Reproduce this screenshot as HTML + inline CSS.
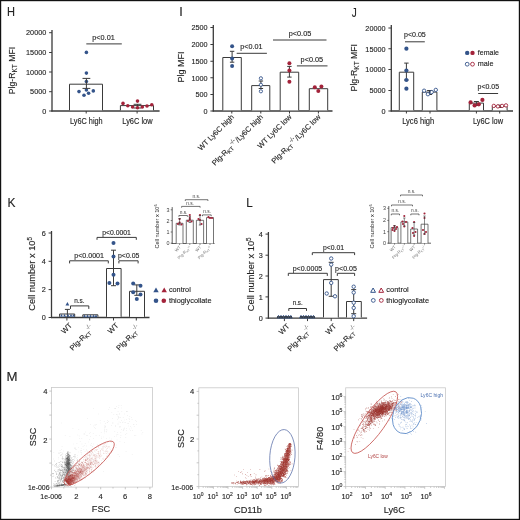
<!DOCTYPE html><html><head><meta charset="utf-8"><style>html,body{margin:0;padding:0;background:#fff;width:520px;height:520px;overflow:hidden}svg{display:block;will-change:transform}text[fill="#222"]{stroke:#222;stroke-width:0.22px;stroke-opacity:0.55}</style></head><body><svg width="520" height="520" viewBox="0 0 520 520" font-family='"Liberation Sans", sans-serif'>
<rect x="0" y="0" width="520" height="520" fill="#fff"/>
<text x="7" y="16.4" font-size="12.6" text-anchor="start" fill="#222" textLength="8" lengthAdjust="spacingAndGlyphs">H</text>
<line x1="52" y1="30" x2="52" y2="111.6" stroke="#3a3a3a" stroke-width="1.3"/>
<line x1="49.1" y1="32.7" x2="52" y2="32.7" stroke="#3a3a3a" stroke-width="1"/>
<text x="46.3" y="35.47" font-size="7.7" text-anchor="end" fill="#222" textLength="20.25" lengthAdjust="spacingAndGlyphs">20000</text>
<line x1="49.1" y1="52.5" x2="52" y2="52.5" stroke="#3a3a3a" stroke-width="1"/>
<text x="46.3" y="55.27" font-size="7.7" text-anchor="end" fill="#222" textLength="20.25" lengthAdjust="spacingAndGlyphs">15000</text>
<line x1="49.1" y1="72" x2="52" y2="72" stroke="#3a3a3a" stroke-width="1"/>
<text x="46.3" y="74.77" font-size="7.7" text-anchor="end" fill="#222" textLength="20.25" lengthAdjust="spacingAndGlyphs">10000</text>
<line x1="49.1" y1="91.7" x2="52" y2="91.7" stroke="#3a3a3a" stroke-width="1"/>
<text x="46.3" y="94.47" font-size="7.7" text-anchor="end" fill="#222" textLength="16.2" lengthAdjust="spacingAndGlyphs">5000</text>
<line x1="49.1" y1="111" x2="52" y2="111" stroke="#3a3a3a" stroke-width="1"/>
<text x="46.3" y="113.77" font-size="7.7" text-anchor="end" fill="#222" textLength="4.05" lengthAdjust="spacingAndGlyphs">0</text>
<line x1="51.4" y1="111" x2="159.6" y2="111" stroke="#3a3a3a" stroke-width="1.3"/>
<line x1="86.2" y1="111" x2="86.2" y2="113.5" stroke="#3a3a3a" stroke-width="1"/>
<line x1="137.1" y1="111" x2="137.1" y2="113.5" stroke="#3a3a3a" stroke-width="1"/>
<path d="M69.5 110.35V84.2H102.5V110.35" fill="#fff" stroke="#3a3a3a" stroke-width="1"/>
<path d="M120.4 110.35V105.6H153.5V110.35" fill="#fff" stroke="#3a3a3a" stroke-width="1"/>
<circle cx="86.4" cy="52.4" r="1.8" fill="#34548a"/>
<circle cx="86.4" cy="73.1" r="1.8" fill="#34548a"/>
<circle cx="86.4" cy="81.5" r="1.8" fill="#34548a"/>
<circle cx="79" cy="91.6" r="1.8" fill="#34548a"/>
<circle cx="84" cy="95.3" r="1.8" fill="#34548a"/>
<circle cx="88.6" cy="93.2" r="1.8" fill="#34548a"/>
<circle cx="93.3" cy="90.9" r="1.8" fill="#34548a"/>
<circle cx="86.4" cy="90" r="1.8" fill="#34548a"/>
<line x1="86.4" y1="78.4" x2="86.4" y2="88.4" stroke="#3a3a3a" stroke-width="1"/>
<line x1="82.5" y1="78.4" x2="90.3" y2="78.4" stroke="#3a3a3a" stroke-width="1"/>
<line x1="82.5" y1="88.4" x2="90.3" y2="88.4" stroke="#3a3a3a" stroke-width="1"/>
<line x1="137.5" y1="104.3" x2="137.5" y2="108" stroke="#3a3a3a" stroke-width="1"/>
<line x1="133.6" y1="104.3" x2="141.4" y2="104.3" stroke="#3a3a3a" stroke-width="1"/>
<line x1="133.6" y1="108" x2="141.4" y2="108" stroke="#3a3a3a" stroke-width="1"/>
<circle cx="123" cy="103.4" r="1.8" fill="#a3233a"/>
<circle cx="127.8" cy="105.8" r="1.8" fill="#a3233a"/>
<circle cx="132.6" cy="107" r="1.8" fill="#a3233a"/>
<circle cx="137.5" cy="101.1" r="1.8" fill="#a3233a"/>
<circle cx="137.5" cy="107.7" r="1.8" fill="#a3233a"/>
<circle cx="142.3" cy="107" r="1.8" fill="#a3233a"/>
<circle cx="147" cy="106" r="1.8" fill="#a3233a"/>
<circle cx="151.8" cy="104.7" r="1.8" fill="#a3233a"/>
<line x1="86.3" y1="43.9" x2="121.8" y2="43.9" stroke="#3a3a3a" stroke-width="1"/>
<text x="103.5" y="39.8" font-size="7.2" text-anchor="middle" fill="#222" textLength="22.5" lengthAdjust="spacingAndGlyphs">p&lt;0.01</text>
<text x="70" y="124.4" font-size="8.6" text-anchor="start" fill="#222" textLength="32.7" lengthAdjust="spacingAndGlyphs">Ly6C high</text>
<text x="122.3" y="124.4" font-size="8.6" text-anchor="start" fill="#222" textLength="30.2" lengthAdjust="spacingAndGlyphs">Ly6C low</text>
<text transform="translate(14.8 94.2) rotate(-90)" font-size="8.7" fill="#222">Plg-R<tspan font-size="6.5" dy="2.4">KT</tspan><tspan dy="-2.4"> MFI</tspan></text>
<text x="179.3" y="16.3" font-size="12.6" text-anchor="start" fill="#222">I</text>
<line x1="213.3" y1="25" x2="213.3" y2="111.6" stroke="#3a3a3a" stroke-width="1.3"/>
<line x1="210.4" y1="27.5" x2="213.3" y2="27.5" stroke="#3a3a3a" stroke-width="1"/>
<text x="207.6" y="30.27" font-size="7.7" text-anchor="end" fill="#222" textLength="16.2" lengthAdjust="spacingAndGlyphs">2500</text>
<line x1="210.4" y1="44.5" x2="213.3" y2="44.5" stroke="#3a3a3a" stroke-width="1"/>
<text x="207.6" y="47.27" font-size="7.7" text-anchor="end" fill="#222" textLength="16.2" lengthAdjust="spacingAndGlyphs">2000</text>
<line x1="210.4" y1="61.25" x2="213.3" y2="61.25" stroke="#3a3a3a" stroke-width="1"/>
<text x="207.6" y="64.02" font-size="7.7" text-anchor="end" fill="#222" textLength="16.2" lengthAdjust="spacingAndGlyphs">1500</text>
<line x1="210.4" y1="77.75" x2="213.3" y2="77.75" stroke="#3a3a3a" stroke-width="1"/>
<text x="207.6" y="80.52" font-size="7.7" text-anchor="end" fill="#222" textLength="16.2" lengthAdjust="spacingAndGlyphs">1000</text>
<line x1="210.4" y1="94.5" x2="213.3" y2="94.5" stroke="#3a3a3a" stroke-width="1"/>
<text x="207.6" y="97.27" font-size="7.7" text-anchor="end" fill="#222" textLength="12.15" lengthAdjust="spacingAndGlyphs">500</text>
<line x1="210.4" y1="111" x2="213.3" y2="111" stroke="#3a3a3a" stroke-width="1"/>
<text x="207.6" y="113.77" font-size="7.7" text-anchor="end" fill="#222" textLength="4.05" lengthAdjust="spacingAndGlyphs">0</text>
<line x1="212.7" y1="111" x2="332.5" y2="111" stroke="#3a3a3a" stroke-width="1.3"/>
<line x1="231.8" y1="111" x2="231.8" y2="113.5" stroke="#3a3a3a" stroke-width="1"/>
<line x1="260.8" y1="111" x2="260.8" y2="113.5" stroke="#3a3a3a" stroke-width="1"/>
<line x1="289.5" y1="111" x2="289.5" y2="113.5" stroke="#3a3a3a" stroke-width="1"/>
<line x1="318.4" y1="111" x2="318.4" y2="113.5" stroke="#3a3a3a" stroke-width="1"/>
<path d="M222.8 110.35V57.5H241.3V110.35" fill="#fff" stroke="#3a3a3a" stroke-width="1"/>
<path d="M251.7 110.35V85.6H269.8V110.35" fill="#fff" stroke="#3a3a3a" stroke-width="1"/>
<path d="M280.2 110.35V72.2H298.7V110.35" fill="#fff" stroke="#3a3a3a" stroke-width="1"/>
<path d="M309.3 110.35V88.7H327.7V110.35" fill="#fff" stroke="#3a3a3a" stroke-width="1"/>
<line x1="232.1" y1="51.3" x2="232.1" y2="62.2" stroke="#3a3a3a" stroke-width="1"/>
<line x1="229.9" y1="51.3" x2="234.3" y2="51.3" stroke="#3a3a3a" stroke-width="1"/>
<line x1="229.9" y1="62.2" x2="234.3" y2="62.2" stroke="#3a3a3a" stroke-width="1"/>
<line x1="260.9" y1="81" x2="260.9" y2="88.5" stroke="#3a3a3a" stroke-width="1"/>
<line x1="258.7" y1="81" x2="263.1" y2="81" stroke="#3a3a3a" stroke-width="1"/>
<line x1="258.7" y1="88.5" x2="263.1" y2="88.5" stroke="#3a3a3a" stroke-width="1"/>
<line x1="289.4" y1="66.4" x2="289.4" y2="77.1" stroke="#3a3a3a" stroke-width="1"/>
<line x1="287.2" y1="66.4" x2="291.6" y2="66.4" stroke="#3a3a3a" stroke-width="1"/>
<line x1="287.2" y1="77.1" x2="291.6" y2="77.1" stroke="#3a3a3a" stroke-width="1"/>
<circle cx="232.1" cy="46.3" r="2" fill="#34548a"/>
<circle cx="232.1" cy="58.5" r="2" fill="#34548a"/>
<circle cx="232.1" cy="66" r="2" fill="#34548a"/>
<circle cx="260.9" cy="78.3" r="1.6" fill="#fff" stroke="#34548a" stroke-width="0.9"/>
<circle cx="260.9" cy="84.8" r="1.6" fill="#fff" stroke="#34548a" stroke-width="0.9"/>
<circle cx="260.9" cy="91.3" r="1.6" fill="#fff" stroke="#34548a" stroke-width="0.9"/>
<circle cx="289.4" cy="63.3" r="2" fill="#a3233a"/>
<circle cx="289.4" cy="70.5" r="2" fill="#a3233a"/>
<circle cx="289.4" cy="81.7" r="2" fill="#a3233a"/>
<circle cx="314.8" cy="87.2" r="2" fill="#a3233a"/>
<circle cx="321.4" cy="86.5" r="2" fill="#a3233a"/>
<circle cx="318.3" cy="91" r="2" fill="#a3233a"/>
<line x1="236.7" y1="53.3" x2="266.9" y2="53.3" stroke="#3a3a3a" stroke-width="1"/>
<text x="251.4" y="49" font-size="7.2" text-anchor="middle" fill="#222" textLength="22.3" lengthAdjust="spacingAndGlyphs">p&lt;0.01</text>
<line x1="273" y1="40" x2="326.5" y2="40" stroke="#3a3a3a" stroke-width="1"/>
<text x="300" y="35.8" font-size="7.2" text-anchor="middle" fill="#222" textLength="22.6" lengthAdjust="spacingAndGlyphs">p&lt;0.05</text>
<line x1="296.9" y1="65.9" x2="327.5" y2="65.9" stroke="#3a3a3a" stroke-width="1"/>
<text x="311.9" y="61.8" font-size="7.2" text-anchor="middle" fill="#222" textLength="22.6" lengthAdjust="spacingAndGlyphs">p&lt;0.05</text>
<text transform="translate(183.5 82.5) rotate(-90)" font-size="9" fill="#222">Plg MFI</text>
<text transform="translate(234.5 117.5) rotate(-45)" font-size="7.55" fill="#222" text-anchor="end">WT Ly6C high</text>
<text transform="translate(263.5 117.5) rotate(-45)" font-size="7.55" fill="#222" text-anchor="end">Plg-R<tspan font-size="5.6" dy="1.6">KT</tspan><tspan font-size="5.8" dy="-4.8" dx="0.8" fill="#777">-/-</tspan><tspan dy="3.2" dx="0.6">/Ly6C high</tspan></text>
<text transform="translate(292 117.5) rotate(-45)" font-size="7.55" fill="#222" text-anchor="end">WT Ly6C low</text>
<text transform="translate(321 117.5) rotate(-45)" font-size="7.55" fill="#222" text-anchor="end">Plg-R<tspan font-size="5.6" dy="1.6">KT</tspan><tspan font-size="5.8" dy="-4.8" dx="0.8" fill="#777">-/-</tspan><tspan dy="3.2" dx="0.6">/Ly6C low</tspan></text>
<text x="351.7" y="16.8" font-size="12.6" text-anchor="start" fill="#222" textLength="5" lengthAdjust="spacingAndGlyphs">J</text>
<line x1="391.3" y1="25" x2="391.3" y2="111.6" stroke="#3a3a3a" stroke-width="1.3"/>
<line x1="388.4" y1="28" x2="391.3" y2="28" stroke="#3a3a3a" stroke-width="1"/>
<text x="385.6" y="30.77" font-size="7.7" text-anchor="end" fill="#222" textLength="20.25" lengthAdjust="spacingAndGlyphs">20000</text>
<line x1="388.4" y1="48.75" x2="391.3" y2="48.75" stroke="#3a3a3a" stroke-width="1"/>
<text x="385.6" y="51.52" font-size="7.7" text-anchor="end" fill="#222" textLength="20.25" lengthAdjust="spacingAndGlyphs">15000</text>
<line x1="388.4" y1="69.5" x2="391.3" y2="69.5" stroke="#3a3a3a" stroke-width="1"/>
<text x="385.6" y="72.27" font-size="7.7" text-anchor="end" fill="#222" textLength="20.25" lengthAdjust="spacingAndGlyphs">10000</text>
<line x1="388.4" y1="90.5" x2="391.3" y2="90.5" stroke="#3a3a3a" stroke-width="1"/>
<text x="385.6" y="93.27" font-size="7.7" text-anchor="end" fill="#222" textLength="16.2" lengthAdjust="spacingAndGlyphs">5000</text>
<line x1="388.4" y1="111" x2="391.3" y2="111" stroke="#3a3a3a" stroke-width="1"/>
<text x="385.6" y="113.77" font-size="7.7" text-anchor="end" fill="#222" textLength="4.05" lengthAdjust="spacingAndGlyphs">0</text>
<line x1="390.7" y1="111" x2="513" y2="111" stroke="#3a3a3a" stroke-width="1.3"/>
<line x1="406.4" y1="111" x2="406.4" y2="113.5" stroke="#3a3a3a" stroke-width="1"/>
<line x1="430" y1="111" x2="430" y2="113.5" stroke="#3a3a3a" stroke-width="1"/>
<line x1="476.4" y1="111" x2="476.4" y2="113.5" stroke="#3a3a3a" stroke-width="1"/>
<line x1="499.7" y1="111" x2="499.7" y2="113.5" stroke="#3a3a3a" stroke-width="1"/>
<path d="M399.3 110.35V72.2H413.7V110.35" fill="#fff" stroke="#3a3a3a" stroke-width="1"/>
<path d="M422.3 110.35V92.1H436.9V110.35" fill="#fff" stroke="#3a3a3a" stroke-width="1"/>
<path d="M469.3 110.35V103.1H483.5V110.35" fill="#fff" stroke="#3a3a3a" stroke-width="1"/>
<path d="M492.3 110.35V106.4H507.1V110.35" fill="#fff" stroke="#3a3a3a" stroke-width="1"/>
<line x1="406.4" y1="63.1" x2="406.4" y2="80" stroke="#3a3a3a" stroke-width="1"/>
<line x1="404.2" y1="63.1" x2="408.6" y2="63.1" stroke="#3a3a3a" stroke-width="1"/>
<line x1="404.2" y1="80" x2="408.6" y2="80" stroke="#3a3a3a" stroke-width="1"/>
<line x1="429.6" y1="90.5" x2="429.6" y2="94.5" stroke="#3a3a3a" stroke-width="1"/>
<line x1="427.1" y1="90.5" x2="432.1" y2="90.5" stroke="#3a3a3a" stroke-width="1"/>
<line x1="427.1" y1="94.5" x2="432.1" y2="94.5" stroke="#3a3a3a" stroke-width="1"/>
<line x1="476.4" y1="101.5" x2="476.4" y2="105.5" stroke="#3a3a3a" stroke-width="1"/>
<line x1="473.9" y1="101.5" x2="478.9" y2="101.5" stroke="#3a3a3a" stroke-width="1"/>
<line x1="473.9" y1="105.5" x2="478.9" y2="105.5" stroke="#3a3a3a" stroke-width="1"/>
<line x1="499.7" y1="105.2" x2="499.7" y2="107.5" stroke="#3a3a3a" stroke-width="1"/>
<line x1="497.2" y1="105.2" x2="502.2" y2="105.2" stroke="#3a3a3a" stroke-width="1"/>
<line x1="497.2" y1="107.5" x2="502.2" y2="107.5" stroke="#3a3a3a" stroke-width="1"/>
<circle cx="406.4" cy="48.7" r="2.1" fill="#34548a"/>
<circle cx="406.4" cy="70.5" r="2.1" fill="#34548a"/>
<circle cx="406.4" cy="80" r="2.1" fill="#34548a"/>
<circle cx="406.4" cy="88.7" r="2.1" fill="#34548a"/>
<circle cx="424.1" cy="90.7" r="1.7" fill="#fff" stroke="#34548a" stroke-width="0.9"/>
<circle cx="427.9" cy="94.2" r="1.7" fill="#fff" stroke="#34548a" stroke-width="0.9"/>
<circle cx="431.7" cy="92.1" r="1.7" fill="#fff" stroke="#34548a" stroke-width="0.9"/>
<circle cx="435.8" cy="89.9" r="1.7" fill="#fff" stroke="#34548a" stroke-width="0.9"/>
<circle cx="470.6" cy="102.4" r="2.1" fill="#a3233a"/>
<circle cx="474.6" cy="105.4" r="2.1" fill="#a3233a"/>
<circle cx="478.8" cy="104.3" r="2.1" fill="#a3233a"/>
<circle cx="482.4" cy="99.9" r="2.1" fill="#a3233a"/>
<circle cx="493.8" cy="105.9" r="1.7" fill="#fff" stroke="#a3233a" stroke-width="0.9"/>
<circle cx="497.9" cy="106.4" r="1.7" fill="#fff" stroke="#a3233a" stroke-width="0.9"/>
<circle cx="502.1" cy="105.9" r="1.7" fill="#fff" stroke="#a3233a" stroke-width="0.9"/>
<circle cx="506" cy="105.4" r="1.7" fill="#fff" stroke="#a3233a" stroke-width="0.9"/>
<line x1="405" y1="41.8" x2="424.8" y2="41.8" stroke="#3a3a3a" stroke-width="1"/>
<text x="414.9" y="37.1" font-size="7.2" text-anchor="middle" fill="#222" textLength="21.8" lengthAdjust="spacingAndGlyphs">p&lt;0.05</text>
<line x1="478.2" y1="93.5" x2="498.1" y2="93.5" stroke="#3a3a3a" stroke-width="1"/>
<text x="488.3" y="89" font-size="7.2" text-anchor="middle" fill="#222" textLength="21.6" lengthAdjust="spacingAndGlyphs">p&lt;0.05</text>
<text x="418.2" y="124.4" font-size="8.6" text-anchor="middle" fill="#222" textLength="32" lengthAdjust="spacingAndGlyphs">Lyc6 high</text>
<text x="488" y="124.4" font-size="8.6" text-anchor="middle" fill="#222" textLength="30.2" lengthAdjust="spacingAndGlyphs">Ly6C low</text>
<text transform="translate(357 91.4) rotate(-90)" font-size="8.7" fill="#222">Plg-R<tspan font-size="6.5" dy="2.4">KT</tspan><tspan dy="-2.4"> MFI</tspan></text>
<circle cx="467.2" cy="52.9" r="2.2" fill="#34548a"/>
<circle cx="472.5" cy="52.9" r="2.2" fill="#a3233a"/>
<text x="477.8" y="54.9" font-size="7.8" text-anchor="start" fill="#222" textLength="21.1" lengthAdjust="spacingAndGlyphs">female</text>
<circle cx="467.2" cy="64.2" r="1.9" fill="#fff" stroke="#34548a" stroke-width="0.9"/>
<circle cx="472.5" cy="64.2" r="1.9" fill="#fff" stroke="#a3233a" stroke-width="0.9"/>
<text x="477.8" y="66.3" font-size="7.8" text-anchor="start" fill="#222" textLength="15.7" lengthAdjust="spacingAndGlyphs">male</text>
<text x="7.6" y="206.8" font-size="12.8" text-anchor="start" fill="#222" textLength="8" lengthAdjust="spacingAndGlyphs">K</text>
<line x1="51.5" y1="231" x2="51.5" y2="318.1" stroke="#3a3a3a" stroke-width="1.3"/>
<line x1="48.6" y1="233" x2="51.5" y2="233" stroke="#3a3a3a" stroke-width="1"/>
<text x="45.8" y="235.77" font-size="7.7" text-anchor="end" fill="#222" textLength="4.05" lengthAdjust="spacingAndGlyphs">6</text>
<line x1="48.6" y1="261.3" x2="51.5" y2="261.3" stroke="#3a3a3a" stroke-width="1"/>
<text x="45.8" y="264.07" font-size="7.7" text-anchor="end" fill="#222" textLength="4.05" lengthAdjust="spacingAndGlyphs">4</text>
<line x1="48.6" y1="289.6" x2="51.5" y2="289.6" stroke="#3a3a3a" stroke-width="1"/>
<text x="45.8" y="292.37" font-size="7.7" text-anchor="end" fill="#222" textLength="4.05" lengthAdjust="spacingAndGlyphs">2</text>
<line x1="48.6" y1="317.5" x2="51.5" y2="317.5" stroke="#3a3a3a" stroke-width="1"/>
<text x="45.8" y="320.27" font-size="7.7" text-anchor="end" fill="#222" textLength="4.05" lengthAdjust="spacingAndGlyphs">0</text>
<line x1="50.9" y1="317.5" x2="149.5" y2="317.5" stroke="#3a3a3a" stroke-width="1.3"/>
<line x1="66.9" y1="317.5" x2="66.9" y2="320.5" stroke="#3a3a3a" stroke-width="1"/>
<line x1="89.7" y1="317.5" x2="89.7" y2="320.5" stroke="#3a3a3a" stroke-width="1"/>
<line x1="113.5" y1="317.5" x2="113.5" y2="320.5" stroke="#3a3a3a" stroke-width="1"/>
<line x1="136.3" y1="317.5" x2="136.3" y2="320.5" stroke="#3a3a3a" stroke-width="1"/>
<path d="M59.6 316.85V314H74.7V316.85" fill="#fff" stroke="#3a3a3a" stroke-width="1"/>
<path d="M82.8 316.85V314.8H97.9V316.85" fill="#fff" stroke="#3a3a3a" stroke-width="1"/>
<path d="M106.5 316.85V268.5H121.1V316.85" fill="#fff" stroke="#3a3a3a" stroke-width="1"/>
<path d="M129.5 316.85V291.3H144.5V316.85" fill="#fff" stroke="#3a3a3a" stroke-width="1"/>
<line x1="67.4" y1="309.4" x2="67.4" y2="317" stroke="#3a3a3a" stroke-width="1"/>
<line x1="64.9" y1="309.4" x2="69.9" y2="309.4" stroke="#3a3a3a" stroke-width="1"/>
<line x1="64.9" y1="317" x2="69.9" y2="317" stroke="#3a3a3a" stroke-width="1"/>
<line x1="113.5" y1="250.2" x2="113.5" y2="285.7" stroke="#3a3a3a" stroke-width="1"/>
<line x1="111" y1="250.2" x2="116" y2="250.2" stroke="#3a3a3a" stroke-width="1"/>
<line x1="111" y1="285.7" x2="116" y2="285.7" stroke="#3a3a3a" stroke-width="1"/>
<line x1="136.8" y1="284.9" x2="136.8" y2="295.3" stroke="#3a3a3a" stroke-width="1"/>
<line x1="134.3" y1="284.9" x2="139.3" y2="284.9" stroke="#3a3a3a" stroke-width="1"/>
<line x1="134.3" y1="295.3" x2="139.3" y2="295.3" stroke="#3a3a3a" stroke-width="1"/>
<circle cx="113.5" cy="242.9" r="2" fill="#34548a"/>
<circle cx="113.5" cy="256.4" r="2" fill="#34548a"/>
<circle cx="113.5" cy="274.7" r="2" fill="#34548a"/>
<circle cx="109.4" cy="283.1" r="2" fill="#34548a"/>
<circle cx="117.5" cy="283.5" r="2" fill="#34548a"/>
<circle cx="133.2" cy="283.5" r="2" fill="#34548a"/>
<circle cx="140.5" cy="285.8" r="2" fill="#34548a"/>
<circle cx="133.2" cy="292.2" r="2" fill="#34548a"/>
<circle cx="140.5" cy="294.4" r="2" fill="#34548a"/>
<circle cx="136.8" cy="299" r="2" fill="#34548a"/>
<polygon points="67.4,302.1 69.3,305.52 65.5,305.52" fill="#34548a"/>
<polygon points="61.5,314 63,316.7 60,316.7" fill="#34548a"/>
<polygon points="64.5,314 66,316.7 63,316.7" fill="#34548a"/>
<polygon points="68,314 69.5,316.7 66.5,316.7" fill="#34548a"/>
<polygon points="71,314 72.5,316.7 69.5,316.7" fill="#34548a"/>
<polygon points="73.5,314 75,316.7 72,316.7" fill="#34548a"/>
<polygon points="84.5,314.5 86,317.2 83,317.2" fill="#34548a"/>
<polygon points="87.5,314.5 89,317.2 86,317.2" fill="#34548a"/>
<polygon points="90.5,314.5 92,317.2 89,317.2" fill="#34548a"/>
<polygon points="93.5,314.5 95,317.2 92,317.2" fill="#34548a"/>
<polygon points="96,314.5 97.5,317.2 94.5,317.2" fill="#34548a"/>
<path d="M97 239.8V237.4H136.3V239.8" fill="none" stroke="#3a3a3a" stroke-width="1"/>
<text x="116.5" y="234.5" font-size="7.4" text-anchor="middle" fill="#222" textLength="28.7" lengthAdjust="spacingAndGlyphs">p&lt;0.0001</text>
<path d="M69.6 263.4V260.8H108.3V263.4" fill="none" stroke="#3a3a3a" stroke-width="1"/>
<text x="89.1" y="257.9" font-size="7.4" text-anchor="middle" fill="#222" textLength="29.8" lengthAdjust="spacingAndGlyphs">p&lt;0.0001</text>
<path d="M118.9 263.4V260.8H138.1V263.4" fill="none" stroke="#3a3a3a" stroke-width="1"/>
<text x="128.7" y="257.9" font-size="7.4" text-anchor="middle" fill="#222" textLength="21.4" lengthAdjust="spacingAndGlyphs">p&lt;0.05</text>
<path d="M70.5 308.9V305.9H88.8V308.9" fill="none" stroke="#3a3a3a" stroke-width="1"/>
<text x="79.4" y="303.2" font-size="7.4" text-anchor="middle" fill="#222" textLength="10.4" lengthAdjust="spacingAndGlyphs">n.s.</text>
<text transform="translate(35.2 310.8) rotate(-90)" font-size="9.3" fill="#222">Cell number x 10<tspan font-size="6.3" dy="-3.5">5</tspan></text>
<text transform="translate(72.5 326) rotate(-45)" font-size="7.6" fill="#222" text-anchor="end">WT</text>
<text transform="translate(119.1 326) rotate(-45)" font-size="7.6" fill="#222" text-anchor="end">WT</text>
<text transform="translate(89.7 328.3) rotate(-45)" font-size="6.2" fill="#666" text-anchor="middle">-/-</text>
<text transform="translate(91 332.8) rotate(-45)" font-size="7.5" fill="#222" text-anchor="end">Plg-R<tspan font-size="5.5" dy="1.5">KT</tspan></text>
<text transform="translate(136.3 328.3) rotate(-45)" font-size="6.2" fill="#666" text-anchor="middle">-/-</text>
<text transform="translate(137.6 332.8) rotate(-45)" font-size="7.5" fill="#222" text-anchor="end">Plg-R<tspan font-size="5.5" dy="1.5">KT</tspan></text>
<polygon points="156,287.5 158.7,292.36 153.3,292.36" fill="#34548a"/>
<polygon points="164.2,287.5 166.9,292.36 161.5,292.36" fill="#a3233a"/>
<text x="168.9" y="292" font-size="8" text-anchor="start" fill="#222" textLength="21.9" lengthAdjust="spacingAndGlyphs">control</text>
<circle cx="156" cy="300.8" r="2.3" fill="#34548a"/>
<circle cx="163.8" cy="300.8" r="2.3" fill="#a3233a"/>
<text x="168.9" y="303" font-size="8" text-anchor="start" fill="#222" textLength="42.6" lengthAdjust="spacingAndGlyphs">thioglycollate</text>
<line x1="170.7" y1="209.8" x2="172.2" y2="209.8" stroke="#3a3a3a" stroke-width="0.7"/>
<text x="167.9" y="211.7" font-size="5.4" text-anchor="middle" fill="#3a3a3a">3</text>
<line x1="170.7" y1="220.6" x2="172.2" y2="220.6" stroke="#3a3a3a" stroke-width="0.7"/>
<text x="167.9" y="222.5" font-size="5.4" text-anchor="middle" fill="#3a3a3a">2</text>
<line x1="170.7" y1="232" x2="172.2" y2="232" stroke="#3a3a3a" stroke-width="0.7"/>
<text x="167.9" y="233.9" font-size="5.4" text-anchor="middle" fill="#3a3a3a">1</text>
<line x1="170.7" y1="243.2" x2="172.2" y2="243.2" stroke="#3a3a3a" stroke-width="0.7"/>
<text x="167.9" y="245.1" font-size="5.4" text-anchor="middle" fill="#3a3a3a">0</text>
<line x1="172.2" y1="207.1" x2="172.2" y2="243.85" stroke="#3a3a3a" stroke-width="0.8"/>
<line x1="171.85" y1="243.5" x2="214.5" y2="243.5" stroke="#3a3a3a" stroke-width="0.8"/>
<path d="M176.2 243.5V223.3H183V243.5" fill="#fff" stroke="#3a3a3a" stroke-width="0.7"/>
<line x1="179.6" y1="243.5" x2="179.6" y2="245" stroke="#3a3a3a" stroke-width="0.6"/>
<path d="M186.3 243.5V220.2H193.3V243.5" fill="#fff" stroke="#3a3a3a" stroke-width="0.7"/>
<line x1="189.8" y1="243.5" x2="189.8" y2="245" stroke="#3a3a3a" stroke-width="0.6"/>
<path d="M196.4 243.5V220.3H203.6V243.5" fill="#fff" stroke="#3a3a3a" stroke-width="0.7"/>
<line x1="200" y1="243.5" x2="200" y2="245" stroke="#3a3a3a" stroke-width="0.6"/>
<path d="M206.5 243.5V217.6H213.5V243.5" fill="#fff" stroke="#3a3a3a" stroke-width="0.7"/>
<line x1="210" y1="243.5" x2="210" y2="245" stroke="#3a3a3a" stroke-width="0.6"/>
<circle cx="179.6" cy="222.5" r="1.1" fill="#a3233a"/>
<circle cx="178" cy="224" r="1.1" fill="#a3233a"/>
<circle cx="181.5" cy="224.5" r="1.1" fill="#a3233a"/>
<circle cx="179.6" cy="219" r="1.1" fill="#a3233a"/>
<line x1="179.6" y1="218.5" x2="179.6" y2="225" stroke="#3a3a3a" stroke-width="0.6"/>
<line x1="178.4" y1="218.5" x2="180.8" y2="218.5" stroke="#3a3a3a" stroke-width="0.6"/>
<line x1="178.4" y1="225" x2="180.8" y2="225" stroke="#3a3a3a" stroke-width="0.6"/>
<circle cx="189.8" cy="219.5" r="1.1" fill="#a3233a"/>
<circle cx="188" cy="221" r="1.1" fill="#a3233a"/>
<circle cx="191.5" cy="221.5" r="1.1" fill="#a3233a"/>
<circle cx="189.8" cy="215" r="1.1" fill="#a3233a"/>
<circle cx="189.8" cy="218" r="1.1" fill="#a3233a"/>
<line x1="189.8" y1="216.5" x2="189.8" y2="222.5" stroke="#3a3a3a" stroke-width="0.6"/>
<line x1="188.6" y1="216.5" x2="191" y2="216.5" stroke="#3a3a3a" stroke-width="0.6"/>
<line x1="188.6" y1="222.5" x2="191" y2="222.5" stroke="#3a3a3a" stroke-width="0.6"/>
<circle cx="200" cy="215" r="1.1" fill="#a3233a"/>
<circle cx="198.5" cy="219" r="1.1" fill="#a3233a"/>
<circle cx="201.5" cy="224" r="1.1" fill="#a3233a"/>
<circle cx="200" cy="220" r="1.1" fill="#a3233a"/>
<line x1="200" y1="215.5" x2="200" y2="225" stroke="#3a3a3a" stroke-width="0.6"/>
<line x1="198.8" y1="215.5" x2="201.2" y2="215.5" stroke="#3a3a3a" stroke-width="0.6"/>
<line x1="198.8" y1="225" x2="201.2" y2="225" stroke="#3a3a3a" stroke-width="0.6"/>
<circle cx="208.5" cy="217.2" r="1.1" fill="#a3233a"/>
<circle cx="210" cy="218" r="1.1" fill="#a3233a"/>
<circle cx="212" cy="218" r="1.1" fill="#a3233a"/>
<path d="M185.3 201V199.7H207.9V201" fill="none" stroke="#3a3a3a" stroke-width="0.7"/>
<text x="196.4" y="197.5" font-size="4.8" text-anchor="middle" fill="#444">n.s.</text>
<path d="M181.6 207.7V206.4H200.1V207.7" fill="none" stroke="#3a3a3a" stroke-width="0.7"/>
<text x="190.1" y="204.9" font-size="4.8" text-anchor="middle" fill="#444">n.s.</text>
<path d="M178.9 216.8V215.5H187.4V216.8" fill="none" stroke="#3a3a3a" stroke-width="0.7"/>
<text x="183.6" y="213.5" font-size="4.8" text-anchor="middle" fill="#444">n.s.</text>
<path d="M202.5 216.2V214.9H211.2V216.2" fill="none" stroke="#3a3a3a" stroke-width="0.7"/>
<text x="207.2" y="213.1" font-size="4.8" text-anchor="middle" fill="#444">n.s.</text>
<text transform="translate(159 248.5) rotate(-90)" font-size="5.6" fill="#2a2a2a" textLength="44" lengthAdjust="spacingAndGlyphs">Cell number x 10<tspan font-size="3.8" dy="-2">6</tspan></text>
<text transform="translate(181.1 247.5) rotate(-45)" font-size="4.2" fill="#777" text-anchor="end">WT</text>
<text transform="translate(191.3 247.5) rotate(-45)" font-size="4.2" fill="#777" text-anchor="end">Plg-R<tspan font-size="3" dy="1">KT</tspan><tspan font-size="3" dy="-2.5">-/-</tspan></text>
<text transform="translate(201.5 247.5) rotate(-45)" font-size="4.2" fill="#777" text-anchor="end">WT</text>
<text transform="translate(211.5 247.5) rotate(-45)" font-size="4.2" fill="#777" text-anchor="end">Plg-R<tspan font-size="3" dy="1">KT</tspan><tspan font-size="3" dy="-2.5">-/-</tspan></text>
<text x="246.2" y="207.2" font-size="12.8" text-anchor="start" fill="#222" textLength="6.5" lengthAdjust="spacingAndGlyphs">L</text>
<line x1="268.4" y1="232" x2="268.4" y2="318.7" stroke="#3a3a3a" stroke-width="1.3"/>
<line x1="265.5" y1="234.1" x2="268.4" y2="234.1" stroke="#3a3a3a" stroke-width="1"/>
<text x="262.7" y="236.87" font-size="7.7" text-anchor="end" fill="#222" textLength="4.05" lengthAdjust="spacingAndGlyphs">4</text>
<line x1="265.5" y1="255.2" x2="268.4" y2="255.2" stroke="#3a3a3a" stroke-width="1"/>
<text x="262.7" y="257.97" font-size="7.7" text-anchor="end" fill="#222" textLength="4.05" lengthAdjust="spacingAndGlyphs">3</text>
<line x1="265.5" y1="276" x2="268.4" y2="276" stroke="#3a3a3a" stroke-width="1"/>
<text x="262.7" y="278.77" font-size="7.7" text-anchor="end" fill="#222" textLength="4.05" lengthAdjust="spacingAndGlyphs">2</text>
<line x1="265.5" y1="296.9" x2="268.4" y2="296.9" stroke="#3a3a3a" stroke-width="1"/>
<text x="262.7" y="299.67" font-size="7.7" text-anchor="end" fill="#222" textLength="4.05" lengthAdjust="spacingAndGlyphs">1</text>
<line x1="265.5" y1="318.1" x2="268.4" y2="318.1" stroke="#3a3a3a" stroke-width="1"/>
<text x="262.7" y="320.87" font-size="7.7" text-anchor="end" fill="#222" textLength="4.05" lengthAdjust="spacingAndGlyphs">0</text>
<line x1="267.8" y1="318.1" x2="367.1" y2="318.1" stroke="#3a3a3a" stroke-width="1.3"/>
<line x1="284.4" y1="318.1" x2="284.4" y2="321.1" stroke="#3a3a3a" stroke-width="1"/>
<line x1="307.5" y1="318.1" x2="307.5" y2="321.1" stroke="#3a3a3a" stroke-width="1"/>
<line x1="331.2" y1="318.1" x2="331.2" y2="321.1" stroke="#3a3a3a" stroke-width="1"/>
<line x1="353.7" y1="318.1" x2="353.7" y2="321.1" stroke="#3a3a3a" stroke-width="1"/>
<path d="M323.5 317.45V279.6H338.3V317.45" fill="#fff" stroke="#3a3a3a" stroke-width="1"/>
<path d="M346.5 317.45V301.5H361.3V317.45" fill="#fff" stroke="#3a3a3a" stroke-width="1"/>
<line x1="331.2" y1="262.3" x2="331.2" y2="296.3" stroke="#3a3a3a" stroke-width="1"/>
<line x1="328.7" y1="262.3" x2="333.7" y2="262.3" stroke="#3a3a3a" stroke-width="1"/>
<line x1="328.7" y1="296.3" x2="333.7" y2="296.3" stroke="#3a3a3a" stroke-width="1"/>
<line x1="353.7" y1="289.6" x2="353.7" y2="313.7" stroke="#3a3a3a" stroke-width="1"/>
<line x1="351.2" y1="289.6" x2="356.2" y2="289.6" stroke="#3a3a3a" stroke-width="1"/>
<line x1="351.2" y1="313.7" x2="356.2" y2="313.7" stroke="#3a3a3a" stroke-width="1"/>
<circle cx="331.2" cy="258.5" r="1.7" fill="#fff" stroke="#34548a" stroke-width="0.9"/>
<circle cx="331.2" cy="264.6" r="1.7" fill="#fff" stroke="#34548a" stroke-width="0.9"/>
<circle cx="331.2" cy="282.9" r="1.7" fill="#fff" stroke="#34548a" stroke-width="0.9"/>
<circle cx="326.7" cy="293.5" r="1.7" fill="#fff" stroke="#34548a" stroke-width="0.9"/>
<circle cx="335" cy="296.3" r="1.7" fill="#fff" stroke="#34548a" stroke-width="0.9"/>
<circle cx="353.7" cy="286.7" r="1.7" fill="#fff" stroke="#34548a" stroke-width="0.9"/>
<circle cx="353.7" cy="292.5" r="1.7" fill="#fff" stroke="#34548a" stroke-width="0.9"/>
<circle cx="353.7" cy="302.7" r="1.7" fill="#fff" stroke="#34548a" stroke-width="0.9"/>
<circle cx="353.7" cy="307.9" r="1.7" fill="#fff" stroke="#34548a" stroke-width="0.9"/>
<circle cx="353.7" cy="316.2" r="1.7" fill="#fff" stroke="#34548a" stroke-width="0.9"/>
<polygon points="278.5,315.4 279.9,317.92 277.1,317.92" fill="#fff" stroke="#34548a" stroke-width="1"/>
<polygon points="281,315.4 282.4,317.92 279.6,317.92" fill="#fff" stroke="#34548a" stroke-width="1"/>
<polygon points="283.5,315.4 284.9,317.92 282.1,317.92" fill="#fff" stroke="#34548a" stroke-width="1"/>
<polygon points="286,315.4 287.4,317.92 284.6,317.92" fill="#fff" stroke="#34548a" stroke-width="1"/>
<polygon points="288.5,315.4 289.9,317.92 287.1,317.92" fill="#fff" stroke="#34548a" stroke-width="1"/>
<polygon points="290.8,315.4 292.2,317.92 289.4,317.92" fill="#fff" stroke="#34548a" stroke-width="1"/>
<polygon points="301,315.4 302.4,317.92 299.6,317.92" fill="#fff" stroke="#34548a" stroke-width="1"/>
<polygon points="303.5,315.4 304.9,317.92 302.1,317.92" fill="#fff" stroke="#34548a" stroke-width="1"/>
<polygon points="306,315.4 307.4,317.92 304.6,317.92" fill="#fff" stroke="#34548a" stroke-width="1"/>
<polygon points="308.5,315.4 309.9,317.92 307.1,317.92" fill="#fff" stroke="#34548a" stroke-width="1"/>
<polygon points="311,315.4 312.4,317.92 309.6,317.92" fill="#fff" stroke="#34548a" stroke-width="1"/>
<polygon points="313.5,315.4 314.9,317.92 312.1,317.92" fill="#fff" stroke="#34548a" stroke-width="1"/>
<line x1="277" y1="317" x2="292" y2="317" stroke="#222" stroke-width="1.2"/>
<line x1="300" y1="317" x2="315" y2="317" stroke="#222" stroke-width="1.2"/>
<path d="M312.3 255.1V252.7H354.6V255.1" fill="none" stroke="#3a3a3a" stroke-width="1"/>
<text x="333.5" y="249.6" font-size="7.4" text-anchor="middle" fill="#222" textLength="21.1" lengthAdjust="spacingAndGlyphs">p&lt;0.01</text>
<path d="M288.3 275.9V273.3H327.3V275.9" fill="none" stroke="#3a3a3a" stroke-width="1"/>
<text x="307.5" y="270.8" font-size="7.4" text-anchor="middle" fill="#222" textLength="29.6" lengthAdjust="spacingAndGlyphs">p&lt;0.0005</text>
<path d="M337.3 275.9V273.3H354.6V275.9" fill="none" stroke="#3a3a3a" stroke-width="1"/>
<text x="346" y="270.8" font-size="7.4" text-anchor="middle" fill="#222" textLength="21.9" lengthAdjust="spacingAndGlyphs">p&lt;0.05</text>
<path d="M288.8 310.9V308.5H306.5V310.9" fill="none" stroke="#3a3a3a" stroke-width="1"/>
<text x="297.7" y="305.4" font-size="7.4" text-anchor="middle" fill="#222" textLength="10" lengthAdjust="spacingAndGlyphs">n.s.</text>
<text transform="translate(254 311.2) rotate(-90)" font-size="9.3" fill="#222">Cell number x 10<tspan font-size="6.3" dy="-3.5">5</tspan></text>
<text transform="translate(290 326.6) rotate(-45)" font-size="7.6" fill="#222" text-anchor="end">WT</text>
<text transform="translate(336.8 326.6) rotate(-45)" font-size="7.6" fill="#222" text-anchor="end">WT</text>
<text transform="translate(307.5 328.9) rotate(-45)" font-size="6.2" fill="#666" text-anchor="middle">-/-</text>
<text transform="translate(308.8 333.4) rotate(-45)" font-size="7.5" fill="#222" text-anchor="end">Plg-R<tspan font-size="5.5" dy="1.5">KT</tspan></text>
<text transform="translate(353.7 328.9) rotate(-45)" font-size="6.2" fill="#666" text-anchor="middle">-/-</text>
<text transform="translate(355 333.4) rotate(-45)" font-size="7.5" fill="#222" text-anchor="end">Plg-R<tspan font-size="5.5" dy="1.5">KT</tspan></text>
<polygon points="373.1,288 375.5,292.32 370.7,292.32" fill="#fff" stroke="#34548a" stroke-width="1"/>
<polygon points="381.2,288 383.6,292.32 378.8,292.32" fill="#fff" stroke="#a3233a" stroke-width="1"/>
<text x="386.3" y="292.1" font-size="8" text-anchor="start" fill="#222" textLength="22.4" lengthAdjust="spacingAndGlyphs">control</text>
<circle cx="373.3" cy="300.4" r="1.9" fill="#fff" stroke="#34548a" stroke-width="0.9"/>
<circle cx="381.3" cy="300.4" r="1.9" fill="#fff" stroke="#a3233a" stroke-width="0.9"/>
<text x="386.3" y="302.7" font-size="8" text-anchor="start" fill="#222" textLength="42.7" lengthAdjust="spacingAndGlyphs">thioglycollate</text>
<line x1="387.3" y1="208.3" x2="388.8" y2="208.3" stroke="#3a3a3a" stroke-width="0.7"/>
<text x="384.5" y="210.2" font-size="5.4" text-anchor="middle" fill="#3a3a3a">3</text>
<line x1="387.3" y1="220.4" x2="388.8" y2="220.4" stroke="#3a3a3a" stroke-width="0.7"/>
<text x="384.5" y="222.3" font-size="5.4" text-anchor="middle" fill="#3a3a3a">2</text>
<line x1="387.3" y1="231.7" x2="388.8" y2="231.7" stroke="#3a3a3a" stroke-width="0.7"/>
<text x="384.5" y="233.6" font-size="5.4" text-anchor="middle" fill="#3a3a3a">1</text>
<line x1="387.3" y1="243.2" x2="388.8" y2="243.2" stroke="#3a3a3a" stroke-width="0.7"/>
<text x="384.5" y="245.1" font-size="5.4" text-anchor="middle" fill="#3a3a3a">0</text>
<line x1="388.8" y1="206" x2="388.8" y2="243.55" stroke="#3a3a3a" stroke-width="0.8"/>
<line x1="388.45" y1="243.2" x2="431" y2="243.2" stroke="#3a3a3a" stroke-width="0.8"/>
<path d="M391.1 243.2V227.6H398V243.2" fill="#fff" stroke="#3a3a3a" stroke-width="0.7"/>
<line x1="394.55" y1="243.2" x2="394.55" y2="244.7" stroke="#3a3a3a" stroke-width="0.6"/>
<path d="M400.9 243.2V221.9H407.8V243.2" fill="#fff" stroke="#3a3a3a" stroke-width="0.7"/>
<line x1="404.35" y1="243.2" x2="404.35" y2="244.7" stroke="#3a3a3a" stroke-width="0.6"/>
<path d="M410.7 243.2V229H417.6V243.2" fill="#fff" stroke="#3a3a3a" stroke-width="0.7"/>
<line x1="414.15" y1="243.2" x2="414.15" y2="244.7" stroke="#3a3a3a" stroke-width="0.6"/>
<path d="M421.1 243.2V224.2H428V243.2" fill="#fff" stroke="#3a3a3a" stroke-width="0.7"/>
<line x1="424.55" y1="243.2" x2="424.55" y2="244.7" stroke="#3a3a3a" stroke-width="0.6"/>
<circle cx="394.5" cy="226" r="1.05" fill="#a3233a"/>
<circle cx="393" cy="228" r="1.05" fill="#a3233a"/>
<circle cx="396" cy="229" r="1.05" fill="#a3233a"/>
<circle cx="394.5" cy="231" r="1.05" fill="#a3233a"/>
<circle cx="392.5" cy="230" r="1.05" fill="#a3233a"/>
<circle cx="397" cy="227" r="1.05" fill="#a3233a"/>
<line x1="394.5" y1="225.5" x2="394.5" y2="230" stroke="#3a3a3a" stroke-width="0.6"/>
<line x1="393.3" y1="225.5" x2="395.7" y2="225.5" stroke="#3a3a3a" stroke-width="0.6"/>
<line x1="393.3" y1="230" x2="395.7" y2="230" stroke="#3a3a3a" stroke-width="0.6"/>
<circle cx="404.3" cy="216" r="1.05" fill="#a3233a"/>
<circle cx="402.5" cy="221.5" r="1.05" fill="#a3233a"/>
<circle cx="406" cy="222" r="1.05" fill="#a3233a"/>
<circle cx="404.3" cy="226.5" r="1.05" fill="#a3233a"/>
<circle cx="403" cy="224" r="1.05" fill="#a3233a"/>
<line x1="404.3" y1="218" x2="404.3" y2="226" stroke="#3a3a3a" stroke-width="0.6"/>
<line x1="403.1" y1="218" x2="405.5" y2="218" stroke="#3a3a3a" stroke-width="0.6"/>
<line x1="403.1" y1="226" x2="405.5" y2="226" stroke="#3a3a3a" stroke-width="0.6"/>
<circle cx="414.1" cy="222" r="1.05" fill="#a3233a"/>
<circle cx="412.5" cy="228" r="1.05" fill="#a3233a"/>
<circle cx="415.5" cy="232" r="1.05" fill="#a3233a"/>
<circle cx="414.1" cy="236" r="1.05" fill="#a3233a"/>
<circle cx="413" cy="233" r="1.05" fill="#a3233a"/>
<line x1="414.1" y1="222.5" x2="414.1" y2="235" stroke="#3a3a3a" stroke-width="0.6"/>
<line x1="412.9" y1="222.5" x2="415.3" y2="222.5" stroke="#3a3a3a" stroke-width="0.6"/>
<line x1="412.9" y1="235" x2="415.3" y2="235" stroke="#3a3a3a" stroke-width="0.6"/>
<circle cx="424.5" cy="213.5" r="1.05" fill="#a3233a"/>
<circle cx="424.5" cy="218" r="1.05" fill="#a3233a"/>
<circle cx="423" cy="230" r="1.05" fill="#a3233a"/>
<circle cx="426" cy="232" r="1.05" fill="#a3233a"/>
<circle cx="424.5" cy="234" r="1.05" fill="#a3233a"/>
<line x1="424.5" y1="216" x2="424.5" y2="234" stroke="#3a3a3a" stroke-width="0.6"/>
<line x1="423.3" y1="216" x2="425.7" y2="216" stroke="#3a3a3a" stroke-width="0.6"/>
<line x1="423.3" y1="234" x2="425.7" y2="234" stroke="#3a3a3a" stroke-width="0.6"/>
<path d="M400.5 196.3V195H422.5V196.3" fill="none" stroke="#3a3a3a" stroke-width="0.7"/>
<text x="411.5" y="192.5" font-size="4.8" text-anchor="middle" fill="#444">n.s.</text>
<path d="M391.5 206.3V205H412.5V206.3" fill="none" stroke="#3a3a3a" stroke-width="0.7"/>
<text x="402" y="202.5" font-size="4.8" text-anchor="middle" fill="#444">n.s.</text>
<path d="M391.3 215.3V214H399.5V215.3" fill="none" stroke="#3a3a3a" stroke-width="0.7"/>
<text x="395.4" y="212" font-size="4.8" text-anchor="middle" fill="#444">n.s.</text>
<path d="M410.8 215.3V214H419V215.3" fill="none" stroke="#3a3a3a" stroke-width="0.7"/>
<text x="414.9" y="212" font-size="4.8" text-anchor="middle" fill="#444">n.s.</text>
<text transform="translate(374 248.5) rotate(-90)" font-size="5.6" fill="#2a2a2a" textLength="44" lengthAdjust="spacingAndGlyphs">Cell number x 10<tspan font-size="3.8" dy="-2">6</tspan></text>
<text transform="translate(396 247.2) rotate(-45)" font-size="4.2" fill="#777" text-anchor="end">WT</text>
<text transform="translate(405.8 247.2) rotate(-45)" font-size="4.2" fill="#777" text-anchor="end">Plg-R<tspan font-size="3" dy="1">KT</tspan><tspan font-size="3" dy="-2.5">-/-</tspan></text>
<text transform="translate(415.6 247.2) rotate(-45)" font-size="4.2" fill="#777" text-anchor="end">WT</text>
<text transform="translate(426 247.2) rotate(-45)" font-size="4.2" fill="#777" text-anchor="end">Plg-R<tspan font-size="3" dy="1">KT</tspan><tspan font-size="3" dy="-2.5">-/-</tspan></text>
<text x="6.6" y="381" font-size="12.4" text-anchor="start" fill="#222" textLength="11" lengthAdjust="spacingAndGlyphs">M</text>
<path d="M67.6 464.0h0.6v0.6h-0.6zM68.7 461.5h0.6v0.6h-0.6zM68.6 461.3h0.6v0.6h-0.6zM67.7 464.6h0.6v0.6h-0.6zM65.8 456.6h0.6v0.6h-0.6zM67.1 453.9h0.6v0.6h-0.6zM68.2 464.9h0.6v0.6h-0.6zM65.6 464.6h0.6v0.6h-0.6zM68.0 459.6h0.6v0.6h-0.6zM68.3 468.9h0.6v0.6h-0.6zM67.2 464.4h0.6v0.6h-0.6zM70.2 455.5h0.6v0.6h-0.6zM67.1 475.0h0.6v0.6h-0.6zM67.5 467.2h0.6v0.6h-0.6zM66.5 467.7h0.6v0.6h-0.6zM67.6 461.5h0.6v0.6h-0.6zM67.6 462.9h0.6v0.6h-0.6zM69.8 459.6h0.6v0.6h-0.6zM69.8 463.5h0.6v0.6h-0.6zM68.7 462.0h0.6v0.6h-0.6zM68.8 462.3h0.6v0.6h-0.6zM66.7 457.9h0.6v0.6h-0.6zM67.1 467.6h0.6v0.6h-0.6zM67.7 469.8h0.6v0.6h-0.6zM66.4 465.9h0.6v0.6h-0.6zM68.8 459.1h0.6v0.6h-0.6zM68.7 460.6h0.6v0.6h-0.6zM68.4 462.9h0.6v0.6h-0.6zM67.6 463.6h0.6v0.6h-0.6zM68.0 459.3h0.6v0.6h-0.6zM67.8 460.7h0.6v0.6h-0.6zM68.6 466.0h0.6v0.6h-0.6zM71.1 468.2h0.6v0.6h-0.6zM68.9 455.5h0.6v0.6h-0.6zM66.7 462.5h0.6v0.6h-0.6zM66.1 461.0h0.6v0.6h-0.6zM65.7 457.0h0.6v0.6h-0.6zM67.8 464.1h0.6v0.6h-0.6zM66.4 464.0h0.6v0.6h-0.6zM69.3 459.6h0.6v0.6h-0.6zM67.7 465.9h0.6v0.6h-0.6zM67.8 460.5h0.6v0.6h-0.6zM65.7 464.4h0.6v0.6h-0.6zM69.5 463.2h0.6v0.6h-0.6zM69.0 461.2h0.6v0.6h-0.6zM68.1 461.2h0.6v0.6h-0.6zM68.5 464.1h0.6v0.6h-0.6zM67.6 460.9h0.6v0.6h-0.6zM67.9 463.2h0.6v0.6h-0.6zM68.7 469.1h0.6v0.6h-0.6zM69.3 468.7h0.6v0.6h-0.6zM68.8 472.2h0.6v0.6h-0.6zM66.3 458.4h0.6v0.6h-0.6zM68.1 452.4h0.6v0.6h-0.6zM67.9 464.2h0.6v0.6h-0.6zM69.0 458.7h0.6v0.6h-0.6zM69.2 466.2h0.6v0.6h-0.6zM69.4 459.1h0.6v0.6h-0.6zM66.5 465.9h0.6v0.6h-0.6zM67.5 463.5h0.6v0.6h-0.6zM68.4 468.1h0.6v0.6h-0.6zM67.9 470.4h0.6v0.6h-0.6zM67.9 453.2h0.6v0.6h-0.6zM68.2 457.6h0.6v0.6h-0.6zM70.7 464.3h0.6v0.6h-0.6zM70.2 467.0h0.6v0.6h-0.6zM68.7 460.2h0.6v0.6h-0.6zM68.5 464.0h0.6v0.6h-0.6zM65.1 461.5h0.6v0.6h-0.6zM67.6 463.7h0.6v0.6h-0.6zM66.8 463.0h0.6v0.6h-0.6zM69.2 472.4h0.6v0.6h-0.6zM67.8 472.6h0.6v0.6h-0.6zM67.6 464.6h0.6v0.6h-0.6zM69.2 464.3h0.6v0.6h-0.6zM68.3 460.8h0.6v0.6h-0.6zM68.4 464.4h0.6v0.6h-0.6zM67.4 468.8h0.6v0.6h-0.6zM67.5 464.6h0.6v0.6h-0.6zM68.4 468.9h0.6v0.6h-0.6zM68.2 462.3h0.6v0.6h-0.6zM65.3 458.5h0.6v0.6h-0.6zM68.7 462.9h0.6v0.6h-0.6zM67.8 457.9h0.6v0.6h-0.6zM68.1 472.4h0.6v0.6h-0.6zM68.9 462.9h0.6v0.6h-0.6zM67.5 472.1h0.6v0.6h-0.6zM67.6 461.2h0.6v0.6h-0.6zM69.3 465.6h0.6v0.6h-0.6zM69.2 463.5h0.6v0.6h-0.6zM69.0 464.3h0.6v0.6h-0.6zM67.0 456.3h0.6v0.6h-0.6zM68.5 454.6h0.6v0.6h-0.6zM69.0 476.4h0.6v0.6h-0.6zM67.8 463.7h0.6v0.6h-0.6zM66.5 457.7h0.6v0.6h-0.6zM68.2 461.4h0.6v0.6h-0.6zM67.9 462.1h0.6v0.6h-0.6zM66.8 462.9h0.6v0.6h-0.6zM67.0 459.7h0.6v0.6h-0.6zM68.3 469.7h0.6v0.6h-0.6zM67.6 468.4h0.6v0.6h-0.6zM68.8 467.3h0.6v0.6h-0.6zM67.8 457.8h0.6v0.6h-0.6zM68.4 464.9h0.6v0.6h-0.6zM67.7 457.1h0.6v0.6h-0.6zM69.6 461.2h0.6v0.6h-0.6zM67.1 459.4h0.6v0.6h-0.6zM66.9 463.7h0.6v0.6h-0.6zM67.9 460.4h0.6v0.6h-0.6zM66.9 472.2h0.6v0.6h-0.6zM69.2 459.9h0.6v0.6h-0.6zM68.3 463.7h0.6v0.6h-0.6zM68.0 469.3h0.6v0.6h-0.6zM70.8 467.6h0.6v0.6h-0.6zM68.4 470.1h0.6v0.6h-0.6zM65.8 457.8h0.6v0.6h-0.6zM66.6 467.2h0.6v0.6h-0.6zM67.2 457.3h0.6v0.6h-0.6zM69.9 465.3h0.6v0.6h-0.6zM67.4 474.5h0.6v0.6h-0.6zM67.8 456.7h0.6v0.6h-0.6zM67.2 456.4h0.6v0.6h-0.6zM67.3 458.1h0.6v0.6h-0.6zM69.6 455.7h0.6v0.6h-0.6zM66.2 461.8h0.6v0.6h-0.6zM65.7 463.8h0.6v0.6h-0.6zM69.1 463.6h0.6v0.6h-0.6zM68.4 463.2h0.6v0.6h-0.6zM67.9 459.9h0.6v0.6h-0.6zM66.4 463.4h0.6v0.6h-0.6zM68.7 458.8h0.6v0.6h-0.6zM67.5 464.0h0.6v0.6h-0.6zM69.4 460.6h0.6v0.6h-0.6zM66.0 464.8h0.6v0.6h-0.6zM69.0 458.6h0.6v0.6h-0.6zM68.7 457.4h0.6v0.6h-0.6zM68.3 461.6h0.6v0.6h-0.6zM66.7 465.3h0.6v0.6h-0.6zM66.5 462.6h0.6v0.6h-0.6zM68.2 455.7h0.6v0.6h-0.6zM67.3 465.3h0.6v0.6h-0.6zM67.1 466.1h0.6v0.6h-0.6zM67.0 471.0h0.6v0.6h-0.6zM68.8 472.8h0.6v0.6h-0.6zM67.1 460.2h0.6v0.6h-0.6zM69.6 469.5h0.6v0.6h-0.6zM68.1 467.2h0.6v0.6h-0.6zM69.9 466.0h0.6v0.6h-0.6zM70.0 463.7h0.6v0.6h-0.6zM68.0 460.7h0.6v0.6h-0.6zM69.9 468.9h0.6v0.6h-0.6zM68.1 468.2h0.6v0.6h-0.6zM65.9 473.4h0.6v0.6h-0.6zM68.1 468.3h0.6v0.6h-0.6zM69.8 474.8h0.6v0.6h-0.6zM69.7 471.4h0.6v0.6h-0.6zM65.9 463.0h0.6v0.6h-0.6zM69.5 455.7h0.6v0.6h-0.6zM66.4 455.6h0.6v0.6h-0.6zM68.4 461.4h0.6v0.6h-0.6zM68.0 459.0h0.6v0.6h-0.6zM67.3 467.7h0.6v0.6h-0.6zM68.1 462.1h0.6v0.6h-0.6zM67.1 470.7h0.6v0.6h-0.6zM70.0 465.2h0.6v0.6h-0.6zM68.3 464.6h0.6v0.6h-0.6zM68.6 456.1h0.6v0.6h-0.6zM68.6 465.2h0.6v0.6h-0.6zM67.2 459.1h0.6v0.6h-0.6zM69.9 463.9h0.6v0.6h-0.6zM69.1 467.9h0.6v0.6h-0.6zM66.4 469.3h0.6v0.6h-0.6zM57.4 485.7h0.6v0.6h-0.6zM61.5 484.8h0.6v0.6h-0.6zM54.4 485.9h0.6v0.6h-0.6zM61.8 484.3h0.6v0.6h-0.6zM58.0 485.5h0.6v0.6h-0.6zM57.2 485.4h0.6v0.6h-0.6zM64.9 484.6h0.6v0.6h-0.6zM56.9 485.5h0.6v0.6h-0.6zM61.5 484.8h0.6v0.6h-0.6zM60.4 484.6h0.6v0.6h-0.6zM62.6 484.9h0.6v0.6h-0.6zM61.0 484.9h0.6v0.6h-0.6zM55.9 485.5h0.6v0.6h-0.6zM61.8 484.8h0.6v0.6h-0.6zM57.5 485.6h0.6v0.6h-0.6zM61.1 484.8h0.6v0.6h-0.6zM61.7 484.9h0.6v0.6h-0.6zM62.3 484.8h0.6v0.6h-0.6zM61.0 484.7h0.6v0.6h-0.6zM60.5 485.5h0.6v0.6h-0.6zM61.0 484.9h0.6v0.6h-0.6zM58.0 485.6h0.6v0.6h-0.6zM59.4 485.4h0.6v0.6h-0.6zM55.6 486.1h0.6v0.6h-0.6zM63.0 484.1h0.6v0.6h-0.6zM56.0 485.5h0.6v0.6h-0.6zM57.4 485.3h0.6v0.6h-0.6zM63.5 484.1h0.6v0.6h-0.6zM62.7 484.5h0.6v0.6h-0.6zM62.2 484.4h0.6v0.6h-0.6zM58.2 485.7h0.6v0.6h-0.6zM61.5 484.6h0.6v0.6h-0.6zM62.8 485.5h0.6v0.6h-0.6zM57.1 485.8h0.6v0.6h-0.6zM63.6 484.5h0.6v0.6h-0.6zM63.2 484.3h0.6v0.6h-0.6zM57.1 485.6h0.6v0.6h-0.6zM57.8 486.0h0.6v0.6h-0.6zM58.9 485.7h0.6v0.6h-0.6zM61.6 484.8h0.6v0.6h-0.6zM60.8 485.3h0.6v0.6h-0.6zM56.6 486.0h0.6v0.6h-0.6zM60.6 484.8h0.6v0.6h-0.6zM61.1 485.1h0.6v0.6h-0.6zM65.8 480.8h0.6v0.6h-0.6zM63.8 477.3h0.6v0.6h-0.6zM54.4 484.4h0.6v0.6h-0.6zM68.2 483.2h0.6v0.6h-0.6zM66.0 479.2h0.6v0.6h-0.6zM66.2 476.8h0.6v0.6h-0.6zM59.1 484.1h0.6v0.6h-0.6zM62.9 474.0h0.6v0.6h-0.6zM59.3 479.2h0.6v0.6h-0.6zM65.9 485.9h0.6v0.6h-0.6zM62.9 474.6h0.6v0.6h-0.6zM53.7 484.6h0.6v0.6h-0.6zM69.9 478.9h0.6v0.6h-0.6zM68.0 485.9h0.6v0.6h-0.6zM66.7 475.4h0.6v0.6h-0.6zM70.9 466.8h0.6v0.6h-0.6zM69.5 469.2h0.6v0.6h-0.6zM70.1 485.1h0.6v0.6h-0.6zM66.0 472.5h0.6v0.6h-0.6zM57.2 480.9h0.6v0.6h-0.6zM70.7 467.7h0.6v0.6h-0.6zM68.3 479.8h0.6v0.6h-0.6zM66.7 476.0h0.6v0.6h-0.6zM66.2 473.8h0.6v0.6h-0.6zM70.3 475.1h0.6v0.6h-0.6zM69.8 472.7h0.6v0.6h-0.6zM69.5 476.3h0.6v0.6h-0.6zM70.1 478.1h0.6v0.6h-0.6zM64.4 484.1h0.6v0.6h-0.6zM68.1 475.3h0.6v0.6h-0.6zM66.4 474.5h0.6v0.6h-0.6zM65.7 479.9h0.6v0.6h-0.6zM70.7 471.5h0.6v0.6h-0.6zM57.6 482.1h0.6v0.6h-0.6zM60.8 478.2h0.6v0.6h-0.6zM69.8 472.2h0.6v0.6h-0.6zM57.0 484.1h0.6v0.6h-0.6zM68.5 478.8h0.6v0.6h-0.6zM61.8 484.5h0.6v0.6h-0.6zM62.7 480.6h0.6v0.6h-0.6zM64.9 476.6h0.6v0.6h-0.6zM62.8 480.3h0.6v0.6h-0.6zM69.5 468.0h0.6v0.6h-0.6zM68.9 474.8h0.6v0.6h-0.6zM58.4 480.2h0.6v0.6h-0.6zM68.7 477.6h0.6v0.6h-0.6zM63.5 479.7h0.6v0.6h-0.6zM59.1 480.4h0.6v0.6h-0.6zM67.5 473.7h0.6v0.6h-0.6zM57.0 484.2h0.6v0.6h-0.6zM69.9 479.7h0.6v0.6h-0.6zM68.1 467.4h0.6v0.6h-0.6zM66.8 468.7h0.6v0.6h-0.6zM72.6 472.4h0.6v0.6h-0.6zM63.4 472.4h0.6v0.6h-0.6zM63.4 472.5h0.6v0.6h-0.6zM67.2 473.3h0.6v0.6h-0.6zM73.5 459.1h0.6v0.6h-0.6zM63.9 476.4h0.6v0.6h-0.6zM56.5 473.8h0.6v0.6h-0.6zM60.6 455.1h0.6v0.6h-0.6zM60.1 479.1h0.6v0.6h-0.6zM61.5 480.5h0.6v0.6h-0.6zM63.1 470.5h0.6v0.6h-0.6zM66.2 470.4h0.6v0.6h-0.6zM57.6 477.1h0.6v0.6h-0.6zM75.3 470.4h0.6v0.6h-0.6zM60.6 465.6h0.6v0.6h-0.6zM59.5 473.6h0.6v0.6h-0.6zM64.3 467.2h0.6v0.6h-0.6zM67.2 462.0h0.6v0.6h-0.6zM70.2 479.3h0.6v0.6h-0.6zM62.5 473.3h0.6v0.6h-0.6zM65.1 461.5h0.6v0.6h-0.6zM61.6 467.9h0.6v0.6h-0.6zM64.1 481.4h0.6v0.6h-0.6zM72.6 463.6h0.6v0.6h-0.6zM63.0 477.7h0.6v0.6h-0.6zM65.5 467.2h0.6v0.6h-0.6zM66.3 480.9h0.6v0.6h-0.6zM64.2 463.7h0.6v0.6h-0.6zM56.4 463.1h0.6v0.6h-0.6zM70.2 469.2h0.6v0.6h-0.6zM63.1 470.7h0.6v0.6h-0.6zM65.7 468.3h0.6v0.6h-0.6zM71.8 478.8h0.6v0.6h-0.6zM62.8 476.7h0.6v0.6h-0.6zM65.9 478.9h0.6v0.6h-0.6zM66.1 481.4h0.6v0.6h-0.6zM61.9 483.7h0.6v0.6h-0.6zM66.5 464.9h0.6v0.6h-0.6zM70.3 475.4h0.6v0.6h-0.6zM59.0 462.3h0.6v0.6h-0.6zM57.2 477.7h0.6v0.6h-0.6zM64.6 475.3h0.6v0.6h-0.6zM52.6 476.3h0.6v0.6h-0.6zM62.6 471.8h0.6v0.6h-0.6zM63.0 481.0h0.6v0.6h-0.6zM63.2 458.4h0.6v0.6h-0.6zM64.8 475.4h0.6v0.6h-0.6zM58.2 469.5h0.6v0.6h-0.6zM68.1 473.4h0.6v0.6h-0.6zM64.6 474.8h0.6v0.6h-0.6zM64.7 475.0h0.6v0.6h-0.6zM70.8 468.7h0.6v0.6h-0.6zM63.7 469.4h0.6v0.6h-0.6zM63.6 473.2h0.6v0.6h-0.6zM79.4 478.3h0.6v0.6h-0.6zM67.4 469.8h0.6v0.6h-0.6zM63.8 485.6h0.6v0.6h-0.6zM62.0 471.1h0.6v0.6h-0.6zM65.0 471.9h0.6v0.6h-0.6zM65.0 454.2h0.6v0.6h-0.6zM64.7 463.9h0.6v0.6h-0.6zM62.0 465.8h0.6v0.6h-0.6zM58.0 471.5h0.6v0.6h-0.6zM64.2 469.0h0.6v0.6h-0.6zM66.1 476.2h0.6v0.6h-0.6zM68.5 476.4h0.6v0.6h-0.6zM65.8 484.2h0.6v0.6h-0.6zM59.6 464.1h0.6v0.6h-0.6zM59.0 475.8h0.6v0.6h-0.6zM67.5 462.8h0.6v0.6h-0.6zM54.8 481.3h0.6v0.6h-0.6zM64.9 464.1h0.6v0.6h-0.6zM74.3 476.7h0.6v0.6h-0.6zM58.8 484.0h0.6v0.6h-0.6zM62.1 485.4h0.6v0.6h-0.6zM60.9 477.1h0.6v0.6h-0.6zM55.3 471.3h0.6v0.6h-0.6zM66.2 465.4h0.6v0.6h-0.6zM61.7 466.8h0.6v0.6h-0.6zM60.9 470.3h0.6v0.6h-0.6zM71.4 468.1h0.6v0.6h-0.6zM71.2 461.2h0.6v0.6h-0.6zM68.2 471.3h0.6v0.6h-0.6zM69.1 461.8h0.6v0.6h-0.6zM58.9 473.4h0.6v0.6h-0.6zM55.6 478.5h0.6v0.6h-0.6zM55.0 477.5h0.6v0.6h-0.6zM64.5 474.1h0.6v0.6h-0.6zM61.8 461.5h0.6v0.6h-0.6zM64.8 471.7h0.6v0.6h-0.6zM71.9 459.6h0.6v0.6h-0.6zM69.9 463.4h0.6v0.6h-0.6zM61.9 475.4h0.6v0.6h-0.6zM58.5 477.4h0.6v0.6h-0.6zM76.8 460.4h0.6v0.6h-0.6zM61.9 474.8h0.6v0.6h-0.6zM67.7 469.2h0.6v0.6h-0.6zM72.0 469.7h0.6v0.6h-0.6zM66.0 466.2h0.6v0.6h-0.6zM63.9 462.2h0.6v0.6h-0.6zM65.2 455.9h0.6v0.6h-0.6zM66.2 478.4h0.6v0.6h-0.6zM74.2 460.0h0.6v0.6h-0.6zM56.9 476.1h0.6v0.6h-0.6zM63.1 472.1h0.6v0.6h-0.6zM68.3 461.2h0.6v0.6h-0.6zM56.8 471.1h0.6v0.6h-0.6z" fill="#3c3c3c" fill-opacity="0.42"/>
<path d="M67.4 465.6h0.6v0.6h-0.6zM67.3 458.5h0.6v0.6h-0.6zM68.8 460.6h0.6v0.6h-0.6zM68.4 458.9h0.6v0.6h-0.6zM68.4 461.5h0.6v0.6h-0.6zM67.5 462.7h0.6v0.6h-0.6zM69.3 463.0h0.6v0.6h-0.6zM66.8 455.6h0.6v0.6h-0.6zM65.4 469.8h0.6v0.6h-0.6zM67.8 460.8h0.6v0.6h-0.6zM67.1 457.3h0.6v0.6h-0.6zM70.4 468.7h0.6v0.6h-0.6zM69.7 468.2h0.6v0.6h-0.6zM68.0 463.0h0.6v0.6h-0.6zM67.4 471.9h0.6v0.6h-0.6zM68.6 464.7h0.6v0.6h-0.6zM69.0 468.9h0.6v0.6h-0.6zM67.1 467.6h0.6v0.6h-0.6zM65.5 470.9h0.6v0.6h-0.6zM68.7 462.6h0.6v0.6h-0.6zM67.5 465.9h0.6v0.6h-0.6zM65.3 463.9h0.6v0.6h-0.6zM68.4 463.9h0.6v0.6h-0.6zM66.0 464.0h0.6v0.6h-0.6zM68.4 454.7h0.6v0.6h-0.6zM67.8 464.9h0.6v0.6h-0.6zM67.9 465.1h0.6v0.6h-0.6zM68.4 467.9h0.6v0.6h-0.6zM68.2 464.2h0.6v0.6h-0.6zM66.4 469.3h0.6v0.6h-0.6zM67.0 463.3h0.6v0.6h-0.6zM67.0 452.3h0.6v0.6h-0.6zM66.6 459.3h0.6v0.6h-0.6zM66.5 470.9h0.6v0.6h-0.6zM66.7 463.1h0.6v0.6h-0.6zM67.4 463.7h0.6v0.6h-0.6zM67.3 470.9h0.6v0.6h-0.6zM66.8 460.2h0.6v0.6h-0.6zM66.9 461.9h0.6v0.6h-0.6zM67.3 473.1h0.6v0.6h-0.6zM71.0 471.7h0.6v0.6h-0.6zM68.3 454.3h0.6v0.6h-0.6zM67.6 459.9h0.6v0.6h-0.6zM68.3 457.9h0.6v0.6h-0.6zM70.5 465.6h0.6v0.6h-0.6zM70.1 467.5h0.6v0.6h-0.6zM68.8 470.5h0.6v0.6h-0.6zM68.1 456.4h0.6v0.6h-0.6zM69.0 467.0h0.6v0.6h-0.6zM66.6 461.5h0.6v0.6h-0.6zM70.8 466.7h0.6v0.6h-0.6zM68.1 457.7h0.6v0.6h-0.6zM69.2 463.9h0.6v0.6h-0.6zM67.1 465.4h0.6v0.6h-0.6zM68.5 459.3h0.6v0.6h-0.6zM68.8 455.0h0.6v0.6h-0.6zM67.3 458.6h0.6v0.6h-0.6zM66.2 465.1h0.6v0.6h-0.6zM69.5 475.1h0.6v0.6h-0.6zM69.1 463.9h0.6v0.6h-0.6zM68.8 463.5h0.6v0.6h-0.6zM67.2 463.9h0.6v0.6h-0.6zM67.2 461.1h0.6v0.6h-0.6zM69.0 458.8h0.6v0.6h-0.6zM66.9 463.7h0.6v0.6h-0.6zM70.0 465.2h0.6v0.6h-0.6zM68.9 470.0h0.6v0.6h-0.6zM68.7 456.7h0.6v0.6h-0.6zM68.7 468.2h0.6v0.6h-0.6zM66.8 464.5h0.6v0.6h-0.6zM65.9 470.5h0.6v0.6h-0.6zM67.7 460.9h0.6v0.6h-0.6zM68.6 469.3h0.6v0.6h-0.6zM67.7 465.2h0.6v0.6h-0.6zM67.4 472.3h0.6v0.6h-0.6zM68.4 460.5h0.6v0.6h-0.6zM70.1 462.1h0.6v0.6h-0.6zM68.4 461.8h0.6v0.6h-0.6zM65.6 455.2h0.6v0.6h-0.6zM67.0 459.8h0.6v0.6h-0.6zM66.1 460.7h0.6v0.6h-0.6zM66.7 466.5h0.6v0.6h-0.6zM66.2 458.3h0.6v0.6h-0.6zM68.6 471.0h0.6v0.6h-0.6zM66.7 465.4h0.6v0.6h-0.6zM67.8 460.7h0.6v0.6h-0.6zM69.0 469.3h0.6v0.6h-0.6zM66.2 465.6h0.6v0.6h-0.6zM66.5 462.4h0.6v0.6h-0.6zM66.9 466.8h0.6v0.6h-0.6zM67.4 454.7h0.6v0.6h-0.6zM65.1 468.7h0.6v0.6h-0.6zM70.2 462.0h0.6v0.6h-0.6zM69.3 465.2h0.6v0.6h-0.6zM65.9 463.0h0.6v0.6h-0.6zM67.6 470.1h0.6v0.6h-0.6zM67.6 466.8h0.6v0.6h-0.6zM67.0 456.9h0.6v0.6h-0.6zM67.1 465.2h0.6v0.6h-0.6zM70.4 465.0h0.6v0.6h-0.6zM71.0 465.2h0.6v0.6h-0.6zM67.2 466.6h0.6v0.6h-0.6zM67.4 471.4h0.6v0.6h-0.6zM66.8 463.0h0.6v0.6h-0.6zM68.5 454.8h0.6v0.6h-0.6zM67.5 469.9h0.6v0.6h-0.6zM67.9 461.5h0.6v0.6h-0.6zM68.1 462.3h0.6v0.6h-0.6zM65.1 468.9h0.6v0.6h-0.6zM69.2 458.6h0.6v0.6h-0.6zM70.1 459.7h0.6v0.6h-0.6zM71.0 467.2h0.6v0.6h-0.6zM68.7 458.0h0.6v0.6h-0.6zM66.7 459.0h0.6v0.6h-0.6zM66.8 458.1h0.6v0.6h-0.6zM69.2 455.6h0.6v0.6h-0.6zM66.7 466.1h0.6v0.6h-0.6zM67.4 459.8h0.6v0.6h-0.6zM67.6 453.9h0.6v0.6h-0.6zM65.2 463.8h0.6v0.6h-0.6zM66.9 458.3h0.6v0.6h-0.6zM65.6 468.1h0.6v0.6h-0.6zM68.2 462.0h0.6v0.6h-0.6zM69.1 469.7h0.6v0.6h-0.6zM67.7 458.6h0.6v0.6h-0.6zM68.2 459.2h0.6v0.6h-0.6zM66.8 463.5h0.6v0.6h-0.6zM67.8 463.8h0.6v0.6h-0.6zM67.6 459.8h0.6v0.6h-0.6zM66.0 463.7h0.6v0.6h-0.6zM69.5 465.4h0.6v0.6h-0.6zM69.5 462.7h0.6v0.6h-0.6zM68.3 456.5h0.6v0.6h-0.6zM69.4 462.4h0.6v0.6h-0.6zM67.7 463.1h0.6v0.6h-0.6zM67.4 462.5h0.6v0.6h-0.6zM68.2 465.3h0.6v0.6h-0.6zM64.8 467.0h0.6v0.6h-0.6zM68.1 465.6h0.6v0.6h-0.6zM70.4 467.5h0.6v0.6h-0.6zM68.4 467.0h0.6v0.6h-0.6zM66.7 455.4h0.6v0.6h-0.6zM68.3 455.8h0.6v0.6h-0.6zM69.6 462.0h0.6v0.6h-0.6zM69.0 463.4h0.6v0.6h-0.6zM67.2 466.3h0.6v0.6h-0.6zM68.4 459.8h0.6v0.6h-0.6zM66.0 469.9h0.6v0.6h-0.6zM66.8 458.5h0.6v0.6h-0.6zM69.2 465.7h0.6v0.6h-0.6zM68.1 459.2h0.6v0.6h-0.6zM65.8 466.1h0.6v0.6h-0.6zM68.9 463.3h0.6v0.6h-0.6zM69.3 470.2h0.6v0.6h-0.6zM64.7 461.0h0.6v0.6h-0.6zM68.3 463.1h0.6v0.6h-0.6zM70.2 463.8h0.6v0.6h-0.6zM69.0 462.9h0.6v0.6h-0.6zM68.6 459.0h0.6v0.6h-0.6zM67.6 469.7h0.6v0.6h-0.6zM68.4 469.7h0.6v0.6h-0.6zM67.0 459.3h0.6v0.6h-0.6zM65.6 465.4h0.6v0.6h-0.6zM68.4 469.0h0.6v0.6h-0.6zM69.0 476.3h0.6v0.6h-0.6zM67.5 472.4h0.6v0.6h-0.6zM68.3 466.5h0.6v0.6h-0.6zM68.6 467.7h0.6v0.6h-0.6zM65.7 467.4h0.6v0.6h-0.6zM65.2 462.0h0.6v0.6h-0.6zM65.2 459.9h0.6v0.6h-0.6zM69.4 455.2h0.6v0.6h-0.6zM68.7 463.4h0.6v0.6h-0.6zM58.5 485.2h0.6v0.6h-0.6zM64.7 484.1h0.6v0.6h-0.6zM57.0 485.8h0.6v0.6h-0.6zM63.1 484.1h0.6v0.6h-0.6zM57.3 486.1h0.6v0.6h-0.6zM65.0 484.6h0.6v0.6h-0.6zM63.0 484.8h0.6v0.6h-0.6zM64.7 484.3h0.6v0.6h-0.6zM59.8 485.1h0.6v0.6h-0.6zM58.5 485.6h0.6v0.6h-0.6zM58.7 485.5h0.6v0.6h-0.6zM65.0 483.4h0.6v0.6h-0.6zM64.5 484.8h0.6v0.6h-0.6zM57.0 485.8h0.6v0.6h-0.6zM61.9 484.7h0.6v0.6h-0.6zM60.1 485.0h0.6v0.6h-0.6zM64.6 484.2h0.6v0.6h-0.6zM63.9 484.5h0.6v0.6h-0.6zM63.2 484.8h0.6v0.6h-0.6zM65.3 483.8h0.6v0.6h-0.6zM57.5 485.3h0.6v0.6h-0.6zM64.7 483.6h0.6v0.6h-0.6zM54.2 486.0h0.6v0.6h-0.6zM57.8 485.5h0.6v0.6h-0.6zM62.4 484.6h0.6v0.6h-0.6zM59.3 485.0h0.6v0.6h-0.6zM63.1 484.3h0.6v0.6h-0.6zM62.9 484.2h0.6v0.6h-0.6zM58.1 485.7h0.6v0.6h-0.6zM62.8 485.2h0.6v0.6h-0.6zM64.6 484.5h0.6v0.6h-0.6zM61.4 484.9h0.6v0.6h-0.6zM56.4 485.9h0.6v0.6h-0.6zM61.2 484.4h0.6v0.6h-0.6zM60.4 484.7h0.6v0.6h-0.6zM61.5 484.3h0.6v0.6h-0.6zM56.6 486.0h0.6v0.6h-0.6zM56.6 485.8h0.6v0.6h-0.6zM63.1 484.8h0.6v0.6h-0.6zM62.4 484.8h0.6v0.6h-0.6zM62.0 485.3h0.6v0.6h-0.6zM56.2 485.7h0.6v0.6h-0.6zM62.2 485.5h0.6v0.6h-0.6zM62.9 484.2h0.6v0.6h-0.6zM67.7 471.1h0.6v0.6h-0.6zM68.7 471.5h0.6v0.6h-0.6zM58.4 484.6h0.6v0.6h-0.6zM66.1 470.2h0.6v0.6h-0.6zM60.9 484.0h0.6v0.6h-0.6zM60.8 485.3h0.6v0.6h-0.6zM63.9 477.6h0.6v0.6h-0.6zM66.3 474.4h0.6v0.6h-0.6zM70.8 483.0h0.6v0.6h-0.6zM70.8 485.9h0.6v0.6h-0.6zM66.5 476.7h0.6v0.6h-0.6zM69.2 469.2h0.6v0.6h-0.6zM69.5 479.5h0.6v0.6h-0.6zM62.2 476.3h0.6v0.6h-0.6zM66.7 480.8h0.6v0.6h-0.6zM68.2 484.5h0.6v0.6h-0.6zM68.7 474.5h0.6v0.6h-0.6zM65.8 478.3h0.6v0.6h-0.6zM70.4 467.6h0.6v0.6h-0.6zM69.9 481.1h0.6v0.6h-0.6zM62.1 481.6h0.6v0.6h-0.6zM64.6 480.0h0.6v0.6h-0.6zM63.6 478.7h0.6v0.6h-0.6zM67.3 485.1h0.6v0.6h-0.6zM58.4 483.4h0.6v0.6h-0.6zM67.6 477.3h0.6v0.6h-0.6zM66.5 484.3h0.6v0.6h-0.6zM69.6 468.1h0.6v0.6h-0.6zM65.6 478.8h0.6v0.6h-0.6zM64.5 483.2h0.6v0.6h-0.6zM57.1 481.0h0.6v0.6h-0.6zM68.3 468.3h0.6v0.6h-0.6zM66.7 476.9h0.6v0.6h-0.6zM64.4 480.9h0.6v0.6h-0.6zM57.3 480.2h0.6v0.6h-0.6zM61.0 478.7h0.6v0.6h-0.6zM68.5 472.7h0.6v0.6h-0.6zM69.5 470.2h0.6v0.6h-0.6zM66.8 473.3h0.6v0.6h-0.6zM69.0 485.2h0.6v0.6h-0.6zM55.0 484.8h0.6v0.6h-0.6zM64.7 474.5h0.6v0.6h-0.6zM68.7 483.2h0.6v0.6h-0.6zM65.2 475.2h0.6v0.6h-0.6zM61.8 478.4h0.6v0.6h-0.6zM69.8 469.4h0.6v0.6h-0.6zM60.0 477.7h0.6v0.6h-0.6zM68.0 481.5h0.6v0.6h-0.6zM69.2 477.0h0.6v0.6h-0.6zM65.5 484.8h0.6v0.6h-0.6zM69.3 470.5h0.6v0.6h-0.6zM67.5 467.8h0.6v0.6h-0.6zM66.9 456.1h0.6v0.6h-0.6zM78.0 464.2h0.6v0.6h-0.6zM69.4 479.0h0.6v0.6h-0.6zM64.5 475.4h0.6v0.6h-0.6zM63.8 478.0h0.6v0.6h-0.6zM60.6 469.6h0.6v0.6h-0.6zM69.4 472.6h0.6v0.6h-0.6zM72.5 466.5h0.6v0.6h-0.6zM75.0 465.3h0.6v0.6h-0.6zM56.7 467.1h0.6v0.6h-0.6zM70.6 468.3h0.6v0.6h-0.6zM65.7 474.9h0.6v0.6h-0.6zM60.8 474.9h0.6v0.6h-0.6zM57.7 480.7h0.6v0.6h-0.6zM54.2 465.6h0.6v0.6h-0.6zM58.5 482.9h0.6v0.6h-0.6zM53.6 483.1h0.6v0.6h-0.6zM55.3 464.3h0.6v0.6h-0.6zM59.8 483.2h0.6v0.6h-0.6zM53.4 473.1h0.6v0.6h-0.6zM60.5 461.3h0.6v0.6h-0.6zM64.5 466.9h0.6v0.6h-0.6zM62.4 475.0h0.6v0.6h-0.6zM66.5 463.3h0.6v0.6h-0.6zM68.4 468.3h0.6v0.6h-0.6zM64.4 465.2h0.6v0.6h-0.6zM58.3 467.4h0.6v0.6h-0.6zM71.9 460.9h0.6v0.6h-0.6zM70.6 457.7h0.6v0.6h-0.6zM58.4 478.1h0.6v0.6h-0.6zM66.7 471.6h0.6v0.6h-0.6zM66.0 479.2h0.6v0.6h-0.6zM64.6 473.5h0.6v0.6h-0.6zM63.7 468.6h0.6v0.6h-0.6zM64.8 463.4h0.6v0.6h-0.6zM63.7 461.8h0.6v0.6h-0.6zM57.7 468.9h0.6v0.6h-0.6zM65.1 479.8h0.6v0.6h-0.6zM65.8 476.0h0.6v0.6h-0.6zM69.6 474.6h0.6v0.6h-0.6zM70.8 469.9h0.6v0.6h-0.6zM65.7 469.9h0.6v0.6h-0.6zM66.0 479.7h0.6v0.6h-0.6zM65.9 462.7h0.6v0.6h-0.6zM60.1 475.9h0.6v0.6h-0.6zM61.3 466.1h0.6v0.6h-0.6zM58.9 469.4h0.6v0.6h-0.6zM72.7 470.5h0.6v0.6h-0.6zM64.0 463.7h0.6v0.6h-0.6zM71.8 459.2h0.6v0.6h-0.6zM67.5 474.7h0.6v0.6h-0.6zM61.3 469.9h0.6v0.6h-0.6zM54.3 470.3h0.6v0.6h-0.6zM58.2 474.4h0.6v0.6h-0.6zM69.1 467.6h0.6v0.6h-0.6zM65.8 469.4h0.6v0.6h-0.6zM68.2 474.1h0.6v0.6h-0.6zM61.6 477.8h0.6v0.6h-0.6zM59.5 477.5h0.6v0.6h-0.6zM63.7 478.2h0.6v0.6h-0.6zM66.9 481.4h0.6v0.6h-0.6zM68.5 474.2h0.6v0.6h-0.6zM72.4 480.9h0.6v0.6h-0.6zM61.1 464.2h0.6v0.6h-0.6zM64.5 479.4h0.6v0.6h-0.6zM60.6 474.4h0.6v0.6h-0.6zM69.7 475.4h0.6v0.6h-0.6zM66.5 460.3h0.6v0.6h-0.6zM61.0 475.7h0.6v0.6h-0.6zM72.8 469.9h0.6v0.6h-0.6zM60.0 472.6h0.6v0.6h-0.6zM70.0 482.4h0.6v0.6h-0.6zM56.2 473.4h0.6v0.6h-0.6zM71.3 480.7h0.6v0.6h-0.6zM63.9 469.3h0.6v0.6h-0.6zM64.2 473.6h0.6v0.6h-0.6zM68.2 469.9h0.6v0.6h-0.6zM68.5 485.7h0.6v0.6h-0.6zM67.2 481.2h0.6v0.6h-0.6zM60.5 475.3h0.6v0.6h-0.6zM62.5 458.6h0.6v0.6h-0.6zM63.9 480.0h0.6v0.6h-0.6zM69.8 468.3h0.6v0.6h-0.6zM70.9 478.6h0.6v0.6h-0.6zM74.7 454.1h0.6v0.6h-0.6zM71.5 465.9h0.6v0.6h-0.6zM72.2 465.5h0.6v0.6h-0.6zM60.0 481.2h0.6v0.6h-0.6zM59.0 484.1h0.6v0.6h-0.6zM65.9 478.7h0.6v0.6h-0.6zM58.6 481.8h0.6v0.6h-0.6zM68.8 476.0h0.6v0.6h-0.6zM63.4 467.6h0.6v0.6h-0.6zM58.8 473.7h0.6v0.6h-0.6zM66.2 472.7h0.6v0.6h-0.6zM74.7 455.8h0.6v0.6h-0.6zM62.4 470.0h0.6v0.6h-0.6zM65.3 474.4h0.6v0.6h-0.6zM63.1 481.7h0.6v0.6h-0.6zM70.7 468.5h0.6v0.6h-0.6zM74.7 447.8h0.6v0.6h-0.6zM66.0 477.9h0.6v0.6h-0.6zM60.7 473.6h0.6v0.6h-0.6zM72.5 463.0h0.6v0.6h-0.6zM75.9 462.9h0.6v0.6h-0.6zM55.8 465.7h0.6v0.6h-0.6zM66.3 467.2h0.6v0.6h-0.6z" fill="#3c3c3c" fill-opacity="0.42"/>
<path d="M69.4 462.5h0.6v0.6h-0.6zM70.3 464.3h0.6v0.6h-0.6zM65.4 466.7h0.6v0.6h-0.6zM68.8 463.8h0.6v0.6h-0.6zM67.0 453.5h0.6v0.6h-0.6zM65.0 457.0h0.6v0.6h-0.6zM70.4 461.0h0.6v0.6h-0.6zM66.4 461.4h0.6v0.6h-0.6zM68.3 459.6h0.6v0.6h-0.6zM67.5 463.4h0.6v0.6h-0.6zM65.8 464.4h0.6v0.6h-0.6zM69.6 464.7h0.6v0.6h-0.6zM67.8 457.4h0.6v0.6h-0.6zM67.4 467.8h0.6v0.6h-0.6zM70.8 460.3h0.6v0.6h-0.6zM68.8 457.5h0.6v0.6h-0.6zM68.2 470.3h0.6v0.6h-0.6zM68.0 453.0h0.6v0.6h-0.6zM67.1 467.8h0.6v0.6h-0.6zM69.6 472.4h0.6v0.6h-0.6zM67.1 463.3h0.6v0.6h-0.6zM67.4 461.6h0.6v0.6h-0.6zM68.3 467.7h0.6v0.6h-0.6zM67.0 467.2h0.6v0.6h-0.6zM67.1 452.8h0.6v0.6h-0.6zM68.3 476.3h0.6v0.6h-0.6zM69.4 466.7h0.6v0.6h-0.6zM66.1 466.9h0.6v0.6h-0.6zM66.2 458.2h0.6v0.6h-0.6zM65.8 465.1h0.6v0.6h-0.6zM68.0 453.0h0.6v0.6h-0.6zM67.9 468.7h0.6v0.6h-0.6zM67.3 468.3h0.6v0.6h-0.6zM67.3 471.9h0.6v0.6h-0.6zM67.3 458.6h0.6v0.6h-0.6zM68.1 459.6h0.6v0.6h-0.6zM68.9 463.2h0.6v0.6h-0.6zM68.7 462.2h0.6v0.6h-0.6zM69.7 462.4h0.6v0.6h-0.6zM69.1 460.3h0.6v0.6h-0.6zM68.9 456.0h0.6v0.6h-0.6zM69.4 468.0h0.6v0.6h-0.6zM67.9 466.5h0.6v0.6h-0.6zM68.9 457.3h0.6v0.6h-0.6zM68.9 463.8h0.6v0.6h-0.6zM66.7 462.3h0.6v0.6h-0.6zM67.4 467.7h0.6v0.6h-0.6zM67.7 469.2h0.6v0.6h-0.6zM66.7 468.3h0.6v0.6h-0.6zM68.1 472.3h0.6v0.6h-0.6zM70.4 468.8h0.6v0.6h-0.6zM68.0 454.7h0.6v0.6h-0.6zM67.8 468.6h0.6v0.6h-0.6zM68.2 464.2h0.6v0.6h-0.6zM67.2 455.7h0.6v0.6h-0.6zM68.1 466.8h0.6v0.6h-0.6zM67.0 460.4h0.6v0.6h-0.6zM69.4 459.7h0.6v0.6h-0.6zM67.8 456.3h0.6v0.6h-0.6zM69.4 456.0h0.6v0.6h-0.6zM67.1 464.4h0.6v0.6h-0.6zM67.3 451.9h0.6v0.6h-0.6zM67.4 471.3h0.6v0.6h-0.6zM69.4 470.2h0.6v0.6h-0.6zM68.9 464.2h0.6v0.6h-0.6zM65.5 458.3h0.6v0.6h-0.6zM68.8 457.0h0.6v0.6h-0.6zM67.8 473.5h0.6v0.6h-0.6zM66.6 466.1h0.6v0.6h-0.6zM68.4 458.1h0.6v0.6h-0.6zM67.9 465.8h0.6v0.6h-0.6zM69.2 461.9h0.6v0.6h-0.6zM69.2 469.0h0.6v0.6h-0.6zM68.0 462.6h0.6v0.6h-0.6zM68.5 467.1h0.6v0.6h-0.6zM67.4 472.8h0.6v0.6h-0.6zM69.1 457.9h0.6v0.6h-0.6zM68.0 462.8h0.6v0.6h-0.6zM67.6 462.7h0.6v0.6h-0.6zM67.0 467.2h0.6v0.6h-0.6zM65.7 465.1h0.6v0.6h-0.6zM69.9 475.1h0.6v0.6h-0.6zM68.3 465.8h0.6v0.6h-0.6zM70.1 459.0h0.6v0.6h-0.6zM68.6 467.0h0.6v0.6h-0.6zM70.1 456.6h0.6v0.6h-0.6zM67.5 458.8h0.6v0.6h-0.6zM68.0 462.9h0.6v0.6h-0.6zM66.8 463.8h0.6v0.6h-0.6zM67.0 474.3h0.6v0.6h-0.6zM66.5 466.1h0.6v0.6h-0.6zM68.8 467.9h0.6v0.6h-0.6zM69.4 460.3h0.6v0.6h-0.6zM67.0 459.7h0.6v0.6h-0.6zM69.7 457.7h0.6v0.6h-0.6zM67.6 469.8h0.6v0.6h-0.6zM69.3 463.3h0.6v0.6h-0.6zM68.1 456.1h0.6v0.6h-0.6zM68.9 469.5h0.6v0.6h-0.6zM70.8 466.2h0.6v0.6h-0.6zM68.9 457.3h0.6v0.6h-0.6zM67.6 453.6h0.6v0.6h-0.6zM67.3 461.9h0.6v0.6h-0.6zM67.7 472.7h0.6v0.6h-0.6zM68.3 461.9h0.6v0.6h-0.6zM68.8 465.9h0.6v0.6h-0.6zM67.0 463.7h0.6v0.6h-0.6zM67.0 458.4h0.6v0.6h-0.6zM67.0 455.6h0.6v0.6h-0.6zM68.7 468.7h0.6v0.6h-0.6zM68.3 466.1h0.6v0.6h-0.6zM69.5 463.1h0.6v0.6h-0.6zM67.1 463.4h0.6v0.6h-0.6zM67.8 463.8h0.6v0.6h-0.6zM67.7 454.1h0.6v0.6h-0.6zM67.3 458.0h0.6v0.6h-0.6zM68.6 459.6h0.6v0.6h-0.6zM67.9 466.4h0.6v0.6h-0.6zM65.6 474.2h0.6v0.6h-0.6zM67.5 464.9h0.6v0.6h-0.6zM67.8 455.4h0.6v0.6h-0.6zM67.7 468.5h0.6v0.6h-0.6zM68.7 471.7h0.6v0.6h-0.6zM69.4 458.1h0.6v0.6h-0.6zM67.7 471.6h0.6v0.6h-0.6zM67.2 453.6h0.6v0.6h-0.6zM67.9 463.5h0.6v0.6h-0.6zM67.7 471.1h0.6v0.6h-0.6zM68.7 463.6h0.6v0.6h-0.6zM66.8 458.3h0.6v0.6h-0.6zM68.2 463.0h0.6v0.6h-0.6zM67.5 461.0h0.6v0.6h-0.6zM68.7 464.4h0.6v0.6h-0.6zM69.6 452.6h0.6v0.6h-0.6zM68.3 461.7h0.6v0.6h-0.6zM66.7 461.0h0.6v0.6h-0.6zM69.1 464.8h0.6v0.6h-0.6zM67.1 454.8h0.6v0.6h-0.6zM69.4 466.1h0.6v0.6h-0.6zM67.3 466.4h0.6v0.6h-0.6zM67.0 470.4h0.6v0.6h-0.6zM68.1 469.2h0.6v0.6h-0.6zM67.8 456.9h0.6v0.6h-0.6zM67.8 465.5h0.6v0.6h-0.6zM69.5 462.7h0.6v0.6h-0.6zM68.5 466.2h0.6v0.6h-0.6zM69.2 463.7h0.6v0.6h-0.6zM66.4 466.2h0.6v0.6h-0.6zM69.4 455.0h0.6v0.6h-0.6zM67.8 454.7h0.6v0.6h-0.6zM67.2 451.6h0.6v0.6h-0.6zM68.2 460.7h0.6v0.6h-0.6zM67.8 467.0h0.6v0.6h-0.6zM67.1 465.7h0.6v0.6h-0.6zM67.0 463.8h0.6v0.6h-0.6zM68.2 463.7h0.6v0.6h-0.6zM67.9 472.1h0.6v0.6h-0.6zM71.3 468.3h0.6v0.6h-0.6zM66.7 465.9h0.6v0.6h-0.6zM68.2 466.7h0.6v0.6h-0.6zM66.9 462.7h0.6v0.6h-0.6zM66.3 465.1h0.6v0.6h-0.6zM66.2 458.9h0.6v0.6h-0.6zM70.4 460.5h0.6v0.6h-0.6zM67.6 475.0h0.6v0.6h-0.6zM66.5 463.3h0.6v0.6h-0.6zM66.2 459.4h0.6v0.6h-0.6zM67.1 459.8h0.6v0.6h-0.6zM67.5 462.2h0.6v0.6h-0.6zM67.5 458.4h0.6v0.6h-0.6zM71.2 462.1h0.6v0.6h-0.6zM69.1 458.3h0.6v0.6h-0.6zM67.0 467.9h0.6v0.6h-0.6zM63.0 484.7h0.6v0.6h-0.6zM55.5 485.9h0.6v0.6h-0.6zM64.1 484.3h0.6v0.6h-0.6zM58.8 485.5h0.6v0.6h-0.6zM59.2 485.7h0.6v0.6h-0.6zM56.8 485.8h0.6v0.6h-0.6zM60.7 485.2h0.6v0.6h-0.6zM59.3 485.6h0.6v0.6h-0.6zM55.0 485.7h0.6v0.6h-0.6zM61.5 485.5h0.6v0.6h-0.6zM59.3 484.9h0.6v0.6h-0.6zM62.2 484.9h0.6v0.6h-0.6zM62.3 484.6h0.6v0.6h-0.6zM57.6 485.6h0.6v0.6h-0.6zM56.2 486.0h0.6v0.6h-0.6zM61.8 484.6h0.6v0.6h-0.6zM61.2 485.7h0.6v0.6h-0.6zM59.9 485.6h0.6v0.6h-0.6zM56.9 485.4h0.6v0.6h-0.6zM57.4 485.2h0.6v0.6h-0.6zM60.6 484.9h0.6v0.6h-0.6zM58.7 485.4h0.6v0.6h-0.6zM55.6 485.9h0.6v0.6h-0.6zM57.1 485.9h0.6v0.6h-0.6zM59.2 485.6h0.6v0.6h-0.6zM63.0 485.0h0.6v0.6h-0.6zM56.9 485.3h0.6v0.6h-0.6zM63.1 484.8h0.6v0.6h-0.6zM58.6 485.3h0.6v0.6h-0.6zM55.5 485.7h0.6v0.6h-0.6zM64.7 485.0h0.6v0.6h-0.6zM56.3 485.4h0.6v0.6h-0.6zM54.0 485.6h0.6v0.6h-0.6zM56.0 485.8h0.6v0.6h-0.6zM59.4 485.5h0.6v0.6h-0.6zM59.5 485.0h0.6v0.6h-0.6zM57.8 485.6h0.6v0.6h-0.6zM57.2 485.0h0.6v0.6h-0.6zM58.9 485.8h0.6v0.6h-0.6zM63.1 484.7h0.6v0.6h-0.6zM54.7 485.7h0.6v0.6h-0.6zM54.5 485.4h0.6v0.6h-0.6zM62.0 484.8h0.6v0.6h-0.6zM69.3 484.4h0.6v0.6h-0.6zM64.4 480.0h0.6v0.6h-0.6zM68.1 470.5h0.6v0.6h-0.6zM70.5 469.0h0.6v0.6h-0.6zM67.9 474.8h0.6v0.6h-0.6zM68.3 478.8h0.6v0.6h-0.6zM68.4 483.0h0.6v0.6h-0.6zM61.2 484.9h0.6v0.6h-0.6zM69.6 467.0h0.6v0.6h-0.6zM69.0 482.0h0.6v0.6h-0.6zM67.2 469.9h0.6v0.6h-0.6zM54.8 485.7h0.6v0.6h-0.6zM58.9 478.7h0.6v0.6h-0.6zM68.4 471.2h0.6v0.6h-0.6zM68.4 470.6h0.6v0.6h-0.6zM63.5 476.9h0.6v0.6h-0.6zM55.2 483.7h0.6v0.6h-0.6zM70.7 475.6h0.6v0.6h-0.6zM67.0 468.6h0.6v0.6h-0.6zM62.9 479.8h0.6v0.6h-0.6zM64.3 479.9h0.6v0.6h-0.6zM59.3 483.5h0.6v0.6h-0.6zM66.2 484.9h0.6v0.6h-0.6zM62.1 481.0h0.6v0.6h-0.6zM61.4 483.5h0.6v0.6h-0.6zM66.0 480.3h0.6v0.6h-0.6zM57.0 483.6h0.6v0.6h-0.6zM55.3 483.7h0.6v0.6h-0.6zM67.7 481.9h0.6v0.6h-0.6zM67.9 479.1h0.6v0.6h-0.6zM55.4 486.1h0.6v0.6h-0.6zM70.6 479.4h0.6v0.6h-0.6zM68.9 477.2h0.6v0.6h-0.6zM69.7 475.3h0.6v0.6h-0.6zM59.4 477.8h0.6v0.6h-0.6zM68.0 484.1h0.6v0.6h-0.6zM70.2 474.4h0.6v0.6h-0.6zM67.0 474.0h0.6v0.6h-0.6zM68.6 479.1h0.6v0.6h-0.6zM60.4 480.6h0.6v0.6h-0.6zM67.8 467.6h0.6v0.6h-0.6zM65.3 477.5h0.6v0.6h-0.6zM68.2 473.7h0.6v0.6h-0.6zM67.3 480.1h0.6v0.6h-0.6zM61.1 476.5h0.6v0.6h-0.6zM63.5 478.6h0.6v0.6h-0.6zM64.2 483.1h0.6v0.6h-0.6zM61.3 483.3h0.6v0.6h-0.6zM68.3 470.2h0.6v0.6h-0.6zM64.7 476.5h0.6v0.6h-0.6zM70.8 468.6h0.6v0.6h-0.6zM53.1 485.2h0.6v0.6h-0.6zM56.1 482.9h0.6v0.6h-0.6zM65.1 472.4h0.6v0.6h-0.6zM64.8 464.4h0.6v0.6h-0.6zM65.0 479.5h0.6v0.6h-0.6zM61.2 465.8h0.6v0.6h-0.6zM71.2 469.1h0.6v0.6h-0.6zM65.5 481.0h0.6v0.6h-0.6zM56.5 463.8h0.6v0.6h-0.6zM53.5 475.7h0.6v0.6h-0.6zM62.2 456.5h0.6v0.6h-0.6zM62.9 472.3h0.6v0.6h-0.6zM60.5 480.8h0.6v0.6h-0.6zM77.1 462.4h0.6v0.6h-0.6zM62.1 467.1h0.6v0.6h-0.6zM62.9 476.8h0.6v0.6h-0.6zM66.1 473.9h0.6v0.6h-0.6zM67.5 470.0h0.6v0.6h-0.6zM69.5 472.9h0.6v0.6h-0.6zM73.4 467.5h0.6v0.6h-0.6zM64.9 462.6h0.6v0.6h-0.6zM59.9 472.0h0.6v0.6h-0.6zM64.9 469.2h0.6v0.6h-0.6zM65.5 460.4h0.6v0.6h-0.6zM65.7 465.5h0.6v0.6h-0.6zM71.3 457.8h0.6v0.6h-0.6zM71.8 480.4h0.6v0.6h-0.6zM66.2 483.7h0.6v0.6h-0.6zM57.9 462.2h0.6v0.6h-0.6zM56.9 476.4h0.6v0.6h-0.6zM61.0 470.4h0.6v0.6h-0.6zM60.6 452.4h0.6v0.6h-0.6zM60.5 475.4h0.6v0.6h-0.6zM66.1 472.9h0.6v0.6h-0.6zM63.4 471.0h0.6v0.6h-0.6zM68.4 451.6h0.6v0.6h-0.6zM58.7 452.8h0.6v0.6h-0.6zM64.2 467.0h0.6v0.6h-0.6zM63.7 469.8h0.6v0.6h-0.6zM64.5 470.1h0.6v0.6h-0.6zM61.6 464.1h0.6v0.6h-0.6zM56.0 474.0h0.6v0.6h-0.6zM70.9 462.6h0.6v0.6h-0.6zM67.2 464.9h0.6v0.6h-0.6zM63.2 482.1h0.6v0.6h-0.6zM65.4 472.5h0.6v0.6h-0.6zM66.2 480.2h0.6v0.6h-0.6zM64.1 462.3h0.6v0.6h-0.6zM62.8 472.8h0.6v0.6h-0.6zM64.4 470.9h0.6v0.6h-0.6zM72.9 469.4h0.6v0.6h-0.6zM68.2 458.9h0.6v0.6h-0.6zM65.4 478.5h0.6v0.6h-0.6zM65.9 462.7h0.6v0.6h-0.6zM63.5 472.4h0.6v0.6h-0.6zM64.5 472.6h0.6v0.6h-0.6zM67.6 463.2h0.6v0.6h-0.6zM63.3 467.1h0.6v0.6h-0.6zM68.1 462.3h0.6v0.6h-0.6zM62.3 475.5h0.6v0.6h-0.6zM65.1 469.7h0.6v0.6h-0.6zM58.9 472.1h0.6v0.6h-0.6zM60.6 480.9h0.6v0.6h-0.6zM64.0 462.6h0.6v0.6h-0.6zM66.6 482.7h0.6v0.6h-0.6zM73.1 461.5h0.6v0.6h-0.6zM62.1 457.6h0.6v0.6h-0.6zM67.5 471.6h0.6v0.6h-0.6zM67.9 477.8h0.6v0.6h-0.6zM67.8 462.3h0.6v0.6h-0.6zM68.8 469.4h0.6v0.6h-0.6zM59.5 474.6h0.6v0.6h-0.6zM68.3 477.7h0.6v0.6h-0.6zM65.4 464.3h0.6v0.6h-0.6zM69.2 464.9h0.6v0.6h-0.6zM68.7 470.8h0.6v0.6h-0.6zM58.1 480.6h0.6v0.6h-0.6zM74.5 485.1h0.6v0.6h-0.6zM59.4 468.4h0.6v0.6h-0.6zM71.7 457.4h0.6v0.6h-0.6zM68.3 468.4h0.6v0.6h-0.6zM63.4 479.0h0.6v0.6h-0.6zM69.9 474.8h0.6v0.6h-0.6zM73.5 456.1h0.6v0.6h-0.6zM60.5 470.0h0.6v0.6h-0.6zM72.7 469.2h0.6v0.6h-0.6zM65.5 469.7h0.6v0.6h-0.6zM59.8 469.6h0.6v0.6h-0.6zM58.5 475.5h0.6v0.6h-0.6zM71.4 469.9h0.6v0.6h-0.6zM52.4 473.3h0.6v0.6h-0.6zM62.3 465.6h0.6v0.6h-0.6zM78.0 466.7h0.6v0.6h-0.6zM56.4 464.9h0.6v0.6h-0.6zM64.7 479.5h0.6v0.6h-0.6zM52.5 464.7h0.6v0.6h-0.6zM64.1 478.9h0.6v0.6h-0.6zM70.9 465.3h0.6v0.6h-0.6zM62.7 471.5h0.6v0.6h-0.6zM66.5 472.6h0.6v0.6h-0.6zM52.6 464.4h0.6v0.6h-0.6zM61.2 479.3h0.6v0.6h-0.6zM64.0 466.0h0.6v0.6h-0.6zM61.0 475.8h0.6v0.6h-0.6zM68.3 465.4h0.6v0.6h-0.6zM65.2 459.1h0.6v0.6h-0.6zM69.5 462.7h0.6v0.6h-0.6zM70.6 479.6h0.6v0.6h-0.6zM68.0 472.1h0.6v0.6h-0.6z" fill="#3c3c3c" fill-opacity="0.42"/>
<path d="M68.5 459.1h0.6v0.6h-0.6zM70.0 471.4h0.6v0.6h-0.6zM68.7 466.0h0.6v0.6h-0.6zM67.5 467.8h0.6v0.6h-0.6zM67.5 456.9h0.6v0.6h-0.6zM69.4 465.5h0.6v0.6h-0.6zM67.9 463.7h0.6v0.6h-0.6zM67.3 458.6h0.6v0.6h-0.6zM66.0 463.8h0.6v0.6h-0.6zM67.8 464.6h0.6v0.6h-0.6zM67.9 471.5h0.6v0.6h-0.6zM68.8 460.5h0.6v0.6h-0.6zM67.8 464.4h0.6v0.6h-0.6zM67.8 463.6h0.6v0.6h-0.6zM67.8 465.1h0.6v0.6h-0.6zM66.5 460.8h0.6v0.6h-0.6zM68.1 456.7h0.6v0.6h-0.6zM67.2 461.5h0.6v0.6h-0.6zM67.2 462.2h0.6v0.6h-0.6zM65.9 461.6h0.6v0.6h-0.6zM68.6 462.9h0.6v0.6h-0.6zM66.0 470.4h0.6v0.6h-0.6zM69.9 462.1h0.6v0.6h-0.6zM66.8 456.9h0.6v0.6h-0.6zM65.4 462.3h0.6v0.6h-0.6zM68.0 459.4h0.6v0.6h-0.6zM68.4 463.0h0.6v0.6h-0.6zM67.7 458.3h0.6v0.6h-0.6zM69.9 465.4h0.6v0.6h-0.6zM67.5 464.5h0.6v0.6h-0.6zM67.1 457.8h0.6v0.6h-0.6zM69.1 454.4h0.6v0.6h-0.6zM66.9 464.7h0.6v0.6h-0.6zM67.9 463.6h0.6v0.6h-0.6zM65.3 470.0h0.6v0.6h-0.6zM67.7 460.6h0.6v0.6h-0.6zM68.6 469.3h0.6v0.6h-0.6zM67.2 460.9h0.6v0.6h-0.6zM68.2 456.4h0.6v0.6h-0.6zM67.1 458.2h0.6v0.6h-0.6zM67.3 462.9h0.6v0.6h-0.6zM67.3 463.9h0.6v0.6h-0.6zM68.0 461.0h0.6v0.6h-0.6zM66.5 471.3h0.6v0.6h-0.6zM68.2 461.6h0.6v0.6h-0.6zM67.8 463.2h0.6v0.6h-0.6zM68.3 466.1h0.6v0.6h-0.6zM66.5 469.3h0.6v0.6h-0.6zM67.6 468.6h0.6v0.6h-0.6zM66.6 457.1h0.6v0.6h-0.6zM67.6 474.3h0.6v0.6h-0.6zM69.8 468.5h0.6v0.6h-0.6zM69.7 455.0h0.6v0.6h-0.6zM68.8 462.6h0.6v0.6h-0.6zM65.2 463.1h0.6v0.6h-0.6zM68.0 463.7h0.6v0.6h-0.6zM67.7 458.5h0.6v0.6h-0.6zM67.1 466.0h0.6v0.6h-0.6zM66.3 468.9h0.6v0.6h-0.6zM67.4 461.5h0.6v0.6h-0.6zM68.3 462.4h0.6v0.6h-0.6zM68.0 460.2h0.6v0.6h-0.6zM69.3 464.3h0.6v0.6h-0.6zM68.6 464.9h0.6v0.6h-0.6zM67.5 468.4h0.6v0.6h-0.6zM66.7 466.8h0.6v0.6h-0.6zM67.8 463.2h0.6v0.6h-0.6zM69.2 472.0h0.6v0.6h-0.6zM69.1 465.4h0.6v0.6h-0.6zM66.8 462.5h0.6v0.6h-0.6zM68.5 464.0h0.6v0.6h-0.6zM67.9 454.0h0.6v0.6h-0.6zM67.5 467.7h0.6v0.6h-0.6zM66.8 462.9h0.6v0.6h-0.6zM66.9 463.7h0.6v0.6h-0.6zM70.4 466.8h0.6v0.6h-0.6zM67.1 463.6h0.6v0.6h-0.6zM68.0 462.8h0.6v0.6h-0.6zM65.1 459.3h0.6v0.6h-0.6zM67.6 472.4h0.6v0.6h-0.6zM66.6 464.0h0.6v0.6h-0.6zM66.6 462.6h0.6v0.6h-0.6zM67.5 457.1h0.6v0.6h-0.6zM68.1 469.9h0.6v0.6h-0.6zM67.6 474.7h0.6v0.6h-0.6zM65.4 464.2h0.6v0.6h-0.6zM66.9 459.3h0.6v0.6h-0.6zM71.0 465.2h0.6v0.6h-0.6zM67.4 465.1h0.6v0.6h-0.6zM69.0 467.3h0.6v0.6h-0.6zM66.0 453.3h0.6v0.6h-0.6zM67.1 463.2h0.6v0.6h-0.6zM66.5 467.5h0.6v0.6h-0.6zM66.7 457.6h0.6v0.6h-0.6zM64.9 464.6h0.6v0.6h-0.6zM68.1 470.0h0.6v0.6h-0.6zM65.2 461.9h0.6v0.6h-0.6zM68.2 468.4h0.6v0.6h-0.6zM68.3 454.5h0.6v0.6h-0.6zM66.1 461.9h0.6v0.6h-0.6zM68.2 458.9h0.6v0.6h-0.6zM67.2 471.4h0.6v0.6h-0.6zM66.4 462.4h0.6v0.6h-0.6zM69.2 460.4h0.6v0.6h-0.6zM68.0 469.4h0.6v0.6h-0.6zM66.5 458.3h0.6v0.6h-0.6zM67.3 461.1h0.6v0.6h-0.6zM69.3 456.9h0.6v0.6h-0.6zM65.4 464.0h0.6v0.6h-0.6zM66.2 461.2h0.6v0.6h-0.6zM67.9 462.7h0.6v0.6h-0.6zM68.1 467.3h0.6v0.6h-0.6zM66.6 464.3h0.6v0.6h-0.6zM68.0 454.5h0.6v0.6h-0.6zM67.7 463.7h0.6v0.6h-0.6zM66.9 459.9h0.6v0.6h-0.6zM68.0 460.0h0.6v0.6h-0.6zM68.5 458.7h0.6v0.6h-0.6zM66.5 462.2h0.6v0.6h-0.6zM68.2 464.3h0.6v0.6h-0.6zM67.9 458.4h0.6v0.6h-0.6zM66.8 458.7h0.6v0.6h-0.6zM69.0 466.9h0.6v0.6h-0.6zM69.3 462.4h0.6v0.6h-0.6zM68.9 468.5h0.6v0.6h-0.6zM67.4 461.8h0.6v0.6h-0.6zM69.0 457.8h0.6v0.6h-0.6zM66.9 474.3h0.6v0.6h-0.6zM70.1 460.7h0.6v0.6h-0.6zM66.1 467.3h0.6v0.6h-0.6zM66.0 460.0h0.6v0.6h-0.6zM67.1 465.3h0.6v0.6h-0.6zM69.4 456.6h0.6v0.6h-0.6zM68.7 464.5h0.6v0.6h-0.6zM67.4 461.9h0.6v0.6h-0.6zM69.7 464.5h0.6v0.6h-0.6zM69.2 463.2h0.6v0.6h-0.6zM67.3 466.5h0.6v0.6h-0.6zM67.3 460.4h0.6v0.6h-0.6zM66.4 465.1h0.6v0.6h-0.6zM68.9 469.6h0.6v0.6h-0.6zM68.9 463.2h0.6v0.6h-0.6zM71.4 460.5h0.6v0.6h-0.6zM67.7 473.6h0.6v0.6h-0.6zM68.3 457.1h0.6v0.6h-0.6zM68.6 464.6h0.6v0.6h-0.6zM69.8 468.0h0.6v0.6h-0.6zM66.1 462.3h0.6v0.6h-0.6zM68.6 467.2h0.6v0.6h-0.6zM67.6 462.0h0.6v0.6h-0.6zM67.9 462.2h0.6v0.6h-0.6zM66.8 463.9h0.6v0.6h-0.6zM68.9 467.8h0.6v0.6h-0.6zM68.7 465.7h0.6v0.6h-0.6zM68.2 469.0h0.6v0.6h-0.6zM66.1 465.1h0.6v0.6h-0.6zM67.6 458.7h0.6v0.6h-0.6zM68.8 469.7h0.6v0.6h-0.6zM69.6 460.4h0.6v0.6h-0.6zM69.0 466.7h0.6v0.6h-0.6zM66.3 470.0h0.6v0.6h-0.6zM66.3 460.1h0.6v0.6h-0.6zM65.9 464.4h0.6v0.6h-0.6zM66.0 461.6h0.6v0.6h-0.6zM67.5 464.3h0.6v0.6h-0.6zM66.3 458.6h0.6v0.6h-0.6zM66.7 454.9h0.6v0.6h-0.6zM68.7 463.2h0.6v0.6h-0.6zM68.4 466.7h0.6v0.6h-0.6zM68.8 470.2h0.6v0.6h-0.6zM66.5 462.8h0.6v0.6h-0.6zM68.1 461.9h0.6v0.6h-0.6zM64.7 475.3h0.6v0.6h-0.6zM61.0 484.2h0.6v0.6h-0.6zM59.2 485.4h0.6v0.6h-0.6zM53.7 486.1h0.6v0.6h-0.6zM62.7 484.3h0.6v0.6h-0.6zM56.7 485.7h0.6v0.6h-0.6zM64.0 484.3h0.6v0.6h-0.6zM58.5 485.7h0.6v0.6h-0.6zM64.7 484.2h0.6v0.6h-0.6zM64.4 484.2h0.6v0.6h-0.6zM55.4 485.7h0.6v0.6h-0.6zM58.4 485.4h0.6v0.6h-0.6zM59.0 485.2h0.6v0.6h-0.6zM62.9 484.8h0.6v0.6h-0.6zM58.5 485.5h0.6v0.6h-0.6zM58.6 485.1h0.6v0.6h-0.6zM55.0 485.9h0.6v0.6h-0.6zM56.7 485.8h0.6v0.6h-0.6zM57.3 485.7h0.6v0.6h-0.6zM63.5 484.9h0.6v0.6h-0.6zM63.0 484.7h0.6v0.6h-0.6zM61.5 484.7h0.6v0.6h-0.6zM60.9 484.7h0.6v0.6h-0.6zM53.8 486.0h0.6v0.6h-0.6zM56.8 485.6h0.6v0.6h-0.6zM58.9 485.9h0.6v0.6h-0.6zM63.2 484.3h0.6v0.6h-0.6zM61.2 485.0h0.6v0.6h-0.6zM58.8 485.1h0.6v0.6h-0.6zM57.7 485.7h0.6v0.6h-0.6zM57.7 485.6h0.6v0.6h-0.6zM64.5 484.8h0.6v0.6h-0.6zM57.1 485.7h0.6v0.6h-0.6zM57.1 485.5h0.6v0.6h-0.6zM63.9 484.6h0.6v0.6h-0.6zM56.0 485.8h0.6v0.6h-0.6zM55.5 485.4h0.6v0.6h-0.6zM58.5 485.1h0.6v0.6h-0.6zM60.6 484.7h0.6v0.6h-0.6zM58.6 485.2h0.6v0.6h-0.6zM63.0 484.1h0.6v0.6h-0.6zM61.3 484.4h0.6v0.6h-0.6zM58.4 485.9h0.6v0.6h-0.6zM54.9 485.9h0.6v0.6h-0.6zM70.8 479.2h0.6v0.6h-0.6zM57.5 480.6h0.6v0.6h-0.6zM66.2 476.9h0.6v0.6h-0.6zM64.1 486.1h0.6v0.6h-0.6zM62.9 484.1h0.6v0.6h-0.6zM65.6 472.0h0.6v0.6h-0.6zM64.0 483.2h0.6v0.6h-0.6zM65.2 471.7h0.6v0.6h-0.6zM66.0 472.8h0.6v0.6h-0.6zM64.5 486.0h0.6v0.6h-0.6zM56.6 484.8h0.6v0.6h-0.6zM66.3 471.2h0.6v0.6h-0.6zM69.8 482.4h0.6v0.6h-0.6zM65.3 472.9h0.6v0.6h-0.6zM69.1 472.8h0.6v0.6h-0.6zM69.2 467.8h0.6v0.6h-0.6zM61.1 478.6h0.6v0.6h-0.6zM56.3 484.6h0.6v0.6h-0.6zM65.4 472.3h0.6v0.6h-0.6zM65.0 480.1h0.6v0.6h-0.6zM69.0 477.6h0.6v0.6h-0.6zM68.2 475.3h0.6v0.6h-0.6zM65.6 480.9h0.6v0.6h-0.6zM53.7 485.7h0.6v0.6h-0.6zM66.8 473.1h0.6v0.6h-0.6zM58.2 479.7h0.6v0.6h-0.6zM60.9 477.8h0.6v0.6h-0.6zM70.7 485.7h0.6v0.6h-0.6zM62.1 480.0h0.6v0.6h-0.6zM63.7 474.6h0.6v0.6h-0.6zM68.6 467.7h0.6v0.6h-0.6zM67.0 486.0h0.6v0.6h-0.6zM66.2 470.7h0.6v0.6h-0.6zM70.9 474.0h0.6v0.6h-0.6zM60.8 479.1h0.6v0.6h-0.6zM63.3 482.4h0.6v0.6h-0.6zM69.1 474.9h0.6v0.6h-0.6zM59.4 477.8h0.6v0.6h-0.6zM62.8 477.7h0.6v0.6h-0.6zM59.8 484.1h0.6v0.6h-0.6zM62.4 475.6h0.6v0.6h-0.6zM67.3 475.0h0.6v0.6h-0.6zM59.7 482.1h0.6v0.6h-0.6zM62.0 480.9h0.6v0.6h-0.6zM66.9 484.9h0.6v0.6h-0.6zM67.3 473.6h0.6v0.6h-0.6zM65.4 485.6h0.6v0.6h-0.6zM61.6 476.9h0.6v0.6h-0.6zM63.5 473.8h0.6v0.6h-0.6zM56.1 483.1h0.6v0.6h-0.6zM65.5 480.0h0.6v0.6h-0.6zM68.9 466.8h0.6v0.6h-0.6zM62.4 477.9h0.6v0.6h-0.6zM59.9 474.1h0.6v0.6h-0.6zM69.5 461.8h0.6v0.6h-0.6zM66.9 465.4h0.6v0.6h-0.6zM68.6 470.7h0.6v0.6h-0.6zM64.8 471.3h0.6v0.6h-0.6zM63.5 480.5h0.6v0.6h-0.6zM66.9 470.2h0.6v0.6h-0.6zM62.2 462.1h0.6v0.6h-0.6zM68.4 460.5h0.6v0.6h-0.6zM65.8 480.8h0.6v0.6h-0.6zM64.2 474.0h0.6v0.6h-0.6zM68.4 465.4h0.6v0.6h-0.6zM72.3 471.9h0.6v0.6h-0.6zM60.3 480.2h0.6v0.6h-0.6zM69.1 469.6h0.6v0.6h-0.6zM74.9 465.6h0.6v0.6h-0.6zM69.8 482.5h0.6v0.6h-0.6zM64.3 469.6h0.6v0.6h-0.6zM72.6 471.1h0.6v0.6h-0.6zM77.0 460.6h0.6v0.6h-0.6zM64.1 472.3h0.6v0.6h-0.6zM64.6 479.0h0.6v0.6h-0.6zM72.3 468.8h0.6v0.6h-0.6zM66.1 474.7h0.6v0.6h-0.6zM73.2 466.4h0.6v0.6h-0.6zM64.8 481.9h0.6v0.6h-0.6zM66.3 473.0h0.6v0.6h-0.6zM72.8 462.1h0.6v0.6h-0.6zM61.6 472.1h0.6v0.6h-0.6zM67.1 471.8h0.6v0.6h-0.6zM68.4 465.2h0.6v0.6h-0.6zM59.5 472.6h0.6v0.6h-0.6zM66.3 483.4h0.6v0.6h-0.6zM52.7 473.6h0.6v0.6h-0.6zM68.8 462.6h0.6v0.6h-0.6zM59.9 471.5h0.6v0.6h-0.6zM75.6 469.3h0.6v0.6h-0.6zM62.2 458.7h0.6v0.6h-0.6zM64.8 478.3h0.6v0.6h-0.6zM59.3 473.6h0.6v0.6h-0.6zM61.7 466.2h0.6v0.6h-0.6zM63.6 459.7h0.6v0.6h-0.6zM59.9 470.1h0.6v0.6h-0.6zM65.1 465.4h0.6v0.6h-0.6zM66.8 463.3h0.6v0.6h-0.6zM66.1 469.9h0.6v0.6h-0.6zM71.2 471.0h0.6v0.6h-0.6zM66.5 459.5h0.6v0.6h-0.6zM66.8 470.7h0.6v0.6h-0.6zM64.6 468.4h0.6v0.6h-0.6zM64.7 481.7h0.6v0.6h-0.6zM62.4 462.5h0.6v0.6h-0.6zM76.5 474.1h0.6v0.6h-0.6zM70.6 475.0h0.6v0.6h-0.6zM62.2 474.3h0.6v0.6h-0.6zM68.4 465.6h0.6v0.6h-0.6zM57.8 470.1h0.6v0.6h-0.6zM56.6 473.7h0.6v0.6h-0.6zM58.9 465.9h0.6v0.6h-0.6zM60.6 475.4h0.6v0.6h-0.6zM57.6 466.4h0.6v0.6h-0.6zM64.2 476.8h0.6v0.6h-0.6zM74.7 456.8h0.6v0.6h-0.6zM65.3 466.0h0.6v0.6h-0.6zM66.6 480.1h0.6v0.6h-0.6zM64.0 461.0h0.6v0.6h-0.6zM66.6 477.4h0.6v0.6h-0.6zM64.4 467.7h0.6v0.6h-0.6zM58.8 481.9h0.6v0.6h-0.6zM73.3 480.0h0.6v0.6h-0.6zM72.7 474.9h0.6v0.6h-0.6zM71.9 473.9h0.6v0.6h-0.6zM67.6 479.3h0.6v0.6h-0.6zM66.9 459.4h0.6v0.6h-0.6zM62.8 474.0h0.6v0.6h-0.6zM71.7 460.5h0.6v0.6h-0.6zM62.1 470.3h0.6v0.6h-0.6zM59.2 469.8h0.6v0.6h-0.6zM65.9 475.0h0.6v0.6h-0.6zM70.3 469.1h0.6v0.6h-0.6zM58.7 476.4h0.6v0.6h-0.6zM77.3 459.0h0.6v0.6h-0.6zM61.8 469.5h0.6v0.6h-0.6zM78.8 464.2h0.6v0.6h-0.6zM61.7 482.2h0.6v0.6h-0.6zM65.7 478.3h0.6v0.6h-0.6zM68.6 474.0h0.6v0.6h-0.6zM64.1 458.8h0.6v0.6h-0.6zM66.0 473.2h0.6v0.6h-0.6zM60.1 470.1h0.6v0.6h-0.6zM58.6 464.9h0.6v0.6h-0.6zM55.8 472.0h0.6v0.6h-0.6zM70.9 471.1h0.6v0.6h-0.6zM69.2 459.2h0.6v0.6h-0.6zM62.5 453.7h0.6v0.6h-0.6zM57.1 477.5h0.6v0.6h-0.6zM58.0 475.4h0.6v0.6h-0.6zM67.1 453.4h0.6v0.6h-0.6zM62.2 469.1h0.6v0.6h-0.6zM64.3 468.6h0.6v0.6h-0.6zM66.2 455.0h0.6v0.6h-0.6zM60.9 454.0h0.6v0.6h-0.6zM65.3 477.2h0.6v0.6h-0.6zM66.5 462.2h0.6v0.6h-0.6zM73.7 465.5h0.6v0.6h-0.6zM66.9 465.6h0.6v0.6h-0.6zM69.5 464.5h0.6v0.6h-0.6z" fill="#3c3c3c" fill-opacity="0.42"/>
<path d="M120.1 425.9h0.5v0.5h-0.5zM54.7 469.0h0.5v0.5h-0.5zM84.9 478.3h0.5v0.5h-0.5zM79.9 441.4h0.5v0.5h-0.5zM74.2 455.7h0.5v0.5h-0.5zM68.8 470.8h0.5v0.5h-0.5zM116.0 406.0h0.5v0.5h-0.5zM129.0 421.2h0.5v0.5h-0.5zM121.1 429.3h0.5v0.5h-0.5zM80.9 452.0h0.5v0.5h-0.5zM135.6 435.1h0.5v0.5h-0.5zM120.2 422.0h0.5v0.5h-0.5zM90.2 452.1h0.5v0.5h-0.5zM66.1 455.5h0.5v0.5h-0.5zM61.5 449.1h0.5v0.5h-0.5zM89.3 439.3h0.5v0.5h-0.5zM117.9 418.0h0.5v0.5h-0.5zM65.2 463.7h0.5v0.5h-0.5zM101.1 449.5h0.5v0.5h-0.5zM72.7 428.4h0.5v0.5h-0.5zM115.4 408.2h0.5v0.5h-0.5zM61.8 446.5h0.5v0.5h-0.5zM119.7 441.1h0.5v0.5h-0.5zM83.9 445.2h0.5v0.5h-0.5zM105.4 426.5h0.5v0.5h-0.5zM111.6 412.2h0.5v0.5h-0.5zM126.5 428.4h0.5v0.5h-0.5zM118.1 416.6h0.5v0.5h-0.5zM87.6 453.6h0.5v0.5h-0.5zM69.7 436.3h0.5v0.5h-0.5zM81.4 473.2h0.5v0.5h-0.5zM86.1 457.4h0.5v0.5h-0.5zM76.5 468.5h0.5v0.5h-0.5zM126.6 433.3h0.5v0.5h-0.5zM64.3 468.5h0.5v0.5h-0.5zM77.2 457.3h0.5v0.5h-0.5zM123.2 428.7h0.5v0.5h-0.5zM119.7 427.5h0.5v0.5h-0.5zM126.6 411.3h0.5v0.5h-0.5zM92.6 446.4h0.5v0.5h-0.5zM61.8 466.2h0.5v0.5h-0.5zM124.2 427.7h0.5v0.5h-0.5zM92.4 459.8h0.5v0.5h-0.5zM116.9 423.8h0.5v0.5h-0.5zM53.1 458.7h0.5v0.5h-0.5zM104.5 431.5h0.5v0.5h-0.5zM124.2 442.6h0.5v0.5h-0.5zM100.9 432.0h0.5v0.5h-0.5zM90.3 424.1h0.5v0.5h-0.5zM116.5 444.8h0.5v0.5h-0.5zM77.5 467.5h0.5v0.5h-0.5zM58.6 458.8h0.5v0.5h-0.5zM95.7 454.5h0.5v0.5h-0.5zM95.5 427.9h0.5v0.5h-0.5zM72.9 443.8h0.5v0.5h-0.5zM76.3 458.3h0.5v0.5h-0.5zM93.0 438.3h0.5v0.5h-0.5zM86.0 435.5h0.5v0.5h-0.5zM81.5 450.4h0.5v0.5h-0.5zM118.4 407.5h0.5v0.5h-0.5zM127.2 415.4h0.5v0.5h-0.5zM65.5 469.9h0.5v0.5h-0.5zM104.2 446.3h0.5v0.5h-0.5zM78.6 451.7h0.5v0.5h-0.5zM79.2 438.1h0.5v0.5h-0.5zM54.0 461.2h0.5v0.5h-0.5zM67.2 465.2h0.5v0.5h-0.5zM75.6 483.9h0.5v0.5h-0.5zM79.3 470.4h0.5v0.5h-0.5zM104.7 425.3h0.5v0.5h-0.5zM75.8 475.0h0.5v0.5h-0.5zM114.9 408.4h0.5v0.5h-0.5zM126.1 430.5h0.5v0.5h-0.5zM81.4 450.2h0.5v0.5h-0.5zM117.7 434.5h0.5v0.5h-0.5zM131.8 419.5h0.5v0.5h-0.5zM70.2 462.0h0.5v0.5h-0.5zM106.3 438.3h0.5v0.5h-0.5zM89.9 432.4h0.5v0.5h-0.5zM86.7 450.1h0.5v0.5h-0.5zM93.6 460.9h0.5v0.5h-0.5zM114.5 436.4h0.5v0.5h-0.5zM79.5 458.9h0.5v0.5h-0.5zM87.5 435.4h0.5v0.5h-0.5zM133.7 424.3h0.5v0.5h-0.5zM77.6 434.7h0.5v0.5h-0.5zM81.7 443.7h0.5v0.5h-0.5zM128.8 418.4h0.5v0.5h-0.5zM96.4 424.4h0.5v0.5h-0.5zM115.9 447.6h0.5v0.5h-0.5zM88.9 465.4h0.5v0.5h-0.5zM104.7 426.4h0.5v0.5h-0.5zM87.9 441.8h0.5v0.5h-0.5zM93.1 425.8h0.5v0.5h-0.5zM82.9 433.8h0.5v0.5h-0.5zM72.4 470.7h0.5v0.5h-0.5zM127.6 423.4h0.5v0.5h-0.5zM114.6 431.1h0.5v0.5h-0.5zM129.6 416.3h0.5v0.5h-0.5zM82.8 446.3h0.5v0.5h-0.5zM87.8 455.5h0.5v0.5h-0.5zM63.0 450.7h0.5v0.5h-0.5zM87.0 451.0h0.5v0.5h-0.5zM99.2 461.8h0.5v0.5h-0.5zM87.6 470.0h0.5v0.5h-0.5zM80.5 449.9h0.5v0.5h-0.5zM83.6 449.0h0.5v0.5h-0.5zM132.0 430.6h0.5v0.5h-0.5zM109.7 456.8h0.5v0.5h-0.5zM108.6 409.1h0.5v0.5h-0.5zM62.9 466.4h0.5v0.5h-0.5zM79.9 460.8h0.5v0.5h-0.5zM136.3 424.3h0.5v0.5h-0.5zM59.9 463.0h0.5v0.5h-0.5zM72.7 473.3h0.5v0.5h-0.5zM99.0 435.6h0.5v0.5h-0.5zM103.3 471.4h0.5v0.5h-0.5zM81.8 462.0h0.5v0.5h-0.5zM105.9 431.7h0.5v0.5h-0.5zM104.5 430.1h0.5v0.5h-0.5zM85.9 467.5h0.5v0.5h-0.5zM107.6 442.4h0.5v0.5h-0.5zM89.1 432.9h0.5v0.5h-0.5zM122.8 421.7h0.5v0.5h-0.5zM58.0 457.2h0.5v0.5h-0.5zM76.0 449.6h0.5v0.5h-0.5zM94.6 424.7h0.5v0.5h-0.5zM54.5 460.6h0.5v0.5h-0.5zM116.1 414.4h0.5v0.5h-0.5zM120.9 405.6h0.5v0.5h-0.5zM92.4 453.8h0.5v0.5h-0.5zM122.9 430.2h0.5v0.5h-0.5zM81.0 452.7h0.5v0.5h-0.5zM118.7 405.5h0.5v0.5h-0.5zM85.9 463.8h0.5v0.5h-0.5zM53.6 452.4h0.5v0.5h-0.5zM102.7 447.5h0.5v0.5h-0.5zM69.7 476.3h0.5v0.5h-0.5zM136.1 421.0h0.5v0.5h-0.5zM106.7 429.8h0.5v0.5h-0.5zM95.1 424.8h0.5v0.5h-0.5zM104.2 427.7h0.5v0.5h-0.5zM98.9 448.6h0.5v0.5h-0.5zM117.8 411.6h0.5v0.5h-0.5zM108.1 421.3h0.5v0.5h-0.5zM85.2 431.8h0.5v0.5h-0.5zM76.7 442.9h0.5v0.5h-0.5zM80.9 469.0h0.5v0.5h-0.5zM90.9 454.1h0.5v0.5h-0.5zM81.6 438.5h0.5v0.5h-0.5zM61.0 458.3h0.5v0.5h-0.5zM121.6 411.2h0.5v0.5h-0.5zM87.5 458.6h0.5v0.5h-0.5zM94.0 427.2h0.5v0.5h-0.5zM66.4 467.0h0.5v0.5h-0.5zM87.5 418.5h0.5v0.5h-0.5zM99.9 420.5h0.5v0.5h-0.5zM72.1 470.7h0.5v0.5h-0.5zM135.2 420.6h0.5v0.5h-0.5zM67.6 451.3h0.5v0.5h-0.5zM78.1 447.5h0.5v0.5h-0.5zM120.6 432.3h0.5v0.5h-0.5zM86.2 445.8h0.5v0.5h-0.5zM118.9 413.9h0.5v0.5h-0.5zM85.8 459.7h0.5v0.5h-0.5zM88.9 452.0h0.5v0.5h-0.5zM120.3 437.3h0.5v0.5h-0.5zM127.9 425.7h0.5v0.5h-0.5zM119.1 413.3h0.5v0.5h-0.5zM84.8 451.1h0.5v0.5h-0.5zM101.6 436.8h0.5v0.5h-0.5zM84.1 433.3h0.5v0.5h-0.5zM103.9 421.2h0.5v0.5h-0.5zM88.4 464.1h0.5v0.5h-0.5zM109.0 407.4h0.5v0.5h-0.5zM120.7 435.2h0.5v0.5h-0.5zM79.2 462.2h0.5v0.5h-0.5zM86.5 449.3h0.5v0.5h-0.5zM93.1 453.4h0.5v0.5h-0.5zM129.5 419.5h0.5v0.5h-0.5zM106.1 451.6h0.5v0.5h-0.5zM104.5 429.2h0.5v0.5h-0.5zM124.4 413.7h0.5v0.5h-0.5zM91.4 443.3h0.5v0.5h-0.5zM140.9 430.1h0.5v0.5h-0.5zM92.9 459.6h0.5v0.5h-0.5zM55.0 466.2h0.5v0.5h-0.5zM68.6 462.6h0.5v0.5h-0.5zM106.9 422.5h0.5v0.5h-0.5zM92.3 446.3h0.5v0.5h-0.5zM122.0 422.4h0.5v0.5h-0.5zM119.1 455.9h0.5v0.5h-0.5zM98.2 413.7h0.5v0.5h-0.5zM97.8 456.4h0.5v0.5h-0.5zM108.9 437.7h0.5v0.5h-0.5zM107.2 422.2h0.5v0.5h-0.5zM90.8 445.3h0.5v0.5h-0.5zM95.8 435.6h0.5v0.5h-0.5zM121.4 420.5h0.5v0.5h-0.5zM133.4 423.9h0.5v0.5h-0.5zM78.9 435.8h0.5v0.5h-0.5zM77.5 479.1h0.5v0.5h-0.5zM118.2 417.2h0.5v0.5h-0.5zM107.8 454.5h0.5v0.5h-0.5zM131.3 417.0h0.5v0.5h-0.5zM125.4 434.5h0.5v0.5h-0.5zM95.5 451.7h0.5v0.5h-0.5zM129.5 428.7h0.5v0.5h-0.5zM103.6 436.8h0.5v0.5h-0.5zM107.2 420.3h0.5v0.5h-0.5zM128.5 423.5h0.5v0.5h-0.5zM110.5 440.3h0.5v0.5h-0.5zM142.6 431.9h0.5v0.5h-0.5zM78.6 428.9h0.5v0.5h-0.5zM90.6 444.8h0.5v0.5h-0.5zM116.8 439.8h0.5v0.5h-0.5zM84.6 434.6h0.5v0.5h-0.5zM111.4 425.6h0.5v0.5h-0.5zM117.8 454.6h0.5v0.5h-0.5zM125.6 437.1h0.5v0.5h-0.5zM113.6 413.9h0.5v0.5h-0.5zM115.0 446.9h0.5v0.5h-0.5zM133.9 426.1h0.5v0.5h-0.5zM123.2 429.8h0.5v0.5h-0.5zM124.7 422.6h0.5v0.5h-0.5zM64.5 475.0h0.5v0.5h-0.5zM55.8 466.4h0.5v0.5h-0.5zM104.8 427.3h0.5v0.5h-0.5zM94.3 455.3h0.5v0.5h-0.5zM123.9 419.8h0.5v0.5h-0.5zM106.6 460.8h0.5v0.5h-0.5zM112.8 422.8h0.5v0.5h-0.5zM64.9 435.4h0.5v0.5h-0.5zM105.9 429.1h0.5v0.5h-0.5zM126.5 419.5h0.5v0.5h-0.5zM125.0 422.4h0.5v0.5h-0.5zM91.8 447.8h0.5v0.5h-0.5zM92.9 433.6h0.5v0.5h-0.5zM113.5 449.3h0.5v0.5h-0.5zM84.9 443.2h0.5v0.5h-0.5zM104.4 446.0h0.5v0.5h-0.5zM126.0 411.6h0.5v0.5h-0.5zM114.4 408.6h0.5v0.5h-0.5zM98.1 462.1h0.5v0.5h-0.5zM93.2 408.4h0.5v0.5h-0.5zM120.9 407.8h0.5v0.5h-0.5zM94.2 451.1h0.5v0.5h-0.5zM118.8 417.1h0.5v0.5h-0.5zM124.0 428.8h0.5v0.5h-0.5zM122.9 417.2h0.5v0.5h-0.5zM66.2 463.3h0.5v0.5h-0.5zM141.7 433.7h0.5v0.5h-0.5zM127.4 411.3h0.5v0.5h-0.5zM81.2 454.1h0.5v0.5h-0.5zM100.6 422.8h0.5v0.5h-0.5zM64.6 460.4h0.5v0.5h-0.5zM111.5 438.7h0.5v0.5h-0.5zM117.4 432.1h0.5v0.5h-0.5zM115.4 425.5h0.5v0.5h-0.5zM116.8 413.9h0.5v0.5h-0.5zM91.3 457.5h0.5v0.5h-0.5zM59.8 450.6h0.5v0.5h-0.5zM117.1 418.9h0.5v0.5h-0.5zM61.7 470.4h0.5v0.5h-0.5zM75.5 449.1h0.5v0.5h-0.5zM83.2 457.0h0.5v0.5h-0.5zM112.3 418.5h0.5v0.5h-0.5zM90.5 436.2h0.5v0.5h-0.5zM134.2 435.3h0.5v0.5h-0.5zM116.2 435.8h0.5v0.5h-0.5zM130.0 430.1h0.5v0.5h-0.5zM118.3 423.8h0.5v0.5h-0.5zM130.5 426.3h0.5v0.5h-0.5zM90.8 459.5h0.5v0.5h-0.5zM99.6 457.9h0.5v0.5h-0.5zM125.8 451.3h0.5v0.5h-0.5zM103.9 432.7h0.5v0.5h-0.5zM119.3 426.0h0.5v0.5h-0.5zM118.8 421.8h0.5v0.5h-0.5zM61.2 422.7h0.5v0.5h-0.5zM62.6 452.8h0.5v0.5h-0.5zM115.4 426.0h0.5v0.5h-0.5zM116.7 433.9h0.5v0.5h-0.5zM80.9 448.5h0.5v0.5h-0.5zM75.4 478.7h0.5v0.5h-0.5zM72.9 483.3h0.5v0.5h-0.5zM80.0 451.7h0.5v0.5h-0.5zM95.4 465.0h0.5v0.5h-0.5zM92.8 472.1h0.5v0.5h-0.5zM69.8 473.9h0.5v0.5h-0.5zM69.8 452.5h0.5v0.5h-0.5zM101.1 460.4h0.5v0.5h-0.5zM69.2 465.2h0.5v0.5h-0.5zM77.1 454.9h0.5v0.5h-0.5zM97.2 444.0h0.5v0.5h-0.5zM117.6 415.8h0.5v0.5h-0.5zM130.9 427.7h0.5v0.5h-0.5zM99.8 451.4h0.5v0.5h-0.5zM82.4 473.8h0.5v0.5h-0.5zM88.9 458.4h0.5v0.5h-0.5zM105.5 423.1h0.5v0.5h-0.5zM93.1 443.7h0.5v0.5h-0.5zM111.3 442.5h0.5v0.5h-0.5zM112.1 422.8h0.5v0.5h-0.5zM131.9 454.2h0.5v0.5h-0.5zM120.5 417.6h0.5v0.5h-0.5zM65.5 462.3h0.5v0.5h-0.5zM95.1 461.3h0.5v0.5h-0.5zM70.2 477.8h0.5v0.5h-0.5zM101.5 438.0h0.5v0.5h-0.5zM105.9 431.0h0.5v0.5h-0.5zM86.6 458.2h0.5v0.5h-0.5zM73.1 476.5h0.5v0.5h-0.5zM103.6 447.8h0.5v0.5h-0.5zM74.6 458.3h0.5v0.5h-0.5zM82.2 462.3h0.5v0.5h-0.5zM98.7 453.4h0.5v0.5h-0.5z" fill="#b8b8b8" fill-opacity="0.6"/>
<path d="M80.9 466.2h0.6v0.6h-0.6zM111.9 450.5h0.6v0.6h-0.6zM66.5 478.8h0.6v0.6h-0.6zM75.7 479.2h0.6v0.6h-0.6zM108.6 455.1h0.6v0.6h-0.6zM71.0 478.9h0.6v0.6h-0.6zM75.6 481.7h0.6v0.6h-0.6zM70.5 474.6h0.6v0.6h-0.6zM70.5 479.0h0.6v0.6h-0.6zM99.1 463.2h0.6v0.6h-0.6zM67.1 479.0h0.6v0.6h-0.6zM69.1 481.2h0.6v0.6h-0.6zM94.7 464.6h0.6v0.6h-0.6zM105.0 442.8h0.6v0.6h-0.6zM74.2 472.1h0.6v0.6h-0.6zM77.6 473.9h0.6v0.6h-0.6zM67.8 483.0h0.6v0.6h-0.6zM106.8 456.3h0.6v0.6h-0.6zM111.3 450.9h0.6v0.6h-0.6zM66.4 482.1h0.6v0.6h-0.6zM90.7 454.9h0.6v0.6h-0.6zM69.5 483.0h0.6v0.6h-0.6zM69.3 484.8h0.6v0.6h-0.6zM68.3 479.1h0.6v0.6h-0.6zM84.0 468.9h0.6v0.6h-0.6zM70.2 476.2h0.6v0.6h-0.6zM68.9 484.9h0.6v0.6h-0.6zM76.0 480.1h0.6v0.6h-0.6zM66.7 481.9h0.6v0.6h-0.6zM76.7 465.3h0.6v0.6h-0.6zM78.0 476.9h0.6v0.6h-0.6zM86.9 455.6h0.6v0.6h-0.6zM100.9 456.0h0.6v0.6h-0.6zM69.7 478.9h0.6v0.6h-0.6zM80.7 469.1h0.6v0.6h-0.6zM86.5 467.7h0.6v0.6h-0.6zM78.1 473.9h0.6v0.6h-0.6zM74.9 465.3h0.6v0.6h-0.6zM84.3 469.4h0.6v0.6h-0.6zM91.0 462.4h0.6v0.6h-0.6zM68.6 479.8h0.6v0.6h-0.6zM67.7 482.5h0.6v0.6h-0.6zM83.3 466.8h0.6v0.6h-0.6zM91.9 451.4h0.6v0.6h-0.6zM74.8 478.8h0.6v0.6h-0.6zM84.2 470.6h0.6v0.6h-0.6zM75.5 481.9h0.6v0.6h-0.6zM89.1 454.8h0.6v0.6h-0.6zM98.4 451.2h0.6v0.6h-0.6zM67.2 482.9h0.6v0.6h-0.6zM67.9 483.3h0.6v0.6h-0.6zM68.0 483.9h0.6v0.6h-0.6zM78.3 478.4h0.6v0.6h-0.6zM72.7 479.6h0.6v0.6h-0.6zM80.5 471.2h0.6v0.6h-0.6zM71.7 480.7h0.6v0.6h-0.6zM86.9 454.2h0.6v0.6h-0.6zM75.5 472.7h0.6v0.6h-0.6zM68.9 482.8h0.6v0.6h-0.6zM88.8 460.1h0.6v0.6h-0.6zM92.0 468.6h0.6v0.6h-0.6zM97.0 449.1h0.6v0.6h-0.6zM81.8 469.9h0.6v0.6h-0.6zM91.5 450.9h0.6v0.6h-0.6zM79.3 473.9h0.6v0.6h-0.6zM69.2 475.0h0.6v0.6h-0.6zM72.5 483.9h0.6v0.6h-0.6zM68.5 481.5h0.6v0.6h-0.6zM105.1 445.7h0.6v0.6h-0.6zM73.2 480.3h0.6v0.6h-0.6zM67.6 474.2h0.6v0.6h-0.6zM80.3 469.6h0.6v0.6h-0.6zM77.5 478.7h0.6v0.6h-0.6zM76.3 475.0h0.6v0.6h-0.6zM76.3 470.3h0.6v0.6h-0.6zM79.8 469.6h0.6v0.6h-0.6zM99.5 455.0h0.6v0.6h-0.6zM74.3 477.2h0.6v0.6h-0.6zM68.1 478.2h0.6v0.6h-0.6zM78.8 468.6h0.6v0.6h-0.6zM81.6 469.5h0.6v0.6h-0.6zM73.4 466.9h0.6v0.6h-0.6zM73.6 470.2h0.6v0.6h-0.6zM82.7 472.9h0.6v0.6h-0.6zM79.9 471.6h0.6v0.6h-0.6zM66.8 481.8h0.6v0.6h-0.6zM74.2 482.6h0.6v0.6h-0.6zM78.5 477.7h0.6v0.6h-0.6zM66.5 478.1h0.6v0.6h-0.6zM73.7 470.7h0.6v0.6h-0.6zM74.4 474.9h0.6v0.6h-0.6zM69.0 484.8h0.6v0.6h-0.6zM70.1 481.7h0.6v0.6h-0.6zM78.3 469.4h0.6v0.6h-0.6zM80.0 467.9h0.6v0.6h-0.6zM67.5 481.5h0.6v0.6h-0.6zM66.8 478.5h0.6v0.6h-0.6zM66.5 477.6h0.6v0.6h-0.6zM85.6 462.6h0.6v0.6h-0.6zM95.2 454.9h0.6v0.6h-0.6zM80.8 478.7h0.6v0.6h-0.6zM72.8 473.9h0.6v0.6h-0.6zM85.1 460.3h0.6v0.6h-0.6zM74.2 473.6h0.6v0.6h-0.6zM71.0 474.0h0.6v0.6h-0.6zM111.4 451.2h0.6v0.6h-0.6zM90.5 461.6h0.6v0.6h-0.6zM70.1 473.9h0.6v0.6h-0.6zM103.7 453.1h0.6v0.6h-0.6zM67.7 478.5h0.6v0.6h-0.6zM101.5 455.3h0.6v0.6h-0.6zM65.2 480.0h0.6v0.6h-0.6zM71.2 476.2h0.6v0.6h-0.6zM95.9 459.6h0.6v0.6h-0.6zM72.1 473.6h0.6v0.6h-0.6zM87.0 458.5h0.6v0.6h-0.6zM74.1 474.8h0.6v0.6h-0.6zM70.2 484.5h0.6v0.6h-0.6zM69.7 484.7h0.6v0.6h-0.6zM91.8 463.2h0.6v0.6h-0.6zM85.8 470.9h0.6v0.6h-0.6zM70.6 477.7h0.6v0.6h-0.6zM79.1 471.4h0.6v0.6h-0.6zM69.3 475.4h0.6v0.6h-0.6zM66.8 481.4h0.6v0.6h-0.6zM85.3 467.4h0.6v0.6h-0.6zM67.3 480.8h0.6v0.6h-0.6zM81.8 468.6h0.6v0.6h-0.6zM75.4 481.3h0.6v0.6h-0.6zM69.1 479.7h0.6v0.6h-0.6zM73.3 473.3h0.6v0.6h-0.6zM69.8 480.0h0.6v0.6h-0.6zM66.2 477.6h0.6v0.6h-0.6zM67.7 480.4h0.6v0.6h-0.6zM109.9 449.0h0.6v0.6h-0.6zM66.8 476.4h0.6v0.6h-0.6zM74.4 480.1h0.6v0.6h-0.6zM107.9 453.5h0.6v0.6h-0.6zM86.8 469.8h0.6v0.6h-0.6zM101.4 463.3h0.6v0.6h-0.6zM71.2 476.6h0.6v0.6h-0.6zM92.5 457.1h0.6v0.6h-0.6zM69.1 484.9h0.6v0.6h-0.6zM73.1 477.1h0.6v0.6h-0.6zM85.9 473.9h0.6v0.6h-0.6zM74.8 473.5h0.6v0.6h-0.6zM66.4 481.6h0.6v0.6h-0.6zM97.7 461.8h0.6v0.6h-0.6zM65.2 480.5h0.6v0.6h-0.6zM67.7 480.1h0.6v0.6h-0.6zM85.5 464.7h0.6v0.6h-0.6zM87.3 465.5h0.6v0.6h-0.6zM89.6 472.7h0.6v0.6h-0.6zM103.8 450.9h0.6v0.6h-0.6zM81.5 469.6h0.6v0.6h-0.6zM80.5 476.1h0.6v0.6h-0.6zM82.4 466.4h0.6v0.6h-0.6zM73.5 476.8h0.6v0.6h-0.6zM81.1 479.5h0.6v0.6h-0.6zM92.5 452.1h0.6v0.6h-0.6zM87.5 462.9h0.6v0.6h-0.6zM71.9 481.3h0.6v0.6h-0.6zM68.2 477.2h0.6v0.6h-0.6zM78.5 475.9h0.6v0.6h-0.6zM76.9 478.6h0.6v0.6h-0.6zM73.9 474.8h0.6v0.6h-0.6zM67.7 476.2h0.6v0.6h-0.6zM71.8 479.2h0.6v0.6h-0.6zM83.0 467.1h0.6v0.6h-0.6zM85.2 473.8h0.6v0.6h-0.6zM67.6 479.6h0.6v0.6h-0.6zM89.5 461.2h0.6v0.6h-0.6zM68.2 476.1h0.6v0.6h-0.6zM74.4 478.9h0.6v0.6h-0.6zM79.1 474.0h0.6v0.6h-0.6zM70.6 478.8h0.6v0.6h-0.6zM88.8 457.4h0.6v0.6h-0.6zM67.5 476.7h0.6v0.6h-0.6zM73.1 467.2h0.6v0.6h-0.6zM68.9 479.6h0.6v0.6h-0.6zM72.3 478.7h0.6v0.6h-0.6zM68.2 483.6h0.6v0.6h-0.6zM77.8 478.0h0.6v0.6h-0.6zM109.0 452.8h0.6v0.6h-0.6zM78.5 471.4h0.6v0.6h-0.6zM106.1 446.4h0.6v0.6h-0.6zM73.2 482.1h0.6v0.6h-0.6zM90.8 453.8h0.6v0.6h-0.6zM92.2 455.7h0.6v0.6h-0.6zM81.0 478.5h0.6v0.6h-0.6zM79.8 463.9h0.6v0.6h-0.6zM91.6 468.6h0.6v0.6h-0.6zM97.5 453.5h0.6v0.6h-0.6zM80.8 473.0h0.6v0.6h-0.6zM108.1 446.6h0.6v0.6h-0.6zM66.0 480.9h0.6v0.6h-0.6zM72.1 475.4h0.6v0.6h-0.6zM82.2 466.6h0.6v0.6h-0.6zM68.8 481.8h0.6v0.6h-0.6zM83.0 468.6h0.6v0.6h-0.6zM69.9 478.5h0.6v0.6h-0.6zM79.3 476.6h0.6v0.6h-0.6zM93.7 454.0h0.6v0.6h-0.6zM72.9 479.9h0.6v0.6h-0.6zM73.6 477.9h0.6v0.6h-0.6zM68.4 480.7h0.6v0.6h-0.6zM72.2 477.6h0.6v0.6h-0.6zM70.8 480.5h0.6v0.6h-0.6zM67.0 477.4h0.6v0.6h-0.6zM105.4 450.7h0.6v0.6h-0.6zM71.1 477.1h0.6v0.6h-0.6zM71.7 475.1h0.6v0.6h-0.6zM88.0 464.0h0.6v0.6h-0.6zM69.9 471.1h0.6v0.6h-0.6zM71.4 475.4h0.6v0.6h-0.6zM76.1 479.3h0.6v0.6h-0.6zM77.6 470.6h0.6v0.6h-0.6zM70.9 476.9h0.6v0.6h-0.6zM100.1 445.2h0.6v0.6h-0.6zM77.4 473.7h0.6v0.6h-0.6zM67.2 481.6h0.6v0.6h-0.6zM89.8 463.3h0.6v0.6h-0.6zM85.0 469.3h0.6v0.6h-0.6zM93.8 462.5h0.6v0.6h-0.6zM69.5 478.9h0.6v0.6h-0.6zM72.8 477.8h0.6v0.6h-0.6zM80.9 461.7h0.6v0.6h-0.6zM107.2 455.5h0.6v0.6h-0.6zM87.7 467.9h0.6v0.6h-0.6zM68.4 481.4h0.6v0.6h-0.6zM69.5 478.4h0.6v0.6h-0.6zM84.1 462.1h0.6v0.6h-0.6zM74.0 472.0h0.6v0.6h-0.6zM95.6 448.9h0.6v0.6h-0.6zM73.6 475.3h0.6v0.6h-0.6zM83.6 468.0h0.6v0.6h-0.6zM89.6 468.7h0.6v0.6h-0.6zM74.5 477.3h0.6v0.6h-0.6zM82.1 461.8h0.6v0.6h-0.6zM85.7 459.1h0.6v0.6h-0.6zM67.7 479.5h0.6v0.6h-0.6zM106.0 449.2h0.6v0.6h-0.6zM94.4 466.5h0.6v0.6h-0.6zM66.6 480.6h0.6v0.6h-0.6zM77.2 475.5h0.6v0.6h-0.6zM76.7 474.7h0.6v0.6h-0.6zM93.5 454.6h0.6v0.6h-0.6zM74.5 475.8h0.6v0.6h-0.6zM72.0 480.1h0.6v0.6h-0.6zM73.0 476.8h0.6v0.6h-0.6zM99.0 458.2h0.6v0.6h-0.6zM68.4 478.2h0.6v0.6h-0.6zM70.2 480.2h0.6v0.6h-0.6zM68.6 481.4h0.6v0.6h-0.6zM78.7 468.0h0.6v0.6h-0.6zM68.9 479.0h0.6v0.6h-0.6zM77.8 477.2h0.6v0.6h-0.6zM75.7 474.2h0.6v0.6h-0.6zM82.2 470.7h0.6v0.6h-0.6zM95.2 461.1h0.6v0.6h-0.6zM72.1 480.2h0.6v0.6h-0.6zM68.5 481.2h0.6v0.6h-0.6zM80.1 475.2h0.6v0.6h-0.6zM110.7 451.6h0.6v0.6h-0.6zM69.8 475.0h0.6v0.6h-0.6zM93.3 463.9h0.6v0.6h-0.6zM74.1 478.4h0.6v0.6h-0.6zM73.8 479.1h0.6v0.6h-0.6zM67.2 479.8h0.6v0.6h-0.6zM80.7 476.5h0.6v0.6h-0.6zM80.3 478.9h0.6v0.6h-0.6zM106.7 448.4h0.6v0.6h-0.6zM72.4 473.8h0.6v0.6h-0.6zM82.2 470.0h0.6v0.6h-0.6zM79.1 476.2h0.6v0.6h-0.6zM91.1 467.5h0.6v0.6h-0.6zM101.9 446.0h0.6v0.6h-0.6zM78.0 472.8h0.6v0.6h-0.6zM89.4 454.7h0.6v0.6h-0.6zM68.5 481.6h0.6v0.6h-0.6zM68.5 478.4h0.6v0.6h-0.6zM81.3 462.7h0.6v0.6h-0.6zM93.6 462.1h0.6v0.6h-0.6zM75.2 475.8h0.6v0.6h-0.6zM69.4 477.6h0.6v0.6h-0.6zM72.3 478.9h0.6v0.6h-0.6zM69.3 482.2h0.6v0.6h-0.6zM68.0 479.3h0.6v0.6h-0.6zM70.6 472.0h0.6v0.6h-0.6zM67.5 482.1h0.6v0.6h-0.6zM76.5 474.1h0.6v0.6h-0.6zM65.6 479.7h0.6v0.6h-0.6zM69.5 482.5h0.6v0.6h-0.6zM69.9 481.6h0.6v0.6h-0.6zM78.4 464.6h0.6v0.6h-0.6zM86.9 464.5h0.6v0.6h-0.6zM89.6 463.9h0.6v0.6h-0.6zM101.2 463.3h0.6v0.6h-0.6zM67.1 482.9h0.6v0.6h-0.6zM88.0 461.1h0.6v0.6h-0.6zM74.7 475.7h0.6v0.6h-0.6zM68.9 476.2h0.6v0.6h-0.6zM84.8 467.1h0.6v0.6h-0.6zM80.9 476.3h0.6v0.6h-0.6zM76.0 480.8h0.6v0.6h-0.6zM73.9 476.9h0.6v0.6h-0.6zM86.5 472.6h0.6v0.6h-0.6zM71.5 481.4h0.6v0.6h-0.6zM74.8 475.7h0.6v0.6h-0.6zM104.4 443.9h0.6v0.6h-0.6zM71.6 475.2h0.6v0.6h-0.6zM78.4 478.1h0.6v0.6h-0.6zM96.3 463.4h0.6v0.6h-0.6zM69.2 479.3h0.6v0.6h-0.6zM78.0 473.5h0.6v0.6h-0.6zM102.4 450.4h0.6v0.6h-0.6zM68.2 484.1h0.6v0.6h-0.6zM72.8 474.9h0.6v0.6h-0.6zM75.2 474.8h0.6v0.6h-0.6zM67.4 479.3h0.6v0.6h-0.6zM77.1 470.3h0.6v0.6h-0.6zM73.0 483.6h0.6v0.6h-0.6zM78.9 464.8h0.6v0.6h-0.6zM98.0 453.6h0.6v0.6h-0.6zM81.7 466.2h0.6v0.6h-0.6zM68.4 484.0h0.6v0.6h-0.6zM70.5 471.7h0.6v0.6h-0.6zM71.9 474.4h0.6v0.6h-0.6zM89.3 459.6h0.6v0.6h-0.6zM112.1 450.1h0.6v0.6h-0.6zM82.1 473.3h0.6v0.6h-0.6zM76.5 471.8h0.6v0.6h-0.6zM98.5 452.0h0.6v0.6h-0.6zM96.6 455.1h0.6v0.6h-0.6zM74.9 473.7h0.6v0.6h-0.6zM86.2 460.1h0.6v0.6h-0.6zM84.2 470.8h0.6v0.6h-0.6zM78.6 475.2h0.6v0.6h-0.6zM73.8 476.2h0.6v0.6h-0.6zM82.3 471.2h0.6v0.6h-0.6zM71.5 473.0h0.6v0.6h-0.6zM94.3 456.6h0.6v0.6h-0.6zM71.9 482.9h0.6v0.6h-0.6zM80.1 471.9h0.6v0.6h-0.6zM95.1 458.7h0.6v0.6h-0.6zM74.8 474.4h0.6v0.6h-0.6zM90.7 462.0h0.6v0.6h-0.6zM78.6 472.0h0.6v0.6h-0.6zM80.8 468.9h0.6v0.6h-0.6zM70.9 477.3h0.6v0.6h-0.6zM81.2 475.8h0.6v0.6h-0.6zM70.8 484.5h0.6v0.6h-0.6z" fill="#bb5550" fill-opacity="0.33"/>
<path d="M66.2 477.9h0.6v0.6h-0.6zM74.9 475.6h0.6v0.6h-0.6zM69.8 475.8h0.6v0.6h-0.6zM65.2 479.3h0.6v0.6h-0.6zM91.5 462.5h0.6v0.6h-0.6zM69.5 478.1h0.6v0.6h-0.6zM76.8 478.6h0.6v0.6h-0.6zM80.4 474.0h0.6v0.6h-0.6zM67.7 478.9h0.6v0.6h-0.6zM87.0 463.1h0.6v0.6h-0.6zM72.4 476.0h0.6v0.6h-0.6zM68.7 478.9h0.6v0.6h-0.6zM72.2 476.3h0.6v0.6h-0.6zM91.0 461.7h0.6v0.6h-0.6zM93.1 461.2h0.6v0.6h-0.6zM68.4 481.7h0.6v0.6h-0.6zM89.6 469.0h0.6v0.6h-0.6zM92.9 464.5h0.6v0.6h-0.6zM83.1 476.9h0.6v0.6h-0.6zM71.3 477.6h0.6v0.6h-0.6zM97.9 453.4h0.6v0.6h-0.6zM98.3 454.6h0.6v0.6h-0.6zM71.4 478.5h0.6v0.6h-0.6zM82.5 465.9h0.6v0.6h-0.6zM87.3 467.3h0.6v0.6h-0.6zM66.2 480.1h0.6v0.6h-0.6zM72.6 474.1h0.6v0.6h-0.6zM76.5 467.9h0.6v0.6h-0.6zM74.9 478.3h0.6v0.6h-0.6zM89.9 463.4h0.6v0.6h-0.6zM84.3 469.1h0.6v0.6h-0.6zM70.8 478.1h0.6v0.6h-0.6zM70.4 477.0h0.6v0.6h-0.6zM98.3 446.2h0.6v0.6h-0.6zM87.1 468.4h0.6v0.6h-0.6zM68.6 481.9h0.6v0.6h-0.6zM71.7 475.7h0.6v0.6h-0.6zM72.5 476.8h0.6v0.6h-0.6zM85.9 463.0h0.6v0.6h-0.6zM90.9 451.1h0.6v0.6h-0.6zM80.8 466.0h0.6v0.6h-0.6zM84.7 470.4h0.6v0.6h-0.6zM94.7 458.1h0.6v0.6h-0.6zM86.0 473.1h0.6v0.6h-0.6zM70.5 477.2h0.6v0.6h-0.6zM80.6 465.6h0.6v0.6h-0.6zM70.6 479.0h0.6v0.6h-0.6zM68.9 480.4h0.6v0.6h-0.6zM67.5 481.5h0.6v0.6h-0.6zM84.3 467.3h0.6v0.6h-0.6zM96.1 457.1h0.6v0.6h-0.6zM70.3 484.6h0.6v0.6h-0.6zM84.1 465.7h0.6v0.6h-0.6zM107.2 450.7h0.6v0.6h-0.6zM67.6 474.3h0.6v0.6h-0.6zM66.7 478.8h0.6v0.6h-0.6zM70.3 471.0h0.6v0.6h-0.6zM75.5 464.6h0.6v0.6h-0.6zM73.6 476.1h0.6v0.6h-0.6zM70.3 482.3h0.6v0.6h-0.6zM70.2 476.9h0.6v0.6h-0.6zM87.5 464.1h0.6v0.6h-0.6zM96.8 463.5h0.6v0.6h-0.6zM69.3 480.6h0.6v0.6h-0.6zM82.5 466.0h0.6v0.6h-0.6zM68.3 476.4h0.6v0.6h-0.6zM73.4 470.1h0.6v0.6h-0.6zM82.4 463.1h0.6v0.6h-0.6zM87.2 467.7h0.6v0.6h-0.6zM79.3 472.0h0.6v0.6h-0.6zM78.5 468.9h0.6v0.6h-0.6zM85.0 477.0h0.6v0.6h-0.6zM91.6 458.2h0.6v0.6h-0.6zM75.2 476.0h0.6v0.6h-0.6zM75.1 476.7h0.6v0.6h-0.6zM87.2 464.1h0.6v0.6h-0.6zM82.9 469.4h0.6v0.6h-0.6zM92.1 450.3h0.6v0.6h-0.6zM67.8 483.7h0.6v0.6h-0.6zM90.1 462.7h0.6v0.6h-0.6zM70.8 477.9h0.6v0.6h-0.6zM84.2 474.1h0.6v0.6h-0.6zM89.9 455.2h0.6v0.6h-0.6zM68.5 478.6h0.6v0.6h-0.6zM79.8 471.9h0.6v0.6h-0.6zM76.1 475.3h0.6v0.6h-0.6zM95.5 454.4h0.6v0.6h-0.6zM77.1 463.0h0.6v0.6h-0.6zM70.3 479.8h0.6v0.6h-0.6zM69.8 477.9h0.6v0.6h-0.6zM89.7 460.7h0.6v0.6h-0.6zM85.2 462.5h0.6v0.6h-0.6zM65.3 478.3h0.6v0.6h-0.6zM70.6 479.8h0.6v0.6h-0.6zM77.6 469.7h0.6v0.6h-0.6zM78.6 464.2h0.6v0.6h-0.6zM112.1 450.0h0.6v0.6h-0.6zM74.6 480.7h0.6v0.6h-0.6zM71.7 478.1h0.6v0.6h-0.6zM71.8 475.1h0.6v0.6h-0.6zM81.2 464.1h0.6v0.6h-0.6zM73.4 478.2h0.6v0.6h-0.6zM105.1 458.2h0.6v0.6h-0.6zM73.4 474.9h0.6v0.6h-0.6zM69.0 480.3h0.6v0.6h-0.6zM70.2 481.9h0.6v0.6h-0.6zM106.2 453.3h0.6v0.6h-0.6zM73.6 480.5h0.6v0.6h-0.6zM77.3 479.7h0.6v0.6h-0.6zM72.5 480.2h0.6v0.6h-0.6zM69.0 479.3h0.6v0.6h-0.6zM79.9 465.9h0.6v0.6h-0.6zM81.1 461.8h0.6v0.6h-0.6zM80.8 464.6h0.6v0.6h-0.6zM86.6 473.6h0.6v0.6h-0.6zM65.8 480.0h0.6v0.6h-0.6zM68.3 480.0h0.6v0.6h-0.6zM67.2 481.3h0.6v0.6h-0.6zM71.2 476.2h0.6v0.6h-0.6zM88.5 465.0h0.6v0.6h-0.6zM72.1 481.8h0.6v0.6h-0.6zM105.9 445.6h0.6v0.6h-0.6zM89.9 451.9h0.6v0.6h-0.6zM80.8 473.1h0.6v0.6h-0.6zM67.9 478.6h0.6v0.6h-0.6zM72.2 471.9h0.6v0.6h-0.6zM102.7 446.7h0.6v0.6h-0.6zM72.2 477.0h0.6v0.6h-0.6zM71.9 480.0h0.6v0.6h-0.6zM72.1 478.6h0.6v0.6h-0.6zM76.5 476.1h0.6v0.6h-0.6zM77.9 478.2h0.6v0.6h-0.6zM68.4 483.7h0.6v0.6h-0.6zM75.2 482.7h0.6v0.6h-0.6zM68.3 481.8h0.6v0.6h-0.6zM103.0 448.7h0.6v0.6h-0.6zM77.7 465.2h0.6v0.6h-0.6zM70.9 480.5h0.6v0.6h-0.6zM85.7 471.0h0.6v0.6h-0.6zM76.0 468.6h0.6v0.6h-0.6zM72.7 473.5h0.6v0.6h-0.6zM94.0 463.1h0.6v0.6h-0.6zM81.0 471.6h0.6v0.6h-0.6zM92.5 463.7h0.6v0.6h-0.6zM72.7 481.6h0.6v0.6h-0.6zM97.5 456.9h0.6v0.6h-0.6zM97.6 465.6h0.6v0.6h-0.6zM67.8 476.4h0.6v0.6h-0.6zM66.7 475.6h0.6v0.6h-0.6zM71.3 479.5h0.6v0.6h-0.6zM75.8 467.0h0.6v0.6h-0.6zM96.4 450.0h0.6v0.6h-0.6zM75.4 470.7h0.6v0.6h-0.6zM91.4 469.6h0.6v0.6h-0.6zM96.5 447.3h0.6v0.6h-0.6zM86.9 471.4h0.6v0.6h-0.6zM94.3 458.4h0.6v0.6h-0.6zM82.2 473.4h0.6v0.6h-0.6zM76.4 468.5h0.6v0.6h-0.6zM89.0 466.4h0.6v0.6h-0.6zM96.6 461.9h0.6v0.6h-0.6zM105.4 452.7h0.6v0.6h-0.6zM99.2 455.9h0.6v0.6h-0.6zM73.5 471.9h0.6v0.6h-0.6zM87.5 465.7h0.6v0.6h-0.6zM79.9 470.9h0.6v0.6h-0.6zM66.7 482.4h0.6v0.6h-0.6zM70.8 473.6h0.6v0.6h-0.6zM78.5 476.3h0.6v0.6h-0.6zM103.2 458.9h0.6v0.6h-0.6zM77.9 475.7h0.6v0.6h-0.6zM69.2 473.9h0.6v0.6h-0.6zM77.7 473.4h0.6v0.6h-0.6zM67.9 483.8h0.6v0.6h-0.6zM72.7 480.7h0.6v0.6h-0.6zM69.3 482.6h0.6v0.6h-0.6zM67.0 480.8h0.6v0.6h-0.6zM79.5 476.8h0.6v0.6h-0.6zM71.8 475.2h0.6v0.6h-0.6zM72.1 477.3h0.6v0.6h-0.6zM69.7 478.1h0.6v0.6h-0.6zM68.7 480.0h0.6v0.6h-0.6zM71.0 478.0h0.6v0.6h-0.6zM71.4 483.7h0.6v0.6h-0.6zM81.4 470.7h0.6v0.6h-0.6zM67.4 478.9h0.6v0.6h-0.6zM70.7 480.6h0.6v0.6h-0.6zM70.3 480.3h0.6v0.6h-0.6zM98.3 452.7h0.6v0.6h-0.6zM84.5 470.4h0.6v0.6h-0.6zM98.9 455.3h0.6v0.6h-0.6zM67.4 479.8h0.6v0.6h-0.6zM75.6 480.6h0.6v0.6h-0.6zM72.2 470.5h0.6v0.6h-0.6zM79.8 468.6h0.6v0.6h-0.6zM67.7 481.9h0.6v0.6h-0.6zM69.7 476.8h0.6v0.6h-0.6zM80.3 468.9h0.6v0.6h-0.6zM65.5 477.8h0.6v0.6h-0.6zM80.1 463.3h0.6v0.6h-0.6zM69.4 478.6h0.6v0.6h-0.6zM79.2 472.4h0.6v0.6h-0.6zM87.8 467.6h0.6v0.6h-0.6zM79.1 463.5h0.6v0.6h-0.6zM71.2 483.3h0.6v0.6h-0.6zM71.9 476.2h0.6v0.6h-0.6zM87.0 467.6h0.6v0.6h-0.6zM74.6 475.8h0.6v0.6h-0.6zM67.8 483.5h0.6v0.6h-0.6zM84.0 468.9h0.6v0.6h-0.6zM67.3 476.4h0.6v0.6h-0.6zM75.4 470.2h0.6v0.6h-0.6zM67.0 481.6h0.6v0.6h-0.6zM73.9 478.4h0.6v0.6h-0.6zM75.7 475.6h0.6v0.6h-0.6zM74.2 475.4h0.6v0.6h-0.6zM72.9 481.4h0.6v0.6h-0.6zM78.3 476.7h0.6v0.6h-0.6zM81.3 464.0h0.6v0.6h-0.6zM66.9 475.9h0.6v0.6h-0.6zM68.9 481.7h0.6v0.6h-0.6zM73.3 469.7h0.6v0.6h-0.6zM75.2 472.9h0.6v0.6h-0.6zM91.1 451.0h0.6v0.6h-0.6zM81.9 470.7h0.6v0.6h-0.6zM87.6 460.5h0.6v0.6h-0.6zM70.2 470.6h0.6v0.6h-0.6zM107.4 447.8h0.6v0.6h-0.6zM85.5 458.5h0.6v0.6h-0.6zM96.9 467.5h0.6v0.6h-0.6zM107.1 451.9h0.6v0.6h-0.6zM73.4 472.3h0.6v0.6h-0.6zM85.4 469.3h0.6v0.6h-0.6zM68.9 480.8h0.6v0.6h-0.6zM72.8 483.7h0.6v0.6h-0.6zM69.4 479.8h0.6v0.6h-0.6zM96.8 455.7h0.6v0.6h-0.6zM103.2 449.9h0.6v0.6h-0.6zM89.9 462.8h0.6v0.6h-0.6zM71.4 477.5h0.6v0.6h-0.6zM69.5 476.5h0.6v0.6h-0.6zM100.4 450.8h0.6v0.6h-0.6zM90.9 462.9h0.6v0.6h-0.6zM99.6 445.5h0.6v0.6h-0.6zM77.6 474.5h0.6v0.6h-0.6zM68.4 480.7h0.6v0.6h-0.6zM76.3 476.2h0.6v0.6h-0.6zM76.8 463.2h0.6v0.6h-0.6zM71.8 475.0h0.6v0.6h-0.6zM69.5 476.7h0.6v0.6h-0.6zM82.5 462.7h0.6v0.6h-0.6zM87.3 466.7h0.6v0.6h-0.6zM75.7 478.9h0.6v0.6h-0.6zM68.6 483.4h0.6v0.6h-0.6zM96.5 456.3h0.6v0.6h-0.6zM80.6 476.7h0.6v0.6h-0.6zM71.4 476.5h0.6v0.6h-0.6zM76.8 476.3h0.6v0.6h-0.6zM75.9 473.6h0.6v0.6h-0.6zM84.7 459.6h0.6v0.6h-0.6zM71.3 476.1h0.6v0.6h-0.6zM81.9 465.1h0.6v0.6h-0.6zM77.6 468.3h0.6v0.6h-0.6zM67.0 481.0h0.6v0.6h-0.6zM76.6 469.2h0.6v0.6h-0.6zM82.4 466.7h0.6v0.6h-0.6zM75.2 472.4h0.6v0.6h-0.6zM77.3 472.9h0.6v0.6h-0.6zM73.1 479.4h0.6v0.6h-0.6zM67.6 480.5h0.6v0.6h-0.6zM102.8 443.8h0.6v0.6h-0.6zM73.2 483.6h0.6v0.6h-0.6zM78.6 474.3h0.6v0.6h-0.6zM77.3 471.0h0.6v0.6h-0.6zM68.8 481.3h0.6v0.6h-0.6zM67.5 481.0h0.6v0.6h-0.6zM91.5 465.7h0.6v0.6h-0.6zM81.3 462.1h0.6v0.6h-0.6zM70.7 482.2h0.6v0.6h-0.6zM79.2 469.5h0.6v0.6h-0.6zM78.5 468.7h0.6v0.6h-0.6zM74.4 478.9h0.6v0.6h-0.6zM85.7 470.2h0.6v0.6h-0.6zM86.0 460.2h0.6v0.6h-0.6zM70.3 476.2h0.6v0.6h-0.6zM77.3 469.4h0.6v0.6h-0.6zM72.8 481.5h0.6v0.6h-0.6zM76.6 470.0h0.6v0.6h-0.6zM78.2 474.4h0.6v0.6h-0.6zM81.4 469.0h0.6v0.6h-0.6zM86.3 464.5h0.6v0.6h-0.6zM73.4 476.7h0.6v0.6h-0.6zM70.0 474.7h0.6v0.6h-0.6zM72.6 475.5h0.6v0.6h-0.6zM78.4 474.4h0.6v0.6h-0.6zM79.0 475.5h0.6v0.6h-0.6zM69.2 478.7h0.6v0.6h-0.6zM67.6 482.8h0.6v0.6h-0.6zM100.6 453.7h0.6v0.6h-0.6zM91.9 466.9h0.6v0.6h-0.6zM78.2 463.4h0.6v0.6h-0.6zM85.3 470.5h0.6v0.6h-0.6zM84.9 460.3h0.6v0.6h-0.6zM69.6 480.2h0.6v0.6h-0.6zM89.5 470.7h0.6v0.6h-0.6zM106.8 446.4h0.6v0.6h-0.6zM70.9 479.4h0.6v0.6h-0.6zM70.4 475.1h0.6v0.6h-0.6zM76.9 475.4h0.6v0.6h-0.6zM90.8 466.6h0.6v0.6h-0.6zM69.3 482.9h0.6v0.6h-0.6zM71.0 479.2h0.6v0.6h-0.6zM69.3 475.7h0.6v0.6h-0.6zM72.5 482.3h0.6v0.6h-0.6zM91.4 471.3h0.6v0.6h-0.6zM71.1 477.9h0.6v0.6h-0.6zM71.9 478.3h0.6v0.6h-0.6zM99.7 453.8h0.6v0.6h-0.6zM74.1 479.1h0.6v0.6h-0.6zM68.7 481.5h0.6v0.6h-0.6zM98.5 463.8h0.6v0.6h-0.6zM78.2 478.6h0.6v0.6h-0.6zM66.9 482.2h0.6v0.6h-0.6zM77.3 465.3h0.6v0.6h-0.6zM88.9 466.6h0.6v0.6h-0.6zM71.5 477.1h0.6v0.6h-0.6zM85.5 473.2h0.6v0.6h-0.6zM75.1 477.6h0.6v0.6h-0.6zM68.0 474.8h0.6v0.6h-0.6zM89.8 461.9h0.6v0.6h-0.6zM71.5 471.6h0.6v0.6h-0.6zM69.5 476.7h0.6v0.6h-0.6zM73.0 479.1h0.6v0.6h-0.6zM79.5 465.4h0.6v0.6h-0.6zM66.0 480.7h0.6v0.6h-0.6zM80.0 474.0h0.6v0.6h-0.6zM71.3 480.6h0.6v0.6h-0.6zM90.6 464.1h0.6v0.6h-0.6zM76.0 479.0h0.6v0.6h-0.6zM68.8 476.9h0.6v0.6h-0.6zM98.1 466.5h0.6v0.6h-0.6zM82.6 472.6h0.6v0.6h-0.6zM79.6 473.3h0.6v0.6h-0.6zM76.5 463.6h0.6v0.6h-0.6zM69.3 480.5h0.6v0.6h-0.6zM71.8 477.3h0.6v0.6h-0.6zM80.6 470.5h0.6v0.6h-0.6zM70.3 483.0h0.6v0.6h-0.6zM78.2 468.6h0.6v0.6h-0.6zM79.1 461.0h0.6v0.6h-0.6zM74.5 476.6h0.6v0.6h-0.6zM93.2 467.0h0.6v0.6h-0.6z" fill="#bb5550" fill-opacity="0.33"/>
<path d="M80.8 472.7h0.6v0.6h-0.6zM81.2 466.3h0.6v0.6h-0.6zM69.7 477.5h0.6v0.6h-0.6zM80.5 470.1h0.6v0.6h-0.6zM84.9 464.4h0.6v0.6h-0.6zM71.0 484.1h0.6v0.6h-0.6zM88.3 468.1h0.6v0.6h-0.6zM108.6 446.7h0.6v0.6h-0.6zM89.7 455.8h0.6v0.6h-0.6zM91.9 463.5h0.6v0.6h-0.6zM66.3 478.6h0.6v0.6h-0.6zM69.8 472.7h0.6v0.6h-0.6zM100.3 450.1h0.6v0.6h-0.6zM76.5 476.6h0.6v0.6h-0.6zM79.9 470.4h0.6v0.6h-0.6zM81.7 464.3h0.6v0.6h-0.6zM111.7 450.9h0.6v0.6h-0.6zM68.4 480.8h0.6v0.6h-0.6zM87.3 458.0h0.6v0.6h-0.6zM70.8 483.0h0.6v0.6h-0.6zM72.7 478.1h0.6v0.6h-0.6zM77.1 474.2h0.6v0.6h-0.6zM82.9 466.5h0.6v0.6h-0.6zM69.5 474.3h0.6v0.6h-0.6zM74.4 476.4h0.6v0.6h-0.6zM83.9 469.9h0.6v0.6h-0.6zM67.0 480.4h0.6v0.6h-0.6zM74.4 478.9h0.6v0.6h-0.6zM76.1 463.9h0.6v0.6h-0.6zM76.9 473.7h0.6v0.6h-0.6zM82.7 465.8h0.6v0.6h-0.6zM79.7 480.3h0.6v0.6h-0.6zM95.3 463.0h0.6v0.6h-0.6zM102.1 447.9h0.6v0.6h-0.6zM67.8 479.7h0.6v0.6h-0.6zM79.3 468.6h0.6v0.6h-0.6zM68.1 482.4h0.6v0.6h-0.6zM86.9 461.4h0.6v0.6h-0.6zM72.5 479.5h0.6v0.6h-0.6zM88.7 458.8h0.6v0.6h-0.6zM73.0 476.6h0.6v0.6h-0.6zM77.8 468.8h0.6v0.6h-0.6zM84.9 455.9h0.6v0.6h-0.6zM89.4 471.5h0.6v0.6h-0.6zM78.3 476.8h0.6v0.6h-0.6zM76.1 471.6h0.6v0.6h-0.6zM79.7 480.4h0.6v0.6h-0.6zM80.8 465.1h0.6v0.6h-0.6zM106.3 455.8h0.6v0.6h-0.6zM67.9 481.8h0.6v0.6h-0.6zM78.6 474.5h0.6v0.6h-0.6zM69.3 480.9h0.6v0.6h-0.6zM85.1 455.7h0.6v0.6h-0.6zM105.3 458.5h0.6v0.6h-0.6zM67.0 478.1h0.6v0.6h-0.6zM69.4 477.8h0.6v0.6h-0.6zM75.9 473.5h0.6v0.6h-0.6zM86.7 465.3h0.6v0.6h-0.6zM105.6 451.1h0.6v0.6h-0.6zM69.7 484.1h0.6v0.6h-0.6zM84.9 471.6h0.6v0.6h-0.6zM94.3 455.1h0.6v0.6h-0.6zM70.9 477.6h0.6v0.6h-0.6zM73.5 481.1h0.6v0.6h-0.6zM71.6 474.1h0.6v0.6h-0.6zM84.1 472.4h0.6v0.6h-0.6zM74.4 477.6h0.6v0.6h-0.6zM68.5 481.0h0.6v0.6h-0.6zM85.2 474.3h0.6v0.6h-0.6zM74.4 475.7h0.6v0.6h-0.6zM76.1 465.3h0.6v0.6h-0.6zM99.2 457.0h0.6v0.6h-0.6zM107.6 451.1h0.6v0.6h-0.6zM86.3 468.4h0.6v0.6h-0.6zM88.2 467.1h0.6v0.6h-0.6zM88.1 463.2h0.6v0.6h-0.6zM66.3 477.7h0.6v0.6h-0.6zM73.1 478.1h0.6v0.6h-0.6zM69.2 477.7h0.6v0.6h-0.6zM80.4 479.9h0.6v0.6h-0.6zM103.5 457.8h0.6v0.6h-0.6zM76.8 468.3h0.6v0.6h-0.6zM77.9 470.4h0.6v0.6h-0.6zM89.3 465.9h0.6v0.6h-0.6zM70.1 481.7h0.6v0.6h-0.6zM75.5 475.2h0.6v0.6h-0.6zM88.2 468.2h0.6v0.6h-0.6zM74.5 483.1h0.6v0.6h-0.6zM96.3 468.1h0.6v0.6h-0.6zM81.6 476.0h0.6v0.6h-0.6zM72.9 483.7h0.6v0.6h-0.6zM71.7 474.7h0.6v0.6h-0.6zM97.0 460.6h0.6v0.6h-0.6zM77.8 474.1h0.6v0.6h-0.6zM73.6 475.3h0.6v0.6h-0.6zM73.9 476.5h0.6v0.6h-0.6zM78.2 480.7h0.6v0.6h-0.6zM70.3 480.1h0.6v0.6h-0.6zM81.1 476.5h0.6v0.6h-0.6zM76.7 471.8h0.6v0.6h-0.6zM74.6 475.5h0.6v0.6h-0.6zM82.6 471.5h0.6v0.6h-0.6zM74.9 476.6h0.6v0.6h-0.6zM83.5 470.3h0.6v0.6h-0.6zM89.7 467.8h0.6v0.6h-0.6zM81.6 464.8h0.6v0.6h-0.6zM72.7 479.8h0.6v0.6h-0.6zM99.0 455.3h0.6v0.6h-0.6zM89.5 454.7h0.6v0.6h-0.6zM72.4 482.5h0.6v0.6h-0.6zM66.9 481.1h0.6v0.6h-0.6zM70.7 481.3h0.6v0.6h-0.6zM83.8 477.7h0.6v0.6h-0.6zM70.9 476.4h0.6v0.6h-0.6zM74.3 476.4h0.6v0.6h-0.6zM66.9 479.4h0.6v0.6h-0.6zM67.3 482.9h0.6v0.6h-0.6zM73.5 472.0h0.6v0.6h-0.6zM67.7 481.7h0.6v0.6h-0.6zM69.3 477.0h0.6v0.6h-0.6zM69.5 483.2h0.6v0.6h-0.6zM109.0 453.3h0.6v0.6h-0.6zM86.3 463.2h0.6v0.6h-0.6zM71.1 475.6h0.6v0.6h-0.6zM70.2 484.3h0.6v0.6h-0.6zM79.5 469.0h0.6v0.6h-0.6zM78.8 472.6h0.6v0.6h-0.6zM72.2 476.0h0.6v0.6h-0.6zM73.2 479.5h0.6v0.6h-0.6zM94.2 459.4h0.6v0.6h-0.6zM79.2 473.1h0.6v0.6h-0.6zM83.2 464.6h0.6v0.6h-0.6zM80.3 464.7h0.6v0.6h-0.6zM78.7 469.0h0.6v0.6h-0.6zM73.7 482.6h0.6v0.6h-0.6zM80.4 472.4h0.6v0.6h-0.6zM84.8 462.0h0.6v0.6h-0.6zM71.3 476.7h0.6v0.6h-0.6zM81.3 479.4h0.6v0.6h-0.6zM72.8 474.8h0.6v0.6h-0.6zM68.6 478.8h0.6v0.6h-0.6zM70.0 479.2h0.6v0.6h-0.6zM67.5 482.2h0.6v0.6h-0.6zM74.5 472.1h0.6v0.6h-0.6zM69.5 478.1h0.6v0.6h-0.6zM74.4 479.1h0.6v0.6h-0.6zM66.9 479.8h0.6v0.6h-0.6zM94.0 460.7h0.6v0.6h-0.6zM83.4 458.7h0.6v0.6h-0.6zM71.3 474.0h0.6v0.6h-0.6zM76.8 465.3h0.6v0.6h-0.6zM76.6 473.4h0.6v0.6h-0.6zM67.8 483.5h0.6v0.6h-0.6zM93.2 449.5h0.6v0.6h-0.6zM73.4 479.7h0.6v0.6h-0.6zM87.1 464.6h0.6v0.6h-0.6zM76.6 475.6h0.6v0.6h-0.6zM72.8 478.4h0.6v0.6h-0.6zM74.7 472.9h0.6v0.6h-0.6zM86.8 459.1h0.6v0.6h-0.6zM75.5 473.2h0.6v0.6h-0.6zM72.9 478.9h0.6v0.6h-0.6zM90.4 457.8h0.6v0.6h-0.6zM83.2 474.8h0.6v0.6h-0.6zM83.6 462.9h0.6v0.6h-0.6zM103.6 444.9h0.6v0.6h-0.6zM68.2 481.1h0.6v0.6h-0.6zM72.9 467.4h0.6v0.6h-0.6zM90.4 458.8h0.6v0.6h-0.6zM72.1 482.6h0.6v0.6h-0.6zM79.9 475.5h0.6v0.6h-0.6zM75.9 477.4h0.6v0.6h-0.6zM80.3 474.1h0.6v0.6h-0.6zM66.3 477.3h0.6v0.6h-0.6zM79.2 477.9h0.6v0.6h-0.6zM85.4 472.7h0.6v0.6h-0.6zM85.3 460.1h0.6v0.6h-0.6zM71.5 481.7h0.6v0.6h-0.6zM94.6 463.1h0.6v0.6h-0.6zM89.2 468.1h0.6v0.6h-0.6zM68.3 481.0h0.6v0.6h-0.6zM74.4 479.9h0.6v0.6h-0.6zM75.8 479.2h0.6v0.6h-0.6zM73.8 473.9h0.6v0.6h-0.6zM87.6 453.8h0.6v0.6h-0.6zM95.0 456.6h0.6v0.6h-0.6zM84.4 476.4h0.6v0.6h-0.6zM75.1 467.0h0.6v0.6h-0.6zM81.6 470.8h0.6v0.6h-0.6zM78.0 466.0h0.6v0.6h-0.6zM64.8 479.8h0.6v0.6h-0.6zM67.4 479.5h0.6v0.6h-0.6zM68.7 476.1h0.6v0.6h-0.6zM101.8 449.3h0.6v0.6h-0.6zM69.6 477.0h0.6v0.6h-0.6zM73.1 481.6h0.6v0.6h-0.6zM92.6 464.3h0.6v0.6h-0.6zM76.8 468.2h0.6v0.6h-0.6zM74.2 471.7h0.6v0.6h-0.6zM78.4 477.0h0.6v0.6h-0.6zM68.0 478.7h0.6v0.6h-0.6zM72.8 476.5h0.6v0.6h-0.6zM80.3 470.6h0.6v0.6h-0.6zM72.8 479.5h0.6v0.6h-0.6zM81.3 472.4h0.6v0.6h-0.6zM85.0 459.3h0.6v0.6h-0.6zM64.9 479.2h0.6v0.6h-0.6zM89.7 455.7h0.6v0.6h-0.6zM95.0 467.6h0.6v0.6h-0.6zM69.1 481.0h0.6v0.6h-0.6zM92.2 460.9h0.6v0.6h-0.6zM73.3 474.4h0.6v0.6h-0.6zM79.9 471.0h0.6v0.6h-0.6zM75.3 480.5h0.6v0.6h-0.6zM75.0 478.9h0.6v0.6h-0.6zM80.8 472.0h0.6v0.6h-0.6zM68.2 483.0h0.6v0.6h-0.6zM68.7 476.3h0.6v0.6h-0.6zM81.8 472.7h0.6v0.6h-0.6zM89.0 471.3h0.6v0.6h-0.6zM67.9 482.2h0.6v0.6h-0.6zM96.0 454.9h0.6v0.6h-0.6zM82.0 471.9h0.6v0.6h-0.6zM95.7 450.4h0.6v0.6h-0.6zM89.7 472.9h0.6v0.6h-0.6zM70.5 476.4h0.6v0.6h-0.6zM75.5 480.1h0.6v0.6h-0.6zM71.2 478.8h0.6v0.6h-0.6zM83.0 474.0h0.6v0.6h-0.6zM88.4 463.8h0.6v0.6h-0.6zM79.7 471.1h0.6v0.6h-0.6zM103.3 452.8h0.6v0.6h-0.6zM71.0 475.9h0.6v0.6h-0.6zM82.3 466.6h0.6v0.6h-0.6zM81.6 466.9h0.6v0.6h-0.6zM75.0 475.5h0.6v0.6h-0.6zM75.0 474.7h0.6v0.6h-0.6zM71.4 483.0h0.6v0.6h-0.6zM85.3 460.6h0.6v0.6h-0.6zM104.9 447.1h0.6v0.6h-0.6zM74.6 475.0h0.6v0.6h-0.6zM88.2 453.2h0.6v0.6h-0.6zM88.5 466.6h0.6v0.6h-0.6zM90.4 466.3h0.6v0.6h-0.6zM95.0 460.1h0.6v0.6h-0.6zM70.4 480.2h0.6v0.6h-0.6zM68.2 479.7h0.6v0.6h-0.6zM69.8 484.7h0.6v0.6h-0.6zM68.3 476.6h0.6v0.6h-0.6zM109.2 446.5h0.6v0.6h-0.6zM70.3 470.5h0.6v0.6h-0.6zM83.9 475.2h0.6v0.6h-0.6zM98.4 465.1h0.6v0.6h-0.6zM84.1 466.9h0.6v0.6h-0.6zM94.2 454.1h0.6v0.6h-0.6zM111.0 451.9h0.6v0.6h-0.6zM73.0 481.9h0.6v0.6h-0.6zM66.8 480.2h0.6v0.6h-0.6zM105.9 451.2h0.6v0.6h-0.6zM78.1 475.1h0.6v0.6h-0.6zM94.3 469.8h0.6v0.6h-0.6zM81.7 475.9h0.6v0.6h-0.6zM68.9 481.4h0.6v0.6h-0.6zM71.3 474.8h0.6v0.6h-0.6zM71.2 481.1h0.6v0.6h-0.6zM87.0 459.4h0.6v0.6h-0.6zM84.5 465.9h0.6v0.6h-0.6zM67.9 478.6h0.6v0.6h-0.6zM70.0 481.5h0.6v0.6h-0.6zM82.4 466.9h0.6v0.6h-0.6zM90.3 463.7h0.6v0.6h-0.6zM98.7 462.4h0.6v0.6h-0.6zM68.2 479.8h0.6v0.6h-0.6zM69.8 481.9h0.6v0.6h-0.6zM71.4 470.2h0.6v0.6h-0.6zM75.1 473.1h0.6v0.6h-0.6zM73.4 472.1h0.6v0.6h-0.6zM67.2 482.0h0.6v0.6h-0.6zM71.0 476.6h0.6v0.6h-0.6zM79.6 468.8h0.6v0.6h-0.6zM96.7 466.6h0.6v0.6h-0.6zM77.1 474.5h0.6v0.6h-0.6zM79.2 469.0h0.6v0.6h-0.6zM91.4 462.3h0.6v0.6h-0.6zM92.4 462.2h0.6v0.6h-0.6zM95.2 462.6h0.6v0.6h-0.6zM73.7 472.7h0.6v0.6h-0.6zM71.9 484.1h0.6v0.6h-0.6zM70.6 477.0h0.6v0.6h-0.6zM98.9 455.8h0.6v0.6h-0.6zM70.3 478.9h0.6v0.6h-0.6zM75.6 474.3h0.6v0.6h-0.6zM90.7 459.7h0.6v0.6h-0.6zM93.1 460.1h0.6v0.6h-0.6zM78.1 469.2h0.6v0.6h-0.6zM77.5 476.3h0.6v0.6h-0.6zM72.3 475.7h0.6v0.6h-0.6zM75.5 472.5h0.6v0.6h-0.6zM68.2 478.6h0.6v0.6h-0.6zM79.9 472.1h0.6v0.6h-0.6zM107.4 456.6h0.6v0.6h-0.6zM76.1 471.0h0.6v0.6h-0.6zM74.9 478.0h0.6v0.6h-0.6zM79.9 466.1h0.6v0.6h-0.6zM70.9 474.0h0.6v0.6h-0.6zM89.4 462.5h0.6v0.6h-0.6zM71.4 470.8h0.6v0.6h-0.6zM90.9 459.6h0.6v0.6h-0.6zM91.8 462.3h0.6v0.6h-0.6zM78.1 472.3h0.6v0.6h-0.6zM89.8 462.9h0.6v0.6h-0.6zM81.6 465.1h0.6v0.6h-0.6zM83.3 474.7h0.6v0.6h-0.6zM72.6 483.5h0.6v0.6h-0.6zM75.3 480.8h0.6v0.6h-0.6zM80.0 469.1h0.6v0.6h-0.6zM70.9 479.2h0.6v0.6h-0.6zM76.4 475.3h0.6v0.6h-0.6zM73.5 476.6h0.6v0.6h-0.6zM90.7 452.7h0.6v0.6h-0.6zM82.8 472.3h0.6v0.6h-0.6zM93.2 464.0h0.6v0.6h-0.6zM84.0 465.8h0.6v0.6h-0.6zM73.8 481.9h0.6v0.6h-0.6zM67.2 476.2h0.6v0.6h-0.6zM75.2 470.4h0.6v0.6h-0.6zM81.9 469.7h0.6v0.6h-0.6zM71.3 483.7h0.6v0.6h-0.6zM77.7 475.9h0.6v0.6h-0.6zM68.7 479.2h0.6v0.6h-0.6zM79.4 475.0h0.6v0.6h-0.6zM84.6 472.4h0.6v0.6h-0.6zM82.6 476.8h0.6v0.6h-0.6zM86.2 464.9h0.6v0.6h-0.6zM86.4 456.0h0.6v0.6h-0.6zM86.3 462.8h0.6v0.6h-0.6zM68.7 478.0h0.6v0.6h-0.6zM72.6 474.0h0.6v0.6h-0.6zM75.3 471.2h0.6v0.6h-0.6zM78.5 476.9h0.6v0.6h-0.6zM65.6 479.6h0.6v0.6h-0.6zM94.1 462.6h0.6v0.6h-0.6zM85.2 473.5h0.6v0.6h-0.6zM83.4 465.7h0.6v0.6h-0.6zM66.7 478.2h0.6v0.6h-0.6zM67.5 474.4h0.6v0.6h-0.6zM94.4 460.6h0.6v0.6h-0.6zM78.0 477.4h0.6v0.6h-0.6zM98.6 463.8h0.6v0.6h-0.6zM83.1 463.6h0.6v0.6h-0.6zM73.6 473.4h0.6v0.6h-0.6z" fill="#bb5550" fill-opacity="0.33"/>
<path d="M95.5 459.8h0.6v0.6h-0.6zM84.3 464.6h0.6v0.6h-0.6zM106.6 443.7h0.6v0.6h-0.6zM97.8 451.0h0.6v0.6h-0.6zM82.9 472.5h0.6v0.6h-0.6zM91.3 465.4h0.6v0.6h-0.6zM68.1 481.6h0.6v0.6h-0.6zM68.1 483.4h0.6v0.6h-0.6zM88.8 467.3h0.6v0.6h-0.6zM101.0 462.4h0.6v0.6h-0.6zM85.6 472.3h0.6v0.6h-0.6zM88.5 462.4h0.6v0.6h-0.6zM92.1 464.4h0.6v0.6h-0.6zM104.6 443.1h0.6v0.6h-0.6zM95.4 456.0h0.6v0.6h-0.6zM77.1 470.2h0.6v0.6h-0.6zM69.1 477.0h0.6v0.6h-0.6zM87.4 467.3h0.6v0.6h-0.6zM70.8 481.0h0.6v0.6h-0.6zM77.7 476.6h0.6v0.6h-0.6zM75.4 468.1h0.6v0.6h-0.6zM99.9 456.2h0.6v0.6h-0.6zM99.8 464.8h0.6v0.6h-0.6zM69.3 483.9h0.6v0.6h-0.6zM74.0 475.5h0.6v0.6h-0.6zM74.3 476.4h0.6v0.6h-0.6zM77.2 468.3h0.6v0.6h-0.6zM74.8 481.2h0.6v0.6h-0.6zM66.5 481.2h0.6v0.6h-0.6zM73.7 472.9h0.6v0.6h-0.6zM81.1 467.3h0.6v0.6h-0.6zM76.2 470.8h0.6v0.6h-0.6zM68.1 482.7h0.6v0.6h-0.6zM70.3 483.6h0.6v0.6h-0.6zM66.4 476.1h0.6v0.6h-0.6zM66.3 481.5h0.6v0.6h-0.6zM76.6 472.9h0.6v0.6h-0.6zM86.4 460.4h0.6v0.6h-0.6zM68.6 484.4h0.6v0.6h-0.6zM87.1 469.9h0.6v0.6h-0.6zM68.3 482.8h0.6v0.6h-0.6zM72.5 476.2h0.6v0.6h-0.6zM70.6 478.2h0.6v0.6h-0.6zM70.8 484.5h0.6v0.6h-0.6zM90.4 460.8h0.6v0.6h-0.6zM85.4 468.9h0.6v0.6h-0.6zM93.9 470.2h0.6v0.6h-0.6zM67.8 480.9h0.6v0.6h-0.6zM69.3 483.4h0.6v0.6h-0.6zM88.5 464.4h0.6v0.6h-0.6zM79.3 464.7h0.6v0.6h-0.6zM70.2 473.6h0.6v0.6h-0.6zM76.5 473.0h0.6v0.6h-0.6zM78.0 475.6h0.6v0.6h-0.6zM105.8 450.2h0.6v0.6h-0.6zM70.6 480.9h0.6v0.6h-0.6zM72.4 478.5h0.6v0.6h-0.6zM66.2 478.1h0.6v0.6h-0.6zM76.8 476.6h0.6v0.6h-0.6zM73.1 478.5h0.6v0.6h-0.6zM69.3 481.2h0.6v0.6h-0.6zM68.4 479.0h0.6v0.6h-0.6zM73.3 477.2h0.6v0.6h-0.6zM89.9 467.3h0.6v0.6h-0.6zM77.8 472.5h0.6v0.6h-0.6zM70.6 475.3h0.6v0.6h-0.6zM68.6 476.3h0.6v0.6h-0.6zM81.5 468.9h0.6v0.6h-0.6zM71.0 476.4h0.6v0.6h-0.6zM105.1 459.4h0.6v0.6h-0.6zM86.0 464.0h0.6v0.6h-0.6zM86.7 474.6h0.6v0.6h-0.6zM76.4 481.0h0.6v0.6h-0.6zM85.5 457.0h0.6v0.6h-0.6zM77.1 469.0h0.6v0.6h-0.6zM81.5 473.2h0.6v0.6h-0.6zM85.1 460.3h0.6v0.6h-0.6zM74.6 472.7h0.6v0.6h-0.6zM84.9 461.7h0.6v0.6h-0.6zM70.7 470.1h0.6v0.6h-0.6zM66.2 481.6h0.6v0.6h-0.6zM73.0 476.8h0.6v0.6h-0.6zM97.7 461.6h0.6v0.6h-0.6zM72.7 475.7h0.6v0.6h-0.6zM97.8 451.1h0.6v0.6h-0.6zM65.6 480.6h0.6v0.6h-0.6zM67.2 482.7h0.6v0.6h-0.6zM72.2 476.8h0.6v0.6h-0.6zM78.4 474.6h0.6v0.6h-0.6zM66.7 477.2h0.6v0.6h-0.6zM77.8 471.4h0.6v0.6h-0.6zM88.7 469.1h0.6v0.6h-0.6zM74.4 478.4h0.6v0.6h-0.6zM88.7 460.4h0.6v0.6h-0.6zM67.5 476.6h0.6v0.6h-0.6zM93.2 458.9h0.6v0.6h-0.6zM97.2 464.7h0.6v0.6h-0.6zM78.7 471.7h0.6v0.6h-0.6zM70.6 481.0h0.6v0.6h-0.6zM71.9 480.2h0.6v0.6h-0.6zM91.5 458.5h0.6v0.6h-0.6zM101.5 444.4h0.6v0.6h-0.6zM81.5 472.2h0.6v0.6h-0.6zM78.3 469.9h0.6v0.6h-0.6zM65.2 480.1h0.6v0.6h-0.6zM67.2 481.9h0.6v0.6h-0.6zM88.7 454.9h0.6v0.6h-0.6zM69.6 481.4h0.6v0.6h-0.6zM81.8 474.7h0.6v0.6h-0.6zM79.9 463.5h0.6v0.6h-0.6zM71.9 478.0h0.6v0.6h-0.6zM93.2 464.8h0.6v0.6h-0.6zM96.6 463.8h0.6v0.6h-0.6zM96.5 458.4h0.6v0.6h-0.6zM78.5 474.0h0.6v0.6h-0.6zM109.6 447.7h0.6v0.6h-0.6zM70.3 480.1h0.6v0.6h-0.6zM75.6 474.7h0.6v0.6h-0.6zM72.5 475.9h0.6v0.6h-0.6zM80.6 469.2h0.6v0.6h-0.6zM86.8 469.8h0.6v0.6h-0.6zM68.2 476.6h0.6v0.6h-0.6zM83.0 464.4h0.6v0.6h-0.6zM70.1 478.0h0.6v0.6h-0.6zM67.8 479.6h0.6v0.6h-0.6zM68.4 479.7h0.6v0.6h-0.6zM75.6 481.0h0.6v0.6h-0.6zM82.8 478.4h0.6v0.6h-0.6zM72.9 474.0h0.6v0.6h-0.6zM70.6 475.5h0.6v0.6h-0.6zM73.0 467.3h0.6v0.6h-0.6zM98.3 456.9h0.6v0.6h-0.6zM71.0 473.5h0.6v0.6h-0.6zM93.9 449.9h0.6v0.6h-0.6zM69.5 474.9h0.6v0.6h-0.6zM70.8 480.2h0.6v0.6h-0.6zM66.5 482.1h0.6v0.6h-0.6zM67.6 477.8h0.6v0.6h-0.6zM72.5 476.6h0.6v0.6h-0.6zM74.2 472.9h0.6v0.6h-0.6zM77.3 473.0h0.6v0.6h-0.6zM91.1 461.4h0.6v0.6h-0.6zM68.0 481.2h0.6v0.6h-0.6zM73.2 481.2h0.6v0.6h-0.6zM67.9 475.2h0.6v0.6h-0.6zM73.4 475.9h0.6v0.6h-0.6zM80.7 475.4h0.6v0.6h-0.6zM77.5 470.4h0.6v0.6h-0.6zM69.0 481.8h0.6v0.6h-0.6zM72.7 475.9h0.6v0.6h-0.6zM70.8 480.5h0.6v0.6h-0.6zM81.2 473.1h0.6v0.6h-0.6zM72.6 483.9h0.6v0.6h-0.6zM103.0 461.4h0.6v0.6h-0.6zM80.5 475.4h0.6v0.6h-0.6zM67.0 479.4h0.6v0.6h-0.6zM96.6 453.2h0.6v0.6h-0.6zM112.2 449.8h0.6v0.6h-0.6zM76.0 468.0h0.6v0.6h-0.6zM98.2 447.3h0.6v0.6h-0.6zM69.3 478.8h0.6v0.6h-0.6zM82.6 473.4h0.6v0.6h-0.6zM69.8 483.3h0.6v0.6h-0.6zM68.6 476.3h0.6v0.6h-0.6zM95.8 449.1h0.6v0.6h-0.6zM67.8 483.3h0.6v0.6h-0.6zM65.5 477.9h0.6v0.6h-0.6zM76.8 470.8h0.6v0.6h-0.6zM69.2 484.8h0.6v0.6h-0.6zM73.3 478.1h0.6v0.6h-0.6zM70.6 479.9h0.6v0.6h-0.6zM68.5 482.1h0.6v0.6h-0.6zM87.1 464.2h0.6v0.6h-0.6zM68.7 479.6h0.6v0.6h-0.6zM64.8 479.4h0.6v0.6h-0.6zM86.1 474.4h0.6v0.6h-0.6zM91.7 465.8h0.6v0.6h-0.6zM87.0 467.6h0.6v0.6h-0.6zM66.3 477.6h0.6v0.6h-0.6zM71.7 479.1h0.6v0.6h-0.6zM81.4 469.0h0.6v0.6h-0.6zM78.5 463.1h0.6v0.6h-0.6zM85.8 466.4h0.6v0.6h-0.6zM74.7 475.8h0.6v0.6h-0.6zM83.5 467.0h0.6v0.6h-0.6zM101.4 444.5h0.6v0.6h-0.6zM65.8 480.1h0.6v0.6h-0.6zM72.1 478.6h0.6v0.6h-0.6zM71.7 478.2h0.6v0.6h-0.6zM96.9 462.8h0.6v0.6h-0.6zM72.8 473.5h0.6v0.6h-0.6zM103.0 446.5h0.6v0.6h-0.6zM85.0 459.2h0.6v0.6h-0.6zM79.6 476.4h0.6v0.6h-0.6zM84.8 461.4h0.6v0.6h-0.6zM102.4 458.6h0.6v0.6h-0.6zM73.4 468.1h0.6v0.6h-0.6zM73.6 471.9h0.6v0.6h-0.6zM73.7 473.4h0.6v0.6h-0.6zM80.5 468.8h0.6v0.6h-0.6zM70.7 474.8h0.6v0.6h-0.6zM95.7 463.7h0.6v0.6h-0.6zM81.3 464.8h0.6v0.6h-0.6zM67.3 478.5h0.6v0.6h-0.6zM68.3 478.6h0.6v0.6h-0.6zM85.5 459.3h0.6v0.6h-0.6zM100.2 452.6h0.6v0.6h-0.6zM81.3 474.5h0.6v0.6h-0.6zM64.8 479.5h0.6v0.6h-0.6zM81.4 465.3h0.6v0.6h-0.6zM69.1 482.0h0.6v0.6h-0.6zM69.1 480.0h0.6v0.6h-0.6zM89.3 453.9h0.6v0.6h-0.6zM83.1 459.6h0.6v0.6h-0.6zM67.7 483.4h0.6v0.6h-0.6zM79.8 472.7h0.6v0.6h-0.6zM79.6 475.5h0.6v0.6h-0.6zM78.9 473.4h0.6v0.6h-0.6zM79.5 468.8h0.6v0.6h-0.6zM83.7 470.5h0.6v0.6h-0.6zM68.9 484.9h0.6v0.6h-0.6zM80.9 475.8h0.6v0.6h-0.6zM88.3 464.0h0.6v0.6h-0.6zM82.4 471.8h0.6v0.6h-0.6zM89.8 460.1h0.6v0.6h-0.6zM77.8 472.1h0.6v0.6h-0.6zM79.2 470.8h0.6v0.6h-0.6zM74.2 478.4h0.6v0.6h-0.6zM73.5 471.9h0.6v0.6h-0.6zM84.7 474.9h0.6v0.6h-0.6zM68.9 481.7h0.6v0.6h-0.6zM85.5 456.2h0.6v0.6h-0.6zM84.1 461.9h0.6v0.6h-0.6zM95.3 458.3h0.6v0.6h-0.6zM66.7 475.6h0.6v0.6h-0.6zM76.9 465.2h0.6v0.6h-0.6zM76.8 465.4h0.6v0.6h-0.6zM76.7 471.5h0.6v0.6h-0.6zM72.4 478.8h0.6v0.6h-0.6zM72.1 477.3h0.6v0.6h-0.6zM83.2 464.6h0.6v0.6h-0.6zM86.3 464.7h0.6v0.6h-0.6zM71.2 479.9h0.6v0.6h-0.6zM89.3 468.5h0.6v0.6h-0.6zM78.0 472.1h0.6v0.6h-0.6zM71.6 474.0h0.6v0.6h-0.6zM65.5 477.8h0.6v0.6h-0.6zM71.7 480.5h0.6v0.6h-0.6zM92.4 458.4h0.6v0.6h-0.6zM74.7 478.0h0.6v0.6h-0.6zM71.4 478.1h0.6v0.6h-0.6zM72.6 483.0h0.6v0.6h-0.6zM77.3 473.2h0.6v0.6h-0.6zM76.2 471.6h0.6v0.6h-0.6zM72.1 480.5h0.6v0.6h-0.6zM64.7 479.8h0.6v0.6h-0.6zM77.2 475.3h0.6v0.6h-0.6zM67.3 482.8h0.6v0.6h-0.6zM72.6 472.9h0.6v0.6h-0.6zM99.9 456.7h0.6v0.6h-0.6zM82.3 467.6h0.6v0.6h-0.6zM70.6 477.1h0.6v0.6h-0.6zM81.8 467.3h0.6v0.6h-0.6zM77.3 475.0h0.6v0.6h-0.6zM91.0 451.1h0.6v0.6h-0.6zM90.1 463.5h0.6v0.6h-0.6zM85.7 470.0h0.6v0.6h-0.6zM67.9 477.9h0.6v0.6h-0.6zM89.9 464.1h0.6v0.6h-0.6zM86.7 462.9h0.6v0.6h-0.6zM81.9 471.4h0.6v0.6h-0.6zM93.7 463.8h0.6v0.6h-0.6zM80.0 471.1h0.6v0.6h-0.6zM73.0 482.8h0.6v0.6h-0.6zM94.9 464.7h0.6v0.6h-0.6zM73.6 479.0h0.6v0.6h-0.6zM89.2 457.5h0.6v0.6h-0.6zM73.3 478.8h0.6v0.6h-0.6zM81.1 472.6h0.6v0.6h-0.6zM102.4 444.0h0.6v0.6h-0.6zM75.0 479.3h0.6v0.6h-0.6zM67.3 480.6h0.6v0.6h-0.6zM68.9 479.6h0.6v0.6h-0.6zM67.5 481.5h0.6v0.6h-0.6zM73.1 480.2h0.6v0.6h-0.6zM100.4 454.7h0.6v0.6h-0.6zM71.6 477.8h0.6v0.6h-0.6zM89.2 468.3h0.6v0.6h-0.6zM95.1 465.0h0.6v0.6h-0.6zM71.1 480.1h0.6v0.6h-0.6zM72.4 479.5h0.6v0.6h-0.6zM67.4 480.2h0.6v0.6h-0.6zM68.5 477.9h0.6v0.6h-0.6zM89.5 465.1h0.6v0.6h-0.6zM71.1 477.8h0.6v0.6h-0.6zM111.2 451.6h0.6v0.6h-0.6zM96.2 461.3h0.6v0.6h-0.6zM68.8 481.6h0.6v0.6h-0.6zM64.9 479.1h0.6v0.6h-0.6zM79.3 460.8h0.6v0.6h-0.6zM67.7 482.2h0.6v0.6h-0.6zM88.0 467.2h0.6v0.6h-0.6zM88.7 455.4h0.6v0.6h-0.6zM98.1 446.3h0.6v0.6h-0.6zM91.2 470.4h0.6v0.6h-0.6zM73.5 475.6h0.6v0.6h-0.6zM88.0 474.7h0.6v0.6h-0.6zM75.5 470.9h0.6v0.6h-0.6zM67.9 479.4h0.6v0.6h-0.6zM92.4 471.4h0.6v0.6h-0.6zM74.8 472.3h0.6v0.6h-0.6zM92.0 458.8h0.6v0.6h-0.6zM77.4 476.2h0.6v0.6h-0.6zM83.1 471.3h0.6v0.6h-0.6zM65.7 480.3h0.6v0.6h-0.6zM69.8 474.1h0.6v0.6h-0.6zM73.2 482.0h0.6v0.6h-0.6zM66.4 481.4h0.6v0.6h-0.6zM84.9 473.3h0.6v0.6h-0.6zM94.9 457.6h0.6v0.6h-0.6zM68.0 483.0h0.6v0.6h-0.6zM69.5 477.6h0.6v0.6h-0.6zM72.1 475.3h0.6v0.6h-0.6zM66.6 478.7h0.6v0.6h-0.6zM83.2 472.8h0.6v0.6h-0.6zM80.0 468.7h0.6v0.6h-0.6zM72.2 474.8h0.6v0.6h-0.6zM92.2 452.2h0.6v0.6h-0.6zM83.4 469.0h0.6v0.6h-0.6zM75.1 472.2h0.6v0.6h-0.6zM67.2 482.9h0.6v0.6h-0.6zM93.7 469.9h0.6v0.6h-0.6zM100.9 448.5h0.6v0.6h-0.6zM80.5 470.2h0.6v0.6h-0.6zM90.9 453.0h0.6v0.6h-0.6zM69.2 477.2h0.6v0.6h-0.6zM89.3 459.3h0.6v0.6h-0.6zM70.2 480.4h0.6v0.6h-0.6zM81.6 473.8h0.6v0.6h-0.6zM78.6 476.2h0.6v0.6h-0.6zM74.4 471.8h0.6v0.6h-0.6zM72.6 477.1h0.6v0.6h-0.6zM82.5 478.6h0.6v0.6h-0.6zM71.3 474.2h0.6v0.6h-0.6zM77.0 468.1h0.6v0.6h-0.6zM68.7 484.0h0.6v0.6h-0.6zM75.3 470.4h0.6v0.6h-0.6zM86.2 468.3h0.6v0.6h-0.6zM80.7 472.9h0.6v0.6h-0.6zM78.0 462.8h0.6v0.6h-0.6zM68.5 480.0h0.6v0.6h-0.6z" fill="#bb5550" fill-opacity="0.33"/>
<path d="M79.3 464.0h0.6v0.6h-0.6zM69.9 480.3h0.6v0.6h-0.6zM74.1 473.5h0.6v0.6h-0.6zM79.9 472.3h0.6v0.6h-0.6zM76.1 466.4h0.6v0.6h-0.6zM67.1 480.5h0.6v0.6h-0.6zM68.1 480.9h0.6v0.6h-0.6zM64.7 479.8h0.6v0.6h-0.6zM71.6 478.6h0.6v0.6h-0.6zM79.8 478.0h0.6v0.6h-0.6zM66.6 482.1h0.6v0.6h-0.6zM91.4 464.0h0.6v0.6h-0.6zM72.3 478.2h0.6v0.6h-0.6zM81.1 475.5h0.6v0.6h-0.6zM72.0 476.9h0.6v0.6h-0.6zM69.1 483.0h0.6v0.6h-0.6zM74.1 481.4h0.6v0.6h-0.6zM72.5 478.3h0.6v0.6h-0.6zM65.8 481.2h0.6v0.6h-0.6zM66.9 482.5h0.6v0.6h-0.6zM73.8 482.0h0.6v0.6h-0.6zM70.0 481.6h0.6v0.6h-0.6zM67.9 481.8h0.6v0.6h-0.6zM68.4 477.5h0.6v0.6h-0.6zM68.5 484.5h0.6v0.6h-0.6zM67.0 481.8h0.6v0.6h-0.6zM69.7 482.6h0.6v0.6h-0.6zM90.0 463.8h0.6v0.6h-0.6zM66.4 478.3h0.6v0.6h-0.6zM74.0 475.5h0.6v0.6h-0.6zM72.0 471.7h0.6v0.6h-0.6zM76.1 467.6h0.6v0.6h-0.6zM67.9 483.5h0.6v0.6h-0.6zM88.7 465.4h0.6v0.6h-0.6zM69.5 480.6h0.6v0.6h-0.6zM66.5 479.8h0.6v0.6h-0.6zM76.0 475.2h0.6v0.6h-0.6zM70.5 484.5h0.6v0.6h-0.6zM81.9 474.0h0.6v0.6h-0.6zM70.3 475.1h0.6v0.6h-0.6zM66.6 481.5h0.6v0.6h-0.6zM68.7 479.2h0.6v0.6h-0.6zM69.5 483.9h0.6v0.6h-0.6zM69.9 480.2h0.6v0.6h-0.6zM68.5 478.7h0.6v0.6h-0.6zM86.1 467.6h0.6v0.6h-0.6zM67.5 481.2h0.6v0.6h-0.6zM80.4 471.7h0.6v0.6h-0.6zM80.0 477.0h0.6v0.6h-0.6zM85.1 462.5h0.6v0.6h-0.6zM76.6 476.9h0.6v0.6h-0.6zM73.5 474.0h0.6v0.6h-0.6zM75.9 479.0h0.6v0.6h-0.6zM76.1 474.2h0.6v0.6h-0.6zM76.7 473.3h0.6v0.6h-0.6zM77.0 477.2h0.6v0.6h-0.6zM75.7 476.0h0.6v0.6h-0.6zM72.4 478.9h0.6v0.6h-0.6zM75.1 473.1h0.6v0.6h-0.6zM72.6 481.6h0.6v0.6h-0.6zM69.8 478.9h0.6v0.6h-0.6zM79.2 467.5h0.6v0.6h-0.6zM66.9 482.0h0.6v0.6h-0.6zM68.7 481.4h0.6v0.6h-0.6zM66.1 479.5h0.6v0.6h-0.6zM68.2 481.0h0.6v0.6h-0.6zM72.3 475.7h0.6v0.6h-0.6zM82.2 467.9h0.6v0.6h-0.6zM72.2 481.2h0.6v0.6h-0.6zM81.5 462.2h0.6v0.6h-0.6zM70.2 484.6h0.6v0.6h-0.6zM77.5 477.6h0.6v0.6h-0.6zM70.7 480.4h0.6v0.6h-0.6zM73.8 480.0h0.6v0.6h-0.6zM73.2 477.4h0.6v0.6h-0.6zM71.3 479.6h0.6v0.6h-0.6zM73.4 472.6h0.6v0.6h-0.6zM88.5 467.5h0.6v0.6h-0.6zM75.3 471.2h0.6v0.6h-0.6zM72.3 478.1h0.6v0.6h-0.6zM95.4 465.6h0.6v0.6h-0.6zM69.5 481.6h0.6v0.6h-0.6zM74.2 469.9h0.6v0.6h-0.6zM87.0 471.9h0.6v0.6h-0.6zM72.0 480.7h0.6v0.6h-0.6zM67.5 480.7h0.6v0.6h-0.6zM69.1 478.8h0.6v0.6h-0.6zM67.6 483.4h0.6v0.6h-0.6zM66.8 481.5h0.6v0.6h-0.6zM74.4 480.0h0.6v0.6h-0.6zM78.6 474.7h0.6v0.6h-0.6zM70.9 480.7h0.6v0.6h-0.6zM74.4 478.8h0.6v0.6h-0.6zM67.6 479.7h0.6v0.6h-0.6zM70.5 480.1h0.6v0.6h-0.6zM68.2 483.7h0.6v0.6h-0.6zM68.4 481.9h0.6v0.6h-0.6zM79.2 468.3h0.6v0.6h-0.6zM64.9 479.2h0.6v0.6h-0.6zM66.6 481.9h0.6v0.6h-0.6zM72.0 475.5h0.6v0.6h-0.6zM84.3 467.9h0.6v0.6h-0.6zM67.4 482.9h0.6v0.6h-0.6zM69.8 479.7h0.6v0.6h-0.6zM67.1 478.1h0.6v0.6h-0.6zM88.8 470.0h0.6v0.6h-0.6zM74.6 474.4h0.6v0.6h-0.6zM69.1 480.8h0.6v0.6h-0.6zM76.0 475.5h0.6v0.6h-0.6zM67.5 479.8h0.6v0.6h-0.6zM74.5 465.6h0.6v0.6h-0.6zM73.6 482.2h0.6v0.6h-0.6zM68.1 481.9h0.6v0.6h-0.6zM64.6 479.9h0.6v0.6h-0.6zM69.4 478.0h0.6v0.6h-0.6zM70.1 475.8h0.6v0.6h-0.6zM73.1 474.0h0.6v0.6h-0.6zM64.9 479.1h0.6v0.6h-0.6zM71.6 478.6h0.6v0.6h-0.6zM68.9 476.9h0.6v0.6h-0.6zM68.8 484.7h0.6v0.6h-0.6zM75.3 471.9h0.6v0.6h-0.6zM70.3 484.2h0.6v0.6h-0.6zM67.0 477.8h0.6v0.6h-0.6zM73.7 478.2h0.6v0.6h-0.6zM72.2 478.3h0.6v0.6h-0.6zM70.2 480.5h0.6v0.6h-0.6zM79.1 478.2h0.6v0.6h-0.6zM67.8 480.7h0.6v0.6h-0.6zM74.4 471.6h0.6v0.6h-0.6zM73.2 481.1h0.6v0.6h-0.6zM71.5 471.8h0.6v0.6h-0.6zM71.3 476.5h0.6v0.6h-0.6zM73.4 478.6h0.6v0.6h-0.6zM69.7 483.0h0.6v0.6h-0.6zM78.2 475.7h0.6v0.6h-0.6zM76.0 476.4h0.6v0.6h-0.6zM74.3 465.9h0.6v0.6h-0.6zM69.7 482.0h0.6v0.6h-0.6zM67.9 480.7h0.6v0.6h-0.6zM77.7 479.6h0.6v0.6h-0.6zM81.2 471.4h0.6v0.6h-0.6zM66.2 481.0h0.6v0.6h-0.6zM75.1 480.2h0.6v0.6h-0.6zM67.9 476.5h0.6v0.6h-0.6zM68.8 483.1h0.6v0.6h-0.6zM75.3 477.3h0.6v0.6h-0.6zM68.7 478.4h0.6v0.6h-0.6zM83.7 465.3h0.6v0.6h-0.6zM70.8 479.2h0.6v0.6h-0.6zM91.6 463.3h0.6v0.6h-0.6zM68.7 483.1h0.6v0.6h-0.6zM67.8 482.3h0.6v0.6h-0.6zM75.6 467.4h0.6v0.6h-0.6zM70.9 482.9h0.6v0.6h-0.6zM67.3 481.3h0.6v0.6h-0.6zM73.9 478.1h0.6v0.6h-0.6zM70.4 479.4h0.6v0.6h-0.6zM74.7 470.0h0.6v0.6h-0.6zM76.9 473.1h0.6v0.6h-0.6zM73.3 482.6h0.6v0.6h-0.6zM66.5 481.8h0.6v0.6h-0.6zM70.2 476.7h0.6v0.6h-0.6zM67.8 480.9h0.6v0.6h-0.6zM65.6 480.9h0.6v0.6h-0.6zM85.4 474.7h0.6v0.6h-0.6zM67.5 481.2h0.6v0.6h-0.6zM77.6 472.6h0.6v0.6h-0.6zM73.0 478.5h0.6v0.6h-0.6zM80.7 470.0h0.6v0.6h-0.6zM74.0 477.0h0.6v0.6h-0.6zM68.1 478.1h0.6v0.6h-0.6zM66.4 481.0h0.6v0.6h-0.6zM65.8 479.0h0.6v0.6h-0.6zM72.6 472.0h0.6v0.6h-0.6zM69.8 483.1h0.6v0.6h-0.6zM73.1 475.4h0.6v0.6h-0.6zM81.4 468.2h0.6v0.6h-0.6zM70.3 475.4h0.6v0.6h-0.6zM65.2 480.7h0.6v0.6h-0.6zM74.2 471.5h0.6v0.6h-0.6zM71.4 474.5h0.6v0.6h-0.6zM68.0 479.6h0.6v0.6h-0.6zM86.0 471.3h0.6v0.6h-0.6zM72.2 481.3h0.6v0.6h-0.6zM76.6 471.3h0.6v0.6h-0.6zM67.9 483.1h0.6v0.6h-0.6zM77.6 476.4h0.6v0.6h-0.6zM71.1 481.3h0.6v0.6h-0.6zM68.0 480.9h0.6v0.6h-0.6zM71.5 475.0h0.6v0.6h-0.6zM68.5 481.1h0.6v0.6h-0.6zM71.9 471.3h0.6v0.6h-0.6zM83.6 474.5h0.6v0.6h-0.6zM76.5 478.9h0.6v0.6h-0.6zM68.2 483.1h0.6v0.6h-0.6zM68.9 479.4h0.6v0.6h-0.6zM70.5 477.8h0.6v0.6h-0.6zM74.0 472.4h0.6v0.6h-0.6zM70.7 480.2h0.6v0.6h-0.6zM75.4 476.7h0.6v0.6h-0.6zM89.6 471.8h0.6v0.6h-0.6zM69.8 482.1h0.6v0.6h-0.6zM73.4 476.4h0.6v0.6h-0.6zM79.9 477.3h0.6v0.6h-0.6zM65.8 479.9h0.6v0.6h-0.6zM80.5 468.3h0.6v0.6h-0.6zM70.8 478.0h0.6v0.6h-0.6zM75.2 479.3h0.6v0.6h-0.6zM75.8 478.1h0.6v0.6h-0.6zM73.9 476.8h0.6v0.6h-0.6zM68.6 482.6h0.6v0.6h-0.6zM71.0 479.4h0.6v0.6h-0.6zM67.1 479.7h0.6v0.6h-0.6zM68.5 478.8h0.6v0.6h-0.6zM68.7 483.7h0.6v0.6h-0.6zM75.2 478.6h0.6v0.6h-0.6zM73.2 477.1h0.6v0.6h-0.6zM68.1 477.1h0.6v0.6h-0.6zM73.8 481.2h0.6v0.6h-0.6zM66.5 480.7h0.6v0.6h-0.6zM70.0 480.2h0.6v0.6h-0.6zM72.4 480.4h0.6v0.6h-0.6zM70.6 471.3h0.6v0.6h-0.6zM80.5 476.4h0.6v0.6h-0.6zM79.3 467.5h0.6v0.6h-0.6zM69.0 476.8h0.6v0.6h-0.6zM68.2 482.8h0.6v0.6h-0.6zM73.8 481.3h0.6v0.6h-0.6zM65.6 477.6h0.6v0.6h-0.6zM68.5 479.6h0.6v0.6h-0.6zM65.9 479.8h0.6v0.6h-0.6zM73.5 482.8h0.6v0.6h-0.6zM76.1 478.5h0.6v0.6h-0.6zM68.0 483.0h0.6v0.6h-0.6zM73.0 481.6h0.6v0.6h-0.6zM83.4 469.4h0.6v0.6h-0.6zM73.4 479.1h0.6v0.6h-0.6zM74.7 472.4h0.6v0.6h-0.6zM67.6 480.9h0.6v0.6h-0.6zM65.7 477.5h0.6v0.6h-0.6zM76.2 476.2h0.6v0.6h-0.6zM74.6 473.0h0.6v0.6h-0.6zM68.6 481.3h0.6v0.6h-0.6zM77.1 469.8h0.6v0.6h-0.6zM70.2 477.8h0.6v0.6h-0.6zM73.4 468.3h0.6v0.6h-0.6zM70.9 480.1h0.6v0.6h-0.6zM74.5 474.1h0.6v0.6h-0.6zM66.8 478.5h0.6v0.6h-0.6zM91.0 469.5h0.6v0.6h-0.6zM70.6 482.8h0.6v0.6h-0.6zM71.5 478.5h0.6v0.6h-0.6zM66.2 481.3h0.6v0.6h-0.6zM66.3 476.4h0.6v0.6h-0.6zM78.5 471.6h0.6v0.6h-0.6zM71.1 480.4h0.6v0.6h-0.6zM67.1 480.3h0.6v0.6h-0.6zM70.5 480.6h0.6v0.6h-0.6zM69.7 478.2h0.6v0.6h-0.6zM72.3 468.1h0.6v0.6h-0.6zM90.8 460.2h0.6v0.6h-0.6zM73.4 477.7h0.6v0.6h-0.6zM73.8 467.7h0.6v0.6h-0.6zM68.9 478.6h0.6v0.6h-0.6zM69.5 481.9h0.6v0.6h-0.6zM74.3 466.2h0.6v0.6h-0.6zM68.0 481.1h0.6v0.6h-0.6zM65.5 479.0h0.6v0.6h-0.6zM67.9 477.1h0.6v0.6h-0.6zM91.4 458.0h0.6v0.6h-0.6zM67.2 479.8h0.6v0.6h-0.6z" fill="#a02a25" fill-opacity="0.4"/>
<path d="M74.9 477.8h0.6v0.6h-0.6zM74.8 474.7h0.6v0.6h-0.6zM65.7 480.6h0.6v0.6h-0.6zM83.0 467.5h0.6v0.6h-0.6zM76.4 478.4h0.6v0.6h-0.6zM67.5 481.1h0.6v0.6h-0.6zM77.8 465.6h0.6v0.6h-0.6zM68.0 476.2h0.6v0.6h-0.6zM72.6 478.7h0.6v0.6h-0.6zM70.3 479.4h0.6v0.6h-0.6zM81.9 463.6h0.6v0.6h-0.6zM69.4 475.8h0.6v0.6h-0.6zM78.8 476.2h0.6v0.6h-0.6zM70.8 477.2h0.6v0.6h-0.6zM83.2 461.5h0.6v0.6h-0.6zM77.6 478.6h0.6v0.6h-0.6zM86.4 463.2h0.6v0.6h-0.6zM69.9 478.9h0.6v0.6h-0.6zM69.7 479.4h0.6v0.6h-0.6zM70.1 478.6h0.6v0.6h-0.6zM71.5 478.2h0.6v0.6h-0.6zM74.4 475.0h0.6v0.6h-0.6zM69.1 481.5h0.6v0.6h-0.6zM74.1 466.1h0.6v0.6h-0.6zM91.4 461.9h0.6v0.6h-0.6zM72.1 472.0h0.6v0.6h-0.6zM74.2 481.5h0.6v0.6h-0.6zM72.4 474.7h0.6v0.6h-0.6zM66.8 481.4h0.6v0.6h-0.6zM73.4 478.3h0.6v0.6h-0.6zM67.6 481.8h0.6v0.6h-0.6zM76.9 476.0h0.6v0.6h-0.6zM67.1 482.0h0.6v0.6h-0.6zM66.2 480.1h0.6v0.6h-0.6zM70.2 479.9h0.6v0.6h-0.6zM66.1 478.6h0.6v0.6h-0.6zM86.9 457.0h0.6v0.6h-0.6zM65.8 480.2h0.6v0.6h-0.6zM65.6 477.6h0.6v0.6h-0.6zM78.1 475.2h0.6v0.6h-0.6zM70.5 477.6h0.6v0.6h-0.6zM65.9 480.9h0.6v0.6h-0.6zM67.0 481.4h0.6v0.6h-0.6zM67.9 480.7h0.6v0.6h-0.6zM68.6 479.1h0.6v0.6h-0.6zM71.9 480.9h0.6v0.6h-0.6zM70.0 478.6h0.6v0.6h-0.6zM84.4 467.8h0.6v0.6h-0.6zM71.8 476.7h0.6v0.6h-0.6zM65.7 480.7h0.6v0.6h-0.6zM66.3 480.7h0.6v0.6h-0.6zM80.4 472.4h0.6v0.6h-0.6zM66.9 476.5h0.6v0.6h-0.6zM71.7 477.4h0.6v0.6h-0.6zM70.2 479.3h0.6v0.6h-0.6zM68.9 478.2h0.6v0.6h-0.6zM82.7 471.4h0.6v0.6h-0.6zM70.2 483.5h0.6v0.6h-0.6zM68.6 478.9h0.6v0.6h-0.6zM68.2 476.5h0.6v0.6h-0.6zM70.7 472.1h0.6v0.6h-0.6zM65.7 479.4h0.6v0.6h-0.6zM78.2 471.2h0.6v0.6h-0.6zM68.9 482.7h0.6v0.6h-0.6zM80.7 470.7h0.6v0.6h-0.6zM68.3 479.1h0.6v0.6h-0.6zM89.6 456.0h0.6v0.6h-0.6zM69.0 480.8h0.6v0.6h-0.6zM68.0 483.6h0.6v0.6h-0.6zM68.6 481.8h0.6v0.6h-0.6zM76.5 475.4h0.6v0.6h-0.6zM90.2 466.6h0.6v0.6h-0.6zM69.6 484.2h0.6v0.6h-0.6zM79.5 468.1h0.6v0.6h-0.6zM96.2 460.6h0.6v0.6h-0.6zM76.4 478.2h0.6v0.6h-0.6zM78.8 475.2h0.6v0.6h-0.6zM68.7 483.3h0.6v0.6h-0.6zM71.1 476.1h0.6v0.6h-0.6zM96.5 461.8h0.6v0.6h-0.6zM81.0 475.0h0.6v0.6h-0.6zM67.9 481.9h0.6v0.6h-0.6zM74.0 478.7h0.6v0.6h-0.6zM71.5 480.0h0.6v0.6h-0.6zM73.6 482.3h0.6v0.6h-0.6zM79.1 464.3h0.6v0.6h-0.6zM71.2 483.5h0.6v0.6h-0.6zM68.7 481.9h0.6v0.6h-0.6zM69.4 482.7h0.6v0.6h-0.6zM70.4 483.9h0.6v0.6h-0.6zM69.0 481.4h0.6v0.6h-0.6zM72.6 477.8h0.6v0.6h-0.6zM68.2 484.1h0.6v0.6h-0.6zM85.3 468.2h0.6v0.6h-0.6zM73.3 477.8h0.6v0.6h-0.6zM65.3 479.2h0.6v0.6h-0.6zM70.5 470.9h0.6v0.6h-0.6zM71.8 480.3h0.6v0.6h-0.6zM69.5 478.8h0.6v0.6h-0.6zM67.7 482.3h0.6v0.6h-0.6zM70.8 484.5h0.6v0.6h-0.6zM72.6 482.2h0.6v0.6h-0.6zM68.7 480.2h0.6v0.6h-0.6zM70.2 478.4h0.6v0.6h-0.6zM69.3 479.2h0.6v0.6h-0.6zM73.6 478.1h0.6v0.6h-0.6zM68.7 483.7h0.6v0.6h-0.6zM75.7 473.0h0.6v0.6h-0.6zM67.5 478.2h0.6v0.6h-0.6zM75.2 466.7h0.6v0.6h-0.6zM70.7 479.0h0.6v0.6h-0.6zM79.7 471.0h0.6v0.6h-0.6zM74.4 481.1h0.6v0.6h-0.6zM67.8 480.5h0.6v0.6h-0.6zM67.5 482.9h0.6v0.6h-0.6zM73.6 477.2h0.6v0.6h-0.6zM68.7 482.7h0.6v0.6h-0.6zM79.8 472.3h0.6v0.6h-0.6zM69.7 478.6h0.6v0.6h-0.6zM72.7 482.6h0.6v0.6h-0.6zM72.9 482.2h0.6v0.6h-0.6zM71.8 481.2h0.6v0.6h-0.6zM70.5 476.8h0.6v0.6h-0.6zM78.9 465.0h0.6v0.6h-0.6zM67.6 481.2h0.6v0.6h-0.6zM77.1 475.9h0.6v0.6h-0.6zM72.4 476.2h0.6v0.6h-0.6zM67.2 482.1h0.6v0.6h-0.6zM71.4 479.2h0.6v0.6h-0.6zM80.6 471.0h0.6v0.6h-0.6zM69.9 478.9h0.6v0.6h-0.6zM82.1 463.5h0.6v0.6h-0.6zM68.2 479.4h0.6v0.6h-0.6zM68.1 480.4h0.6v0.6h-0.6zM71.7 476.0h0.6v0.6h-0.6zM84.0 465.9h0.6v0.6h-0.6zM82.3 471.1h0.6v0.6h-0.6zM68.1 480.2h0.6v0.6h-0.6zM67.4 478.0h0.6v0.6h-0.6zM73.4 482.0h0.6v0.6h-0.6zM74.8 473.9h0.6v0.6h-0.6zM70.3 482.7h0.6v0.6h-0.6zM65.8 481.2h0.6v0.6h-0.6zM69.8 471.6h0.6v0.6h-0.6zM69.9 481.0h0.6v0.6h-0.6zM70.7 479.8h0.6v0.6h-0.6zM81.3 477.4h0.6v0.6h-0.6zM71.4 477.9h0.6v0.6h-0.6zM76.0 477.1h0.6v0.6h-0.6zM68.0 483.3h0.6v0.6h-0.6zM86.8 467.7h0.6v0.6h-0.6zM68.3 482.0h0.6v0.6h-0.6zM67.3 481.2h0.6v0.6h-0.6zM72.7 477.7h0.6v0.6h-0.6zM69.8 475.8h0.6v0.6h-0.6zM74.0 482.1h0.6v0.6h-0.6zM72.2 477.1h0.6v0.6h-0.6zM66.6 481.4h0.6v0.6h-0.6zM83.7 470.4h0.6v0.6h-0.6zM83.0 463.9h0.6v0.6h-0.6zM74.0 473.5h0.6v0.6h-0.6zM72.0 481.2h0.6v0.6h-0.6zM93.3 470.5h0.6v0.6h-0.6zM71.5 479.6h0.6v0.6h-0.6zM77.8 473.4h0.6v0.6h-0.6zM66.8 482.4h0.6v0.6h-0.6zM66.7 480.0h0.6v0.6h-0.6zM76.7 479.5h0.6v0.6h-0.6zM69.5 480.2h0.6v0.6h-0.6zM72.2 479.5h0.6v0.6h-0.6zM72.3 476.8h0.6v0.6h-0.6zM66.8 479.7h0.6v0.6h-0.6zM69.4 480.6h0.6v0.6h-0.6zM64.6 479.9h0.6v0.6h-0.6zM68.8 475.6h0.6v0.6h-0.6zM68.8 481.5h0.6v0.6h-0.6zM72.1 484.0h0.6v0.6h-0.6zM72.6 472.0h0.6v0.6h-0.6zM82.3 474.2h0.6v0.6h-0.6zM71.9 475.3h0.6v0.6h-0.6zM74.1 475.6h0.6v0.6h-0.6zM75.5 481.7h0.6v0.6h-0.6zM84.7 474.9h0.6v0.6h-0.6zM68.6 478.3h0.6v0.6h-0.6zM71.9 477.8h0.6v0.6h-0.6zM67.4 481.6h0.6v0.6h-0.6zM68.0 478.6h0.6v0.6h-0.6zM69.7 482.8h0.6v0.6h-0.6zM70.6 478.8h0.6v0.6h-0.6zM76.7 477.0h0.6v0.6h-0.6zM69.1 484.6h0.6v0.6h-0.6zM89.4 468.0h0.6v0.6h-0.6zM71.3 477.8h0.6v0.6h-0.6zM89.2 452.4h0.6v0.6h-0.6zM78.1 474.3h0.6v0.6h-0.6zM73.5 482.3h0.6v0.6h-0.6zM79.1 473.1h0.6v0.6h-0.6zM93.7 455.7h0.6v0.6h-0.6zM75.7 472.4h0.6v0.6h-0.6zM95.5 466.3h0.6v0.6h-0.6zM68.6 478.4h0.6v0.6h-0.6zM65.0 479.6h0.6v0.6h-0.6zM67.2 476.9h0.6v0.6h-0.6zM76.4 477.3h0.6v0.6h-0.6zM70.8 472.7h0.6v0.6h-0.6zM72.7 475.4h0.6v0.6h-0.6zM69.2 483.0h0.6v0.6h-0.6zM75.2 476.4h0.6v0.6h-0.6zM81.0 471.6h0.6v0.6h-0.6zM91.2 472.2h0.6v0.6h-0.6zM69.9 479.8h0.6v0.6h-0.6zM71.3 477.3h0.6v0.6h-0.6zM69.5 483.3h0.6v0.6h-0.6zM74.6 474.7h0.6v0.6h-0.6zM84.7 472.9h0.6v0.6h-0.6zM67.9 483.7h0.6v0.6h-0.6zM69.6 476.0h0.6v0.6h-0.6zM88.8 474.2h0.6v0.6h-0.6zM71.7 479.6h0.6v0.6h-0.6zM79.3 464.2h0.6v0.6h-0.6zM74.1 482.2h0.6v0.6h-0.6zM66.2 476.5h0.6v0.6h-0.6zM74.3 479.5h0.6v0.6h-0.6zM67.5 482.6h0.6v0.6h-0.6zM74.8 482.9h0.6v0.6h-0.6zM79.0 472.6h0.6v0.6h-0.6zM72.1 477.4h0.6v0.6h-0.6zM66.6 481.2h0.6v0.6h-0.6zM75.3 472.9h0.6v0.6h-0.6zM70.5 476.0h0.6v0.6h-0.6zM72.0 479.4h0.6v0.6h-0.6zM74.2 479.2h0.6v0.6h-0.6zM86.1 467.1h0.6v0.6h-0.6zM70.9 482.6h0.6v0.6h-0.6zM67.2 477.0h0.6v0.6h-0.6zM70.2 483.6h0.6v0.6h-0.6zM79.3 474.6h0.6v0.6h-0.6zM67.8 483.0h0.6v0.6h-0.6zM74.2 469.2h0.6v0.6h-0.6zM66.7 481.8h0.6v0.6h-0.6zM79.2 470.3h0.6v0.6h-0.6zM71.2 478.1h0.6v0.6h-0.6zM66.5 482.1h0.6v0.6h-0.6zM84.0 457.5h0.6v0.6h-0.6zM82.2 478.8h0.6v0.6h-0.6zM66.7 481.9h0.6v0.6h-0.6zM71.4 482.3h0.6v0.6h-0.6zM78.1 470.2h0.6v0.6h-0.6zM73.3 477.2h0.6v0.6h-0.6zM72.2 474.9h0.6v0.6h-0.6zM67.4 483.0h0.6v0.6h-0.6zM69.6 480.6h0.6v0.6h-0.6zM76.4 481.2h0.6v0.6h-0.6zM78.0 476.8h0.6v0.6h-0.6zM86.0 469.1h0.6v0.6h-0.6zM70.8 478.9h0.6v0.6h-0.6zM79.4 472.8h0.6v0.6h-0.6zM73.3 478.7h0.6v0.6h-0.6zM68.7 473.2h0.6v0.6h-0.6zM68.4 481.5h0.6v0.6h-0.6zM67.1 479.1h0.6v0.6h-0.6zM70.9 475.5h0.6v0.6h-0.6zM86.5 468.8h0.6v0.6h-0.6zM71.8 483.0h0.6v0.6h-0.6zM78.8 475.2h0.6v0.6h-0.6zM69.8 481.5h0.6v0.6h-0.6zM79.1 461.0h0.6v0.6h-0.6zM81.7 470.8h0.6v0.6h-0.6zM67.4 475.6h0.6v0.6h-0.6zM87.9 463.0h0.6v0.6h-0.6zM71.6 479.0h0.6v0.6h-0.6zM79.2 471.7h0.6v0.6h-0.6z" fill="#a02a25" fill-opacity="0.4"/>
<path d="M70.8 480.2h0.6v0.6h-0.6zM67.4 480.2h0.6v0.6h-0.6zM74.0 477.7h0.6v0.6h-0.6zM67.6 480.4h0.6v0.6h-0.6zM79.8 472.6h0.6v0.6h-0.6zM68.8 476.7h0.6v0.6h-0.6zM69.2 482.7h0.6v0.6h-0.6zM69.4 480.9h0.6v0.6h-0.6zM70.3 481.6h0.6v0.6h-0.6zM69.9 482.2h0.6v0.6h-0.6zM71.2 482.8h0.6v0.6h-0.6zM72.4 477.1h0.6v0.6h-0.6zM69.5 482.8h0.6v0.6h-0.6zM70.9 476.9h0.6v0.6h-0.6zM68.0 477.0h0.6v0.6h-0.6zM81.1 469.3h0.6v0.6h-0.6zM70.0 483.9h0.6v0.6h-0.6zM94.7 460.0h0.6v0.6h-0.6zM77.1 470.8h0.6v0.6h-0.6zM68.6 480.2h0.6v0.6h-0.6zM65.9 481.4h0.6v0.6h-0.6zM72.2 477.1h0.6v0.6h-0.6zM77.2 475.1h0.6v0.6h-0.6zM72.3 480.2h0.6v0.6h-0.6zM68.7 484.0h0.6v0.6h-0.6zM87.0 460.9h0.6v0.6h-0.6zM66.7 481.1h0.6v0.6h-0.6zM64.8 479.6h0.6v0.6h-0.6zM70.9 478.3h0.6v0.6h-0.6zM67.4 478.9h0.6v0.6h-0.6zM74.2 477.3h0.6v0.6h-0.6zM80.4 467.6h0.6v0.6h-0.6zM69.0 480.4h0.6v0.6h-0.6zM77.7 473.6h0.6v0.6h-0.6zM69.9 479.2h0.6v0.6h-0.6zM82.4 473.6h0.6v0.6h-0.6zM67.7 482.0h0.6v0.6h-0.6zM65.9 480.3h0.6v0.6h-0.6zM67.1 482.8h0.6v0.6h-0.6zM68.7 479.0h0.6v0.6h-0.6zM82.4 462.2h0.6v0.6h-0.6zM75.5 477.8h0.6v0.6h-0.6zM79.0 473.2h0.6v0.6h-0.6zM70.5 478.7h0.6v0.6h-0.6zM66.5 481.5h0.6v0.6h-0.6zM68.9 476.1h0.6v0.6h-0.6zM77.7 473.6h0.6v0.6h-0.6zM82.3 462.1h0.6v0.6h-0.6zM77.2 475.6h0.6v0.6h-0.6zM73.7 474.9h0.6v0.6h-0.6zM71.2 481.7h0.6v0.6h-0.6zM66.9 479.5h0.6v0.6h-0.6zM89.6 465.4h0.6v0.6h-0.6zM66.2 481.5h0.6v0.6h-0.6zM66.3 480.1h0.6v0.6h-0.6zM69.3 480.9h0.6v0.6h-0.6zM80.9 479.6h0.6v0.6h-0.6zM71.8 474.5h0.6v0.6h-0.6zM73.6 480.1h0.6v0.6h-0.6zM73.4 477.6h0.6v0.6h-0.6zM70.7 481.8h0.6v0.6h-0.6zM85.0 462.4h0.6v0.6h-0.6zM68.2 482.5h0.6v0.6h-0.6zM90.1 464.0h0.6v0.6h-0.6zM66.2 481.9h0.6v0.6h-0.6zM76.0 473.2h0.6v0.6h-0.6zM67.7 483.2h0.6v0.6h-0.6zM65.8 480.9h0.6v0.6h-0.6zM67.6 482.1h0.6v0.6h-0.6zM71.7 479.7h0.6v0.6h-0.6zM69.5 482.9h0.6v0.6h-0.6zM68.8 484.5h0.6v0.6h-0.6zM68.5 478.9h0.6v0.6h-0.6zM70.5 475.3h0.6v0.6h-0.6zM85.1 469.6h0.6v0.6h-0.6zM67.1 481.1h0.6v0.6h-0.6zM69.0 484.9h0.6v0.6h-0.6zM69.0 478.8h0.6v0.6h-0.6zM67.1 482.7h0.6v0.6h-0.6zM84.6 468.1h0.6v0.6h-0.6zM76.0 471.8h0.6v0.6h-0.6zM76.2 480.9h0.6v0.6h-0.6zM70.1 478.9h0.6v0.6h-0.6zM66.8 478.7h0.6v0.6h-0.6zM72.2 470.5h0.6v0.6h-0.6zM70.5 478.8h0.6v0.6h-0.6zM84.4 469.7h0.6v0.6h-0.6zM72.8 480.4h0.6v0.6h-0.6zM67.9 479.4h0.6v0.6h-0.6zM67.7 480.0h0.6v0.6h-0.6zM78.9 469.4h0.6v0.6h-0.6zM76.5 482.1h0.6v0.6h-0.6zM71.9 484.1h0.6v0.6h-0.6zM73.1 477.4h0.6v0.6h-0.6zM74.8 475.4h0.6v0.6h-0.6zM79.9 474.6h0.6v0.6h-0.6zM79.8 477.8h0.6v0.6h-0.6zM76.0 472.3h0.6v0.6h-0.6zM73.9 477.2h0.6v0.6h-0.6zM70.2 480.9h0.6v0.6h-0.6zM82.9 464.9h0.6v0.6h-0.6zM68.4 479.2h0.6v0.6h-0.6zM73.0 478.3h0.6v0.6h-0.6zM71.4 481.0h0.6v0.6h-0.6zM67.8 481.4h0.6v0.6h-0.6zM68.3 483.6h0.6v0.6h-0.6zM68.1 477.0h0.6v0.6h-0.6zM73.5 477.1h0.6v0.6h-0.6zM81.3 464.3h0.6v0.6h-0.6zM83.6 472.3h0.6v0.6h-0.6zM71.3 481.6h0.6v0.6h-0.6zM87.1 468.0h0.6v0.6h-0.6zM76.5 476.1h0.6v0.6h-0.6zM69.9 475.6h0.6v0.6h-0.6zM70.6 476.0h0.6v0.6h-0.6zM84.7 477.2h0.6v0.6h-0.6zM90.7 467.1h0.6v0.6h-0.6zM69.1 473.3h0.6v0.6h-0.6zM68.1 483.3h0.6v0.6h-0.6zM81.7 468.7h0.6v0.6h-0.6zM69.5 483.8h0.6v0.6h-0.6zM75.1 481.7h0.6v0.6h-0.6zM72.2 481.2h0.6v0.6h-0.6zM66.2 481.0h0.6v0.6h-0.6zM85.0 466.7h0.6v0.6h-0.6zM84.2 470.0h0.6v0.6h-0.6zM71.9 480.7h0.6v0.6h-0.6zM72.3 478.7h0.6v0.6h-0.6zM75.1 475.5h0.6v0.6h-0.6zM71.3 479.2h0.6v0.6h-0.6zM65.0 478.9h0.6v0.6h-0.6zM86.0 470.8h0.6v0.6h-0.6zM75.7 474.6h0.6v0.6h-0.6zM70.1 484.6h0.6v0.6h-0.6zM71.0 482.1h0.6v0.6h-0.6zM69.1 478.0h0.6v0.6h-0.6zM70.5 484.1h0.6v0.6h-0.6zM67.1 476.0h0.6v0.6h-0.6zM78.7 467.3h0.6v0.6h-0.6zM93.5 461.5h0.6v0.6h-0.6zM68.6 481.0h0.6v0.6h-0.6zM69.0 484.6h0.6v0.6h-0.6zM67.8 477.3h0.6v0.6h-0.6zM64.9 479.1h0.6v0.6h-0.6zM68.4 477.1h0.6v0.6h-0.6zM72.4 480.5h0.6v0.6h-0.6zM73.4 480.6h0.6v0.6h-0.6zM69.2 479.8h0.6v0.6h-0.6zM70.0 480.0h0.6v0.6h-0.6zM66.8 479.0h0.6v0.6h-0.6zM68.9 482.6h0.6v0.6h-0.6zM75.0 475.0h0.6v0.6h-0.6zM67.4 481.2h0.6v0.6h-0.6zM71.8 482.1h0.6v0.6h-0.6zM75.8 471.2h0.6v0.6h-0.6zM67.3 482.8h0.6v0.6h-0.6zM86.5 466.4h0.6v0.6h-0.6zM87.1 466.6h0.6v0.6h-0.6zM77.4 474.5h0.6v0.6h-0.6zM75.3 482.2h0.6v0.6h-0.6zM70.5 480.8h0.6v0.6h-0.6zM69.6 482.7h0.6v0.6h-0.6zM70.7 483.6h0.6v0.6h-0.6zM67.7 482.1h0.6v0.6h-0.6zM68.9 478.4h0.6v0.6h-0.6zM70.6 481.1h0.6v0.6h-0.6zM76.3 478.3h0.6v0.6h-0.6zM74.4 477.0h0.6v0.6h-0.6zM78.9 479.4h0.6v0.6h-0.6zM67.2 483.0h0.6v0.6h-0.6zM73.7 481.4h0.6v0.6h-0.6zM66.4 480.5h0.6v0.6h-0.6zM75.4 479.2h0.6v0.6h-0.6zM74.4 480.0h0.6v0.6h-0.6zM75.6 475.7h0.6v0.6h-0.6zM83.4 471.5h0.6v0.6h-0.6zM80.3 471.2h0.6v0.6h-0.6zM68.1 481.6h0.6v0.6h-0.6zM71.7 484.2h0.6v0.6h-0.6zM70.4 478.5h0.6v0.6h-0.6zM74.3 475.6h0.6v0.6h-0.6zM70.2 483.0h0.6v0.6h-0.6zM79.8 470.2h0.6v0.6h-0.6zM67.8 480.4h0.6v0.6h-0.6zM72.3 478.7h0.6v0.6h-0.6zM68.9 478.8h0.6v0.6h-0.6zM74.0 479.1h0.6v0.6h-0.6zM82.3 474.7h0.6v0.6h-0.6zM81.1 472.9h0.6v0.6h-0.6zM76.2 474.5h0.6v0.6h-0.6zM67.2 480.6h0.6v0.6h-0.6zM68.8 479.8h0.6v0.6h-0.6zM65.9 479.9h0.6v0.6h-0.6zM87.0 458.7h0.6v0.6h-0.6zM67.4 483.1h0.6v0.6h-0.6zM74.1 478.6h0.6v0.6h-0.6zM67.9 479.2h0.6v0.6h-0.6zM77.9 475.9h0.6v0.6h-0.6zM70.5 479.6h0.6v0.6h-0.6zM69.2 482.1h0.6v0.6h-0.6zM76.4 469.0h0.6v0.6h-0.6zM67.6 480.1h0.6v0.6h-0.6zM81.0 470.1h0.6v0.6h-0.6zM80.6 468.4h0.6v0.6h-0.6zM71.0 477.9h0.6v0.6h-0.6zM66.8 478.6h0.6v0.6h-0.6zM72.6 481.1h0.6v0.6h-0.6zM69.8 480.3h0.6v0.6h-0.6zM74.1 479.2h0.6v0.6h-0.6zM84.7 470.2h0.6v0.6h-0.6zM80.8 471.7h0.6v0.6h-0.6zM70.0 480.6h0.6v0.6h-0.6zM73.0 475.7h0.6v0.6h-0.6zM71.3 478.1h0.6v0.6h-0.6zM68.9 476.0h0.6v0.6h-0.6zM66.8 479.6h0.6v0.6h-0.6zM67.8 483.4h0.6v0.6h-0.6zM83.2 475.3h0.6v0.6h-0.6zM67.9 481.9h0.6v0.6h-0.6zM74.6 477.1h0.6v0.6h-0.6zM71.4 474.2h0.6v0.6h-0.6zM72.4 472.6h0.6v0.6h-0.6zM71.7 480.4h0.6v0.6h-0.6zM72.2 476.2h0.6v0.6h-0.6zM68.8 483.0h0.6v0.6h-0.6zM80.7 465.1h0.6v0.6h-0.6zM93.4 455.2h0.6v0.6h-0.6zM68.4 481.9h0.6v0.6h-0.6zM72.4 481.1h0.6v0.6h-0.6zM81.4 469.2h0.6v0.6h-0.6zM67.1 480.1h0.6v0.6h-0.6zM65.4 478.1h0.6v0.6h-0.6zM65.8 480.8h0.6v0.6h-0.6zM78.3 471.1h0.6v0.6h-0.6zM76.7 476.5h0.6v0.6h-0.6zM83.2 465.6h0.6v0.6h-0.6zM67.9 480.4h0.6v0.6h-0.6zM74.1 480.4h0.6v0.6h-0.6zM70.0 482.4h0.6v0.6h-0.6zM67.9 476.6h0.6v0.6h-0.6zM68.5 478.2h0.6v0.6h-0.6zM71.4 479.2h0.6v0.6h-0.6zM66.4 481.9h0.6v0.6h-0.6zM72.3 480.5h0.6v0.6h-0.6zM70.6 479.2h0.6v0.6h-0.6zM68.4 477.2h0.6v0.6h-0.6zM65.8 480.0h0.6v0.6h-0.6zM67.5 482.1h0.6v0.6h-0.6zM81.4 470.4h0.6v0.6h-0.6zM70.8 479.6h0.6v0.6h-0.6zM69.5 483.1h0.6v0.6h-0.6zM83.0 470.6h0.6v0.6h-0.6zM67.4 478.2h0.6v0.6h-0.6zM71.7 484.1h0.6v0.6h-0.6zM81.2 473.0h0.6v0.6h-0.6zM64.6 479.9h0.6v0.6h-0.6zM67.4 478.6h0.6v0.6h-0.6zM72.4 474.1h0.6v0.6h-0.6zM77.0 480.0h0.6v0.6h-0.6zM65.8 477.7h0.6v0.6h-0.6zM75.9 479.7h0.6v0.6h-0.6zM69.9 482.8h0.6v0.6h-0.6zM74.2 471.9h0.6v0.6h-0.6zM67.1 477.2h0.6v0.6h-0.6zM68.9 483.0h0.6v0.6h-0.6zM71.9 477.9h0.6v0.6h-0.6zM76.3 474.2h0.6v0.6h-0.6zM68.0 480.7h0.6v0.6h-0.6zM68.6 484.5h0.6v0.6h-0.6zM82.3 471.2h0.6v0.6h-0.6zM72.3 481.7h0.6v0.6h-0.6z" fill="#a02a25" fill-opacity="0.4"/>
<path d="M87.9 458.3h0.6v0.6h-0.6zM65.5 480.6h0.6v0.6h-0.6zM77.3 474.6h0.6v0.6h-0.6zM91.0 471.4h0.6v0.6h-0.6zM70.6 479.3h0.6v0.6h-0.6zM68.5 476.3h0.6v0.6h-0.6zM73.3 480.4h0.6v0.6h-0.6zM80.7 471.2h0.6v0.6h-0.6zM69.2 482.8h0.6v0.6h-0.6zM76.1 467.5h0.6v0.6h-0.6zM77.4 481.5h0.6v0.6h-0.6zM73.9 476.3h0.6v0.6h-0.6zM66.4 476.1h0.6v0.6h-0.6zM70.4 483.5h0.6v0.6h-0.6zM74.6 475.8h0.6v0.6h-0.6zM87.8 461.9h0.6v0.6h-0.6zM82.5 469.8h0.6v0.6h-0.6zM66.6 481.1h0.6v0.6h-0.6zM95.0 459.8h0.6v0.6h-0.6zM70.3 478.6h0.6v0.6h-0.6zM69.3 479.2h0.6v0.6h-0.6zM68.8 479.8h0.6v0.6h-0.6zM73.3 470.4h0.6v0.6h-0.6zM72.6 480.9h0.6v0.6h-0.6zM76.7 473.6h0.6v0.6h-0.6zM82.8 465.8h0.6v0.6h-0.6zM69.6 481.1h0.6v0.6h-0.6zM69.7 477.3h0.6v0.6h-0.6zM86.1 464.9h0.6v0.6h-0.6zM73.0 479.9h0.6v0.6h-0.6zM68.5 478.4h0.6v0.6h-0.6zM71.3 480.9h0.6v0.6h-0.6zM70.2 482.4h0.6v0.6h-0.6zM83.0 470.8h0.6v0.6h-0.6zM68.9 480.1h0.6v0.6h-0.6zM69.7 477.7h0.6v0.6h-0.6zM66.8 479.8h0.6v0.6h-0.6zM68.8 483.3h0.6v0.6h-0.6zM75.0 478.4h0.6v0.6h-0.6zM71.3 475.0h0.6v0.6h-0.6zM70.9 484.4h0.6v0.6h-0.6zM67.5 481.5h0.6v0.6h-0.6zM74.6 475.9h0.6v0.6h-0.6zM71.2 483.6h0.6v0.6h-0.6zM71.9 479.8h0.6v0.6h-0.6zM67.2 482.7h0.6v0.6h-0.6zM72.8 469.6h0.6v0.6h-0.6zM69.2 480.0h0.6v0.6h-0.6zM70.2 478.7h0.6v0.6h-0.6zM78.4 477.2h0.6v0.6h-0.6zM76.7 473.3h0.6v0.6h-0.6zM77.9 466.0h0.6v0.6h-0.6zM68.6 475.8h0.6v0.6h-0.6zM70.6 471.2h0.6v0.6h-0.6zM84.8 466.5h0.6v0.6h-0.6zM68.3 477.4h0.6v0.6h-0.6zM70.9 481.6h0.6v0.6h-0.6zM69.8 482.9h0.6v0.6h-0.6zM73.8 477.1h0.6v0.6h-0.6zM78.8 469.9h0.6v0.6h-0.6zM89.6 463.8h0.6v0.6h-0.6zM71.8 482.4h0.6v0.6h-0.6zM80.4 470.7h0.6v0.6h-0.6zM70.2 482.1h0.6v0.6h-0.6zM76.0 474.8h0.6v0.6h-0.6zM84.5 471.3h0.6v0.6h-0.6zM71.6 481.2h0.6v0.6h-0.6zM68.0 480.7h0.6v0.6h-0.6zM83.0 467.2h0.6v0.6h-0.6zM83.0 472.9h0.6v0.6h-0.6zM68.3 477.6h0.6v0.6h-0.6zM72.4 479.8h0.6v0.6h-0.6zM72.6 479.5h0.6v0.6h-0.6zM74.3 477.5h0.6v0.6h-0.6zM78.1 469.6h0.6v0.6h-0.6zM71.3 477.6h0.6v0.6h-0.6zM66.2 479.0h0.6v0.6h-0.6zM75.6 473.5h0.6v0.6h-0.6zM72.2 479.9h0.6v0.6h-0.6zM70.1 475.7h0.6v0.6h-0.6zM71.3 483.8h0.6v0.6h-0.6zM66.7 475.7h0.6v0.6h-0.6zM65.5 481.0h0.6v0.6h-0.6zM66.8 480.5h0.6v0.6h-0.6zM73.9 477.2h0.6v0.6h-0.6zM65.7 478.8h0.6v0.6h-0.6zM82.1 472.6h0.6v0.6h-0.6zM68.1 477.8h0.6v0.6h-0.6zM67.0 481.1h0.6v0.6h-0.6zM67.5 479.5h0.6v0.6h-0.6zM80.1 473.5h0.6v0.6h-0.6zM70.7 483.2h0.6v0.6h-0.6zM77.1 477.6h0.6v0.6h-0.6zM66.3 481.3h0.6v0.6h-0.6zM68.9 479.2h0.6v0.6h-0.6zM68.3 481.2h0.6v0.6h-0.6zM67.1 477.0h0.6v0.6h-0.6zM67.8 480.4h0.6v0.6h-0.6zM74.7 478.1h0.6v0.6h-0.6zM72.9 474.9h0.6v0.6h-0.6zM85.2 472.2h0.6v0.6h-0.6zM75.2 477.2h0.6v0.6h-0.6zM69.2 478.1h0.6v0.6h-0.6zM82.5 468.7h0.6v0.6h-0.6zM67.7 479.1h0.6v0.6h-0.6zM70.6 476.7h0.6v0.6h-0.6zM73.3 478.2h0.6v0.6h-0.6zM72.2 474.2h0.6v0.6h-0.6zM79.4 477.1h0.6v0.6h-0.6zM68.9 478.4h0.6v0.6h-0.6zM73.1 478.3h0.6v0.6h-0.6zM70.1 476.4h0.6v0.6h-0.6zM80.1 471.8h0.6v0.6h-0.6zM68.6 483.2h0.6v0.6h-0.6zM70.0 484.7h0.6v0.6h-0.6zM72.8 478.1h0.6v0.6h-0.6zM73.0 480.0h0.6v0.6h-0.6zM77.2 480.3h0.6v0.6h-0.6zM68.0 482.9h0.6v0.6h-0.6zM79.1 464.2h0.6v0.6h-0.6zM85.8 468.8h0.6v0.6h-0.6zM68.4 483.5h0.6v0.6h-0.6zM80.5 474.6h0.6v0.6h-0.6zM67.8 481.9h0.6v0.6h-0.6zM68.8 480.5h0.6v0.6h-0.6zM81.7 469.6h0.6v0.6h-0.6zM82.2 467.2h0.6v0.6h-0.6zM70.7 476.7h0.6v0.6h-0.6zM77.5 470.9h0.6v0.6h-0.6zM68.8 482.4h0.6v0.6h-0.6zM69.1 480.2h0.6v0.6h-0.6zM70.3 481.3h0.6v0.6h-0.6zM65.6 478.4h0.6v0.6h-0.6zM73.0 473.4h0.6v0.6h-0.6zM65.4 481.0h0.6v0.6h-0.6zM72.4 477.3h0.6v0.6h-0.6zM81.0 473.8h0.6v0.6h-0.6zM66.3 481.9h0.6v0.6h-0.6zM78.2 473.4h0.6v0.6h-0.6zM72.0 479.8h0.6v0.6h-0.6zM65.7 480.7h0.6v0.6h-0.6zM83.1 468.5h0.6v0.6h-0.6zM79.6 472.2h0.6v0.6h-0.6zM75.2 480.2h0.6v0.6h-0.6zM70.7 481.7h0.6v0.6h-0.6zM73.4 477.2h0.6v0.6h-0.6zM72.0 475.8h0.6v0.6h-0.6zM72.3 478.1h0.6v0.6h-0.6zM76.7 475.5h0.6v0.6h-0.6zM85.7 473.5h0.6v0.6h-0.6zM97.9 462.3h0.6v0.6h-0.6zM65.6 478.7h0.6v0.6h-0.6zM75.5 482.6h0.6v0.6h-0.6zM70.7 482.2h0.6v0.6h-0.6zM71.1 480.9h0.6v0.6h-0.6zM84.8 468.3h0.6v0.6h-0.6zM66.6 480.9h0.6v0.6h-0.6zM65.6 479.5h0.6v0.6h-0.6zM67.1 479.5h0.6v0.6h-0.6zM66.4 478.3h0.6v0.6h-0.6zM69.5 479.5h0.6v0.6h-0.6zM67.4 481.2h0.6v0.6h-0.6zM78.6 473.2h0.6v0.6h-0.6zM74.1 480.5h0.6v0.6h-0.6zM70.5 483.4h0.6v0.6h-0.6zM70.4 483.8h0.6v0.6h-0.6zM74.4 478.0h0.6v0.6h-0.6zM64.6 479.9h0.6v0.6h-0.6zM72.3 477.9h0.6v0.6h-0.6zM74.9 470.2h0.6v0.6h-0.6zM80.8 479.7h0.6v0.6h-0.6zM75.2 473.0h0.6v0.6h-0.6zM77.9 467.7h0.6v0.6h-0.6zM76.8 479.0h0.6v0.6h-0.6zM73.6 480.5h0.6v0.6h-0.6zM69.7 481.2h0.6v0.6h-0.6zM69.4 476.8h0.6v0.6h-0.6zM68.9 484.0h0.6v0.6h-0.6zM69.7 481.4h0.6v0.6h-0.6zM74.0 471.7h0.6v0.6h-0.6zM77.4 476.0h0.6v0.6h-0.6zM70.0 482.6h0.6v0.6h-0.6zM73.9 482.5h0.6v0.6h-0.6zM72.0 484.0h0.6v0.6h-0.6zM67.6 482.5h0.6v0.6h-0.6zM77.6 471.8h0.6v0.6h-0.6zM70.0 480.3h0.6v0.6h-0.6zM82.6 472.0h0.6v0.6h-0.6zM66.0 480.7h0.6v0.6h-0.6zM67.5 483.3h0.6v0.6h-0.6zM69.8 481.3h0.6v0.6h-0.6zM71.8 474.9h0.6v0.6h-0.6zM80.0 473.6h0.6v0.6h-0.6zM68.0 482.6h0.6v0.6h-0.6zM81.1 472.6h0.6v0.6h-0.6zM71.0 474.8h0.6v0.6h-0.6zM68.6 480.3h0.6v0.6h-0.6zM81.6 468.4h0.6v0.6h-0.6zM79.8 479.6h0.6v0.6h-0.6zM67.4 475.2h0.6v0.6h-0.6zM77.1 469.4h0.6v0.6h-0.6zM68.7 484.4h0.6v0.6h-0.6zM67.4 480.6h0.6v0.6h-0.6zM78.7 471.3h0.6v0.6h-0.6zM85.7 468.8h0.6v0.6h-0.6zM68.3 481.8h0.6v0.6h-0.6zM68.5 481.3h0.6v0.6h-0.6zM86.9 459.2h0.6v0.6h-0.6zM65.2 480.1h0.6v0.6h-0.6zM66.4 478.6h0.6v0.6h-0.6zM71.9 477.5h0.6v0.6h-0.6zM77.5 470.8h0.6v0.6h-0.6zM67.9 483.6h0.6v0.6h-0.6zM69.3 484.2h0.6v0.6h-0.6zM71.3 478.3h0.6v0.6h-0.6zM71.1 474.7h0.6v0.6h-0.6zM69.8 478.4h0.6v0.6h-0.6zM69.7 482.7h0.6v0.6h-0.6zM79.7 471.3h0.6v0.6h-0.6zM72.2 478.5h0.6v0.6h-0.6zM69.7 480.2h0.6v0.6h-0.6zM68.9 477.7h0.6v0.6h-0.6zM70.3 480.4h0.6v0.6h-0.6zM71.2 482.5h0.6v0.6h-0.6zM69.4 482.9h0.6v0.6h-0.6zM71.3 481.6h0.6v0.6h-0.6zM75.6 473.3h0.6v0.6h-0.6zM74.9 471.8h0.6v0.6h-0.6zM80.9 478.9h0.6v0.6h-0.6zM72.1 481.9h0.6v0.6h-0.6zM69.8 481.8h0.6v0.6h-0.6zM71.1 472.0h0.6v0.6h-0.6zM71.5 484.2h0.6v0.6h-0.6zM69.0 482.6h0.6v0.6h-0.6zM70.0 479.3h0.6v0.6h-0.6zM75.6 472.7h0.6v0.6h-0.6zM88.2 463.8h0.6v0.6h-0.6zM67.8 482.5h0.6v0.6h-0.6zM66.4 481.9h0.6v0.6h-0.6zM78.0 471.4h0.6v0.6h-0.6zM79.1 479.2h0.6v0.6h-0.6zM72.2 480.4h0.6v0.6h-0.6zM93.3 470.7h0.6v0.6h-0.6zM70.4 484.6h0.6v0.6h-0.6zM71.2 482.0h0.6v0.6h-0.6zM77.5 468.9h0.6v0.6h-0.6zM71.1 480.1h0.6v0.6h-0.6zM72.4 477.4h0.6v0.6h-0.6zM68.9 477.4h0.6v0.6h-0.6zM77.5 478.7h0.6v0.6h-0.6zM79.5 472.2h0.6v0.6h-0.6zM67.8 480.8h0.6v0.6h-0.6zM68.0 481.5h0.6v0.6h-0.6zM72.1 477.0h0.6v0.6h-0.6zM79.6 463.7h0.6v0.6h-0.6zM71.5 480.8h0.6v0.6h-0.6zM70.4 477.1h0.6v0.6h-0.6zM70.1 484.2h0.6v0.6h-0.6zM72.3 478.4h0.6v0.6h-0.6zM67.7 482.4h0.6v0.6h-0.6zM74.1 480.7h0.6v0.6h-0.6zM90.2 462.3h0.6v0.6h-0.6zM95.5 462.7h0.6v0.6h-0.6zM69.0 478.6h0.6v0.6h-0.6zM67.9 482.7h0.6v0.6h-0.6zM89.1 452.5h0.6v0.6h-0.6zM71.8 477.4h0.6v0.6h-0.6zM67.0 479.2h0.6v0.6h-0.6zM70.6 482.1h0.6v0.6h-0.6zM73.4 482.2h0.6v0.6h-0.6zM70.6 472.8h0.6v0.6h-0.6z" fill="#a02a25" fill-opacity="0.4"/>
<rect x="51.5" y="387.4" width="100.9" height="99.70000000000005" fill="none" stroke="#c9c9c9" stroke-width="0.8"/>
<ellipse cx="89.2" cy="463.1" rx="32.2" ry="8.8" transform="rotate(-40.6 89.2 463.1)" fill="none" stroke="#c4504c" stroke-width="0.75"/>
<line x1="49.3" y1="487.1" x2="51.5" y2="487.1" stroke="#b0b0b0" stroke-width="0.7"/>
<line x1="50.1" y1="475.1" x2="51.5" y2="475.1" stroke="#b0b0b0" stroke-width="0.7"/>
<line x1="49.3" y1="463.1" x2="51.5" y2="463.1" stroke="#b0b0b0" stroke-width="0.7"/>
<line x1="50.1" y1="451.1" x2="51.5" y2="451.1" stroke="#b0b0b0" stroke-width="0.7"/>
<line x1="49.3" y1="439.1" x2="51.5" y2="439.1" stroke="#b0b0b0" stroke-width="0.7"/>
<line x1="50.1" y1="427.1" x2="51.5" y2="427.1" stroke="#b0b0b0" stroke-width="0.7"/>
<line x1="49.3" y1="415.1" x2="51.5" y2="415.1" stroke="#b0b0b0" stroke-width="0.7"/>
<line x1="50.1" y1="403.1" x2="51.5" y2="403.1" stroke="#b0b0b0" stroke-width="0.7"/>
<line x1="49.3" y1="391.1" x2="51.5" y2="391.1" stroke="#b0b0b0" stroke-width="0.7"/>
<text x="47.5" y="393.7" font-size="7.6" text-anchor="end" fill="#222">4</text>
<text x="47.5" y="442.6" font-size="7.6" text-anchor="end" fill="#222">2</text>
<text x="49.5" y="489.7" font-size="7.6" text-anchor="end" fill="#222" textLength="21.5" lengthAdjust="spacingAndGlyphs">1e-006</text>
<line x1="51.5" y1="487.1" x2="51.5" y2="489.3" stroke="#b0b0b0" stroke-width="0.7"/>
<line x1="63.8" y1="487.1" x2="63.8" y2="488.5" stroke="#b0b0b0" stroke-width="0.7"/>
<line x1="76.1" y1="487.1" x2="76.1" y2="489.3" stroke="#b0b0b0" stroke-width="0.7"/>
<line x1="88.4" y1="487.1" x2="88.4" y2="488.5" stroke="#b0b0b0" stroke-width="0.7"/>
<line x1="100.7" y1="487.1" x2="100.7" y2="489.3" stroke="#b0b0b0" stroke-width="0.7"/>
<line x1="113" y1="487.1" x2="113" y2="488.5" stroke="#b0b0b0" stroke-width="0.7"/>
<line x1="125.3" y1="487.1" x2="125.3" y2="489.3" stroke="#b0b0b0" stroke-width="0.7"/>
<line x1="137.6" y1="487.1" x2="137.6" y2="488.5" stroke="#b0b0b0" stroke-width="0.7"/>
<line x1="149.9" y1="487.1" x2="149.9" y2="489.3" stroke="#b0b0b0" stroke-width="0.7"/>
<text x="76.3" y="499" font-size="7.6" text-anchor="middle" fill="#222">2</text>
<text x="100.5" y="499" font-size="7.6" text-anchor="middle" fill="#222">4</text>
<text x="125.1" y="499" font-size="7.6" text-anchor="middle" fill="#222">6</text>
<text x="149.8" y="499" font-size="7.6" text-anchor="middle" fill="#222">8</text>
<text x="51.1" y="499" font-size="7.6" text-anchor="middle" fill="#222" textLength="21.6" lengthAdjust="spacingAndGlyphs">1e-006</text>
<text x="101" y="512" font-size="9.2" text-anchor="middle" fill="#222">FSC</text>
<text transform="translate(35.5 437) rotate(-90)" font-size="9" fill="#222" text-anchor="middle">SSC</text>
<path d="M263.1 481.1h0.6v0.6h-0.6zM233.5 482.0h0.6v0.6h-0.6zM256.9 480.2h0.6v0.6h-0.6zM286.2 468.8h0.6v0.6h-0.6zM248.9 482.2h0.6v0.6h-0.6zM274.5 477.6h0.6v0.6h-0.6zM271.5 479.9h0.6v0.6h-0.6zM272.2 476.0h0.6v0.6h-0.6zM261.9 481.1h0.6v0.6h-0.6zM289.1 449.7h0.6v0.6h-0.6zM286.1 456.6h0.6v0.6h-0.6zM275.0 474.4h0.6v0.6h-0.6zM279.4 472.5h0.6v0.6h-0.6zM287.5 457.0h0.6v0.6h-0.6zM286.3 464.4h0.6v0.6h-0.6zM270.7 482.6h0.6v0.6h-0.6zM290.1 451.1h0.6v0.6h-0.6zM275.0 478.1h0.6v0.6h-0.6zM281.8 471.5h0.6v0.6h-0.6zM260.6 483.3h0.6v0.6h-0.6zM281.3 475.4h0.6v0.6h-0.6zM264.5 479.9h0.6v0.6h-0.6zM250.3 483.4h0.6v0.6h-0.6zM280.8 457.9h0.6v0.6h-0.6zM273.2 480.2h0.6v0.6h-0.6zM264.0 485.4h0.6v0.6h-0.6zM285.4 464.3h0.6v0.6h-0.6zM279.9 471.9h0.6v0.6h-0.6zM265.4 481.8h0.6v0.6h-0.6zM287.6 455.6h0.6v0.6h-0.6zM280.8 473.7h0.6v0.6h-0.6zM269.5 483.5h0.6v0.6h-0.6zM285.5 459.6h0.6v0.6h-0.6zM272.3 476.5h0.6v0.6h-0.6zM272.3 481.4h0.6v0.6h-0.6zM279.6 475.0h0.6v0.6h-0.6zM283.6 459.7h0.6v0.6h-0.6zM267.9 480.7h0.6v0.6h-0.6zM275.3 479.1h0.6v0.6h-0.6zM280.1 482.5h0.6v0.6h-0.6zM280.9 467.4h0.6v0.6h-0.6zM287.3 455.3h0.6v0.6h-0.6zM288.9 454.1h0.6v0.6h-0.6zM260.6 484.1h0.6v0.6h-0.6zM286.0 456.2h0.6v0.6h-0.6zM286.9 459.4h0.6v0.6h-0.6zM283.9 461.7h0.6v0.6h-0.6zM250.8 484.1h0.6v0.6h-0.6zM266.5 477.5h0.6v0.6h-0.6zM284.9 474.0h0.6v0.6h-0.6zM280.8 466.1h0.6v0.6h-0.6zM275.8 480.8h0.6v0.6h-0.6zM276.5 475.7h0.6v0.6h-0.6zM284.3 462.7h0.6v0.6h-0.6zM264.5 480.8h0.6v0.6h-0.6zM282.5 472.5h0.6v0.6h-0.6zM284.2 458.6h0.6v0.6h-0.6zM243.2 481.6h0.6v0.6h-0.6zM277.2 479.3h0.6v0.6h-0.6zM286.2 465.7h0.6v0.6h-0.6zM240.4 481.8h0.6v0.6h-0.6zM285.8 455.1h0.6v0.6h-0.6zM282.8 473.3h0.6v0.6h-0.6zM281.5 462.4h0.6v0.6h-0.6zM275.5 479.1h0.6v0.6h-0.6zM272.7 484.1h0.6v0.6h-0.6zM275.4 478.1h0.6v0.6h-0.6zM253.3 481.2h0.6v0.6h-0.6zM277.5 479.1h0.6v0.6h-0.6zM255.4 480.9h0.6v0.6h-0.6zM290.1 448.9h0.6v0.6h-0.6zM278.7 477.8h0.6v0.6h-0.6zM290.6 445.7h0.6v0.6h-0.6zM285.5 454.5h0.6v0.6h-0.6zM280.7 474.7h0.6v0.6h-0.6zM285.3 462.9h0.6v0.6h-0.6zM281.6 471.5h0.6v0.6h-0.6zM284.1 464.4h0.6v0.6h-0.6zM251.5 482.1h0.6v0.6h-0.6zM288.0 443.9h0.6v0.6h-0.6zM287.2 456.3h0.6v0.6h-0.6zM277.9 473.9h0.6v0.6h-0.6zM277.2 477.1h0.6v0.6h-0.6zM254.9 481.9h0.6v0.6h-0.6zM281.3 475.9h0.6v0.6h-0.6zM286.0 460.6h0.6v0.6h-0.6zM278.0 473.1h0.6v0.6h-0.6zM252.5 481.0h0.6v0.6h-0.6zM263.1 479.9h0.6v0.6h-0.6zM290.8 445.9h0.6v0.6h-0.6zM283.8 472.8h0.6v0.6h-0.6zM272.1 480.6h0.6v0.6h-0.6zM281.5 469.3h0.6v0.6h-0.6zM287.3 447.7h0.6v0.6h-0.6zM287.1 454.0h0.6v0.6h-0.6zM286.1 463.7h0.6v0.6h-0.6zM286.0 451.4h0.6v0.6h-0.6zM263.3 480.8h0.6v0.6h-0.6zM277.5 469.3h0.6v0.6h-0.6zM287.9 460.0h0.6v0.6h-0.6zM267.9 479.4h0.6v0.6h-0.6zM278.8 470.5h0.6v0.6h-0.6zM289.1 454.7h0.6v0.6h-0.6zM287.5 459.4h0.6v0.6h-0.6zM290.0 452.7h0.6v0.6h-0.6zM269.0 477.6h0.6v0.6h-0.6zM289.7 446.7h0.6v0.6h-0.6zM253.7 480.7h0.6v0.6h-0.6zM283.9 466.0h0.6v0.6h-0.6zM284.8 465.5h0.6v0.6h-0.6zM281.4 471.8h0.6v0.6h-0.6zM284.4 460.0h0.6v0.6h-0.6zM284.0 460.1h0.6v0.6h-0.6zM287.7 455.1h0.6v0.6h-0.6zM271.8 476.3h0.6v0.6h-0.6zM263.9 480.3h0.6v0.6h-0.6zM288.7 445.7h0.6v0.6h-0.6zM283.3 469.3h0.6v0.6h-0.6zM256.0 480.1h0.6v0.6h-0.6zM276.7 470.6h0.6v0.6h-0.6zM269.6 481.1h0.6v0.6h-0.6zM254.3 482.3h0.6v0.6h-0.6zM286.7 460.5h0.6v0.6h-0.6zM260.7 480.7h0.6v0.6h-0.6zM287.5 450.4h0.6v0.6h-0.6zM288.7 447.1h0.6v0.6h-0.6zM282.0 472.1h0.6v0.6h-0.6zM287.9 451.1h0.6v0.6h-0.6zM288.8 453.1h0.6v0.6h-0.6zM281.4 468.6h0.6v0.6h-0.6zM285.6 465.2h0.6v0.6h-0.6zM273.7 477.7h0.6v0.6h-0.6zM277.1 480.7h0.6v0.6h-0.6zM275.2 477.6h0.6v0.6h-0.6zM283.6 475.5h0.6v0.6h-0.6zM286.6 469.7h0.6v0.6h-0.6zM270.3 479.1h0.6v0.6h-0.6zM282.7 465.5h0.6v0.6h-0.6zM272.5 479.3h0.6v0.6h-0.6zM240.9 482.6h0.6v0.6h-0.6zM280.5 470.6h0.6v0.6h-0.6zM258.9 481.3h0.6v0.6h-0.6zM283.8 466.7h0.6v0.6h-0.6zM256.8 480.6h0.6v0.6h-0.6zM284.8 458.8h0.6v0.6h-0.6zM286.2 460.0h0.6v0.6h-0.6zM284.6 458.8h0.6v0.6h-0.6zM276.4 479.8h0.6v0.6h-0.6zM255.2 483.9h0.6v0.6h-0.6zM288.1 450.8h0.6v0.6h-0.6zM276.5 478.1h0.6v0.6h-0.6zM267.8 480.1h0.6v0.6h-0.6zM262.7 480.9h0.6v0.6h-0.6zM288.1 466.4h0.6v0.6h-0.6zM284.8 465.3h0.6v0.6h-0.6zM264.5 478.5h0.6v0.6h-0.6zM269.6 482.3h0.6v0.6h-0.6zM280.4 476.3h0.6v0.6h-0.6zM287.7 453.5h0.6v0.6h-0.6zM268.5 481.0h0.6v0.6h-0.6zM240.1 482.4h0.6v0.6h-0.6zM286.4 466.2h0.6v0.6h-0.6zM270.8 478.4h0.6v0.6h-0.6zM239.9 480.9h0.6v0.6h-0.6zM273.6 470.4h0.6v0.6h-0.6zM269.6 482.5h0.6v0.6h-0.6zM289.7 449.7h0.6v0.6h-0.6zM289.0 445.9h0.6v0.6h-0.6zM282.5 466.7h0.6v0.6h-0.6zM283.6 460.0h0.6v0.6h-0.6zM288.0 453.3h0.6v0.6h-0.6zM275.8 479.3h0.6v0.6h-0.6zM260.5 480.5h0.6v0.6h-0.6zM281.1 466.0h0.6v0.6h-0.6zM256.5 480.9h0.6v0.6h-0.6zM254.6 481.0h0.6v0.6h-0.6zM289.1 447.2h0.6v0.6h-0.6zM255.1 481.3h0.6v0.6h-0.6zM280.9 471.5h0.6v0.6h-0.6zM272.2 480.1h0.6v0.6h-0.6zM277.2 472.3h0.6v0.6h-0.6zM264.8 483.2h0.6v0.6h-0.6zM277.1 475.3h0.6v0.6h-0.6zM288.4 459.8h0.6v0.6h-0.6zM278.1 466.1h0.6v0.6h-0.6zM272.0 481.3h0.6v0.6h-0.6zM261.0 480.3h0.6v0.6h-0.6zM269.0 482.7h0.6v0.6h-0.6zM267.3 482.5h0.6v0.6h-0.6zM265.4 478.4h0.6v0.6h-0.6zM289.2 447.2h0.6v0.6h-0.6zM258.1 483.5h0.6v0.6h-0.6zM254.5 479.9h0.6v0.6h-0.6zM280.2 474.2h0.6v0.6h-0.6zM270.5 482.2h0.6v0.6h-0.6zM274.8 480.0h0.6v0.6h-0.6zM289.0 446.2h0.6v0.6h-0.6zM282.5 470.3h0.6v0.6h-0.6zM271.5 479.2h0.6v0.6h-0.6zM261.4 480.3h0.6v0.6h-0.6zM288.3 451.9h0.6v0.6h-0.6zM286.2 462.2h0.6v0.6h-0.6zM286.9 462.9h0.6v0.6h-0.6zM263.4 481.4h0.6v0.6h-0.6zM281.6 467.2h0.6v0.6h-0.6zM280.0 478.2h0.6v0.6h-0.6zM265.8 483.6h0.6v0.6h-0.6zM289.0 450.4h0.6v0.6h-0.6zM250.3 482.5h0.6v0.6h-0.6zM278.5 478.4h0.6v0.6h-0.6zM287.7 470.8h0.6v0.6h-0.6zM253.2 482.3h0.6v0.6h-0.6zM281.0 478.4h0.6v0.6h-0.6zM279.7 472.3h0.6v0.6h-0.6zM285.3 455.2h0.6v0.6h-0.6zM270.2 480.1h0.6v0.6h-0.6zM268.5 481.8h0.6v0.6h-0.6zM286.3 465.8h0.6v0.6h-0.6zM268.4 483.4h0.6v0.6h-0.6zM284.6 453.0h0.6v0.6h-0.6zM281.4 470.8h0.6v0.6h-0.6zM286.9 464.7h0.6v0.6h-0.6zM264.1 483.6h0.6v0.6h-0.6zM265.2 481.1h0.6v0.6h-0.6zM279.0 470.3h0.6v0.6h-0.6zM240.8 482.9h0.6v0.6h-0.6zM256.6 480.7h0.6v0.6h-0.6zM265.8 479.0h0.6v0.6h-0.6zM263.5 482.2h0.6v0.6h-0.6zM282.2 468.7h0.6v0.6h-0.6zM273.0 482.3h0.6v0.6h-0.6zM281.1 480.1h0.6v0.6h-0.6zM280.0 473.0h0.6v0.6h-0.6zM280.1 469.0h0.6v0.6h-0.6zM274.6 478.7h0.6v0.6h-0.6zM287.4 472.0h0.6v0.6h-0.6zM278.8 473.5h0.6v0.6h-0.6zM281.5 463.6h0.6v0.6h-0.6zM285.0 471.2h0.6v0.6h-0.6zM290.2 446.3h0.6v0.6h-0.6zM282.0 479.0h0.6v0.6h-0.6zM282.2 459.2h0.6v0.6h-0.6zM278.3 477.9h0.6v0.6h-0.6zM286.1 459.2h0.6v0.6h-0.6zM277.7 473.8h0.6v0.6h-0.6zM277.3 473.4h0.6v0.6h-0.6zM286.0 469.0h0.6v0.6h-0.6zM273.5 476.5h0.6v0.6h-0.6zM286.1 464.7h0.6v0.6h-0.6zM288.1 460.0h0.6v0.6h-0.6zM249.5 480.0h0.6v0.6h-0.6zM286.2 450.0h0.6v0.6h-0.6zM281.0 467.7h0.6v0.6h-0.6zM287.5 455.6h0.6v0.6h-0.6zM276.9 481.6h0.6v0.6h-0.6zM279.3 466.1h0.6v0.6h-0.6zM287.7 459.3h0.6v0.6h-0.6zM289.1 452.7h0.6v0.6h-0.6zM271.2 480.2h0.6v0.6h-0.6zM278.2 473.7h0.6v0.6h-0.6zM285.7 449.3h0.6v0.6h-0.6zM282.8 465.4h0.6v0.6h-0.6zM282.1 466.4h0.6v0.6h-0.6zM279.2 479.1h0.6v0.6h-0.6zM236.6 482.4h0.6v0.6h-0.6zM284.9 468.0h0.6v0.6h-0.6zM267.2 479.9h0.6v0.6h-0.6zM281.7 468.0h0.6v0.6h-0.6zM276.0 478.8h0.6v0.6h-0.6zM256.1 481.6h0.6v0.6h-0.6zM282.1 467.0h0.6v0.6h-0.6zM263.6 480.4h0.6v0.6h-0.6zM241.4 482.3h0.6v0.6h-0.6zM280.8 467.9h0.6v0.6h-0.6zM251.6 480.8h0.6v0.6h-0.6zM257.8 482.2h0.6v0.6h-0.6zM245.1 481.7h0.6v0.6h-0.6zM278.5 478.1h0.6v0.6h-0.6zM280.0 463.2h0.6v0.6h-0.6zM279.6 473.9h0.6v0.6h-0.6zM280.3 476.8h0.6v0.6h-0.6zM283.0 462.1h0.6v0.6h-0.6zM278.0 475.1h0.6v0.6h-0.6zM259.1 480.3h0.6v0.6h-0.6zM285.7 464.3h0.6v0.6h-0.6zM277.5 474.0h0.6v0.6h-0.6zM266.2 483.8h0.6v0.6h-0.6zM277.2 481.1h0.6v0.6h-0.6zM238.7 483.4h0.6v0.6h-0.6zM280.0 471.4h0.6v0.6h-0.6zM253.5 481.2h0.6v0.6h-0.6zM275.4 479.4h0.6v0.6h-0.6zM273.1 476.1h0.6v0.6h-0.6zM285.7 470.7h0.6v0.6h-0.6zM273.9 479.2h0.6v0.6h-0.6zM284.5 467.6h0.6v0.6h-0.6zM283.6 462.4h0.6v0.6h-0.6zM283.8 473.2h0.6v0.6h-0.6zM237.0 481.7h0.6v0.6h-0.6zM278.9 474.9h0.6v0.6h-0.6zM267.5 479.4h0.6v0.6h-0.6zM286.3 453.4h0.6v0.6h-0.6zM288.6 454.3h0.6v0.6h-0.6zM277.5 478.1h0.6v0.6h-0.6zM268.1 478.5h0.6v0.6h-0.6zM264.5 480.6h0.6v0.6h-0.6zM269.4 480.1h0.6v0.6h-0.6zM272.6 482.2h0.6v0.6h-0.6zM277.2 476.3h0.6v0.6h-0.6zM288.6 453.1h0.6v0.6h-0.6zM252.7 480.5h0.6v0.6h-0.6zM280.9 467.5h0.6v0.6h-0.6zM285.7 461.9h0.6v0.6h-0.6zM269.9 479.9h0.6v0.6h-0.6zM277.1 474.2h0.6v0.6h-0.6zM266.9 479.2h0.6v0.6h-0.6zM274.9 479.5h0.6v0.6h-0.6zM255.5 480.3h0.6v0.6h-0.6zM271.8 479.5h0.6v0.6h-0.6zM281.4 470.5h0.6v0.6h-0.6zM275.8 477.3h0.6v0.6h-0.6zM258.2 478.0h0.6v0.6h-0.6zM232.6 482.3h0.6v0.6h-0.6zM247.6 481.2h0.6v0.6h-0.6zM285.5 463.3h0.6v0.6h-0.6zM287.7 450.2h0.6v0.6h-0.6zM284.1 471.1h0.6v0.6h-0.6zM274.7 476.0h0.6v0.6h-0.6zM280.6 472.8h0.6v0.6h-0.6zM267.7 483.0h0.6v0.6h-0.6zM283.4 467.1h0.6v0.6h-0.6zM285.3 466.8h0.6v0.6h-0.6zM271.7 482.4h0.6v0.6h-0.6zM276.7 481.3h0.6v0.6h-0.6zM267.6 483.3h0.6v0.6h-0.6zM282.3 464.8h0.6v0.6h-0.6zM272.7 475.4h0.6v0.6h-0.6zM286.3 459.7h0.6v0.6h-0.6zM269.3 481.0h0.6v0.6h-0.6zM287.0 459.1h0.6v0.6h-0.6zM280.8 468.1h0.6v0.6h-0.6zM272.7 478.2h0.6v0.6h-0.6zM281.6 461.5h0.6v0.6h-0.6zM277.9 469.6h0.6v0.6h-0.6zM282.6 467.6h0.6v0.6h-0.6zM244.3 483.0h0.6v0.6h-0.6zM287.3 449.3h0.6v0.6h-0.6zM286.9 458.3h0.6v0.6h-0.6zM274.2 476.5h0.6v0.6h-0.6zM274.4 476.7h0.6v0.6h-0.6zM282.2 472.4h0.6v0.6h-0.6zM265.5 480.6h0.6v0.6h-0.6zM286.3 459.1h0.6v0.6h-0.6zM285.1 460.9h0.6v0.6h-0.6zM290.0 461.8h0.6v0.6h-0.6zM267.3 479.8h0.6v0.6h-0.6zM275.2 477.3h0.6v0.6h-0.6zM282.7 469.3h0.6v0.6h-0.6zM287.0 457.0h0.6v0.6h-0.6zM281.9 467.9h0.6v0.6h-0.6zM279.1 474.8h0.6v0.6h-0.6zM286.9 471.1h0.6v0.6h-0.6zM270.1 481.6h0.6v0.6h-0.6zM282.7 472.1h0.6v0.6h-0.6zM277.8 479.4h0.6v0.6h-0.6zM287.1 457.0h0.6v0.6h-0.6zM270.7 477.9h0.6v0.6h-0.6zM283.2 469.2h0.6v0.6h-0.6zM276.6 472.6h0.6v0.6h-0.6zM286.5 455.6h0.6v0.6h-0.6zM247.6 481.6h0.6v0.6h-0.6zM276.9 475.2h0.6v0.6h-0.6zM260.2 482.9h0.6v0.6h-0.6zM284.8 468.5h0.6v0.6h-0.6zM284.0 468.5h0.6v0.6h-0.6zM249.0 481.8h0.6v0.6h-0.6zM283.1 476.2h0.6v0.6h-0.6zM260.7 481.7h0.6v0.6h-0.6zM288.3 460.5h0.6v0.6h-0.6zM268.9 478.2h0.6v0.6h-0.6zM255.2 481.4h0.6v0.6h-0.6zM286.4 470.3h0.6v0.6h-0.6zM269.4 480.8h0.6v0.6h-0.6zM278.9 472.6h0.6v0.6h-0.6zM283.1 467.8h0.6v0.6h-0.6zM282.3 475.2h0.6v0.6h-0.6zM288.2 447.9h0.6v0.6h-0.6zM249.3 481.0h0.6v0.6h-0.6zM256.3 482.7h0.6v0.6h-0.6zM288.8 446.4h0.6v0.6h-0.6zM282.8 466.9h0.6v0.6h-0.6zM280.4 471.1h0.6v0.6h-0.6zM284.7 463.0h0.6v0.6h-0.6zM276.0 475.3h0.6v0.6h-0.6zM281.2 474.5h0.6v0.6h-0.6zM283.9 469.9h0.6v0.6h-0.6zM286.5 458.4h0.6v0.6h-0.6zM252.4 481.5h0.6v0.6h-0.6zM281.6 469.0h0.6v0.6h-0.6zM278.8 466.8h0.6v0.6h-0.6zM259.5 478.7h0.6v0.6h-0.6zM282.9 474.9h0.6v0.6h-0.6zM274.6 476.0h0.6v0.6h-0.6zM264.0 479.0h0.6v0.6h-0.6zM250.8 481.2h0.6v0.6h-0.6zM265.1 478.4h0.6v0.6h-0.6zM274.7 475.0h0.6v0.6h-0.6zM259.9 483.0h0.6v0.6h-0.6zM286.0 458.2h0.6v0.6h-0.6zM278.9 474.0h0.6v0.6h-0.6zM286.1 454.7h0.6v0.6h-0.6zM283.6 459.4h0.6v0.6h-0.6zM249.2 482.8h0.6v0.6h-0.6zM288.6 455.7h0.6v0.6h-0.6zM274.0 479.1h0.6v0.6h-0.6zM288.3 477.8h0.6v0.6h-0.6zM235.9 480.7h0.6v0.6h-0.6zM242.2 480.9h0.6v0.6h-0.6zM273.4 481.9h0.6v0.6h-0.6zM258.0 482.0h0.6v0.6h-0.6zM283.6 462.1h0.6v0.6h-0.6zM283.5 464.0h0.6v0.6h-0.6zM288.2 459.8h0.6v0.6h-0.6zM286.8 450.5h0.6v0.6h-0.6zM254.8 481.3h0.6v0.6h-0.6zM281.2 478.2h0.6v0.6h-0.6zM265.6 474.9h0.6v0.6h-0.6zM287.5 453.1h0.6v0.6h-0.6zM283.1 462.5h0.6v0.6h-0.6zM279.5 476.3h0.6v0.6h-0.6zM289.9 450.7h0.6v0.6h-0.6zM284.6 453.6h0.6v0.6h-0.6zM287.8 454.8h0.6v0.6h-0.6zM286.0 458.6h0.6v0.6h-0.6zM274.6 470.8h0.6v0.6h-0.6zM256.6 481.4h0.6v0.6h-0.6zM285.2 471.7h0.6v0.6h-0.6zM280.1 472.9h0.6v0.6h-0.6zM285.7 468.6h0.6v0.6h-0.6zM287.6 449.1h0.6v0.6h-0.6zM283.0 466.6h0.6v0.6h-0.6zM282.9 462.8h0.6v0.6h-0.6zM281.1 472.3h0.6v0.6h-0.6zM277.9 475.6h0.6v0.6h-0.6zM279.3 467.2h0.6v0.6h-0.6zM273.9 480.3h0.6v0.6h-0.6zM263.2 483.4h0.6v0.6h-0.6zM285.8 459.4h0.6v0.6h-0.6zM284.6 453.4h0.6v0.6h-0.6zM276.1 478.9h0.6v0.6h-0.6zM284.7 466.6h0.6v0.6h-0.6zM279.9 474.1h0.6v0.6h-0.6zM284.9 457.5h0.6v0.6h-0.6zM279.3 467.8h0.6v0.6h-0.6zM274.9 480.2h0.6v0.6h-0.6zM279.3 469.3h0.6v0.6h-0.6zM276.1 473.0h0.6v0.6h-0.6zM242.0 483.8h0.6v0.6h-0.6zM276.3 477.1h0.6v0.6h-0.6zM273.6 480.1h0.6v0.6h-0.6zM277.7 473.8h0.6v0.6h-0.6zM249.8 481.6h0.6v0.6h-0.6zM278.9 481.3h0.6v0.6h-0.6zM281.1 478.1h0.6v0.6h-0.6zM257.7 478.2h0.6v0.6h-0.6zM271.4 479.9h0.6v0.6h-0.6zM283.4 465.8h0.6v0.6h-0.6zM263.4 479.4h0.6v0.6h-0.6zM279.1 474.2h0.6v0.6h-0.6zM278.1 473.5h0.6v0.6h-0.6zM247.6 482.2h0.6v0.6h-0.6zM266.0 481.9h0.6v0.6h-0.6zM274.8 470.2h0.6v0.6h-0.6zM284.0 469.2h0.6v0.6h-0.6zM282.8 464.6h0.6v0.6h-0.6zM254.6 483.1h0.6v0.6h-0.6zM278.3 477.2h0.6v0.6h-0.6zM282.8 463.5h0.6v0.6h-0.6zM274.4 478.7h0.6v0.6h-0.6zM278.9 480.1h0.6v0.6h-0.6zM264.2 482.1h0.6v0.6h-0.6zM268.7 479.4h0.6v0.6h-0.6zM273.4 482.5h0.6v0.6h-0.6zM281.4 464.6h0.6v0.6h-0.6zM269.5 477.5h0.6v0.6h-0.6zM289.0 459.4h0.6v0.6h-0.6zM270.1 480.4h0.6v0.6h-0.6zM283.1 462.4h0.6v0.6h-0.6zM261.1 482.5h0.6v0.6h-0.6zM283.9 466.7h0.6v0.6h-0.6zM287.3 456.8h0.6v0.6h-0.6zM287.1 465.4h0.6v0.6h-0.6zM286.5 462.6h0.6v0.6h-0.6zM289.5 451.8h0.6v0.6h-0.6zM278.0 472.6h0.6v0.6h-0.6zM287.2 450.0h0.6v0.6h-0.6zM279.6 465.2h0.6v0.6h-0.6zM279.9 478.2h0.6v0.6h-0.6zM286.0 459.2h0.6v0.6h-0.6zM275.4 470.1h0.6v0.6h-0.6zM260.4 480.6h0.6v0.6h-0.6zM285.7 461.0h0.6v0.6h-0.6zM249.6 482.6h0.6v0.6h-0.6zM287.2 448.4h0.6v0.6h-0.6zM286.8 470.3h0.6v0.6h-0.6zM255.8 481.6h0.6v0.6h-0.6zM277.9 475.4h0.6v0.6h-0.6zM285.2 477.0h0.6v0.6h-0.6zM261.2 482.2h0.6v0.6h-0.6zM259.7 480.7h0.6v0.6h-0.6zM282.5 472.5h0.6v0.6h-0.6zM254.5 481.6h0.6v0.6h-0.6zM271.4 478.4h0.6v0.6h-0.6zM289.7 460.9h0.6v0.6h-0.6zM287.8 452.9h0.6v0.6h-0.6zM259.1 480.4h0.6v0.6h-0.6zM283.5 460.5h0.6v0.6h-0.6zM258.2 481.8h0.6v0.6h-0.6zM270.5 476.3h0.6v0.6h-0.6zM282.6 458.1h0.6v0.6h-0.6zM281.6 468.0h0.6v0.6h-0.6zM282.7 473.0h0.6v0.6h-0.6zM285.1 460.9h0.6v0.6h-0.6zM273.7 478.9h0.6v0.6h-0.6zM283.8 474.2h0.6v0.6h-0.6zM259.1 479.7h0.6v0.6h-0.6zM287.0 463.7h0.6v0.6h-0.6zM279.5 471.5h0.6v0.6h-0.6zM287.3 453.5h0.6v0.6h-0.6zM279.6 474.2h0.6v0.6h-0.6zM252.8 481.3h0.6v0.6h-0.6zM252.7 481.0h0.6v0.6h-0.6zM271.6 479.4h0.6v0.6h-0.6zM279.8 477.4h0.6v0.6h-0.6zM282.6 463.3h0.6v0.6h-0.6zM285.6 463.6h0.6v0.6h-0.6zM286.1 452.6h0.6v0.6h-0.6zM286.1 471.6h0.6v0.6h-0.6zM288.9 446.6h0.6v0.6h-0.6zM276.8 473.4h0.6v0.6h-0.6zM274.3 476.0h0.6v0.6h-0.6zM274.3 474.6h0.6v0.6h-0.6zM287.7 451.6h0.6v0.6h-0.6zM281.3 461.1h0.6v0.6h-0.6zM282.6 472.7h0.6v0.6h-0.6zM265.9 478.4h0.6v0.6h-0.6zM282.0 466.4h0.6v0.6h-0.6zM287.4 455.5h0.6v0.6h-0.6zM260.5 480.3h0.6v0.6h-0.6zM289.6 456.1h0.6v0.6h-0.6zM268.3 476.9h0.6v0.6h-0.6zM285.7 462.0h0.6v0.6h-0.6zM284.9 468.1h0.6v0.6h-0.6zM275.3 481.0h0.6v0.6h-0.6zM279.7 473.5h0.6v0.6h-0.6zM280.0 478.2h0.6v0.6h-0.6zM283.5 461.2h0.6v0.6h-0.6zM268.0 479.4h0.6v0.6h-0.6zM282.1 472.1h0.6v0.6h-0.6zM287.8 460.3h0.6v0.6h-0.6zM267.9 478.1h0.6v0.6h-0.6zM288.0 452.3h0.6v0.6h-0.6zM280.5 475.2h0.6v0.6h-0.6zM272.9 477.8h0.6v0.6h-0.6zM277.6 478.8h0.6v0.6h-0.6zM284.7 463.6h0.6v0.6h-0.6zM244.2 480.9h0.6v0.6h-0.6zM277.2 472.5h0.6v0.6h-0.6zM267.1 481.5h0.6v0.6h-0.6zM287.2 453.8h0.6v0.6h-0.6zM277.4 475.7h0.6v0.6h-0.6zM290.4 443.4h0.6v0.6h-0.6zM283.5 476.0h0.6v0.6h-0.6zM283.9 456.2h0.6v0.6h-0.6zM258.8 480.0h0.6v0.6h-0.6zM283.7 466.2h0.6v0.6h-0.6zM286.6 461.9h0.6v0.6h-0.6zM289.0 454.0h0.6v0.6h-0.6zM283.6 468.6h0.6v0.6h-0.6zM278.3 476.4h0.6v0.6h-0.6zM255.1 480.6h0.6v0.6h-0.6zM286.0 453.6h0.6v0.6h-0.6zM247.3 482.1h0.6v0.6h-0.6zM280.4 468.0h0.6v0.6h-0.6zM275.6 479.1h0.6v0.6h-0.6zM253.8 481.6h0.6v0.6h-0.6zM283.6 474.3h0.6v0.6h-0.6zM287.0 457.6h0.6v0.6h-0.6zM286.2 459.8h0.6v0.6h-0.6zM265.2 478.9h0.6v0.6h-0.6zM261.3 482.1h0.6v0.6h-0.6zM283.4 471.3h0.6v0.6h-0.6zM285.1 456.6h0.6v0.6h-0.6zM280.8 473.3h0.6v0.6h-0.6zM286.4 459.5h0.6v0.6h-0.6zM277.2 478.3h0.6v0.6h-0.6zM266.0 483.0h0.6v0.6h-0.6zM278.4 473.5h0.6v0.6h-0.6zM265.0 479.7h0.6v0.6h-0.6zM283.1 473.2h0.6v0.6h-0.6zM278.8 474.8h0.6v0.6h-0.6zM284.6 458.2h0.6v0.6h-0.6zM253.1 480.9h0.6v0.6h-0.6zM255.1 480.2h0.6v0.6h-0.6zM286.5 454.6h0.6v0.6h-0.6zM244.8 481.0h0.6v0.6h-0.6zM255.2 481.8h0.6v0.6h-0.6zM267.3 480.1h0.6v0.6h-0.6zM278.4 470.6h0.6v0.6h-0.6zM265.3 483.2h0.6v0.6h-0.6zM269.8 480.9h0.6v0.6h-0.6zM289.2 443.3h0.6v0.6h-0.6zM283.1 469.8h0.6v0.6h-0.6zM276.4 472.7h0.6v0.6h-0.6zM276.3 470.4h0.6v0.6h-0.6zM276.6 475.8h0.6v0.6h-0.6zM267.8 481.3h0.6v0.6h-0.6zM288.2 445.5h0.6v0.6h-0.6zM284.9 464.3h0.6v0.6h-0.6zM287.3 453.1h0.6v0.6h-0.6zM276.1 476.1h0.6v0.6h-0.6zM251.5 484.0h0.6v0.6h-0.6zM286.0 466.7h0.6v0.6h-0.6zM286.5 456.5h0.6v0.6h-0.6zM279.4 473.9h0.6v0.6h-0.6zM286.2 459.2h0.6v0.6h-0.6zM283.7 461.1h0.6v0.6h-0.6zM285.8 462.0h0.6v0.6h-0.6zM278.0 474.7h0.6v0.6h-0.6zM289.5 446.7h0.6v0.6h-0.6zM258.5 481.6h0.6v0.6h-0.6zM283.3 463.5h0.6v0.6h-0.6zM278.7 472.5h0.6v0.6h-0.6zM264.3 480.9h0.6v0.6h-0.6zM286.0 461.1h0.6v0.6h-0.6zM243.0 482.6h0.6v0.6h-0.6zM276.1 478.9h0.6v0.6h-0.6zM271.9 482.3h0.6v0.6h-0.6zM290.6 444.2h0.6v0.6h-0.6zM245.0 481.4h0.6v0.6h-0.6zM274.1 478.4h0.6v0.6h-0.6zM282.7 475.0h0.6v0.6h-0.6zM286.4 464.2h0.6v0.6h-0.6zM282.1 471.2h0.6v0.6h-0.6zM252.8 481.8h0.6v0.6h-0.6zM282.2 472.9h0.6v0.6h-0.6zM278.0 466.8h0.6v0.6h-0.6zM283.0 472.9h0.6v0.6h-0.6zM261.6 479.4h0.6v0.6h-0.6zM281.1 465.3h0.6v0.6h-0.6zM285.5 451.3h0.6v0.6h-0.6zM278.0 466.6h0.6v0.6h-0.6zM281.6 471.0h0.6v0.6h-0.6zM285.0 465.6h0.6v0.6h-0.6zM281.4 477.9h0.6v0.6h-0.6zM281.0 466.7h0.6v0.6h-0.6zM271.5 482.8h0.6v0.6h-0.6zM274.8 478.4h0.6v0.6h-0.6zM248.0 483.2h0.6v0.6h-0.6zM243.3 482.7h0.6v0.6h-0.6zM283.4 469.1h0.6v0.6h-0.6zM287.1 465.4h0.6v0.6h-0.6zM279.4 478.8h0.6v0.6h-0.6zM271.2 478.5h0.6v0.6h-0.6zM280.0 479.9h0.6v0.6h-0.6zM288.6 461.6h0.6v0.6h-0.6zM285.7 472.9h0.6v0.6h-0.6zM273.1 481.3h0.6v0.6h-0.6zM262.2 478.9h0.6v0.6h-0.6zM283.4 474.2h0.6v0.6h-0.6zM269.7 478.8h0.6v0.6h-0.6zM279.9 473.7h0.6v0.6h-0.6zM286.4 451.8h0.6v0.6h-0.6zM274.7 473.6h0.6v0.6h-0.6zM282.7 475.0h0.6v0.6h-0.6zM283.6 460.9h0.6v0.6h-0.6zM288.0 453.5h0.6v0.6h-0.6zM289.5 448.7h0.6v0.6h-0.6zM267.1 480.6h0.6v0.6h-0.6zM283.3 461.5h0.6v0.6h-0.6zM268.6 479.5h0.6v0.6h-0.6zM287.1 450.9h0.6v0.6h-0.6zM236.0 482.5h0.6v0.6h-0.6zM280.3 469.2h0.6v0.6h-0.6zM282.1 473.3h0.6v0.6h-0.6zM282.1 465.5h0.6v0.6h-0.6zM267.9 478.2h0.6v0.6h-0.6zM252.3 483.5h0.6v0.6h-0.6zM243.4 482.5h0.6v0.6h-0.6zM279.9 466.4h0.6v0.6h-0.6zM288.4 457.2h0.6v0.6h-0.6zM242.6 481.2h0.6v0.6h-0.6zM289.1 452.3h0.6v0.6h-0.6zM285.4 458.1h0.6v0.6h-0.6zM278.4 474.7h0.6v0.6h-0.6zM284.5 470.3h0.6v0.6h-0.6zM281.9 467.0h0.6v0.6h-0.6zM242.7 481.3h0.6v0.6h-0.6zM280.2 469.4h0.6v0.6h-0.6zM286.0 464.1h0.6v0.6h-0.6zM283.7 472.0h0.6v0.6h-0.6zM286.9 450.6h0.6v0.6h-0.6zM276.4 480.2h0.6v0.6h-0.6zM276.4 474.9h0.6v0.6h-0.6zM291.2 443.9h0.6v0.6h-0.6zM278.5 474.3h0.6v0.6h-0.6zM241.3 482.0h0.6v0.6h-0.6zM284.0 466.5h0.6v0.6h-0.6zM279.8 476.9h0.6v0.6h-0.6zM271.4 480.7h0.6v0.6h-0.6zM288.8 451.2h0.6v0.6h-0.6zM290.2 444.2h0.6v0.6h-0.6zM278.7 477.8h0.6v0.6h-0.6zM287.0 464.7h0.6v0.6h-0.6zM273.2 477.2h0.6v0.6h-0.6zM278.2 479.0h0.6v0.6h-0.6zM281.1 472.8h0.6v0.6h-0.6zM275.3 471.8h0.6v0.6h-0.6zM287.7 449.5h0.6v0.6h-0.6zM233.7 482.9h0.6v0.6h-0.6zM274.5 483.4h0.6v0.6h-0.6zM278.5 473.6h0.6v0.6h-0.6zM267.4 478.7h0.6v0.6h-0.6zM249.5 483.9h0.6v0.6h-0.6zM283.3 463.6h0.6v0.6h-0.6zM286.8 461.4h0.6v0.6h-0.6zM277.3 481.3h0.6v0.6h-0.6zM268.1 478.3h0.6v0.6h-0.6zM262.4 479.0h0.6v0.6h-0.6zM285.4 458.2h0.6v0.6h-0.6zM277.6 480.5h0.6v0.6h-0.6zM268.4 480.2h0.6v0.6h-0.6zM280.1 473.5h0.6v0.6h-0.6zM252.2 481.7h0.6v0.6h-0.6zM279.5 473.5h0.6v0.6h-0.6zM284.5 469.6h0.6v0.6h-0.6zM280.4 472.3h0.6v0.6h-0.6zM260.9 479.6h0.6v0.6h-0.6zM232.0 482.7h0.6v0.6h-0.6zM282.9 473.8h0.6v0.6h-0.6zM270.6 483.7h0.6v0.6h-0.6zM274.7 480.4h0.6v0.6h-0.6zM279.4 478.1h0.6v0.6h-0.6zM279.1 470.9h0.6v0.6h-0.6zM266.6 479.8h0.6v0.6h-0.6zM279.5 474.3h0.6v0.6h-0.6zM275.8 476.8h0.6v0.6h-0.6zM246.1 482.9h0.6v0.6h-0.6zM280.9 462.6h0.6v0.6h-0.6zM278.6 470.1h0.6v0.6h-0.6zM288.1 445.6h0.6v0.6h-0.6zM278.3 468.4h0.6v0.6h-0.6zM263.5 480.1h0.6v0.6h-0.6zM287.1 451.0h0.6v0.6h-0.6zM264.4 482.8h0.6v0.6h-0.6zM242.6 482.6h0.6v0.6h-0.6zM279.7 473.8h0.6v0.6h-0.6zM271.7 481.0h0.6v0.6h-0.6zM284.7 472.1h0.6v0.6h-0.6zM285.6 464.3h0.6v0.6h-0.6zM286.8 451.8h0.6v0.6h-0.6zM276.4 473.6h0.6v0.6h-0.6zM256.7 483.8h0.6v0.6h-0.6zM277.5 475.6h0.6v0.6h-0.6zM284.0 462.3h0.6v0.6h-0.6zM273.7 478.3h0.6v0.6h-0.6zM287.2 456.6h0.6v0.6h-0.6zM285.0 463.4h0.6v0.6h-0.6zM283.1 476.2h0.6v0.6h-0.6zM278.4 474.4h0.6v0.6h-0.6zM274.7 477.6h0.6v0.6h-0.6zM290.3 449.7h0.6v0.6h-0.6zM286.4 456.2h0.6v0.6h-0.6zM276.7 478.4h0.6v0.6h-0.6zM277.8 474.4h0.6v0.6h-0.6zM291.4 454.1h0.6v0.6h-0.6zM252.9 481.5h0.6v0.6h-0.6zM277.7 476.3h0.6v0.6h-0.6zM277.3 478.8h0.6v0.6h-0.6zM277.3 470.3h0.6v0.6h-0.6zM264.6 482.2h0.6v0.6h-0.6zM264.7 480.0h0.6v0.6h-0.6zM273.5 478.3h0.6v0.6h-0.6zM283.2 471.7h0.6v0.6h-0.6zM280.1 481.3h0.6v0.6h-0.6zM269.8 479.3h0.6v0.6h-0.6zM287.5 459.7h0.6v0.6h-0.6zM287.4 450.1h0.6v0.6h-0.6zM280.1 476.8h0.6v0.6h-0.6zM259.4 478.4h0.6v0.6h-0.6zM276.4 472.0h0.6v0.6h-0.6zM281.6 471.0h0.6v0.6h-0.6zM282.4 463.8h0.6v0.6h-0.6zM282.3 470.9h0.6v0.6h-0.6zM279.6 479.6h0.6v0.6h-0.6zM282.8 462.4h0.6v0.6h-0.6zM271.3 480.7h0.6v0.6h-0.6zM275.5 472.2h0.6v0.6h-0.6zM287.8 452.1h0.6v0.6h-0.6zM281.6 473.8h0.6v0.6h-0.6zM262.5 480.1h0.6v0.6h-0.6zM289.6 446.6h0.6v0.6h-0.6zM236.8 484.0h0.6v0.6h-0.6zM268.7 480.9h0.6v0.6h-0.6zM283.3 476.0h0.6v0.6h-0.6zM270.6 482.2h0.6v0.6h-0.6zM250.5 482.9h0.6v0.6h-0.6zM289.0 447.3h0.6v0.6h-0.6zM258.2 481.9h0.6v0.6h-0.6zM288.1 452.7h0.6v0.6h-0.6zM283.2 470.5h0.6v0.6h-0.6zM281.7 473.4h0.6v0.6h-0.6zM270.1 476.8h0.6v0.6h-0.6zM289.3 457.5h0.6v0.6h-0.6zM286.4 458.1h0.6v0.6h-0.6zM259.5 481.8h0.6v0.6h-0.6zM282.3 475.1h0.6v0.6h-0.6zM240.2 482.8h0.6v0.6h-0.6zM280.5 464.6h0.6v0.6h-0.6zM280.7 479.6h0.6v0.6h-0.6zM263.6 483.5h0.6v0.6h-0.6zM288.3 464.3h0.6v0.6h-0.6zM277.4 475.4h0.6v0.6h-0.6zM285.6 458.5h0.6v0.6h-0.6zM246.6 481.2h0.6v0.6h-0.6zM277.1 476.5h0.6v0.6h-0.6zM282.3 463.8h0.6v0.6h-0.6zM261.6 482.4h0.6v0.6h-0.6zM277.5 474.4h0.6v0.6h-0.6zM284.0 471.8h0.6v0.6h-0.6zM288.6 446.8h0.6v0.6h-0.6zM282.3 462.6h0.6v0.6h-0.6zM288.0 458.6h0.6v0.6h-0.6zM269.9 478.5h0.6v0.6h-0.6zM281.7 470.1h0.6v0.6h-0.6zM276.0 473.1h0.6v0.6h-0.6zM284.3 474.3h0.6v0.6h-0.6zM280.7 473.3h0.6v0.6h-0.6zM278.8 478.6h0.6v0.6h-0.6zM277.7 474.6h0.6v0.6h-0.6zM286.6 467.7h0.6v0.6h-0.6zM283.0 466.2h0.6v0.6h-0.6zM283.1 466.0h0.6v0.6h-0.6zM262.5 481.7h0.6v0.6h-0.6zM288.5 449.6h0.6v0.6h-0.6zM271.3 476.8h0.6v0.6h-0.6zM279.6 475.2h0.6v0.6h-0.6zM274.0 478.6h0.6v0.6h-0.6zM274.9 479.0h0.6v0.6h-0.6zM278.0 470.7h0.6v0.6h-0.6zM271.1 478.4h0.6v0.6h-0.6zM244.1 483.4h0.6v0.6h-0.6zM274.4 478.9h0.6v0.6h-0.6zM286.2 460.4h0.6v0.6h-0.6zM274.9 474.3h0.6v0.6h-0.6zM281.2 470.6h0.6v0.6h-0.6zM277.1 464.8h0.6v0.6h-0.6zM282.3 459.4h0.6v0.6h-0.6zM274.6 480.3h0.6v0.6h-0.6zM284.5 466.2h0.6v0.6h-0.6zM280.4 476.2h0.6v0.6h-0.6zM275.4 479.9h0.6v0.6h-0.6zM260.2 479.0h0.6v0.6h-0.6zM286.5 467.6h0.6v0.6h-0.6zM267.8 478.1h0.6v0.6h-0.6zM288.5 463.2h0.6v0.6h-0.6zM276.5 480.0h0.6v0.6h-0.6zM281.7 464.3h0.6v0.6h-0.6zM273.6 478.7h0.6v0.6h-0.6zM285.6 461.8h0.6v0.6h-0.6zM288.1 453.3h0.6v0.6h-0.6zM284.8 474.1h0.6v0.6h-0.6zM284.0 459.3h0.6v0.6h-0.6zM287.4 449.4h0.6v0.6h-0.6zM284.4 463.3h0.6v0.6h-0.6zM264.8 481.2h0.6v0.6h-0.6zM265.0 482.9h0.6v0.6h-0.6zM267.2 481.1h0.6v0.6h-0.6zM253.0 484.3h0.6v0.6h-0.6zM285.7 463.7h0.6v0.6h-0.6zM287.4 459.0h0.6v0.6h-0.6zM245.0 483.0h0.6v0.6h-0.6zM285.0 455.2h0.6v0.6h-0.6zM278.6 475.3h0.6v0.6h-0.6zM255.4 481.4h0.6v0.6h-0.6zM276.9 477.8h0.6v0.6h-0.6zM273.9 476.6h0.6v0.6h-0.6zM283.8 462.7h0.6v0.6h-0.6zM286.8 458.9h0.6v0.6h-0.6zM245.6 482.8h0.6v0.6h-0.6zM261.6 481.3h0.6v0.6h-0.6zM286.4 450.6h0.6v0.6h-0.6zM277.0 473.4h0.6v0.6h-0.6zM246.7 482.2h0.6v0.6h-0.6zM287.4 456.6h0.6v0.6h-0.6zM283.1 465.3h0.6v0.6h-0.6zM290.0 443.6h0.6v0.6h-0.6zM276.6 480.2h0.6v0.6h-0.6zM268.9 477.6h0.6v0.6h-0.6zM281.2 480.6h0.6v0.6h-0.6zM275.1 476.0h0.6v0.6h-0.6zM285.2 463.5h0.6v0.6h-0.6zM289.6 449.0h0.6v0.6h-0.6zM253.5 481.5h0.6v0.6h-0.6zM286.7 457.2h0.6v0.6h-0.6zM287.6 453.6h0.6v0.6h-0.6zM261.6 480.1h0.6v0.6h-0.6zM251.5 482.8h0.6v0.6h-0.6zM274.9 479.0h0.6v0.6h-0.6zM280.2 466.0h0.6v0.6h-0.6zM285.6 467.0h0.6v0.6h-0.6zM254.6 483.8h0.6v0.6h-0.6zM269.6 481.1h0.6v0.6h-0.6zM284.2 461.5h0.6v0.6h-0.6zM259.7 481.4h0.6v0.6h-0.6zM287.0 457.4h0.6v0.6h-0.6zM264.2 477.8h0.6v0.6h-0.6zM278.7 474.9h0.6v0.6h-0.6zM285.9 465.9h0.6v0.6h-0.6zM269.9 481.0h0.6v0.6h-0.6zM277.0 477.6h0.6v0.6h-0.6zM281.7 464.7h0.6v0.6h-0.6zM287.1 463.3h0.6v0.6h-0.6zM279.0 471.5h0.6v0.6h-0.6zM274.2 468.3h0.6v0.6h-0.6zM281.5 464.4h0.6v0.6h-0.6zM280.4 465.9h0.6v0.6h-0.6zM277.9 476.5h0.6v0.6h-0.6zM281.7 475.3h0.6v0.6h-0.6zM266.3 481.6h0.6v0.6h-0.6zM273.3 481.3h0.6v0.6h-0.6zM281.9 479.5h0.6v0.6h-0.6zM249.3 481.4h0.6v0.6h-0.6zM274.8 480.7h0.6v0.6h-0.6zM285.2 466.9h0.6v0.6h-0.6zM285.0 470.2h0.6v0.6h-0.6zM256.0 480.5h0.6v0.6h-0.6zM248.7 483.0h0.6v0.6h-0.6zM290.1 447.7h0.6v0.6h-0.6zM285.4 459.8h0.6v0.6h-0.6zM287.4 458.9h0.6v0.6h-0.6zM278.4 481.4h0.6v0.6h-0.6zM272.7 473.9h0.6v0.6h-0.6zM283.5 458.2h0.6v0.6h-0.6zM274.5 474.5h0.6v0.6h-0.6zM283.5 462.8h0.6v0.6h-0.6zM288.2 453.3h0.6v0.6h-0.6zM252.5 482.6h0.6v0.6h-0.6zM277.2 482.1h0.6v0.6h-0.6zM266.0 480.2h0.6v0.6h-0.6zM273.1 476.9h0.6v0.6h-0.6zM272.6 476.7h0.6v0.6h-0.6zM270.2 480.6h0.6v0.6h-0.6zM278.9 473.6h0.6v0.6h-0.6zM284.1 467.8h0.6v0.6h-0.6zM279.9 471.2h0.6v0.6h-0.6zM266.5 478.7h0.6v0.6h-0.6zM282.5 469.3h0.6v0.6h-0.6zM241.9 483.0h0.6v0.6h-0.6zM287.3 467.5h0.6v0.6h-0.6zM289.2 445.4h0.6v0.6h-0.6zM273.1 478.1h0.6v0.6h-0.6zM250.7 482.0h0.6v0.6h-0.6zM288.2 443.7h0.6v0.6h-0.6zM264.5 482.3h0.6v0.6h-0.6zM261.4 480.6h0.6v0.6h-0.6zM285.6 459.3h0.6v0.6h-0.6zM273.0 477.6h0.6v0.6h-0.6zM280.4 478.5h0.6v0.6h-0.6zM269.7 483.9h0.6v0.6h-0.6zM282.0 455.9h0.6v0.6h-0.6zM287.1 464.3h0.6v0.6h-0.6zM278.8 474.0h0.6v0.6h-0.6zM283.0 469.8h0.6v0.6h-0.6zM270.5 480.7h0.6v0.6h-0.6zM273.8 480.1h0.6v0.6h-0.6zM290.6 452.8h0.6v0.6h-0.6zM273.5 476.1h0.6v0.6h-0.6zM267.1 478.1h0.6v0.6h-0.6zM287.9 452.2h0.6v0.6h-0.6zM290.0 447.5h0.6v0.6h-0.6zM258.9 480.1h0.6v0.6h-0.6zM281.2 463.5h0.6v0.6h-0.6zM253.8 482.1h0.6v0.6h-0.6zM279.2 475.8h0.6v0.6h-0.6zM281.6 471.8h0.6v0.6h-0.6zM248.2 483.3h0.6v0.6h-0.6zM290.5 443.7h0.6v0.6h-0.6zM288.1 449.5h0.6v0.6h-0.6zM289.6 451.7h0.6v0.6h-0.6zM286.8 461.0h0.6v0.6h-0.6zM283.7 465.8h0.6v0.6h-0.6zM280.8 469.0h0.6v0.6h-0.6zM249.3 482.8h0.6v0.6h-0.6zM278.2 477.4h0.6v0.6h-0.6zM275.6 480.7h0.6v0.6h-0.6zM247.0 481.2h0.6v0.6h-0.6zM288.9 452.8h0.6v0.6h-0.6zM273.7 478.2h0.6v0.6h-0.6zM271.9 479.1h0.6v0.6h-0.6zM279.7 477.8h0.6v0.6h-0.6zM273.6 478.4h0.6v0.6h-0.6zM267.7 478.5h0.6v0.6h-0.6zM290.6 470.0h0.6v0.6h-0.6zM285.5 470.8h0.6v0.6h-0.6zM240.4 481.6h0.6v0.6h-0.6zM281.7 461.8h0.6v0.6h-0.6zM283.6 475.4h0.6v0.6h-0.6zM266.6 480.0h0.6v0.6h-0.6zM256.9 481.3h0.6v0.6h-0.6zM251.1 481.5h0.6v0.6h-0.6zM261.9 482.7h0.6v0.6h-0.6zM256.5 481.0h0.6v0.6h-0.6zM272.4 479.6h0.6v0.6h-0.6zM279.8 478.0h0.6v0.6h-0.6zM285.5 455.3h0.6v0.6h-0.6zM271.5 477.4h0.6v0.6h-0.6zM286.2 460.9h0.6v0.6h-0.6zM253.1 483.3h0.6v0.6h-0.6zM280.4 475.3h0.6v0.6h-0.6zM274.8 473.8h0.6v0.6h-0.6zM251.7 479.0h0.6v0.6h-0.6zM247.4 482.0h0.6v0.6h-0.6zM280.7 466.1h0.6v0.6h-0.6zM271.9 477.7h0.6v0.6h-0.6zM290.3 446.4h0.6v0.6h-0.6zM273.5 478.0h0.6v0.6h-0.6zM284.4 461.8h0.6v0.6h-0.6zM277.1 477.2h0.6v0.6h-0.6zM282.2 470.5h0.6v0.6h-0.6zM287.4 456.6h0.6v0.6h-0.6zM287.3 469.0h0.6v0.6h-0.6zM274.8 475.3h0.6v0.6h-0.6zM266.8 478.6h0.6v0.6h-0.6zM274.3 478.6h0.6v0.6h-0.6zM281.5 467.4h0.6v0.6h-0.6zM252.6 481.7h0.6v0.6h-0.6zM267.8 482.1h0.6v0.6h-0.6zM265.8 478.5h0.6v0.6h-0.6zM271.7 479.8h0.6v0.6h-0.6zM286.1 454.8h0.6v0.6h-0.6zM289.8 463.1h0.6v0.6h-0.6zM282.6 462.2h0.6v0.6h-0.6zM274.2 476.9h0.6v0.6h-0.6zM246.3 481.1h0.6v0.6h-0.6zM273.7 481.3h0.6v0.6h-0.6zM253.3 482.0h0.6v0.6h-0.6zM265.3 483.1h0.6v0.6h-0.6zM278.8 475.6h0.6v0.6h-0.6zM279.3 472.7h0.6v0.6h-0.6zM282.4 470.5h0.6v0.6h-0.6zM283.8 458.6h0.6v0.6h-0.6zM257.1 480.7h0.6v0.6h-0.6zM276.8 478.3h0.6v0.6h-0.6zM267.3 483.4h0.6v0.6h-0.6zM280.9 461.9h0.6v0.6h-0.6zM280.7 468.4h0.6v0.6h-0.6zM281.1 470.8h0.6v0.6h-0.6zM289.5 453.7h0.6v0.6h-0.6zM263.5 481.2h0.6v0.6h-0.6zM283.3 459.3h0.6v0.6h-0.6zM289.4 454.9h0.6v0.6h-0.6zM288.6 451.5h0.6v0.6h-0.6zM280.6 470.6h0.6v0.6h-0.6zM286.6 467.2h0.6v0.6h-0.6zM283.1 464.4h0.6v0.6h-0.6zM242.4 473.6h0.6v0.6h-0.6zM249.9 475.6h0.6v0.6h-0.6zM241.5 471.6h0.6v0.6h-0.6zM236.4 476.5h0.6v0.6h-0.6zM253.9 473.5h0.6v0.6h-0.6zM250.5 474.3h0.6v0.6h-0.6zM264.8 470.5h0.6v0.6h-0.6zM254.9 478.9h0.6v0.6h-0.6zM240.2 472.1h0.6v0.6h-0.6zM255.3 476.7h0.6v0.6h-0.6zM247.4 472.4h0.6v0.6h-0.6zM247.9 476.0h0.6v0.6h-0.6zM255.1 477.8h0.6v0.6h-0.6zM269.7 476.8h0.6v0.6h-0.6zM245.4 477.0h0.6v0.6h-0.6z" fill="#9c2f28" fill-opacity="0.75"/>
<path d="M289.5 444.5h0.6v0.6h-0.6zM288.9 467.3h0.6v0.6h-0.6zM285.0 468.6h0.6v0.6h-0.6zM264.6 483.3h0.6v0.6h-0.6zM258.8 482.0h0.6v0.6h-0.6zM251.2 483.9h0.6v0.6h-0.6zM263.7 480.7h0.6v0.6h-0.6zM278.4 474.5h0.6v0.6h-0.6zM249.5 481.0h0.6v0.6h-0.6zM288.0 465.9h0.6v0.6h-0.6zM265.5 482.2h0.6v0.6h-0.6zM276.1 478.2h0.6v0.6h-0.6zM286.7 470.4h0.6v0.6h-0.6zM280.8 473.0h0.6v0.6h-0.6zM286.5 454.7h0.6v0.6h-0.6zM287.9 448.3h0.6v0.6h-0.6zM269.1 481.6h0.6v0.6h-0.6zM283.5 464.2h0.6v0.6h-0.6zM278.0 475.8h0.6v0.6h-0.6zM245.4 481.7h0.6v0.6h-0.6zM262.4 481.2h0.6v0.6h-0.6zM286.2 459.7h0.6v0.6h-0.6zM284.9 476.0h0.6v0.6h-0.6zM289.5 443.6h0.6v0.6h-0.6zM283.9 466.2h0.6v0.6h-0.6zM278.9 474.6h0.6v0.6h-0.6zM281.7 459.6h0.6v0.6h-0.6zM283.0 458.6h0.6v0.6h-0.6zM269.2 482.0h0.6v0.6h-0.6zM281.3 467.9h0.6v0.6h-0.6zM268.5 484.9h0.6v0.6h-0.6zM261.1 482.5h0.6v0.6h-0.6zM262.0 480.4h0.6v0.6h-0.6zM289.1 464.8h0.6v0.6h-0.6zM289.9 444.9h0.6v0.6h-0.6zM281.3 473.9h0.6v0.6h-0.6zM288.6 450.4h0.6v0.6h-0.6zM287.4 449.6h0.6v0.6h-0.6zM262.9 478.3h0.6v0.6h-0.6zM283.9 459.6h0.6v0.6h-0.6zM286.6 453.3h0.6v0.6h-0.6zM247.6 484.0h0.6v0.6h-0.6zM285.1 460.9h0.6v0.6h-0.6zM246.0 483.1h0.6v0.6h-0.6zM267.4 479.0h0.6v0.6h-0.6zM269.6 479.0h0.6v0.6h-0.6zM290.7 450.7h0.6v0.6h-0.6zM266.8 479.5h0.6v0.6h-0.6zM286.9 460.7h0.6v0.6h-0.6zM253.3 482.2h0.6v0.6h-0.6zM280.8 470.4h0.6v0.6h-0.6zM277.2 474.0h0.6v0.6h-0.6zM249.1 483.2h0.6v0.6h-0.6zM271.6 481.1h0.6v0.6h-0.6zM285.3 472.0h0.6v0.6h-0.6zM273.4 477.1h0.6v0.6h-0.6zM285.7 460.4h0.6v0.6h-0.6zM280.3 464.2h0.6v0.6h-0.6zM284.7 465.9h0.6v0.6h-0.6zM252.9 481.7h0.6v0.6h-0.6zM245.5 482.9h0.6v0.6h-0.6zM281.6 470.6h0.6v0.6h-0.6zM255.3 482.4h0.6v0.6h-0.6zM275.7 478.7h0.6v0.6h-0.6zM256.5 478.6h0.6v0.6h-0.6zM270.8 481.2h0.6v0.6h-0.6zM280.5 478.5h0.6v0.6h-0.6zM277.3 481.2h0.6v0.6h-0.6zM253.9 481.6h0.6v0.6h-0.6zM285.7 461.3h0.6v0.6h-0.6zM285.9 459.4h0.6v0.6h-0.6zM284.0 468.8h0.6v0.6h-0.6zM268.6 480.7h0.6v0.6h-0.6zM289.1 444.4h0.6v0.6h-0.6zM287.4 449.2h0.6v0.6h-0.6zM259.2 480.6h0.6v0.6h-0.6zM284.9 466.1h0.6v0.6h-0.6zM283.7 472.0h0.6v0.6h-0.6zM274.1 477.3h0.6v0.6h-0.6zM285.0 463.7h0.6v0.6h-0.6zM252.0 480.3h0.6v0.6h-0.6zM274.5 477.9h0.6v0.6h-0.6zM286.8 452.1h0.6v0.6h-0.6zM276.1 471.8h0.6v0.6h-0.6zM289.5 447.3h0.6v0.6h-0.6zM283.5 460.5h0.6v0.6h-0.6zM276.2 475.7h0.6v0.6h-0.6zM258.8 481.0h0.6v0.6h-0.6zM281.6 478.2h0.6v0.6h-0.6zM276.1 481.0h0.6v0.6h-0.6zM282.7 459.5h0.6v0.6h-0.6zM265.0 479.2h0.6v0.6h-0.6zM277.9 471.2h0.6v0.6h-0.6zM235.6 482.5h0.6v0.6h-0.6zM244.0 482.6h0.6v0.6h-0.6zM245.0 481.4h0.6v0.6h-0.6zM282.9 469.6h0.6v0.6h-0.6zM276.9 479.3h0.6v0.6h-0.6zM272.8 478.0h0.6v0.6h-0.6zM283.5 460.4h0.6v0.6h-0.6zM275.2 474.3h0.6v0.6h-0.6zM287.2 459.0h0.6v0.6h-0.6zM272.7 477.4h0.6v0.6h-0.6zM287.4 445.9h0.6v0.6h-0.6zM278.3 472.3h0.6v0.6h-0.6zM288.0 449.7h0.6v0.6h-0.6zM280.3 469.2h0.6v0.6h-0.6zM282.3 472.6h0.6v0.6h-0.6zM286.8 464.7h0.6v0.6h-0.6zM283.5 475.1h0.6v0.6h-0.6zM279.6 464.9h0.6v0.6h-0.6zM286.8 461.3h0.6v0.6h-0.6zM254.3 481.7h0.6v0.6h-0.6zM274.1 476.9h0.6v0.6h-0.6zM245.0 483.4h0.6v0.6h-0.6zM263.1 479.3h0.6v0.6h-0.6zM285.0 471.6h0.6v0.6h-0.6zM279.9 477.9h0.6v0.6h-0.6zM286.9 452.4h0.6v0.6h-0.6zM288.9 450.8h0.6v0.6h-0.6zM284.4 454.8h0.6v0.6h-0.6zM286.1 466.8h0.6v0.6h-0.6zM289.2 461.4h0.6v0.6h-0.6zM283.1 465.4h0.6v0.6h-0.6zM254.1 483.9h0.6v0.6h-0.6zM283.7 474.9h0.6v0.6h-0.6zM286.9 452.8h0.6v0.6h-0.6zM277.3 479.3h0.6v0.6h-0.6zM253.9 479.5h0.6v0.6h-0.6zM283.7 466.4h0.6v0.6h-0.6zM277.5 476.8h0.6v0.6h-0.6zM263.5 481.3h0.6v0.6h-0.6zM275.7 477.3h0.6v0.6h-0.6zM269.8 479.9h0.6v0.6h-0.6zM287.6 455.9h0.6v0.6h-0.6zM264.0 478.9h0.6v0.6h-0.6zM285.8 450.3h0.6v0.6h-0.6zM285.7 473.1h0.6v0.6h-0.6zM289.1 446.3h0.6v0.6h-0.6zM281.5 471.2h0.6v0.6h-0.6zM291.8 463.6h0.6v0.6h-0.6zM252.3 482.8h0.6v0.6h-0.6zM288.5 454.1h0.6v0.6h-0.6zM281.9 468.3h0.6v0.6h-0.6zM278.6 477.3h0.6v0.6h-0.6zM288.0 457.9h0.6v0.6h-0.6zM285.9 460.7h0.6v0.6h-0.6zM279.3 474.8h0.6v0.6h-0.6zM285.5 458.4h0.6v0.6h-0.6zM273.5 480.3h0.6v0.6h-0.6zM286.4 465.4h0.6v0.6h-0.6zM267.2 479.3h0.6v0.6h-0.6zM285.9 453.0h0.6v0.6h-0.6zM238.4 481.1h0.6v0.6h-0.6zM282.9 459.0h0.6v0.6h-0.6zM266.6 478.3h0.6v0.6h-0.6zM248.3 483.0h0.6v0.6h-0.6zM286.0 469.6h0.6v0.6h-0.6zM286.9 467.9h0.6v0.6h-0.6zM287.0 464.8h0.6v0.6h-0.6zM263.6 483.9h0.6v0.6h-0.6zM283.0 460.7h0.6v0.6h-0.6zM289.2 459.0h0.6v0.6h-0.6zM266.2 482.1h0.6v0.6h-0.6zM276.4 476.8h0.6v0.6h-0.6zM275.4 473.1h0.6v0.6h-0.6zM286.7 461.3h0.6v0.6h-0.6zM277.9 470.7h0.6v0.6h-0.6zM287.6 462.2h0.6v0.6h-0.6zM266.1 480.5h0.6v0.6h-0.6zM287.1 467.9h0.6v0.6h-0.6zM288.0 455.1h0.6v0.6h-0.6zM269.0 481.4h0.6v0.6h-0.6zM280.6 473.6h0.6v0.6h-0.6zM233.5 483.6h0.6v0.6h-0.6zM284.2 469.3h0.6v0.6h-0.6zM284.5 454.6h0.6v0.6h-0.6zM266.6 479.2h0.6v0.6h-0.6zM275.2 481.0h0.6v0.6h-0.6zM289.8 452.2h0.6v0.6h-0.6zM277.9 477.2h0.6v0.6h-0.6zM255.6 480.6h0.6v0.6h-0.6zM283.5 461.5h0.6v0.6h-0.6zM284.1 468.5h0.6v0.6h-0.6zM242.5 482.4h0.6v0.6h-0.6zM262.8 480.4h0.6v0.6h-0.6zM276.9 473.4h0.6v0.6h-0.6zM278.0 479.2h0.6v0.6h-0.6zM269.4 479.9h0.6v0.6h-0.6zM269.2 479.2h0.6v0.6h-0.6zM273.4 478.5h0.6v0.6h-0.6zM273.4 477.8h0.6v0.6h-0.6zM290.1 444.1h0.6v0.6h-0.6zM287.6 453.5h0.6v0.6h-0.6zM277.4 475.0h0.6v0.6h-0.6zM287.4 453.0h0.6v0.6h-0.6zM278.6 473.5h0.6v0.6h-0.6zM272.0 481.8h0.6v0.6h-0.6zM283.2 462.5h0.6v0.6h-0.6zM282.9 456.4h0.6v0.6h-0.6zM280.0 482.5h0.6v0.6h-0.6zM282.8 470.8h0.6v0.6h-0.6zM287.8 451.8h0.6v0.6h-0.6zM263.4 477.7h0.6v0.6h-0.6zM290.2 451.1h0.6v0.6h-0.6zM263.5 482.1h0.6v0.6h-0.6zM274.5 478.7h0.6v0.6h-0.6zM278.9 479.9h0.6v0.6h-0.6zM278.9 479.3h0.6v0.6h-0.6zM258.4 483.8h0.6v0.6h-0.6zM287.0 448.3h0.6v0.6h-0.6zM285.5 461.2h0.6v0.6h-0.6zM275.9 477.9h0.6v0.6h-0.6zM288.0 449.9h0.6v0.6h-0.6zM276.0 475.6h0.6v0.6h-0.6zM260.4 484.2h0.6v0.6h-0.6zM279.4 481.2h0.6v0.6h-0.6zM279.5 477.0h0.6v0.6h-0.6zM278.5 473.5h0.6v0.6h-0.6zM277.1 477.3h0.6v0.6h-0.6zM275.7 480.8h0.6v0.6h-0.6zM277.9 476.8h0.6v0.6h-0.6zM282.7 469.3h0.6v0.6h-0.6zM269.2 481.7h0.6v0.6h-0.6zM260.8 481.8h0.6v0.6h-0.6zM284.7 461.3h0.6v0.6h-0.6zM290.0 443.3h0.6v0.6h-0.6zM279.1 470.1h0.6v0.6h-0.6zM273.8 480.0h0.6v0.6h-0.6zM282.3 472.0h0.6v0.6h-0.6zM279.2 477.6h0.6v0.6h-0.6zM278.1 465.6h0.6v0.6h-0.6zM252.2 482.6h0.6v0.6h-0.6zM282.6 463.2h0.6v0.6h-0.6zM275.2 480.8h0.6v0.6h-0.6zM273.5 479.1h0.6v0.6h-0.6zM254.5 482.6h0.6v0.6h-0.6zM283.0 461.6h0.6v0.6h-0.6zM240.5 483.7h0.6v0.6h-0.6zM282.6 461.5h0.6v0.6h-0.6zM268.9 479.3h0.6v0.6h-0.6zM286.4 455.8h0.6v0.6h-0.6zM290.0 450.8h0.6v0.6h-0.6zM266.0 480.1h0.6v0.6h-0.6zM266.7 479.9h0.6v0.6h-0.6zM287.1 451.2h0.6v0.6h-0.6zM282.6 468.0h0.6v0.6h-0.6zM288.2 457.5h0.6v0.6h-0.6zM275.8 478.2h0.6v0.6h-0.6zM275.4 480.5h0.6v0.6h-0.6zM274.5 475.1h0.6v0.6h-0.6zM272.8 477.4h0.6v0.6h-0.6zM268.2 478.1h0.6v0.6h-0.6zM285.0 468.7h0.6v0.6h-0.6zM263.5 481.0h0.6v0.6h-0.6zM266.8 480.2h0.6v0.6h-0.6zM243.9 483.0h0.6v0.6h-0.6zM287.8 460.1h0.6v0.6h-0.6zM287.4 450.9h0.6v0.6h-0.6zM284.1 468.2h0.6v0.6h-0.6zM260.2 477.5h0.6v0.6h-0.6zM275.4 477.7h0.6v0.6h-0.6zM279.4 468.7h0.6v0.6h-0.6zM274.3 483.1h0.6v0.6h-0.6zM267.9 479.6h0.6v0.6h-0.6zM273.4 479.6h0.6v0.6h-0.6zM261.0 481.0h0.6v0.6h-0.6zM286.9 453.1h0.6v0.6h-0.6zM284.5 474.7h0.6v0.6h-0.6zM240.1 480.6h0.6v0.6h-0.6zM259.4 480.8h0.6v0.6h-0.6zM283.3 468.1h0.6v0.6h-0.6zM271.0 479.7h0.6v0.6h-0.6zM281.0 472.2h0.6v0.6h-0.6zM250.2 479.8h0.6v0.6h-0.6zM275.2 473.9h0.6v0.6h-0.6zM287.1 454.6h0.6v0.6h-0.6zM266.9 480.6h0.6v0.6h-0.6zM273.4 481.1h0.6v0.6h-0.6zM284.9 466.2h0.6v0.6h-0.6zM288.8 448.1h0.6v0.6h-0.6zM283.8 472.7h0.6v0.6h-0.6zM280.8 467.7h0.6v0.6h-0.6zM265.6 480.9h0.6v0.6h-0.6zM270.1 482.9h0.6v0.6h-0.6zM288.3 446.1h0.6v0.6h-0.6zM287.5 450.5h0.6v0.6h-0.6zM287.6 451.4h0.6v0.6h-0.6zM284.7 456.3h0.6v0.6h-0.6zM268.5 481.2h0.6v0.6h-0.6zM280.6 476.7h0.6v0.6h-0.6zM235.2 482.9h0.6v0.6h-0.6zM289.4 444.7h0.6v0.6h-0.6zM262.0 480.7h0.6v0.6h-0.6zM289.9 445.0h0.6v0.6h-0.6zM281.9 464.7h0.6v0.6h-0.6zM268.9 481.6h0.6v0.6h-0.6zM282.5 468.7h0.6v0.6h-0.6zM284.7 460.6h0.6v0.6h-0.6zM267.8 480.5h0.6v0.6h-0.6zM273.8 480.1h0.6v0.6h-0.6zM273.9 479.9h0.6v0.6h-0.6zM282.4 467.3h0.6v0.6h-0.6zM280.7 471.7h0.6v0.6h-0.6zM270.2 481.6h0.6v0.6h-0.6zM265.1 478.5h0.6v0.6h-0.6zM260.5 479.4h0.6v0.6h-0.6zM279.7 472.2h0.6v0.6h-0.6zM287.5 457.9h0.6v0.6h-0.6zM269.0 481.2h0.6v0.6h-0.6zM288.2 458.4h0.6v0.6h-0.6zM264.3 480.3h0.6v0.6h-0.6zM282.1 475.0h0.6v0.6h-0.6zM283.8 461.2h0.6v0.6h-0.6zM273.4 477.8h0.6v0.6h-0.6zM285.7 456.0h0.6v0.6h-0.6zM277.3 479.3h0.6v0.6h-0.6zM277.9 480.5h0.6v0.6h-0.6zM265.3 481.1h0.6v0.6h-0.6zM287.7 448.7h0.6v0.6h-0.6zM282.0 457.1h0.6v0.6h-0.6zM279.1 474.5h0.6v0.6h-0.6zM273.4 479.5h0.6v0.6h-0.6zM286.5 452.4h0.6v0.6h-0.6zM284.7 468.2h0.6v0.6h-0.6zM252.2 481.4h0.6v0.6h-0.6zM280.6 479.5h0.6v0.6h-0.6zM289.7 443.5h0.6v0.6h-0.6zM246.9 481.0h0.6v0.6h-0.6zM288.4 448.3h0.6v0.6h-0.6zM281.5 464.0h0.6v0.6h-0.6zM278.7 481.0h0.6v0.6h-0.6zM279.7 469.1h0.6v0.6h-0.6zM287.2 454.5h0.6v0.6h-0.6zM278.1 473.3h0.6v0.6h-0.6zM285.0 473.8h0.6v0.6h-0.6zM272.3 483.1h0.6v0.6h-0.6zM287.4 449.1h0.6v0.6h-0.6zM278.9 479.9h0.6v0.6h-0.6zM249.0 482.2h0.6v0.6h-0.6zM272.0 478.3h0.6v0.6h-0.6zM282.5 469.0h0.6v0.6h-0.6zM280.0 468.5h0.6v0.6h-0.6zM283.6 463.9h0.6v0.6h-0.6zM287.4 455.1h0.6v0.6h-0.6zM284.0 467.2h0.6v0.6h-0.6zM265.7 479.1h0.6v0.6h-0.6zM267.1 484.2h0.6v0.6h-0.6zM267.6 480.9h0.6v0.6h-0.6zM272.6 482.5h0.6v0.6h-0.6zM273.9 477.7h0.6v0.6h-0.6zM277.9 471.0h0.6v0.6h-0.6zM255.5 483.2h0.6v0.6h-0.6zM280.6 473.1h0.6v0.6h-0.6zM285.7 448.9h0.6v0.6h-0.6zM287.3 446.8h0.6v0.6h-0.6zM256.9 481.6h0.6v0.6h-0.6zM248.7 482.2h0.6v0.6h-0.6zM260.2 482.4h0.6v0.6h-0.6zM282.2 467.5h0.6v0.6h-0.6zM281.3 469.7h0.6v0.6h-0.6zM279.4 468.6h0.6v0.6h-0.6zM274.1 481.7h0.6v0.6h-0.6zM263.8 481.4h0.6v0.6h-0.6zM273.0 482.9h0.6v0.6h-0.6zM288.0 463.4h0.6v0.6h-0.6zM287.2 455.5h0.6v0.6h-0.6zM277.4 467.2h0.6v0.6h-0.6zM261.1 484.4h0.6v0.6h-0.6zM273.8 480.9h0.6v0.6h-0.6zM285.8 458.0h0.6v0.6h-0.6zM270.0 481.5h0.6v0.6h-0.6zM276.4 481.2h0.6v0.6h-0.6zM261.2 483.2h0.6v0.6h-0.6zM285.6 471.2h0.6v0.6h-0.6zM280.0 466.3h0.6v0.6h-0.6zM290.1 452.9h0.6v0.6h-0.6zM277.2 475.5h0.6v0.6h-0.6zM286.1 466.2h0.6v0.6h-0.6zM279.3 473.6h0.6v0.6h-0.6zM284.8 448.7h0.6v0.6h-0.6zM272.5 478.6h0.6v0.6h-0.6zM279.9 469.3h0.6v0.6h-0.6zM281.9 468.1h0.6v0.6h-0.6zM284.9 462.8h0.6v0.6h-0.6zM272.2 477.5h0.6v0.6h-0.6zM265.4 478.8h0.6v0.6h-0.6zM280.1 471.9h0.6v0.6h-0.6zM287.3 459.1h0.6v0.6h-0.6zM277.4 472.3h0.6v0.6h-0.6zM285.2 460.0h0.6v0.6h-0.6zM279.9 478.1h0.6v0.6h-0.6zM286.7 466.7h0.6v0.6h-0.6zM254.1 481.6h0.6v0.6h-0.6zM278.9 480.4h0.6v0.6h-0.6zM275.8 476.6h0.6v0.6h-0.6zM269.2 478.9h0.6v0.6h-0.6zM289.5 444.5h0.6v0.6h-0.6zM282.6 462.3h0.6v0.6h-0.6zM279.6 475.8h0.6v0.6h-0.6zM272.9 483.5h0.6v0.6h-0.6zM280.3 468.2h0.6v0.6h-0.6zM250.1 482.0h0.6v0.6h-0.6zM287.0 445.6h0.6v0.6h-0.6zM237.4 481.8h0.6v0.6h-0.6zM290.0 450.3h0.6v0.6h-0.6zM268.1 480.2h0.6v0.6h-0.6zM282.3 464.1h0.6v0.6h-0.6zM275.6 476.1h0.6v0.6h-0.6zM254.1 484.7h0.6v0.6h-0.6zM259.9 481.5h0.6v0.6h-0.6zM277.7 469.6h0.6v0.6h-0.6zM268.7 479.5h0.6v0.6h-0.6zM267.9 475.2h0.6v0.6h-0.6zM267.3 481.8h0.6v0.6h-0.6zM241.4 481.9h0.6v0.6h-0.6zM258.8 481.5h0.6v0.6h-0.6zM276.0 471.0h0.6v0.6h-0.6zM286.6 466.3h0.6v0.6h-0.6zM276.7 473.4h0.6v0.6h-0.6zM289.2 453.8h0.6v0.6h-0.6zM285.4 473.9h0.6v0.6h-0.6zM286.3 454.6h0.6v0.6h-0.6zM287.0 464.0h0.6v0.6h-0.6zM281.5 461.8h0.6v0.6h-0.6zM278.5 477.5h0.6v0.6h-0.6zM282.8 464.8h0.6v0.6h-0.6zM266.8 479.5h0.6v0.6h-0.6zM288.7 445.6h0.6v0.6h-0.6zM242.3 481.7h0.6v0.6h-0.6zM288.8 447.4h0.6v0.6h-0.6zM271.3 478.8h0.6v0.6h-0.6zM275.7 478.5h0.6v0.6h-0.6zM256.9 482.1h0.6v0.6h-0.6zM273.5 484.0h0.6v0.6h-0.6zM287.0 467.1h0.6v0.6h-0.6zM280.9 474.8h0.6v0.6h-0.6zM275.5 479.0h0.6v0.6h-0.6zM284.3 468.5h0.6v0.6h-0.6zM241.2 484.0h0.6v0.6h-0.6zM277.7 476.0h0.6v0.6h-0.6zM276.6 472.6h0.6v0.6h-0.6zM281.4 473.6h0.6v0.6h-0.6zM286.3 453.1h0.6v0.6h-0.6zM278.8 468.0h0.6v0.6h-0.6zM269.3 477.0h0.6v0.6h-0.6zM286.6 465.9h0.6v0.6h-0.6zM271.7 478.0h0.6v0.6h-0.6zM281.8 480.0h0.6v0.6h-0.6zM286.3 463.5h0.6v0.6h-0.6zM287.8 449.3h0.6v0.6h-0.6zM265.7 476.7h0.6v0.6h-0.6zM288.2 447.6h0.6v0.6h-0.6zM245.6 481.0h0.6v0.6h-0.6zM262.7 482.9h0.6v0.6h-0.6zM277.0 481.3h0.6v0.6h-0.6zM271.5 475.7h0.6v0.6h-0.6zM284.6 459.9h0.6v0.6h-0.6zM282.7 462.6h0.6v0.6h-0.6zM241.5 481.8h0.6v0.6h-0.6zM265.2 482.0h0.6v0.6h-0.6zM243.0 482.1h0.6v0.6h-0.6zM284.5 457.7h0.6v0.6h-0.6zM275.7 477.3h0.6v0.6h-0.6zM285.5 461.8h0.6v0.6h-0.6zM277.1 479.9h0.6v0.6h-0.6zM287.9 459.8h0.6v0.6h-0.6zM276.3 479.6h0.6v0.6h-0.6zM279.0 477.9h0.6v0.6h-0.6zM269.3 479.7h0.6v0.6h-0.6zM247.8 480.8h0.6v0.6h-0.6zM256.2 481.8h0.6v0.6h-0.6zM272.2 481.8h0.6v0.6h-0.6zM275.9 474.5h0.6v0.6h-0.6zM261.2 480.9h0.6v0.6h-0.6zM280.7 464.6h0.6v0.6h-0.6zM262.2 480.8h0.6v0.6h-0.6zM275.6 472.5h0.6v0.6h-0.6zM267.3 481.5h0.6v0.6h-0.6zM287.1 455.5h0.6v0.6h-0.6zM282.3 469.1h0.6v0.6h-0.6zM286.1 465.7h0.6v0.6h-0.6zM270.7 476.6h0.6v0.6h-0.6zM286.4 454.3h0.6v0.6h-0.6zM268.5 477.9h0.6v0.6h-0.6zM286.5 465.8h0.6v0.6h-0.6zM278.9 476.7h0.6v0.6h-0.6zM258.6 483.5h0.6v0.6h-0.6zM280.4 463.4h0.6v0.6h-0.6zM267.3 483.0h0.6v0.6h-0.6zM244.9 483.1h0.6v0.6h-0.6zM277.9 483.0h0.6v0.6h-0.6zM268.3 482.9h0.6v0.6h-0.6zM265.2 481.8h0.6v0.6h-0.6zM285.3 470.5h0.6v0.6h-0.6zM270.7 480.0h0.6v0.6h-0.6zM272.9 477.7h0.6v0.6h-0.6zM286.4 450.2h0.6v0.6h-0.6zM287.8 462.8h0.6v0.6h-0.6zM285.8 468.2h0.6v0.6h-0.6zM242.7 481.3h0.6v0.6h-0.6zM272.3 480.6h0.6v0.6h-0.6zM279.9 478.3h0.6v0.6h-0.6zM260.8 481.1h0.6v0.6h-0.6zM265.0 480.4h0.6v0.6h-0.6zM279.9 470.7h0.6v0.6h-0.6zM283.2 458.4h0.6v0.6h-0.6zM285.0 460.4h0.6v0.6h-0.6zM284.2 474.7h0.6v0.6h-0.6zM284.8 464.7h0.6v0.6h-0.6zM264.5 478.9h0.6v0.6h-0.6zM287.7 454.3h0.6v0.6h-0.6zM243.7 482.0h0.6v0.6h-0.6zM287.6 450.0h0.6v0.6h-0.6zM270.9 481.2h0.6v0.6h-0.6zM240.4 481.0h0.6v0.6h-0.6zM275.5 476.8h0.6v0.6h-0.6zM286.9 466.4h0.6v0.6h-0.6zM287.1 458.0h0.6v0.6h-0.6zM282.8 473.0h0.6v0.6h-0.6zM278.5 477.0h0.6v0.6h-0.6zM288.4 456.8h0.6v0.6h-0.6zM263.9 484.8h0.6v0.6h-0.6zM285.8 456.1h0.6v0.6h-0.6zM282.2 461.1h0.6v0.6h-0.6zM279.8 483.4h0.6v0.6h-0.6zM242.8 482.1h0.6v0.6h-0.6zM265.8 480.9h0.6v0.6h-0.6zM287.5 458.3h0.6v0.6h-0.6zM244.0 481.0h0.6v0.6h-0.6zM286.4 464.2h0.6v0.6h-0.6zM260.7 481.9h0.6v0.6h-0.6zM274.8 475.4h0.6v0.6h-0.6zM285.4 466.5h0.6v0.6h-0.6zM280.2 476.4h0.6v0.6h-0.6zM278.2 477.9h0.6v0.6h-0.6zM284.8 461.0h0.6v0.6h-0.6zM284.7 460.9h0.6v0.6h-0.6zM265.7 477.9h0.6v0.6h-0.6zM276.5 478.2h0.6v0.6h-0.6zM264.4 481.3h0.6v0.6h-0.6zM283.6 473.7h0.6v0.6h-0.6zM270.9 480.6h0.6v0.6h-0.6zM285.3 473.4h0.6v0.6h-0.6zM284.4 458.3h0.6v0.6h-0.6zM272.2 476.7h0.6v0.6h-0.6zM289.5 443.0h0.6v0.6h-0.6zM274.0 478.0h0.6v0.6h-0.6zM266.2 481.8h0.6v0.6h-0.6zM280.7 461.0h0.6v0.6h-0.6zM290.7 445.5h0.6v0.6h-0.6zM277.4 474.1h0.6v0.6h-0.6zM283.0 464.1h0.6v0.6h-0.6zM254.0 483.1h0.6v0.6h-0.6zM271.7 479.8h0.6v0.6h-0.6zM287.0 464.0h0.6v0.6h-0.6zM278.9 477.1h0.6v0.6h-0.6zM253.2 482.5h0.6v0.6h-0.6zM283.4 462.4h0.6v0.6h-0.6zM280.0 476.3h0.6v0.6h-0.6zM280.1 477.7h0.6v0.6h-0.6zM288.4 443.9h0.6v0.6h-0.6zM269.6 479.7h0.6v0.6h-0.6zM287.5 458.2h0.6v0.6h-0.6zM265.2 483.6h0.6v0.6h-0.6zM264.9 479.9h0.6v0.6h-0.6zM285.3 453.6h0.6v0.6h-0.6zM288.2 456.2h0.6v0.6h-0.6zM282.6 467.1h0.6v0.6h-0.6zM286.1 448.3h0.6v0.6h-0.6zM282.1 481.3h0.6v0.6h-0.6zM244.2 481.3h0.6v0.6h-0.6zM280.7 477.5h0.6v0.6h-0.6zM256.9 480.1h0.6v0.6h-0.6zM277.9 477.1h0.6v0.6h-0.6zM262.2 481.3h0.6v0.6h-0.6zM263.4 480.0h0.6v0.6h-0.6zM240.6 482.2h0.6v0.6h-0.6zM275.9 477.2h0.6v0.6h-0.6zM288.4 452.7h0.6v0.6h-0.6zM279.6 468.1h0.6v0.6h-0.6zM258.3 479.3h0.6v0.6h-0.6zM272.9 478.2h0.6v0.6h-0.6zM286.2 451.4h0.6v0.6h-0.6zM259.5 481.3h0.6v0.6h-0.6zM288.3 453.5h0.6v0.6h-0.6zM279.0 476.3h0.6v0.6h-0.6zM284.5 459.2h0.6v0.6h-0.6zM278.5 479.0h0.6v0.6h-0.6zM274.5 478.6h0.6v0.6h-0.6zM285.3 464.0h0.6v0.6h-0.6zM280.3 467.1h0.6v0.6h-0.6zM282.9 462.9h0.6v0.6h-0.6zM285.3 469.5h0.6v0.6h-0.6zM257.5 483.5h0.6v0.6h-0.6zM286.4 453.3h0.6v0.6h-0.6zM288.9 449.5h0.6v0.6h-0.6zM254.9 483.9h0.6v0.6h-0.6zM272.5 479.7h0.6v0.6h-0.6zM286.5 469.3h0.6v0.6h-0.6zM272.5 483.1h0.6v0.6h-0.6zM286.6 455.0h0.6v0.6h-0.6zM288.8 444.6h0.6v0.6h-0.6zM287.3 460.2h0.6v0.6h-0.6zM283.5 473.5h0.6v0.6h-0.6zM285.7 459.1h0.6v0.6h-0.6zM284.7 467.3h0.6v0.6h-0.6zM284.4 468.0h0.6v0.6h-0.6zM254.7 481.0h0.6v0.6h-0.6zM286.5 477.5h0.6v0.6h-0.6zM290.2 444.6h0.6v0.6h-0.6zM285.3 457.1h0.6v0.6h-0.6zM248.6 480.0h0.6v0.6h-0.6zM283.1 473.3h0.6v0.6h-0.6zM279.4 477.5h0.6v0.6h-0.6zM282.6 476.0h0.6v0.6h-0.6zM270.2 477.8h0.6v0.6h-0.6zM287.4 448.1h0.6v0.6h-0.6zM262.3 481.1h0.6v0.6h-0.6zM265.6 480.8h0.6v0.6h-0.6zM284.3 464.4h0.6v0.6h-0.6zM282.4 470.5h0.6v0.6h-0.6zM285.6 453.1h0.6v0.6h-0.6zM282.3 480.1h0.6v0.6h-0.6zM277.3 474.5h0.6v0.6h-0.6zM255.1 480.3h0.6v0.6h-0.6zM264.4 482.6h0.6v0.6h-0.6zM278.5 476.6h0.6v0.6h-0.6zM290.6 448.9h0.6v0.6h-0.6zM278.7 475.4h0.6v0.6h-0.6zM285.3 466.6h0.6v0.6h-0.6zM278.5 469.4h0.6v0.6h-0.6zM285.4 455.1h0.6v0.6h-0.6zM287.5 454.8h0.6v0.6h-0.6zM282.2 470.7h0.6v0.6h-0.6zM285.3 457.9h0.6v0.6h-0.6zM281.9 467.1h0.6v0.6h-0.6zM242.9 484.1h0.6v0.6h-0.6zM266.9 481.2h0.6v0.6h-0.6zM281.0 470.9h0.6v0.6h-0.6zM236.6 482.5h0.6v0.6h-0.6zM281.3 464.7h0.6v0.6h-0.6zM247.7 483.0h0.6v0.6h-0.6zM285.3 456.2h0.6v0.6h-0.6zM273.8 479.2h0.6v0.6h-0.6zM285.0 449.4h0.6v0.6h-0.6zM278.1 479.4h0.6v0.6h-0.6zM290.2 462.1h0.6v0.6h-0.6zM280.8 481.1h0.6v0.6h-0.6zM285.5 470.6h0.6v0.6h-0.6zM275.3 474.6h0.6v0.6h-0.6zM258.9 482.6h0.6v0.6h-0.6zM283.4 463.6h0.6v0.6h-0.6zM284.0 459.7h0.6v0.6h-0.6zM240.6 482.5h0.6v0.6h-0.6zM270.2 482.8h0.6v0.6h-0.6zM279.9 461.2h0.6v0.6h-0.6zM279.6 465.6h0.6v0.6h-0.6zM286.9 458.5h0.6v0.6h-0.6zM286.4 467.3h0.6v0.6h-0.6zM290.6 443.7h0.6v0.6h-0.6zM254.8 481.6h0.6v0.6h-0.6zM282.5 471.2h0.6v0.6h-0.6zM269.4 480.5h0.6v0.6h-0.6zM261.0 481.1h0.6v0.6h-0.6zM284.6 465.7h0.6v0.6h-0.6zM282.9 469.1h0.6v0.6h-0.6zM268.6 480.0h0.6v0.6h-0.6zM282.3 468.5h0.6v0.6h-0.6zM287.7 466.4h0.6v0.6h-0.6zM275.5 473.9h0.6v0.6h-0.6zM263.0 479.9h0.6v0.6h-0.6zM252.3 482.7h0.6v0.6h-0.6zM273.9 478.3h0.6v0.6h-0.6zM285.3 461.5h0.6v0.6h-0.6zM284.5 464.1h0.6v0.6h-0.6zM282.6 468.4h0.6v0.6h-0.6zM284.2 453.6h0.6v0.6h-0.6zM283.3 476.3h0.6v0.6h-0.6zM275.9 478.2h0.6v0.6h-0.6zM252.9 482.1h0.6v0.6h-0.6zM275.6 474.8h0.6v0.6h-0.6zM287.0 455.6h0.6v0.6h-0.6zM255.3 480.7h0.6v0.6h-0.6zM283.5 473.1h0.6v0.6h-0.6zM278.0 472.0h0.6v0.6h-0.6zM276.6 472.1h0.6v0.6h-0.6zM272.0 479.8h0.6v0.6h-0.6zM275.1 478.6h0.6v0.6h-0.6zM279.2 481.0h0.6v0.6h-0.6zM246.4 480.6h0.6v0.6h-0.6zM281.3 463.4h0.6v0.6h-0.6zM265.4 483.1h0.6v0.6h-0.6zM288.1 455.3h0.6v0.6h-0.6zM280.6 475.7h0.6v0.6h-0.6zM279.0 465.7h0.6v0.6h-0.6zM270.4 483.0h0.6v0.6h-0.6zM281.0 472.7h0.6v0.6h-0.6zM286.9 450.7h0.6v0.6h-0.6zM286.9 461.9h0.6v0.6h-0.6zM288.5 459.9h0.6v0.6h-0.6zM237.4 481.9h0.6v0.6h-0.6zM286.3 460.2h0.6v0.6h-0.6zM241.6 483.6h0.6v0.6h-0.6zM280.5 466.6h0.6v0.6h-0.6zM281.6 480.4h0.6v0.6h-0.6zM281.7 458.8h0.6v0.6h-0.6zM232.8 482.0h0.6v0.6h-0.6zM276.5 477.2h0.6v0.6h-0.6zM273.4 478.7h0.6v0.6h-0.6zM263.5 480.9h0.6v0.6h-0.6zM277.5 468.1h0.6v0.6h-0.6zM282.5 463.9h0.6v0.6h-0.6zM276.9 479.2h0.6v0.6h-0.6zM254.2 482.0h0.6v0.6h-0.6zM286.6 454.5h0.6v0.6h-0.6zM283.6 463.9h0.6v0.6h-0.6zM279.9 478.8h0.6v0.6h-0.6zM239.9 481.7h0.6v0.6h-0.6zM271.5 480.2h0.6v0.6h-0.6zM274.3 472.5h0.6v0.6h-0.6zM270.8 481.9h0.6v0.6h-0.6zM277.0 478.1h0.6v0.6h-0.6zM289.8 444.6h0.6v0.6h-0.6zM270.3 478.4h0.6v0.6h-0.6zM281.9 469.4h0.6v0.6h-0.6zM287.0 455.1h0.6v0.6h-0.6zM270.2 478.8h0.6v0.6h-0.6zM270.0 480.8h0.6v0.6h-0.6zM249.5 480.8h0.6v0.6h-0.6zM283.2 466.5h0.6v0.6h-0.6zM281.6 463.3h0.6v0.6h-0.6zM272.9 484.6h0.6v0.6h-0.6zM287.5 454.3h0.6v0.6h-0.6zM285.0 460.6h0.6v0.6h-0.6zM259.6 483.6h0.6v0.6h-0.6zM287.1 457.9h0.6v0.6h-0.6zM275.3 478.9h0.6v0.6h-0.6zM250.3 483.0h0.6v0.6h-0.6zM285.4 458.9h0.6v0.6h-0.6zM282.1 467.4h0.6v0.6h-0.6zM273.0 478.9h0.6v0.6h-0.6zM284.2 464.3h0.6v0.6h-0.6zM263.8 479.0h0.6v0.6h-0.6zM247.6 481.7h0.6v0.6h-0.6zM287.2 458.2h0.6v0.6h-0.6zM290.3 445.0h0.6v0.6h-0.6zM286.0 462.2h0.6v0.6h-0.6zM279.9 467.2h0.6v0.6h-0.6zM283.2 473.7h0.6v0.6h-0.6zM264.3 480.1h0.6v0.6h-0.6zM275.5 480.2h0.6v0.6h-0.6zM286.5 462.8h0.6v0.6h-0.6zM287.0 453.5h0.6v0.6h-0.6zM285.0 459.2h0.6v0.6h-0.6zM285.2 462.0h0.6v0.6h-0.6zM288.1 451.3h0.6v0.6h-0.6zM285.8 454.7h0.6v0.6h-0.6zM259.8 480.2h0.6v0.6h-0.6zM277.3 476.3h0.6v0.6h-0.6zM268.3 482.3h0.6v0.6h-0.6zM283.8 466.4h0.6v0.6h-0.6zM267.0 479.0h0.6v0.6h-0.6zM262.0 477.9h0.6v0.6h-0.6zM284.5 474.1h0.6v0.6h-0.6zM279.9 471.0h0.6v0.6h-0.6zM285.8 455.4h0.6v0.6h-0.6zM277.7 472.9h0.6v0.6h-0.6zM266.9 481.3h0.6v0.6h-0.6zM266.0 479.3h0.6v0.6h-0.6zM251.4 482.3h0.6v0.6h-0.6zM284.2 467.8h0.6v0.6h-0.6zM285.1 473.1h0.6v0.6h-0.6zM290.3 464.4h0.6v0.6h-0.6zM273.1 479.9h0.6v0.6h-0.6zM256.2 480.8h0.6v0.6h-0.6zM283.4 457.3h0.6v0.6h-0.6zM289.1 448.7h0.6v0.6h-0.6zM277.0 479.7h0.6v0.6h-0.6zM287.3 466.5h0.6v0.6h-0.6zM286.7 455.4h0.6v0.6h-0.6zM277.2 478.6h0.6v0.6h-0.6zM242.6 483.2h0.6v0.6h-0.6zM270.4 479.7h0.6v0.6h-0.6zM286.1 459.4h0.6v0.6h-0.6zM285.7 464.5h0.6v0.6h-0.6zM243.7 482.6h0.6v0.6h-0.6zM287.7 447.6h0.6v0.6h-0.6zM273.0 478.0h0.6v0.6h-0.6zM263.9 480.0h0.6v0.6h-0.6zM272.3 478.4h0.6v0.6h-0.6zM283.2 465.9h0.6v0.6h-0.6zM247.4 480.4h0.6v0.6h-0.6zM255.7 481.8h0.6v0.6h-0.6zM249.8 481.7h0.6v0.6h-0.6zM283.0 463.7h0.6v0.6h-0.6zM280.1 459.2h0.6v0.6h-0.6zM284.9 459.0h0.6v0.6h-0.6zM274.8 480.5h0.6v0.6h-0.6zM288.4 444.9h0.6v0.6h-0.6zM270.1 475.1h0.6v0.6h-0.6zM283.1 468.9h0.6v0.6h-0.6zM256.8 482.0h0.6v0.6h-0.6zM286.7 470.3h0.6v0.6h-0.6zM287.9 467.9h0.6v0.6h-0.6zM277.8 471.5h0.6v0.6h-0.6zM287.3 449.2h0.6v0.6h-0.6zM287.4 451.0h0.6v0.6h-0.6zM287.8 457.2h0.6v0.6h-0.6zM288.2 444.8h0.6v0.6h-0.6zM280.1 476.0h0.6v0.6h-0.6zM260.1 480.8h0.6v0.6h-0.6zM262.2 482.6h0.6v0.6h-0.6zM285.7 465.2h0.6v0.6h-0.6zM280.8 466.1h0.6v0.6h-0.6zM283.1 475.2h0.6v0.6h-0.6zM267.8 481.8h0.6v0.6h-0.6zM264.5 480.6h0.6v0.6h-0.6zM285.7 467.0h0.6v0.6h-0.6zM281.4 466.7h0.6v0.6h-0.6zM283.7 460.7h0.6v0.6h-0.6zM256.0 481.8h0.6v0.6h-0.6zM280.4 472.5h0.6v0.6h-0.6zM289.8 444.4h0.6v0.6h-0.6zM262.8 483.5h0.6v0.6h-0.6zM281.1 470.0h0.6v0.6h-0.6zM283.8 472.5h0.6v0.6h-0.6zM263.5 479.7h0.6v0.6h-0.6zM287.5 454.0h0.6v0.6h-0.6zM282.1 468.4h0.6v0.6h-0.6zM284.0 471.7h0.6v0.6h-0.6zM277.4 479.1h0.6v0.6h-0.6zM265.4 479.7h0.6v0.6h-0.6zM262.5 478.5h0.6v0.6h-0.6zM283.4 474.4h0.6v0.6h-0.6zM282.0 473.6h0.6v0.6h-0.6zM288.1 464.3h0.6v0.6h-0.6zM267.5 480.7h0.6v0.6h-0.6zM285.1 467.9h0.6v0.6h-0.6zM265.0 482.0h0.6v0.6h-0.6zM276.2 476.3h0.6v0.6h-0.6zM283.1 460.6h0.6v0.6h-0.6zM274.2 471.8h0.6v0.6h-0.6zM287.8 453.2h0.6v0.6h-0.6zM266.8 480.6h0.6v0.6h-0.6zM282.3 469.2h0.6v0.6h-0.6zM278.8 472.2h0.6v0.6h-0.6zM275.2 481.0h0.6v0.6h-0.6zM278.5 471.7h0.6v0.6h-0.6zM252.5 481.3h0.6v0.6h-0.6zM283.9 475.5h0.6v0.6h-0.6zM273.7 478.9h0.6v0.6h-0.6zM283.7 465.0h0.6v0.6h-0.6zM285.1 466.6h0.6v0.6h-0.6zM265.6 480.2h0.6v0.6h-0.6zM278.3 473.9h0.6v0.6h-0.6zM250.6 484.4h0.6v0.6h-0.6zM287.0 457.3h0.6v0.6h-0.6zM280.6 481.8h0.6v0.6h-0.6zM252.0 482.2h0.6v0.6h-0.6zM290.4 446.3h0.6v0.6h-0.6zM288.5 455.1h0.6v0.6h-0.6zM273.9 480.2h0.6v0.6h-0.6zM273.6 479.3h0.6v0.6h-0.6zM290.0 444.7h0.6v0.6h-0.6zM276.9 482.0h0.6v0.6h-0.6zM282.0 470.3h0.6v0.6h-0.6zM285.3 461.4h0.6v0.6h-0.6zM283.1 470.0h0.6v0.6h-0.6zM266.6 478.5h0.6v0.6h-0.6zM280.1 465.5h0.6v0.6h-0.6zM281.0 474.3h0.6v0.6h-0.6zM278.0 473.8h0.6v0.6h-0.6zM289.6 457.2h0.6v0.6h-0.6zM283.4 469.7h0.6v0.6h-0.6zM255.3 481.2h0.6v0.6h-0.6zM280.5 473.0h0.6v0.6h-0.6zM265.5 480.5h0.6v0.6h-0.6zM254.9 481.4h0.6v0.6h-0.6zM282.6 470.2h0.6v0.6h-0.6zM268.1 481.5h0.6v0.6h-0.6zM283.9 459.1h0.6v0.6h-0.6zM282.7 466.7h0.6v0.6h-0.6zM277.0 479.1h0.6v0.6h-0.6zM286.3 464.4h0.6v0.6h-0.6zM253.8 483.4h0.6v0.6h-0.6zM285.3 462.3h0.6v0.6h-0.6zM275.1 479.9h0.6v0.6h-0.6zM277.9 476.5h0.6v0.6h-0.6zM254.4 480.8h0.6v0.6h-0.6zM273.1 478.0h0.6v0.6h-0.6zM288.8 444.4h0.6v0.6h-0.6zM257.0 480.5h0.6v0.6h-0.6zM283.6 461.8h0.6v0.6h-0.6zM269.2 477.8h0.6v0.6h-0.6zM270.1 480.2h0.6v0.6h-0.6zM279.0 475.8h0.6v0.6h-0.6zM285.4 456.5h0.6v0.6h-0.6zM247.1 482.9h0.6v0.6h-0.6zM268.7 479.0h0.6v0.6h-0.6zM268.2 477.1h0.6v0.6h-0.6zM287.4 460.5h0.6v0.6h-0.6zM281.9 467.3h0.6v0.6h-0.6zM287.9 465.0h0.6v0.6h-0.6zM256.7 479.6h0.6v0.6h-0.6zM269.3 483.3h0.6v0.6h-0.6zM278.6 472.3h0.6v0.6h-0.6zM287.6 448.4h0.6v0.6h-0.6zM266.3 479.0h0.6v0.6h-0.6zM284.9 453.3h0.6v0.6h-0.6zM282.8 461.6h0.6v0.6h-0.6zM278.5 474.0h0.6v0.6h-0.6zM283.2 465.9h0.6v0.6h-0.6zM284.4 464.4h0.6v0.6h-0.6zM268.9 480.6h0.6v0.6h-0.6zM271.3 477.9h0.6v0.6h-0.6zM282.3 470.3h0.6v0.6h-0.6zM265.8 478.1h0.6v0.6h-0.6zM280.5 473.8h0.6v0.6h-0.6zM284.3 462.1h0.6v0.6h-0.6zM267.8 481.4h0.6v0.6h-0.6zM278.1 476.3h0.6v0.6h-0.6zM284.0 456.6h0.6v0.6h-0.6zM249.4 482.4h0.6v0.6h-0.6zM262.6 482.5h0.6v0.6h-0.6zM276.5 473.1h0.6v0.6h-0.6zM281.0 471.9h0.6v0.6h-0.6zM263.8 481.5h0.6v0.6h-0.6zM274.4 478.8h0.6v0.6h-0.6zM269.7 479.3h0.6v0.6h-0.6zM280.4 471.4h0.6v0.6h-0.6zM278.4 468.7h0.6v0.6h-0.6zM283.3 470.3h0.6v0.6h-0.6zM278.9 476.1h0.6v0.6h-0.6zM284.4 460.1h0.6v0.6h-0.6zM265.6 479.6h0.6v0.6h-0.6zM243.7 483.7h0.6v0.6h-0.6zM275.1 477.6h0.6v0.6h-0.6zM286.1 455.7h0.6v0.6h-0.6zM271.1 479.8h0.6v0.6h-0.6zM289.0 459.2h0.6v0.6h-0.6zM271.2 478.3h0.6v0.6h-0.6zM277.2 479.7h0.6v0.6h-0.6zM287.4 451.1h0.6v0.6h-0.6zM286.7 455.6h0.6v0.6h-0.6zM251.3 480.8h0.6v0.6h-0.6zM271.0 476.9h0.6v0.6h-0.6zM286.0 446.5h0.6v0.6h-0.6zM285.0 453.6h0.6v0.6h-0.6zM257.9 482.3h0.6v0.6h-0.6zM273.4 474.9h0.6v0.6h-0.6zM287.5 451.1h0.6v0.6h-0.6zM281.3 473.4h0.6v0.6h-0.6zM281.0 464.4h0.6v0.6h-0.6zM267.5 481.9h0.6v0.6h-0.6zM275.9 479.4h0.6v0.6h-0.6zM286.3 467.3h0.6v0.6h-0.6zM265.5 478.8h0.6v0.6h-0.6zM250.9 484.0h0.6v0.6h-0.6zM254.6 481.3h0.6v0.6h-0.6zM272.3 479.9h0.6v0.6h-0.6zM284.0 471.4h0.6v0.6h-0.6zM280.9 468.5h0.6v0.6h-0.6zM277.4 476.4h0.6v0.6h-0.6zM276.2 472.9h0.6v0.6h-0.6zM272.4 483.7h0.6v0.6h-0.6zM286.9 453.2h0.6v0.6h-0.6zM264.3 481.4h0.6v0.6h-0.6zM275.9 475.5h0.6v0.6h-0.6zM286.1 464.3h0.6v0.6h-0.6zM270.5 482.7h0.6v0.6h-0.6zM287.5 455.5h0.6v0.6h-0.6zM289.4 443.9h0.6v0.6h-0.6zM275.1 471.9h0.6v0.6h-0.6zM264.1 479.5h0.6v0.6h-0.6zM243.5 480.6h0.6v0.6h-0.6zM269.9 483.6h0.6v0.6h-0.6zM253.7 481.9h0.6v0.6h-0.6zM278.8 473.0h0.6v0.6h-0.6zM287.0 462.9h0.6v0.6h-0.6zM278.0 475.1h0.6v0.6h-0.6zM275.3 472.6h0.6v0.6h-0.6zM254.9 481.1h0.6v0.6h-0.6zM282.4 472.4h0.6v0.6h-0.6zM284.7 472.1h0.6v0.6h-0.6zM264.0 476.9h0.6v0.6h-0.6zM274.3 476.8h0.6v0.6h-0.6zM274.0 475.9h0.6v0.6h-0.6zM273.7 477.9h0.6v0.6h-0.6zM278.4 467.2h0.6v0.6h-0.6zM265.1 478.7h0.6v0.6h-0.6zM282.5 467.6h0.6v0.6h-0.6zM286.6 457.5h0.6v0.6h-0.6zM279.4 476.6h0.6v0.6h-0.6zM284.4 468.5h0.6v0.6h-0.6zM264.6 481.5h0.6v0.6h-0.6zM276.5 471.6h0.6v0.6h-0.6zM278.8 471.6h0.6v0.6h-0.6zM269.5 480.8h0.6v0.6h-0.6zM280.3 466.9h0.6v0.6h-0.6zM286.0 457.4h0.6v0.6h-0.6zM261.1 482.5h0.6v0.6h-0.6zM280.2 468.9h0.6v0.6h-0.6zM286.4 460.2h0.6v0.6h-0.6zM264.7 480.7h0.6v0.6h-0.6zM277.9 480.9h0.6v0.6h-0.6zM283.1 473.5h0.6v0.6h-0.6zM282.2 462.7h0.6v0.6h-0.6zM256.7 479.9h0.6v0.6h-0.6zM269.1 481.9h0.6v0.6h-0.6zM254.1 482.4h0.6v0.6h-0.6zM246.4 482.5h0.6v0.6h-0.6zM284.2 455.7h0.6v0.6h-0.6zM286.4 470.9h0.6v0.6h-0.6zM280.4 479.4h0.6v0.6h-0.6zM279.4 475.1h0.6v0.6h-0.6zM283.0 474.1h0.6v0.6h-0.6zM284.7 468.4h0.6v0.6h-0.6zM272.5 478.3h0.6v0.6h-0.6zM276.3 479.1h0.6v0.6h-0.6zM283.9 457.3h0.6v0.6h-0.6zM283.1 475.3h0.6v0.6h-0.6zM287.1 462.1h0.6v0.6h-0.6zM274.2 480.9h0.6v0.6h-0.6zM267.1 477.9h0.6v0.6h-0.6zM278.6 475.4h0.6v0.6h-0.6zM286.8 459.5h0.6v0.6h-0.6zM286.3 463.8h0.6v0.6h-0.6zM286.3 450.6h0.6v0.6h-0.6zM283.4 458.7h0.6v0.6h-0.6zM237.7 482.4h0.6v0.6h-0.6zM276.4 478.4h0.6v0.6h-0.6zM287.3 459.4h0.6v0.6h-0.6zM286.1 462.9h0.6v0.6h-0.6zM260.4 481.4h0.6v0.6h-0.6zM284.8 459.6h0.6v0.6h-0.6zM287.5 445.6h0.6v0.6h-0.6zM242.1 484.0h0.6v0.6h-0.6zM255.9 482.5h0.6v0.6h-0.6zM287.1 451.4h0.6v0.6h-0.6zM275.1 480.7h0.6v0.6h-0.6zM285.1 468.0h0.6v0.6h-0.6zM282.5 468.0h0.6v0.6h-0.6zM288.4 459.2h0.6v0.6h-0.6zM287.3 456.8h0.6v0.6h-0.6zM248.0 481.4h0.6v0.6h-0.6zM273.9 484.0h0.6v0.6h-0.6zM284.6 462.0h0.6v0.6h-0.6zM274.9 475.6h0.6v0.6h-0.6zM266.2 481.7h0.6v0.6h-0.6zM283.3 475.2h0.6v0.6h-0.6zM279.9 478.8h0.6v0.6h-0.6zM279.8 472.0h0.6v0.6h-0.6zM263.8 480.1h0.6v0.6h-0.6zM283.2 474.1h0.6v0.6h-0.6zM285.0 454.6h0.6v0.6h-0.6zM288.8 444.8h0.6v0.6h-0.6zM282.0 468.1h0.6v0.6h-0.6zM279.4 476.9h0.6v0.6h-0.6zM276.9 482.0h0.6v0.6h-0.6zM280.1 471.6h0.6v0.6h-0.6zM271.9 477.4h0.6v0.6h-0.6zM278.6 476.7h0.6v0.6h-0.6zM288.7 443.0h0.6v0.6h-0.6zM246.2 480.6h0.6v0.6h-0.6zM253.4 479.5h0.6v0.6h-0.6zM259.5 480.6h0.6v0.6h-0.6zM243.0 469.5h0.6v0.6h-0.6zM274.3 473.7h0.6v0.6h-0.6zM238.4 471.0h0.6v0.6h-0.6zM246.6 475.5h0.6v0.6h-0.6zM251.4 475.9h0.6v0.6h-0.6zM256.2 478.9h0.6v0.6h-0.6zM268.6 468.7h0.6v0.6h-0.6zM259.6 469.1h0.6v0.6h-0.6zM254.3 479.5h0.6v0.6h-0.6zM245.4 474.3h0.6v0.6h-0.6zM261.6 476.7h0.6v0.6h-0.6zM272.8 471.9h0.6v0.6h-0.6zM264.5 471.1h0.6v0.6h-0.6zM262.8 479.8h0.6v0.6h-0.6z" fill="#9c2f28" fill-opacity="0.75"/>
<path d="M287.3 461.1h0.6v0.6h-0.6zM278.8 474.4h0.6v0.6h-0.6zM287.3 461.6h0.6v0.6h-0.6zM272.1 480.8h0.6v0.6h-0.6zM275.0 478.8h0.6v0.6h-0.6zM288.4 464.6h0.6v0.6h-0.6zM266.2 479.8h0.6v0.6h-0.6zM257.1 480.9h0.6v0.6h-0.6zM274.8 473.0h0.6v0.6h-0.6zM282.6 455.7h0.6v0.6h-0.6zM277.1 474.0h0.6v0.6h-0.6zM283.9 463.7h0.6v0.6h-0.6zM267.3 483.2h0.6v0.6h-0.6zM280.1 473.1h0.6v0.6h-0.6zM254.9 483.7h0.6v0.6h-0.6zM285.0 468.5h0.6v0.6h-0.6zM288.8 444.6h0.6v0.6h-0.6zM288.3 450.3h0.6v0.6h-0.6zM284.9 469.5h0.6v0.6h-0.6zM284.5 454.1h0.6v0.6h-0.6zM283.5 470.1h0.6v0.6h-0.6zM274.5 476.6h0.6v0.6h-0.6zM287.2 449.1h0.6v0.6h-0.6zM257.9 480.9h0.6v0.6h-0.6zM275.6 480.0h0.6v0.6h-0.6zM270.9 479.3h0.6v0.6h-0.6zM285.6 467.6h0.6v0.6h-0.6zM285.2 455.7h0.6v0.6h-0.6zM290.6 445.4h0.6v0.6h-0.6zM287.0 459.2h0.6v0.6h-0.6zM278.3 466.5h0.6v0.6h-0.6zM276.5 479.3h0.6v0.6h-0.6zM249.3 481.1h0.6v0.6h-0.6zM288.8 454.0h0.6v0.6h-0.6zM274.6 473.5h0.6v0.6h-0.6zM278.5 480.3h0.6v0.6h-0.6zM279.7 475.2h0.6v0.6h-0.6zM285.5 463.8h0.6v0.6h-0.6zM276.4 481.7h0.6v0.6h-0.6zM287.6 462.1h0.6v0.6h-0.6zM286.2 473.6h0.6v0.6h-0.6zM258.8 482.0h0.6v0.6h-0.6zM269.5 483.2h0.6v0.6h-0.6zM271.6 478.9h0.6v0.6h-0.6zM267.3 481.8h0.6v0.6h-0.6zM273.8 481.9h0.6v0.6h-0.6zM289.0 452.1h0.6v0.6h-0.6zM281.5 466.2h0.6v0.6h-0.6zM269.9 478.1h0.6v0.6h-0.6zM252.6 483.0h0.6v0.6h-0.6zM282.7 471.1h0.6v0.6h-0.6zM286.9 458.1h0.6v0.6h-0.6zM273.0 479.5h0.6v0.6h-0.6zM287.0 465.7h0.6v0.6h-0.6zM274.8 476.4h0.6v0.6h-0.6zM283.3 470.0h0.6v0.6h-0.6zM275.8 480.5h0.6v0.6h-0.6zM263.9 481.0h0.6v0.6h-0.6zM289.1 444.1h0.6v0.6h-0.6zM289.9 447.3h0.6v0.6h-0.6zM287.4 463.9h0.6v0.6h-0.6zM288.8 451.6h0.6v0.6h-0.6zM282.3 470.1h0.6v0.6h-0.6zM283.7 457.9h0.6v0.6h-0.6zM289.3 456.2h0.6v0.6h-0.6zM262.8 480.0h0.6v0.6h-0.6zM270.9 481.6h0.6v0.6h-0.6zM238.6 483.3h0.6v0.6h-0.6zM253.6 482.0h0.6v0.6h-0.6zM282.6 465.4h0.6v0.6h-0.6zM281.8 473.6h0.6v0.6h-0.6zM279.5 467.9h0.6v0.6h-0.6zM287.0 451.8h0.6v0.6h-0.6zM281.3 469.1h0.6v0.6h-0.6zM278.3 477.3h0.6v0.6h-0.6zM271.4 484.7h0.6v0.6h-0.6zM269.9 480.6h0.6v0.6h-0.6zM252.5 483.8h0.6v0.6h-0.6zM287.2 458.4h0.6v0.6h-0.6zM269.6 480.0h0.6v0.6h-0.6zM276.5 476.8h0.6v0.6h-0.6zM264.8 482.0h0.6v0.6h-0.6zM281.7 478.6h0.6v0.6h-0.6zM279.8 469.6h0.6v0.6h-0.6zM284.1 467.5h0.6v0.6h-0.6zM278.2 476.7h0.6v0.6h-0.6zM253.5 480.8h0.6v0.6h-0.6zM254.1 481.6h0.6v0.6h-0.6zM258.7 480.9h0.6v0.6h-0.6zM238.3 481.6h0.6v0.6h-0.6zM289.3 455.0h0.6v0.6h-0.6zM282.0 457.1h0.6v0.6h-0.6zM288.7 455.0h0.6v0.6h-0.6zM280.1 477.1h0.6v0.6h-0.6zM276.4 477.2h0.6v0.6h-0.6zM283.2 471.7h0.6v0.6h-0.6zM231.2 482.1h0.6v0.6h-0.6zM235.0 483.6h0.6v0.6h-0.6zM273.0 477.5h0.6v0.6h-0.6zM286.3 462.6h0.6v0.6h-0.6zM282.7 469.6h0.6v0.6h-0.6zM278.6 479.0h0.6v0.6h-0.6zM284.1 476.9h0.6v0.6h-0.6zM277.7 483.2h0.6v0.6h-0.6zM282.4 471.7h0.6v0.6h-0.6zM248.2 482.3h0.6v0.6h-0.6zM282.2 469.9h0.6v0.6h-0.6zM254.2 482.6h0.6v0.6h-0.6zM252.5 482.9h0.6v0.6h-0.6zM269.1 477.8h0.6v0.6h-0.6zM283.4 467.0h0.6v0.6h-0.6zM286.8 452.3h0.6v0.6h-0.6zM287.5 451.7h0.6v0.6h-0.6zM284.2 454.8h0.6v0.6h-0.6zM277.4 473.1h0.6v0.6h-0.6zM278.1 479.4h0.6v0.6h-0.6zM287.6 448.7h0.6v0.6h-0.6zM242.5 483.3h0.6v0.6h-0.6zM283.1 467.3h0.6v0.6h-0.6zM281.2 475.3h0.6v0.6h-0.6zM286.0 459.3h0.6v0.6h-0.6zM275.6 476.9h0.6v0.6h-0.6zM286.1 454.9h0.6v0.6h-0.6zM268.1 477.5h0.6v0.6h-0.6zM285.0 455.5h0.6v0.6h-0.6zM283.2 471.5h0.6v0.6h-0.6zM252.2 481.8h0.6v0.6h-0.6zM274.5 479.4h0.6v0.6h-0.6zM254.7 482.8h0.6v0.6h-0.6zM273.3 478.6h0.6v0.6h-0.6zM241.5 483.0h0.6v0.6h-0.6zM279.7 479.5h0.6v0.6h-0.6zM287.5 453.1h0.6v0.6h-0.6zM288.1 450.3h0.6v0.6h-0.6zM282.0 479.0h0.6v0.6h-0.6zM288.8 448.9h0.6v0.6h-0.6zM278.2 473.1h0.6v0.6h-0.6zM285.0 462.4h0.6v0.6h-0.6zM278.2 474.4h0.6v0.6h-0.6zM253.5 479.9h0.6v0.6h-0.6zM269.3 481.4h0.6v0.6h-0.6zM280.2 468.6h0.6v0.6h-0.6zM265.1 478.1h0.6v0.6h-0.6zM285.1 459.3h0.6v0.6h-0.6zM269.6 482.2h0.6v0.6h-0.6zM264.6 482.6h0.6v0.6h-0.6zM288.7 446.6h0.6v0.6h-0.6zM242.6 482.2h0.6v0.6h-0.6zM271.1 476.7h0.6v0.6h-0.6zM285.0 458.1h0.6v0.6h-0.6zM276.7 476.2h0.6v0.6h-0.6zM269.9 480.8h0.6v0.6h-0.6zM286.5 455.1h0.6v0.6h-0.6zM285.5 452.1h0.6v0.6h-0.6zM285.2 476.8h0.6v0.6h-0.6zM278.0 475.3h0.6v0.6h-0.6zM290.3 443.7h0.6v0.6h-0.6zM257.1 479.1h0.6v0.6h-0.6zM240.9 481.5h0.6v0.6h-0.6zM246.3 483.5h0.6v0.6h-0.6zM257.8 482.2h0.6v0.6h-0.6zM280.3 469.9h0.6v0.6h-0.6zM276.0 469.5h0.6v0.6h-0.6zM284.9 463.4h0.6v0.6h-0.6zM281.5 469.8h0.6v0.6h-0.6zM252.3 481.4h0.6v0.6h-0.6zM279.2 471.1h0.6v0.6h-0.6zM285.6 471.0h0.6v0.6h-0.6zM289.6 448.4h0.6v0.6h-0.6zM248.3 482.9h0.6v0.6h-0.6zM283.5 475.1h0.6v0.6h-0.6zM250.6 481.3h0.6v0.6h-0.6zM289.3 447.0h0.6v0.6h-0.6zM278.1 474.3h0.6v0.6h-0.6zM263.2 479.7h0.6v0.6h-0.6zM276.4 478.2h0.6v0.6h-0.6zM280.9 473.2h0.6v0.6h-0.6zM245.6 481.7h0.6v0.6h-0.6zM289.9 455.5h0.6v0.6h-0.6zM274.9 479.3h0.6v0.6h-0.6zM287.7 462.1h0.6v0.6h-0.6zM246.2 484.6h0.6v0.6h-0.6zM277.2 475.9h0.6v0.6h-0.6zM283.0 474.8h0.6v0.6h-0.6zM279.8 475.4h0.6v0.6h-0.6zM253.4 483.4h0.6v0.6h-0.6zM272.6 476.2h0.6v0.6h-0.6zM289.3 443.4h0.6v0.6h-0.6zM265.0 480.7h0.6v0.6h-0.6zM285.9 459.3h0.6v0.6h-0.6zM288.2 456.5h0.6v0.6h-0.6zM284.9 466.0h0.6v0.6h-0.6zM275.3 475.9h0.6v0.6h-0.6zM287.0 453.0h0.6v0.6h-0.6zM284.1 461.7h0.6v0.6h-0.6zM270.1 480.7h0.6v0.6h-0.6zM282.5 474.5h0.6v0.6h-0.6zM276.2 481.8h0.6v0.6h-0.6zM270.2 479.3h0.6v0.6h-0.6zM280.8 480.2h0.6v0.6h-0.6zM279.7 472.8h0.6v0.6h-0.6zM286.9 454.6h0.6v0.6h-0.6zM282.7 468.7h0.6v0.6h-0.6zM252.2 481.2h0.6v0.6h-0.6zM284.9 467.6h0.6v0.6h-0.6zM279.7 475.3h0.6v0.6h-0.6zM275.5 474.5h0.6v0.6h-0.6zM287.4 453.8h0.6v0.6h-0.6zM288.5 460.4h0.6v0.6h-0.6zM277.5 478.2h0.6v0.6h-0.6zM267.7 482.3h0.6v0.6h-0.6zM278.5 470.9h0.6v0.6h-0.6zM272.9 477.6h0.6v0.6h-0.6zM273.0 480.0h0.6v0.6h-0.6zM275.0 480.1h0.6v0.6h-0.6zM268.5 479.7h0.6v0.6h-0.6zM278.5 476.1h0.6v0.6h-0.6zM285.5 460.6h0.6v0.6h-0.6zM258.9 480.7h0.6v0.6h-0.6zM283.7 473.6h0.6v0.6h-0.6zM269.9 478.8h0.6v0.6h-0.6zM259.2 480.8h0.6v0.6h-0.6zM281.6 476.1h0.6v0.6h-0.6zM285.2 462.2h0.6v0.6h-0.6zM286.8 458.9h0.6v0.6h-0.6zM288.3 465.5h0.6v0.6h-0.6zM286.6 457.6h0.6v0.6h-0.6zM279.5 478.1h0.6v0.6h-0.6zM272.8 476.3h0.6v0.6h-0.6zM289.5 447.8h0.6v0.6h-0.6zM279.7 478.8h0.6v0.6h-0.6zM287.0 462.7h0.6v0.6h-0.6zM266.5 481.1h0.6v0.6h-0.6zM287.3 456.5h0.6v0.6h-0.6zM246.8 481.9h0.6v0.6h-0.6zM287.6 470.9h0.6v0.6h-0.6zM263.7 482.8h0.6v0.6h-0.6zM290.0 444.4h0.6v0.6h-0.6zM257.7 482.3h0.6v0.6h-0.6zM253.3 481.5h0.6v0.6h-0.6zM284.8 460.8h0.6v0.6h-0.6zM276.3 473.7h0.6v0.6h-0.6zM279.9 476.7h0.6v0.6h-0.6zM273.0 480.9h0.6v0.6h-0.6zM290.8 451.8h0.6v0.6h-0.6zM279.7 467.5h0.6v0.6h-0.6zM270.8 477.5h0.6v0.6h-0.6zM282.1 475.6h0.6v0.6h-0.6zM274.2 481.6h0.6v0.6h-0.6zM281.5 461.9h0.6v0.6h-0.6zM282.5 471.4h0.6v0.6h-0.6zM288.7 448.4h0.6v0.6h-0.6zM231.2 483.4h0.6v0.6h-0.6zM286.1 465.9h0.6v0.6h-0.6zM276.4 477.4h0.6v0.6h-0.6zM287.7 448.9h0.6v0.6h-0.6zM273.9 482.8h0.6v0.6h-0.6zM285.5 464.4h0.6v0.6h-0.6zM282.4 469.7h0.6v0.6h-0.6zM269.7 480.0h0.6v0.6h-0.6zM272.9 478.1h0.6v0.6h-0.6zM288.5 457.3h0.6v0.6h-0.6zM280.4 476.5h0.6v0.6h-0.6zM271.9 477.7h0.6v0.6h-0.6zM287.3 466.1h0.6v0.6h-0.6zM273.2 481.2h0.6v0.6h-0.6zM258.4 481.4h0.6v0.6h-0.6zM280.9 475.8h0.6v0.6h-0.6zM256.0 482.8h0.6v0.6h-0.6zM278.3 469.7h0.6v0.6h-0.6zM284.3 455.6h0.6v0.6h-0.6zM281.6 467.4h0.6v0.6h-0.6zM279.4 472.0h0.6v0.6h-0.6zM281.5 473.7h0.6v0.6h-0.6zM286.1 452.1h0.6v0.6h-0.6zM286.9 461.6h0.6v0.6h-0.6zM279.0 472.5h0.6v0.6h-0.6zM282.3 472.3h0.6v0.6h-0.6zM268.7 477.1h0.6v0.6h-0.6zM278.3 475.9h0.6v0.6h-0.6zM282.1 470.7h0.6v0.6h-0.6zM284.9 470.6h0.6v0.6h-0.6zM284.4 465.1h0.6v0.6h-0.6zM266.1 482.0h0.6v0.6h-0.6zM277.5 478.4h0.6v0.6h-0.6zM232.5 483.1h0.6v0.6h-0.6zM276.6 474.9h0.6v0.6h-0.6zM263.9 482.0h0.6v0.6h-0.6zM284.4 460.9h0.6v0.6h-0.6zM285.3 465.7h0.6v0.6h-0.6zM257.3 479.2h0.6v0.6h-0.6zM276.7 477.6h0.6v0.6h-0.6zM276.2 474.7h0.6v0.6h-0.6zM272.7 479.2h0.6v0.6h-0.6zM263.8 481.1h0.6v0.6h-0.6zM288.5 455.1h0.6v0.6h-0.6zM286.6 457.3h0.6v0.6h-0.6zM285.0 453.1h0.6v0.6h-0.6zM287.7 462.1h0.6v0.6h-0.6zM289.3 452.1h0.6v0.6h-0.6zM286.3 458.5h0.6v0.6h-0.6zM276.5 480.6h0.6v0.6h-0.6zM265.6 485.3h0.6v0.6h-0.6zM282.9 463.1h0.6v0.6h-0.6zM280.7 457.3h0.6v0.6h-0.6zM270.8 479.6h0.6v0.6h-0.6zM277.6 473.9h0.6v0.6h-0.6zM254.6 481.7h0.6v0.6h-0.6zM279.2 479.5h0.6v0.6h-0.6zM286.6 459.6h0.6v0.6h-0.6zM289.5 443.3h0.6v0.6h-0.6zM283.7 460.1h0.6v0.6h-0.6zM287.1 464.0h0.6v0.6h-0.6zM265.9 480.2h0.6v0.6h-0.6zM266.9 483.9h0.6v0.6h-0.6zM244.1 482.9h0.6v0.6h-0.6zM255.9 480.5h0.6v0.6h-0.6zM278.2 474.5h0.6v0.6h-0.6zM264.6 477.9h0.6v0.6h-0.6zM272.3 480.8h0.6v0.6h-0.6zM267.9 481.7h0.6v0.6h-0.6zM274.1 477.4h0.6v0.6h-0.6zM289.4 449.8h0.6v0.6h-0.6zM284.2 469.7h0.6v0.6h-0.6zM284.7 465.1h0.6v0.6h-0.6zM259.0 480.7h0.6v0.6h-0.6zM285.3 475.9h0.6v0.6h-0.6zM280.6 473.8h0.6v0.6h-0.6zM274.6 484.1h0.6v0.6h-0.6zM253.4 481.3h0.6v0.6h-0.6zM281.8 468.8h0.6v0.6h-0.6zM259.1 482.6h0.6v0.6h-0.6zM273.8 468.8h0.6v0.6h-0.6zM276.6 477.4h0.6v0.6h-0.6zM280.9 467.1h0.6v0.6h-0.6zM235.2 483.3h0.6v0.6h-0.6zM265.6 480.7h0.6v0.6h-0.6zM289.2 458.7h0.6v0.6h-0.6zM285.5 453.7h0.6v0.6h-0.6zM272.2 479.2h0.6v0.6h-0.6zM249.6 480.8h0.6v0.6h-0.6zM285.1 465.7h0.6v0.6h-0.6zM280.3 470.6h0.6v0.6h-0.6zM279.9 473.7h0.6v0.6h-0.6zM252.4 483.0h0.6v0.6h-0.6zM274.8 480.4h0.6v0.6h-0.6zM281.6 475.8h0.6v0.6h-0.6zM239.8 482.3h0.6v0.6h-0.6zM273.7 478.5h0.6v0.6h-0.6zM287.2 470.1h0.6v0.6h-0.6zM283.3 468.8h0.6v0.6h-0.6zM287.8 456.6h0.6v0.6h-0.6zM269.3 479.1h0.6v0.6h-0.6zM275.0 473.6h0.6v0.6h-0.6zM278.7 470.7h0.6v0.6h-0.6zM277.9 478.1h0.6v0.6h-0.6zM287.8 452.6h0.6v0.6h-0.6zM270.5 479.7h0.6v0.6h-0.6zM280.1 473.4h0.6v0.6h-0.6zM281.6 473.4h0.6v0.6h-0.6zM285.6 451.2h0.6v0.6h-0.6zM284.5 476.0h0.6v0.6h-0.6zM286.0 459.7h0.6v0.6h-0.6zM288.8 450.5h0.6v0.6h-0.6zM255.1 480.5h0.6v0.6h-0.6zM272.5 482.6h0.6v0.6h-0.6zM257.9 481.9h0.6v0.6h-0.6zM289.2 450.2h0.6v0.6h-0.6zM283.8 470.5h0.6v0.6h-0.6zM258.0 481.7h0.6v0.6h-0.6zM287.8 453.6h0.6v0.6h-0.6zM280.7 478.6h0.6v0.6h-0.6zM276.0 481.7h0.6v0.6h-0.6zM288.6 448.7h0.6v0.6h-0.6zM288.9 462.6h0.6v0.6h-0.6zM278.7 482.6h0.6v0.6h-0.6zM243.8 483.2h0.6v0.6h-0.6zM280.2 468.9h0.6v0.6h-0.6zM281.5 474.3h0.6v0.6h-0.6zM276.2 476.2h0.6v0.6h-0.6zM286.1 459.6h0.6v0.6h-0.6zM281.0 473.5h0.6v0.6h-0.6zM240.6 482.9h0.6v0.6h-0.6zM287.0 455.9h0.6v0.6h-0.6zM268.7 478.6h0.6v0.6h-0.6zM289.9 447.1h0.6v0.6h-0.6zM280.4 474.0h0.6v0.6h-0.6zM289.2 445.6h0.6v0.6h-0.6zM283.0 471.6h0.6v0.6h-0.6zM285.2 459.6h0.6v0.6h-0.6zM285.7 455.8h0.6v0.6h-0.6zM277.6 472.2h0.6v0.6h-0.6zM279.7 471.0h0.6v0.6h-0.6zM259.1 481.0h0.6v0.6h-0.6zM282.2 469.5h0.6v0.6h-0.6zM265.6 480.0h0.6v0.6h-0.6zM284.6 472.6h0.6v0.6h-0.6zM261.3 479.7h0.6v0.6h-0.6zM268.5 479.4h0.6v0.6h-0.6zM290.9 446.1h0.6v0.6h-0.6zM280.9 472.5h0.6v0.6h-0.6zM270.8 484.1h0.6v0.6h-0.6zM286.3 470.6h0.6v0.6h-0.6zM278.1 476.6h0.6v0.6h-0.6zM266.1 479.1h0.6v0.6h-0.6zM288.0 459.9h0.6v0.6h-0.6zM249.2 481.6h0.6v0.6h-0.6zM245.9 483.9h0.6v0.6h-0.6zM279.9 475.2h0.6v0.6h-0.6zM285.5 461.2h0.6v0.6h-0.6zM290.4 448.1h0.6v0.6h-0.6zM288.3 459.3h0.6v0.6h-0.6zM288.2 449.7h0.6v0.6h-0.6zM284.4 473.8h0.6v0.6h-0.6zM283.6 466.3h0.6v0.6h-0.6zM284.0 473.5h0.6v0.6h-0.6zM279.0 478.7h0.6v0.6h-0.6zM280.7 474.5h0.6v0.6h-0.6zM247.6 481.4h0.6v0.6h-0.6zM250.0 484.1h0.6v0.6h-0.6zM237.7 482.4h0.6v0.6h-0.6zM287.5 448.3h0.6v0.6h-0.6zM286.8 450.5h0.6v0.6h-0.6zM287.3 452.9h0.6v0.6h-0.6zM284.0 474.0h0.6v0.6h-0.6zM262.9 482.3h0.6v0.6h-0.6zM280.4 475.7h0.6v0.6h-0.6zM266.8 481.0h0.6v0.6h-0.6zM276.7 473.7h0.6v0.6h-0.6zM268.8 479.3h0.6v0.6h-0.6zM277.3 477.2h0.6v0.6h-0.6zM284.9 470.3h0.6v0.6h-0.6zM281.8 470.0h0.6v0.6h-0.6zM268.9 479.6h0.6v0.6h-0.6zM252.8 483.3h0.6v0.6h-0.6zM274.8 475.0h0.6v0.6h-0.6zM270.9 481.8h0.6v0.6h-0.6zM256.1 482.4h0.6v0.6h-0.6zM282.2 473.4h0.6v0.6h-0.6zM282.1 471.9h0.6v0.6h-0.6zM275.9 474.5h0.6v0.6h-0.6zM280.0 476.1h0.6v0.6h-0.6zM263.7 479.0h0.6v0.6h-0.6zM256.3 483.0h0.6v0.6h-0.6zM262.8 483.1h0.6v0.6h-0.6zM286.1 469.8h0.6v0.6h-0.6zM277.2 468.1h0.6v0.6h-0.6zM282.0 468.9h0.6v0.6h-0.6zM280.0 470.6h0.6v0.6h-0.6zM284.3 469.1h0.6v0.6h-0.6zM284.2 466.6h0.6v0.6h-0.6zM283.0 475.4h0.6v0.6h-0.6zM259.2 480.8h0.6v0.6h-0.6zM262.9 478.2h0.6v0.6h-0.6zM280.4 475.2h0.6v0.6h-0.6zM287.2 451.8h0.6v0.6h-0.6zM267.0 480.9h0.6v0.6h-0.6zM280.9 469.0h0.6v0.6h-0.6zM268.9 479.2h0.6v0.6h-0.6zM259.3 482.7h0.6v0.6h-0.6zM279.0 477.3h0.6v0.6h-0.6zM280.4 472.2h0.6v0.6h-0.6zM288.0 459.4h0.6v0.6h-0.6zM288.8 459.9h0.6v0.6h-0.6zM278.1 477.1h0.6v0.6h-0.6zM280.3 471.9h0.6v0.6h-0.6zM245.4 482.1h0.6v0.6h-0.6zM247.5 482.1h0.6v0.6h-0.6zM281.3 467.1h0.6v0.6h-0.6zM280.1 473.7h0.6v0.6h-0.6zM288.1 465.2h0.6v0.6h-0.6zM271.9 480.3h0.6v0.6h-0.6zM278.7 471.4h0.6v0.6h-0.6zM289.4 450.4h0.6v0.6h-0.6zM268.9 483.2h0.6v0.6h-0.6zM266.3 479.4h0.6v0.6h-0.6zM288.0 455.8h0.6v0.6h-0.6zM282.9 461.7h0.6v0.6h-0.6zM250.9 482.9h0.6v0.6h-0.6zM249.0 481.9h0.6v0.6h-0.6zM249.7 481.6h0.6v0.6h-0.6zM266.6 483.2h0.6v0.6h-0.6zM274.1 482.0h0.6v0.6h-0.6zM284.1 469.4h0.6v0.6h-0.6zM278.5 473.6h0.6v0.6h-0.6zM260.5 479.9h0.6v0.6h-0.6zM279.1 477.1h0.6v0.6h-0.6zM264.7 480.3h0.6v0.6h-0.6zM284.7 466.2h0.6v0.6h-0.6zM273.8 471.7h0.6v0.6h-0.6zM283.8 463.7h0.6v0.6h-0.6zM286.8 462.0h0.6v0.6h-0.6zM289.1 448.4h0.6v0.6h-0.6zM288.2 446.8h0.6v0.6h-0.6zM286.1 462.5h0.6v0.6h-0.6zM259.9 483.5h0.6v0.6h-0.6zM283.9 470.7h0.6v0.6h-0.6zM281.1 466.1h0.6v0.6h-0.6zM237.2 482.6h0.6v0.6h-0.6zM263.7 481.0h0.6v0.6h-0.6zM279.1 479.8h0.6v0.6h-0.6zM288.0 452.7h0.6v0.6h-0.6zM271.1 483.5h0.6v0.6h-0.6zM286.4 453.8h0.6v0.6h-0.6zM274.7 474.1h0.6v0.6h-0.6zM281.7 466.4h0.6v0.6h-0.6zM281.9 458.4h0.6v0.6h-0.6zM277.1 474.4h0.6v0.6h-0.6zM273.8 474.4h0.6v0.6h-0.6zM275.8 475.7h0.6v0.6h-0.6zM264.6 479.8h0.6v0.6h-0.6zM283.3 467.8h0.6v0.6h-0.6zM275.5 471.6h0.6v0.6h-0.6zM260.4 480.9h0.6v0.6h-0.6zM240.9 482.8h0.6v0.6h-0.6zM270.3 479.7h0.6v0.6h-0.6zM283.9 465.4h0.6v0.6h-0.6zM256.6 481.4h0.6v0.6h-0.6zM287.6 459.1h0.6v0.6h-0.6zM279.2 476.6h0.6v0.6h-0.6zM285.4 463.5h0.6v0.6h-0.6zM285.5 459.8h0.6v0.6h-0.6zM247.4 481.0h0.6v0.6h-0.6zM282.1 475.9h0.6v0.6h-0.6zM284.9 472.0h0.6v0.6h-0.6zM287.2 450.0h0.6v0.6h-0.6zM289.7 447.0h0.6v0.6h-0.6zM277.5 477.2h0.6v0.6h-0.6zM275.2 477.4h0.6v0.6h-0.6zM283.6 465.4h0.6v0.6h-0.6zM264.6 482.0h0.6v0.6h-0.6zM290.2 448.4h0.6v0.6h-0.6zM259.1 484.9h0.6v0.6h-0.6zM264.8 485.0h0.6v0.6h-0.6zM256.1 479.1h0.6v0.6h-0.6zM278.0 474.6h0.6v0.6h-0.6zM273.0 479.1h0.6v0.6h-0.6zM264.9 480.6h0.6v0.6h-0.6zM243.6 481.9h0.6v0.6h-0.6zM253.6 479.1h0.6v0.6h-0.6zM282.0 457.1h0.6v0.6h-0.6zM260.1 479.3h0.6v0.6h-0.6zM278.4 471.7h0.6v0.6h-0.6zM271.4 478.7h0.6v0.6h-0.6zM257.0 482.1h0.6v0.6h-0.6zM240.8 481.5h0.6v0.6h-0.6zM268.8 479.6h0.6v0.6h-0.6zM288.5 454.6h0.6v0.6h-0.6zM287.8 461.5h0.6v0.6h-0.6zM286.8 470.4h0.6v0.6h-0.6zM281.2 472.5h0.6v0.6h-0.6zM289.3 450.8h0.6v0.6h-0.6zM253.2 481.1h0.6v0.6h-0.6zM279.4 478.3h0.6v0.6h-0.6zM231.5 483.4h0.6v0.6h-0.6zM275.1 479.1h0.6v0.6h-0.6zM281.4 475.5h0.6v0.6h-0.6zM284.3 458.0h0.6v0.6h-0.6zM289.4 462.8h0.6v0.6h-0.6zM267.7 477.9h0.6v0.6h-0.6zM282.2 469.1h0.6v0.6h-0.6zM283.0 457.8h0.6v0.6h-0.6zM277.6 471.9h0.6v0.6h-0.6zM267.9 479.6h0.6v0.6h-0.6zM267.4 481.1h0.6v0.6h-0.6zM272.1 482.4h0.6v0.6h-0.6zM287.8 451.2h0.6v0.6h-0.6zM271.3 478.5h0.6v0.6h-0.6zM273.1 479.0h0.6v0.6h-0.6zM262.1 479.5h0.6v0.6h-0.6zM289.9 446.4h0.6v0.6h-0.6zM290.3 444.7h0.6v0.6h-0.6zM279.6 483.5h0.6v0.6h-0.6zM274.4 478.4h0.6v0.6h-0.6zM285.3 465.2h0.6v0.6h-0.6zM270.9 480.8h0.6v0.6h-0.6zM241.3 481.8h0.6v0.6h-0.6zM286.9 450.3h0.6v0.6h-0.6zM269.9 480.3h0.6v0.6h-0.6zM284.6 470.5h0.6v0.6h-0.6zM272.0 483.2h0.6v0.6h-0.6zM273.8 473.9h0.6v0.6h-0.6zM279.2 465.5h0.6v0.6h-0.6zM257.3 482.9h0.6v0.6h-0.6zM282.9 459.4h0.6v0.6h-0.6zM278.7 476.8h0.6v0.6h-0.6zM278.2 478.8h0.6v0.6h-0.6zM275.9 481.9h0.6v0.6h-0.6zM252.0 480.7h0.6v0.6h-0.6zM276.7 475.1h0.6v0.6h-0.6zM270.8 482.5h0.6v0.6h-0.6zM283.2 474.4h0.6v0.6h-0.6zM283.0 468.4h0.6v0.6h-0.6zM291.8 449.8h0.6v0.6h-0.6zM261.9 480.8h0.6v0.6h-0.6zM260.3 480.7h0.6v0.6h-0.6zM285.4 463.8h0.6v0.6h-0.6zM242.0 482.2h0.6v0.6h-0.6zM288.4 453.0h0.6v0.6h-0.6zM277.3 474.3h0.6v0.6h-0.6zM289.5 464.1h0.6v0.6h-0.6zM272.8 475.9h0.6v0.6h-0.6zM233.7 482.6h0.6v0.6h-0.6zM287.9 450.6h0.6v0.6h-0.6zM269.1 479.7h0.6v0.6h-0.6zM287.1 473.1h0.6v0.6h-0.6zM287.9 449.9h0.6v0.6h-0.6zM275.3 469.9h0.6v0.6h-0.6zM287.3 451.7h0.6v0.6h-0.6zM264.4 481.9h0.6v0.6h-0.6zM270.9 483.1h0.6v0.6h-0.6zM282.9 469.4h0.6v0.6h-0.6zM285.7 462.6h0.6v0.6h-0.6zM286.0 465.3h0.6v0.6h-0.6zM286.1 458.9h0.6v0.6h-0.6zM261.2 484.2h0.6v0.6h-0.6zM281.5 462.2h0.6v0.6h-0.6zM285.7 468.9h0.6v0.6h-0.6zM273.4 481.5h0.6v0.6h-0.6zM256.7 480.4h0.6v0.6h-0.6zM287.0 448.6h0.6v0.6h-0.6zM283.6 462.1h0.6v0.6h-0.6zM285.3 469.6h0.6v0.6h-0.6zM279.3 473.2h0.6v0.6h-0.6zM273.4 476.2h0.6v0.6h-0.6zM284.4 466.4h0.6v0.6h-0.6zM271.3 474.0h0.6v0.6h-0.6zM284.7 462.5h0.6v0.6h-0.6zM278.2 475.3h0.6v0.6h-0.6zM274.3 478.2h0.6v0.6h-0.6zM253.9 480.4h0.6v0.6h-0.6zM287.9 453.4h0.6v0.6h-0.6zM284.8 467.9h0.6v0.6h-0.6zM287.7 450.7h0.6v0.6h-0.6zM265.3 478.9h0.6v0.6h-0.6zM281.4 470.4h0.6v0.6h-0.6zM283.5 459.1h0.6v0.6h-0.6zM256.8 481.1h0.6v0.6h-0.6zM289.5 443.1h0.6v0.6h-0.6zM281.6 468.6h0.6v0.6h-0.6zM279.3 469.2h0.6v0.6h-0.6zM281.0 466.0h0.6v0.6h-0.6zM288.7 458.1h0.6v0.6h-0.6zM289.4 451.4h0.6v0.6h-0.6zM280.3 469.0h0.6v0.6h-0.6zM244.7 482.8h0.6v0.6h-0.6zM257.7 479.3h0.6v0.6h-0.6zM252.4 481.6h0.6v0.6h-0.6zM289.2 444.6h0.6v0.6h-0.6zM273.0 471.4h0.6v0.6h-0.6zM262.6 480.0h0.6v0.6h-0.6zM289.5 450.0h0.6v0.6h-0.6zM285.9 450.1h0.6v0.6h-0.6zM286.1 462.4h0.6v0.6h-0.6zM266.4 476.7h0.6v0.6h-0.6zM288.9 448.2h0.6v0.6h-0.6zM258.8 481.2h0.6v0.6h-0.6zM287.2 450.1h0.6v0.6h-0.6zM288.6 446.1h0.6v0.6h-0.6zM246.6 481.1h0.6v0.6h-0.6zM256.5 480.7h0.6v0.6h-0.6zM285.8 468.6h0.6v0.6h-0.6zM285.2 458.6h0.6v0.6h-0.6zM261.3 481.5h0.6v0.6h-0.6zM244.0 482.7h0.6v0.6h-0.6zM240.6 482.9h0.6v0.6h-0.6zM275.9 479.4h0.6v0.6h-0.6zM279.6 468.7h0.6v0.6h-0.6zM279.5 479.3h0.6v0.6h-0.6zM270.0 481.9h0.6v0.6h-0.6zM267.8 479.4h0.6v0.6h-0.6zM288.9 452.6h0.6v0.6h-0.6zM278.3 479.0h0.6v0.6h-0.6zM266.5 482.8h0.6v0.6h-0.6zM272.3 477.2h0.6v0.6h-0.6zM285.9 469.5h0.6v0.6h-0.6zM285.4 461.9h0.6v0.6h-0.6zM278.4 472.2h0.6v0.6h-0.6zM287.5 460.6h0.6v0.6h-0.6zM283.8 460.2h0.6v0.6h-0.6zM289.4 444.2h0.6v0.6h-0.6zM278.4 468.4h0.6v0.6h-0.6zM275.1 480.4h0.6v0.6h-0.6zM261.1 483.1h0.6v0.6h-0.6zM289.4 443.5h0.6v0.6h-0.6zM284.7 470.6h0.6v0.6h-0.6zM278.5 473.6h0.6v0.6h-0.6zM253.9 482.1h0.6v0.6h-0.6zM276.3 477.4h0.6v0.6h-0.6zM248.7 481.9h0.6v0.6h-0.6zM242.7 482.9h0.6v0.6h-0.6zM276.7 478.5h0.6v0.6h-0.6zM277.3 481.1h0.6v0.6h-0.6zM284.9 457.5h0.6v0.6h-0.6zM244.5 482.2h0.6v0.6h-0.6zM273.3 482.1h0.6v0.6h-0.6zM288.0 458.9h0.6v0.6h-0.6zM288.5 452.7h0.6v0.6h-0.6zM285.7 456.8h0.6v0.6h-0.6zM282.7 465.9h0.6v0.6h-0.6zM285.7 467.4h0.6v0.6h-0.6zM245.2 482.6h0.6v0.6h-0.6zM275.6 477.3h0.6v0.6h-0.6zM282.3 468.9h0.6v0.6h-0.6zM273.7 478.8h0.6v0.6h-0.6zM277.1 481.0h0.6v0.6h-0.6zM239.1 483.5h0.6v0.6h-0.6zM281.5 461.8h0.6v0.6h-0.6zM274.5 479.6h0.6v0.6h-0.6zM283.2 465.4h0.6v0.6h-0.6zM268.1 479.8h0.6v0.6h-0.6zM289.8 450.1h0.6v0.6h-0.6zM284.9 460.5h0.6v0.6h-0.6zM263.6 478.2h0.6v0.6h-0.6zM260.2 483.9h0.6v0.6h-0.6zM270.3 481.2h0.6v0.6h-0.6zM259.4 481.9h0.6v0.6h-0.6zM286.0 462.3h0.6v0.6h-0.6zM280.5 466.4h0.6v0.6h-0.6zM274.9 479.4h0.6v0.6h-0.6zM273.5 477.8h0.6v0.6h-0.6zM277.7 476.2h0.6v0.6h-0.6zM286.3 459.9h0.6v0.6h-0.6zM256.5 481.0h0.6v0.6h-0.6zM241.2 482.9h0.6v0.6h-0.6zM271.6 479.6h0.6v0.6h-0.6zM285.2 465.1h0.6v0.6h-0.6zM276.4 469.5h0.6v0.6h-0.6zM287.9 460.5h0.6v0.6h-0.6zM275.4 478.8h0.6v0.6h-0.6zM277.7 479.8h0.6v0.6h-0.6zM267.5 478.8h0.6v0.6h-0.6zM282.8 472.7h0.6v0.6h-0.6zM276.5 478.5h0.6v0.6h-0.6zM276.1 477.3h0.6v0.6h-0.6zM286.4 468.6h0.6v0.6h-0.6zM274.1 477.3h0.6v0.6h-0.6zM286.2 462.0h0.6v0.6h-0.6zM289.8 447.2h0.6v0.6h-0.6zM276.2 473.7h0.6v0.6h-0.6zM272.3 481.3h0.6v0.6h-0.6zM289.6 457.2h0.6v0.6h-0.6zM266.9 479.8h0.6v0.6h-0.6zM262.2 482.0h0.6v0.6h-0.6zM281.8 474.8h0.6v0.6h-0.6zM245.8 481.6h0.6v0.6h-0.6zM275.7 476.4h0.6v0.6h-0.6zM253.7 481.9h0.6v0.6h-0.6zM286.9 449.2h0.6v0.6h-0.6zM272.3 477.9h0.6v0.6h-0.6zM283.7 465.5h0.6v0.6h-0.6zM278.2 478.9h0.6v0.6h-0.6zM268.1 477.4h0.6v0.6h-0.6zM272.4 479.9h0.6v0.6h-0.6zM281.6 464.9h0.6v0.6h-0.6zM286.1 461.1h0.6v0.6h-0.6zM288.6 446.2h0.6v0.6h-0.6zM285.8 454.7h0.6v0.6h-0.6zM289.6 444.5h0.6v0.6h-0.6zM266.8 482.2h0.6v0.6h-0.6zM282.9 457.9h0.6v0.6h-0.6zM288.0 462.0h0.6v0.6h-0.6zM254.5 481.8h0.6v0.6h-0.6zM288.1 454.5h0.6v0.6h-0.6zM272.2 480.4h0.6v0.6h-0.6zM286.7 454.1h0.6v0.6h-0.6zM268.7 485.5h0.6v0.6h-0.6zM281.5 472.5h0.6v0.6h-0.6zM270.5 479.3h0.6v0.6h-0.6zM285.9 451.6h0.6v0.6h-0.6zM279.5 472.8h0.6v0.6h-0.6zM267.3 479.7h0.6v0.6h-0.6zM279.0 466.7h0.6v0.6h-0.6zM284.6 470.9h0.6v0.6h-0.6zM284.8 460.5h0.6v0.6h-0.6zM251.6 481.7h0.6v0.6h-0.6zM274.2 467.2h0.6v0.6h-0.6zM287.4 450.7h0.6v0.6h-0.6zM284.1 470.1h0.6v0.6h-0.6zM288.3 454.7h0.6v0.6h-0.6zM259.0 481.4h0.6v0.6h-0.6zM257.9 482.8h0.6v0.6h-0.6zM282.5 466.3h0.6v0.6h-0.6zM282.2 476.4h0.6v0.6h-0.6zM264.3 480.2h0.6v0.6h-0.6zM282.7 465.4h0.6v0.6h-0.6zM250.2 483.1h0.6v0.6h-0.6zM272.5 478.1h0.6v0.6h-0.6zM273.1 481.2h0.6v0.6h-0.6zM289.0 446.0h0.6v0.6h-0.6zM262.5 478.8h0.6v0.6h-0.6zM267.6 481.8h0.6v0.6h-0.6zM255.1 481.0h0.6v0.6h-0.6zM277.0 478.0h0.6v0.6h-0.6zM283.1 466.5h0.6v0.6h-0.6zM284.7 471.2h0.6v0.6h-0.6zM283.6 475.4h0.6v0.6h-0.6zM267.4 482.3h0.6v0.6h-0.6zM270.2 481.8h0.6v0.6h-0.6zM284.6 466.5h0.6v0.6h-0.6zM281.5 469.9h0.6v0.6h-0.6zM281.6 471.8h0.6v0.6h-0.6zM285.7 467.5h0.6v0.6h-0.6zM281.4 469.7h0.6v0.6h-0.6zM279.7 473.6h0.6v0.6h-0.6zM284.8 465.0h0.6v0.6h-0.6zM278.7 466.8h0.6v0.6h-0.6zM243.5 482.5h0.6v0.6h-0.6zM267.2 483.3h0.6v0.6h-0.6zM285.5 465.9h0.6v0.6h-0.6zM289.7 453.5h0.6v0.6h-0.6zM286.0 462.0h0.6v0.6h-0.6zM279.7 475.9h0.6v0.6h-0.6zM275.3 479.7h0.6v0.6h-0.6zM278.4 476.4h0.6v0.6h-0.6zM267.2 481.4h0.6v0.6h-0.6zM279.1 474.2h0.6v0.6h-0.6zM278.6 470.5h0.6v0.6h-0.6zM272.0 482.9h0.6v0.6h-0.6zM289.9 451.7h0.6v0.6h-0.6zM258.4 482.2h0.6v0.6h-0.6zM275.6 481.7h0.6v0.6h-0.6zM271.6 481.8h0.6v0.6h-0.6zM285.0 462.5h0.6v0.6h-0.6zM283.9 464.8h0.6v0.6h-0.6zM285.2 461.6h0.6v0.6h-0.6zM269.0 479.7h0.6v0.6h-0.6zM240.6 481.6h0.6v0.6h-0.6zM259.6 479.5h0.6v0.6h-0.6zM288.4 454.9h0.6v0.6h-0.6zM281.1 466.3h0.6v0.6h-0.6zM283.7 462.1h0.6v0.6h-0.6zM283.4 470.9h0.6v0.6h-0.6zM278.1 481.1h0.6v0.6h-0.6zM276.6 478.4h0.6v0.6h-0.6zM244.7 483.4h0.6v0.6h-0.6zM276.3 479.2h0.6v0.6h-0.6zM282.9 460.3h0.6v0.6h-0.6zM281.4 474.7h0.6v0.6h-0.6zM285.6 455.8h0.6v0.6h-0.6zM273.4 478.5h0.6v0.6h-0.6zM270.2 478.3h0.6v0.6h-0.6zM288.9 464.4h0.6v0.6h-0.6zM275.9 475.6h0.6v0.6h-0.6zM276.9 477.9h0.6v0.6h-0.6zM264.0 478.0h0.6v0.6h-0.6zM284.8 458.0h0.6v0.6h-0.6zM273.6 482.3h0.6v0.6h-0.6zM273.1 482.9h0.6v0.6h-0.6zM276.2 477.4h0.6v0.6h-0.6zM285.1 464.9h0.6v0.6h-0.6zM260.4 482.6h0.6v0.6h-0.6zM282.3 472.0h0.6v0.6h-0.6zM279.5 475.2h0.6v0.6h-0.6zM265.1 476.2h0.6v0.6h-0.6zM285.8 466.1h0.6v0.6h-0.6zM281.3 469.9h0.6v0.6h-0.6zM243.3 482.8h0.6v0.6h-0.6zM277.9 474.6h0.6v0.6h-0.6zM285.0 456.9h0.6v0.6h-0.6zM282.9 462.1h0.6v0.6h-0.6zM277.0 479.4h0.6v0.6h-0.6zM280.2 472.4h0.6v0.6h-0.6zM290.1 454.7h0.6v0.6h-0.6zM280.2 469.2h0.6v0.6h-0.6zM280.6 467.8h0.6v0.6h-0.6zM280.3 464.3h0.6v0.6h-0.6zM279.2 477.7h0.6v0.6h-0.6zM287.9 452.7h0.6v0.6h-0.6zM286.0 458.8h0.6v0.6h-0.6zM288.0 463.6h0.6v0.6h-0.6zM281.2 481.3h0.6v0.6h-0.6zM262.4 480.2h0.6v0.6h-0.6zM258.9 481.5h0.6v0.6h-0.6zM271.4 483.2h0.6v0.6h-0.6zM275.7 479.2h0.6v0.6h-0.6zM289.3 454.5h0.6v0.6h-0.6zM284.0 469.2h0.6v0.6h-0.6zM260.4 483.3h0.6v0.6h-0.6zM283.8 466.3h0.6v0.6h-0.6zM262.0 481.7h0.6v0.6h-0.6zM278.5 474.6h0.6v0.6h-0.6zM252.9 481.7h0.6v0.6h-0.6zM257.7 480.2h0.6v0.6h-0.6zM287.3 468.7h0.6v0.6h-0.6zM272.0 482.7h0.6v0.6h-0.6zM277.2 474.1h0.6v0.6h-0.6zM279.6 468.1h0.6v0.6h-0.6zM279.2 475.2h0.6v0.6h-0.6zM277.0 471.0h0.6v0.6h-0.6zM275.3 478.0h0.6v0.6h-0.6zM281.8 464.3h0.6v0.6h-0.6zM273.9 477.4h0.6v0.6h-0.6zM279.7 465.9h0.6v0.6h-0.6zM275.8 475.6h0.6v0.6h-0.6zM266.5 480.7h0.6v0.6h-0.6zM288.9 453.9h0.6v0.6h-0.6zM283.6 464.8h0.6v0.6h-0.6zM279.9 474.1h0.6v0.6h-0.6zM288.7 459.0h0.6v0.6h-0.6zM286.6 451.0h0.6v0.6h-0.6zM269.1 478.5h0.6v0.6h-0.6zM272.8 478.5h0.6v0.6h-0.6zM285.3 462.0h0.6v0.6h-0.6zM240.8 482.6h0.6v0.6h-0.6zM273.0 477.7h0.6v0.6h-0.6zM270.6 478.6h0.6v0.6h-0.6zM258.5 483.2h0.6v0.6h-0.6zM283.3 462.2h0.6v0.6h-0.6zM277.3 480.6h0.6v0.6h-0.6zM282.9 464.9h0.6v0.6h-0.6zM282.0 472.0h0.6v0.6h-0.6zM282.8 467.2h0.6v0.6h-0.6zM275.7 473.4h0.6v0.6h-0.6zM278.2 470.5h0.6v0.6h-0.6zM277.4 464.9h0.6v0.6h-0.6zM288.7 450.8h0.6v0.6h-0.6zM272.1 479.4h0.6v0.6h-0.6zM278.0 470.1h0.6v0.6h-0.6zM285.4 458.7h0.6v0.6h-0.6zM281.3 471.4h0.6v0.6h-0.6zM280.9 474.1h0.6v0.6h-0.6zM260.6 481.0h0.6v0.6h-0.6zM265.5 479.8h0.6v0.6h-0.6zM280.9 468.6h0.6v0.6h-0.6zM282.7 461.0h0.6v0.6h-0.6zM289.6 445.0h0.6v0.6h-0.6zM275.3 476.1h0.6v0.6h-0.6zM290.1 443.7h0.6v0.6h-0.6zM285.1 471.2h0.6v0.6h-0.6zM267.0 483.6h0.6v0.6h-0.6zM278.3 464.9h0.6v0.6h-0.6zM283.8 472.4h0.6v0.6h-0.6zM283.5 473.4h0.6v0.6h-0.6zM286.2 458.2h0.6v0.6h-0.6zM282.9 463.5h0.6v0.6h-0.6zM260.3 482.2h0.6v0.6h-0.6zM276.3 477.8h0.6v0.6h-0.6zM287.4 461.7h0.6v0.6h-0.6zM263.6 481.8h0.6v0.6h-0.6zM249.4 481.7h0.6v0.6h-0.6zM281.4 466.5h0.6v0.6h-0.6zM283.7 476.8h0.6v0.6h-0.6zM274.4 478.5h0.6v0.6h-0.6zM244.2 482.6h0.6v0.6h-0.6zM267.2 480.7h0.6v0.6h-0.6zM248.5 482.0h0.6v0.6h-0.6zM279.4 476.9h0.6v0.6h-0.6zM287.9 460.6h0.6v0.6h-0.6zM288.0 449.9h0.6v0.6h-0.6zM252.5 484.8h0.6v0.6h-0.6zM289.3 454.1h0.6v0.6h-0.6zM260.2 478.4h0.6v0.6h-0.6zM264.2 478.0h0.6v0.6h-0.6zM266.7 479.2h0.6v0.6h-0.6zM273.4 481.5h0.6v0.6h-0.6zM280.4 478.2h0.6v0.6h-0.6zM282.7 472.9h0.6v0.6h-0.6zM272.9 478.3h0.6v0.6h-0.6zM277.2 478.9h0.6v0.6h-0.6zM263.0 483.3h0.6v0.6h-0.6zM287.3 451.6h0.6v0.6h-0.6zM245.6 482.5h0.6v0.6h-0.6zM283.5 474.1h0.6v0.6h-0.6zM280.9 466.1h0.6v0.6h-0.6zM265.8 480.0h0.6v0.6h-0.6zM286.4 458.6h0.6v0.6h-0.6zM285.1 465.2h0.6v0.6h-0.6zM289.6 448.8h0.6v0.6h-0.6zM256.7 482.5h0.6v0.6h-0.6zM290.4 451.6h0.6v0.6h-0.6zM285.1 468.6h0.6v0.6h-0.6zM254.7 483.2h0.6v0.6h-0.6zM275.3 479.3h0.6v0.6h-0.6zM266.4 481.3h0.6v0.6h-0.6zM286.3 460.8h0.6v0.6h-0.6zM250.0 480.8h0.6v0.6h-0.6zM279.2 476.9h0.6v0.6h-0.6zM287.6 463.1h0.6v0.6h-0.6zM285.5 459.7h0.6v0.6h-0.6zM263.0 480.3h0.6v0.6h-0.6zM284.1 461.6h0.6v0.6h-0.6zM282.8 469.5h0.6v0.6h-0.6zM286.2 454.7h0.6v0.6h-0.6zM280.5 473.1h0.6v0.6h-0.6zM278.2 472.0h0.6v0.6h-0.6zM243.6 481.3h0.6v0.6h-0.6zM270.0 482.1h0.6v0.6h-0.6zM276.4 469.9h0.6v0.6h-0.6zM275.9 474.3h0.6v0.6h-0.6zM252.8 482.5h0.6v0.6h-0.6zM287.4 448.0h0.6v0.6h-0.6zM250.6 480.9h0.6v0.6h-0.6zM286.9 458.5h0.6v0.6h-0.6zM280.5 476.3h0.6v0.6h-0.6zM271.5 480.5h0.6v0.6h-0.6zM270.8 480.0h0.6v0.6h-0.6zM252.5 480.0h0.6v0.6h-0.6zM285.7 466.7h0.6v0.6h-0.6zM276.1 477.8h0.6v0.6h-0.6zM284.8 470.5h0.6v0.6h-0.6zM267.1 483.4h0.6v0.6h-0.6zM285.9 463.4h0.6v0.6h-0.6zM284.5 463.1h0.6v0.6h-0.6zM277.1 471.0h0.6v0.6h-0.6zM253.9 479.7h0.6v0.6h-0.6zM264.6 481.1h0.6v0.6h-0.6zM280.3 469.6h0.6v0.6h-0.6zM287.8 449.9h0.6v0.6h-0.6zM284.5 462.5h0.6v0.6h-0.6zM278.3 479.9h0.6v0.6h-0.6zM283.4 463.7h0.6v0.6h-0.6zM248.0 482.2h0.6v0.6h-0.6zM252.6 482.2h0.6v0.6h-0.6zM276.6 470.4h0.6v0.6h-0.6zM286.5 456.9h0.6v0.6h-0.6zM278.5 479.2h0.6v0.6h-0.6zM286.2 451.0h0.6v0.6h-0.6zM279.0 465.4h0.6v0.6h-0.6zM284.4 458.7h0.6v0.6h-0.6zM287.5 451.4h0.6v0.6h-0.6zM289.3 451.0h0.6v0.6h-0.6zM279.7 474.9h0.6v0.6h-0.6zM285.1 466.2h0.6v0.6h-0.6zM272.9 477.5h0.6v0.6h-0.6zM259.3 485.4h0.6v0.6h-0.6zM282.2 472.2h0.6v0.6h-0.6zM273.4 477.6h0.6v0.6h-0.6zM276.3 470.6h0.6v0.6h-0.6zM277.4 472.3h0.6v0.6h-0.6zM283.2 470.1h0.6v0.6h-0.6zM265.9 481.5h0.6v0.6h-0.6zM278.5 479.1h0.6v0.6h-0.6zM285.9 460.6h0.6v0.6h-0.6zM289.8 464.5h0.6v0.6h-0.6zM237.9 482.6h0.6v0.6h-0.6zM281.8 475.7h0.6v0.6h-0.6zM276.1 476.3h0.6v0.6h-0.6zM280.1 468.1h0.6v0.6h-0.6zM271.4 480.3h0.6v0.6h-0.6zM264.4 479.4h0.6v0.6h-0.6zM258.1 480.6h0.6v0.6h-0.6zM280.1 471.8h0.6v0.6h-0.6zM282.5 476.5h0.6v0.6h-0.6zM280.9 473.4h0.6v0.6h-0.6zM246.7 484.5h0.6v0.6h-0.6zM280.3 471.3h0.6v0.6h-0.6zM284.5 476.5h0.6v0.6h-0.6zM266.6 478.6h0.6v0.6h-0.6zM266.0 481.3h0.6v0.6h-0.6zM269.9 483.4h0.6v0.6h-0.6zM290.7 454.4h0.6v0.6h-0.6zM276.0 479.3h0.6v0.6h-0.6zM277.2 477.1h0.6v0.6h-0.6zM282.9 462.5h0.6v0.6h-0.6zM277.5 477.7h0.6v0.6h-0.6zM284.2 470.0h0.6v0.6h-0.6zM241.0 482.7h0.6v0.6h-0.6zM286.7 460.8h0.6v0.6h-0.6zM279.3 468.7h0.6v0.6h-0.6zM286.0 475.5h0.6v0.6h-0.6zM274.7 477.7h0.6v0.6h-0.6zM284.1 471.7h0.6v0.6h-0.6zM282.0 475.0h0.6v0.6h-0.6zM272.1 475.5h0.6v0.6h-0.6zM286.7 458.7h0.6v0.6h-0.6zM266.4 474.9h0.6v0.6h-0.6zM245.8 478.2h0.6v0.6h-0.6zM270.1 471.2h0.6v0.6h-0.6zM268.3 475.4h0.6v0.6h-0.6zM272.9 479.4h0.6v0.6h-0.6zM270.3 475.6h0.6v0.6h-0.6zM234.0 474.7h0.6v0.6h-0.6zM255.7 474.6h0.6v0.6h-0.6zM266.3 480.4h0.6v0.6h-0.6zM267.0 475.7h0.6v0.6h-0.6zM250.4 469.4h0.6v0.6h-0.6zM265.6 475.1h0.6v0.6h-0.6zM270.1 479.7h0.6v0.6h-0.6zM273.8 476.8h0.6v0.6h-0.6zM250.2 474.3h0.6v0.6h-0.6z" fill="#9c2f28" fill-opacity="0.75"/>
<rect x="198.8" y="387.8" width="99.69999999999999" height="98.80000000000001" fill="none" stroke="#c9c9c9" stroke-width="0.8"/>
<ellipse cx="282.4" cy="456.3" rx="12.6" ry="26.8" transform="rotate(4 282.4 456.3)" fill="none" stroke="#5a6fa8" stroke-width="0.75"/>
<line x1="196.6" y1="486.6" x2="198.8" y2="486.6" stroke="#b0b0b0" stroke-width="0.7"/>
<line x1="197.4" y1="474.7" x2="198.8" y2="474.7" stroke="#b0b0b0" stroke-width="0.7"/>
<line x1="196.6" y1="462.8" x2="198.8" y2="462.8" stroke="#b0b0b0" stroke-width="0.7"/>
<line x1="197.4" y1="450.9" x2="198.8" y2="450.9" stroke="#b0b0b0" stroke-width="0.7"/>
<line x1="196.6" y1="439" x2="198.8" y2="439" stroke="#b0b0b0" stroke-width="0.7"/>
<line x1="197.4" y1="427.1" x2="198.8" y2="427.1" stroke="#b0b0b0" stroke-width="0.7"/>
<line x1="196.6" y1="415.2" x2="198.8" y2="415.2" stroke="#b0b0b0" stroke-width="0.7"/>
<line x1="197.4" y1="403.3" x2="198.8" y2="403.3" stroke="#b0b0b0" stroke-width="0.7"/>
<line x1="196.6" y1="391.4" x2="198.8" y2="391.4" stroke="#b0b0b0" stroke-width="0.7"/>
<text x="194.3" y="394.1" font-size="7.6" text-anchor="end" fill="#222">4</text>
<text x="194.3" y="441.6" font-size="7.6" text-anchor="end" fill="#222">2</text>
<text x="193.3" y="489.5" font-size="7.6" text-anchor="end" fill="#222" textLength="22" lengthAdjust="spacingAndGlyphs">1e-006</text>
<line x1="198.8" y1="486.6" x2="198.8" y2="488.8" stroke="#b0b0b0" stroke-width="0.7"/>
<line x1="203.2" y1="486.6" x2="203.2" y2="487.9" stroke="#b0b0b0" stroke-width="0.7"/>
<line x1="205.77" y1="486.6" x2="205.77" y2="487.9" stroke="#b0b0b0" stroke-width="0.7"/>
<line x1="207.59" y1="486.6" x2="207.59" y2="487.9" stroke="#b0b0b0" stroke-width="0.7"/>
<line x1="209" y1="486.6" x2="209" y2="487.9" stroke="#b0b0b0" stroke-width="0.7"/>
<line x1="210.16" y1="486.6" x2="210.16" y2="487.9" stroke="#b0b0b0" stroke-width="0.7"/>
<line x1="211.14" y1="486.6" x2="211.14" y2="487.9" stroke="#b0b0b0" stroke-width="0.7"/>
<line x1="211.99" y1="486.6" x2="211.99" y2="487.9" stroke="#b0b0b0" stroke-width="0.7"/>
<line x1="212.73" y1="486.6" x2="212.73" y2="487.9" stroke="#b0b0b0" stroke-width="0.7"/>
<text x="198.2" y="499.4" font-size="7.2" fill="#222" text-anchor="middle">10<tspan font-size="5" dy="-3.2">0</tspan></text>
<line x1="213.4" y1="486.6" x2="213.4" y2="488.8" stroke="#b0b0b0" stroke-width="0.7"/>
<line x1="217.8" y1="486.6" x2="217.8" y2="487.9" stroke="#b0b0b0" stroke-width="0.7"/>
<line x1="220.37" y1="486.6" x2="220.37" y2="487.9" stroke="#b0b0b0" stroke-width="0.7"/>
<line x1="222.19" y1="486.6" x2="222.19" y2="487.9" stroke="#b0b0b0" stroke-width="0.7"/>
<line x1="223.6" y1="486.6" x2="223.6" y2="487.9" stroke="#b0b0b0" stroke-width="0.7"/>
<line x1="224.76" y1="486.6" x2="224.76" y2="487.9" stroke="#b0b0b0" stroke-width="0.7"/>
<line x1="225.74" y1="486.6" x2="225.74" y2="487.9" stroke="#b0b0b0" stroke-width="0.7"/>
<line x1="226.59" y1="486.6" x2="226.59" y2="487.9" stroke="#b0b0b0" stroke-width="0.7"/>
<line x1="227.33" y1="486.6" x2="227.33" y2="487.9" stroke="#b0b0b0" stroke-width="0.7"/>
<text x="212.8" y="499.4" font-size="7.2" fill="#222" text-anchor="middle">10<tspan font-size="5" dy="-3.2">1</tspan></text>
<line x1="228" y1="486.6" x2="228" y2="488.8" stroke="#b0b0b0" stroke-width="0.7"/>
<line x1="232.4" y1="486.6" x2="232.4" y2="487.9" stroke="#b0b0b0" stroke-width="0.7"/>
<line x1="234.97" y1="486.6" x2="234.97" y2="487.9" stroke="#b0b0b0" stroke-width="0.7"/>
<line x1="236.79" y1="486.6" x2="236.79" y2="487.9" stroke="#b0b0b0" stroke-width="0.7"/>
<line x1="238.2" y1="486.6" x2="238.2" y2="487.9" stroke="#b0b0b0" stroke-width="0.7"/>
<line x1="239.36" y1="486.6" x2="239.36" y2="487.9" stroke="#b0b0b0" stroke-width="0.7"/>
<line x1="240.34" y1="486.6" x2="240.34" y2="487.9" stroke="#b0b0b0" stroke-width="0.7"/>
<line x1="241.19" y1="486.6" x2="241.19" y2="487.9" stroke="#b0b0b0" stroke-width="0.7"/>
<line x1="241.93" y1="486.6" x2="241.93" y2="487.9" stroke="#b0b0b0" stroke-width="0.7"/>
<text x="227.4" y="499.4" font-size="7.2" fill="#222" text-anchor="middle">10<tspan font-size="5" dy="-3.2">2</tspan></text>
<line x1="242.6" y1="486.6" x2="242.6" y2="488.8" stroke="#b0b0b0" stroke-width="0.7"/>
<line x1="247" y1="486.6" x2="247" y2="487.9" stroke="#b0b0b0" stroke-width="0.7"/>
<line x1="249.57" y1="486.6" x2="249.57" y2="487.9" stroke="#b0b0b0" stroke-width="0.7"/>
<line x1="251.39" y1="486.6" x2="251.39" y2="487.9" stroke="#b0b0b0" stroke-width="0.7"/>
<line x1="252.8" y1="486.6" x2="252.8" y2="487.9" stroke="#b0b0b0" stroke-width="0.7"/>
<line x1="253.96" y1="486.6" x2="253.96" y2="487.9" stroke="#b0b0b0" stroke-width="0.7"/>
<line x1="254.94" y1="486.6" x2="254.94" y2="487.9" stroke="#b0b0b0" stroke-width="0.7"/>
<line x1="255.79" y1="486.6" x2="255.79" y2="487.9" stroke="#b0b0b0" stroke-width="0.7"/>
<line x1="256.53" y1="486.6" x2="256.53" y2="487.9" stroke="#b0b0b0" stroke-width="0.7"/>
<text x="242" y="499.4" font-size="7.2" fill="#222" text-anchor="middle">10<tspan font-size="5" dy="-3.2">3</tspan></text>
<line x1="257.2" y1="486.6" x2="257.2" y2="488.8" stroke="#b0b0b0" stroke-width="0.7"/>
<line x1="261.6" y1="486.6" x2="261.6" y2="487.9" stroke="#b0b0b0" stroke-width="0.7"/>
<line x1="264.17" y1="486.6" x2="264.17" y2="487.9" stroke="#b0b0b0" stroke-width="0.7"/>
<line x1="265.99" y1="486.6" x2="265.99" y2="487.9" stroke="#b0b0b0" stroke-width="0.7"/>
<line x1="267.4" y1="486.6" x2="267.4" y2="487.9" stroke="#b0b0b0" stroke-width="0.7"/>
<line x1="268.56" y1="486.6" x2="268.56" y2="487.9" stroke="#b0b0b0" stroke-width="0.7"/>
<line x1="269.54" y1="486.6" x2="269.54" y2="487.9" stroke="#b0b0b0" stroke-width="0.7"/>
<line x1="270.39" y1="486.6" x2="270.39" y2="487.9" stroke="#b0b0b0" stroke-width="0.7"/>
<line x1="271.13" y1="486.6" x2="271.13" y2="487.9" stroke="#b0b0b0" stroke-width="0.7"/>
<text x="256.6" y="499.4" font-size="7.2" fill="#222" text-anchor="middle">10<tspan font-size="5" dy="-3.2">4</tspan></text>
<line x1="271.8" y1="486.6" x2="271.8" y2="488.8" stroke="#b0b0b0" stroke-width="0.7"/>
<line x1="276.2" y1="486.6" x2="276.2" y2="487.9" stroke="#b0b0b0" stroke-width="0.7"/>
<line x1="278.77" y1="486.6" x2="278.77" y2="487.9" stroke="#b0b0b0" stroke-width="0.7"/>
<line x1="280.59" y1="486.6" x2="280.59" y2="487.9" stroke="#b0b0b0" stroke-width="0.7"/>
<line x1="282" y1="486.6" x2="282" y2="487.9" stroke="#b0b0b0" stroke-width="0.7"/>
<line x1="283.16" y1="486.6" x2="283.16" y2="487.9" stroke="#b0b0b0" stroke-width="0.7"/>
<line x1="284.14" y1="486.6" x2="284.14" y2="487.9" stroke="#b0b0b0" stroke-width="0.7"/>
<line x1="284.99" y1="486.6" x2="284.99" y2="487.9" stroke="#b0b0b0" stroke-width="0.7"/>
<line x1="285.73" y1="486.6" x2="285.73" y2="487.9" stroke="#b0b0b0" stroke-width="0.7"/>
<text x="271.2" y="499.4" font-size="7.2" fill="#222" text-anchor="middle">10<tspan font-size="5" dy="-3.2">5</tspan></text>
<line x1="286.4" y1="486.6" x2="286.4" y2="488.8" stroke="#b0b0b0" stroke-width="0.7"/>
<line x1="290.8" y1="486.6" x2="290.8" y2="487.9" stroke="#b0b0b0" stroke-width="0.7"/>
<line x1="293.37" y1="486.6" x2="293.37" y2="487.9" stroke="#b0b0b0" stroke-width="0.7"/>
<line x1="295.19" y1="486.6" x2="295.19" y2="487.9" stroke="#b0b0b0" stroke-width="0.7"/>
<line x1="296.6" y1="486.6" x2="296.6" y2="487.9" stroke="#b0b0b0" stroke-width="0.7"/>
<line x1="297.76" y1="486.6" x2="297.76" y2="487.9" stroke="#b0b0b0" stroke-width="0.7"/>
<text x="285.8" y="499.4" font-size="7.2" fill="#222" text-anchor="middle">10<tspan font-size="5" dy="-3.2">6</tspan></text>
<text x="248" y="513" font-size="9.2" text-anchor="middle" fill="#222">CD11b</text>
<text transform="translate(183.5 438.6) rotate(-90)" font-size="9.2" fill="#222" text-anchor="middle">SSC</text>
<path d="M387.6 405.5h0.6v0.6h-0.6zM378.0 414.8h0.6v0.6h-0.6zM388.8 405.2h0.6v0.6h-0.6zM377.6 411.9h0.6v0.6h-0.6zM373.1 410.6h0.6v0.6h-0.6zM376.8 409.6h0.6v0.6h-0.6zM382.0 409.2h0.6v0.6h-0.6zM369.0 416.1h0.6v0.6h-0.6zM380.7 406.3h0.6v0.6h-0.6zM374.1 411.0h0.6v0.6h-0.6zM380.9 409.8h0.6v0.6h-0.6zM382.6 408.2h0.6v0.6h-0.6zM373.3 412.3h0.6v0.6h-0.6zM383.3 407.8h0.6v0.6h-0.6zM379.4 407.4h0.6v0.6h-0.6zM386.3 406.2h0.6v0.6h-0.6zM387.2 408.6h0.6v0.6h-0.6zM390.7 404.8h0.6v0.6h-0.6zM383.0 410.7h0.6v0.6h-0.6zM372.7 415.4h0.6v0.6h-0.6zM380.1 405.1h0.6v0.6h-0.6zM376.1 413.0h0.6v0.6h-0.6zM380.8 409.8h0.6v0.6h-0.6zM365.6 418.3h0.6v0.6h-0.6zM389.3 397.0h0.6v0.6h-0.6zM388.9 409.7h0.6v0.6h-0.6zM376.4 411.4h0.6v0.6h-0.6zM368.5 416.4h0.6v0.6h-0.6zM376.6 410.1h0.6v0.6h-0.6zM383.6 411.8h0.6v0.6h-0.6zM385.4 403.9h0.6v0.6h-0.6zM381.7 410.7h0.6v0.6h-0.6zM385.7 406.3h0.6v0.6h-0.6zM381.4 405.4h0.6v0.6h-0.6zM386.5 410.8h0.6v0.6h-0.6zM376.0 410.4h0.6v0.6h-0.6zM377.7 411.4h0.6v0.6h-0.6zM379.6 406.0h0.6v0.6h-0.6zM378.9 412.0h0.6v0.6h-0.6zM362.8 414.5h0.6v0.6h-0.6zM378.2 413.5h0.6v0.6h-0.6zM382.0 409.3h0.6v0.6h-0.6zM382.6 406.9h0.6v0.6h-0.6zM385.0 406.2h0.6v0.6h-0.6zM373.9 412.9h0.6v0.6h-0.6zM382.2 407.0h0.6v0.6h-0.6zM382.2 415.6h0.6v0.6h-0.6zM375.0 414.8h0.6v0.6h-0.6zM384.4 408.7h0.6v0.6h-0.6zM376.5 412.8h0.6v0.6h-0.6zM378.5 411.7h0.6v0.6h-0.6zM370.3 413.3h0.6v0.6h-0.6zM372.7 417.8h0.6v0.6h-0.6zM390.5 411.9h0.6v0.6h-0.6zM378.8 411.0h0.6v0.6h-0.6zM380.7 407.1h0.6v0.6h-0.6zM373.8 413.0h0.6v0.6h-0.6zM382.2 404.7h0.6v0.6h-0.6zM391.6 408.3h0.6v0.6h-0.6zM373.2 407.3h0.6v0.6h-0.6zM370.4 416.2h0.6v0.6h-0.6zM387.9 409.0h0.6v0.6h-0.6zM378.5 411.1h0.6v0.6h-0.6zM386.7 409.6h0.6v0.6h-0.6zM387.8 404.6h0.6v0.6h-0.6zM388.8 405.3h0.6v0.6h-0.6zM381.8 412.0h0.6v0.6h-0.6zM376.9 410.9h0.6v0.6h-0.6zM377.4 412.0h0.6v0.6h-0.6zM368.8 417.1h0.6v0.6h-0.6zM389.8 401.8h0.6v0.6h-0.6zM373.9 412.4h0.6v0.6h-0.6zM377.9 415.7h0.6v0.6h-0.6zM383.0 408.4h0.6v0.6h-0.6zM380.8 409.4h0.6v0.6h-0.6zM382.0 409.9h0.6v0.6h-0.6zM381.3 408.4h0.6v0.6h-0.6zM388.8 409.2h0.6v0.6h-0.6zM377.2 409.4h0.6v0.6h-0.6zM387.0 405.6h0.6v0.6h-0.6zM388.0 404.2h0.6v0.6h-0.6zM370.2 419.9h0.6v0.6h-0.6zM385.0 408.1h0.6v0.6h-0.6zM387.6 414.5h0.6v0.6h-0.6zM384.6 407.6h0.6v0.6h-0.6zM370.4 414.2h0.6v0.6h-0.6zM388.7 406.4h0.6v0.6h-0.6zM371.0 412.3h0.6v0.6h-0.6zM377.5 410.7h0.6v0.6h-0.6zM390.0 400.9h0.6v0.6h-0.6zM381.4 408.9h0.6v0.6h-0.6zM378.3 411.2h0.6v0.6h-0.6zM382.1 409.2h0.6v0.6h-0.6zM375.1 411.9h0.6v0.6h-0.6zM378.2 412.0h0.6v0.6h-0.6zM378.2 412.1h0.6v0.6h-0.6zM377.2 411.5h0.6v0.6h-0.6zM385.7 410.1h0.6v0.6h-0.6zM378.7 409.2h0.6v0.6h-0.6zM380.0 406.8h0.6v0.6h-0.6zM371.2 411.1h0.6v0.6h-0.6zM380.4 408.0h0.6v0.6h-0.6zM376.0 410.5h0.6v0.6h-0.6zM371.1 415.3h0.6v0.6h-0.6zM398.3 406.1h0.6v0.6h-0.6zM382.0 411.8h0.6v0.6h-0.6zM382.9 412.7h0.6v0.6h-0.6zM369.5 421.2h0.6v0.6h-0.6zM385.0 403.6h0.6v0.6h-0.6zM379.4 409.2h0.6v0.6h-0.6zM387.4 410.8h0.6v0.6h-0.6zM379.8 412.9h0.6v0.6h-0.6zM377.5 417.6h0.6v0.6h-0.6zM379.1 414.0h0.6v0.6h-0.6zM377.1 408.1h0.6v0.6h-0.6zM379.8 411.0h0.6v0.6h-0.6zM380.3 412.7h0.6v0.6h-0.6zM374.8 411.9h0.6v0.6h-0.6zM380.3 411.1h0.6v0.6h-0.6zM379.3 410.1h0.6v0.6h-0.6zM378.5 412.0h0.6v0.6h-0.6zM378.5 406.0h0.6v0.6h-0.6zM371.8 414.7h0.6v0.6h-0.6zM367.9 415.8h0.6v0.6h-0.6zM385.7 405.0h0.6v0.6h-0.6zM365.4 421.8h0.6v0.6h-0.6zM374.7 410.9h0.6v0.6h-0.6zM381.9 411.6h0.6v0.6h-0.6zM390.6 409.9h0.6v0.6h-0.6zM379.8 413.6h0.6v0.6h-0.6zM388.7 410.5h0.6v0.6h-0.6zM373.7 415.4h0.6v0.6h-0.6zM384.8 403.6h0.6v0.6h-0.6zM379.6 408.2h0.6v0.6h-0.6zM387.2 408.3h0.6v0.6h-0.6zM382.5 407.7h0.6v0.6h-0.6zM383.1 410.1h0.6v0.6h-0.6zM380.2 412.7h0.6v0.6h-0.6zM381.4 412.6h0.6v0.6h-0.6zM372.6 415.1h0.6v0.6h-0.6zM381.2 405.7h0.6v0.6h-0.6zM387.9 404.9h0.6v0.6h-0.6zM382.3 406.9h0.6v0.6h-0.6zM384.5 407.8h0.6v0.6h-0.6zM383.0 410.2h0.6v0.6h-0.6zM385.8 408.1h0.6v0.6h-0.6zM384.7 408.8h0.6v0.6h-0.6zM381.0 408.5h0.6v0.6h-0.6zM386.5 413.5h0.6v0.6h-0.6zM380.3 412.6h0.6v0.6h-0.6zM379.4 410.9h0.6v0.6h-0.6zM388.0 403.5h0.6v0.6h-0.6zM372.9 410.5h0.6v0.6h-0.6zM390.2 406.7h0.6v0.6h-0.6zM377.9 411.9h0.6v0.6h-0.6zM381.9 409.9h0.6v0.6h-0.6zM389.0 406.8h0.6v0.6h-0.6zM369.3 415.5h0.6v0.6h-0.6zM387.6 412.4h0.6v0.6h-0.6zM383.4 405.0h0.6v0.6h-0.6zM378.7 417.3h0.6v0.6h-0.6zM383.5 410.9h0.6v0.6h-0.6zM377.9 409.1h0.6v0.6h-0.6zM379.2 410.9h0.6v0.6h-0.6zM383.3 407.2h0.6v0.6h-0.6zM377.5 416.9h0.6v0.6h-0.6zM362.7 415.1h0.6v0.6h-0.6zM377.2 412.0h0.6v0.6h-0.6zM379.1 409.7h0.6v0.6h-0.6zM391.1 405.9h0.6v0.6h-0.6zM391.0 401.4h0.6v0.6h-0.6zM383.2 412.1h0.6v0.6h-0.6zM380.7 407.0h0.6v0.6h-0.6zM383.9 407.4h0.6v0.6h-0.6zM388.0 408.3h0.6v0.6h-0.6zM381.7 411.5h0.6v0.6h-0.6zM373.6 410.4h0.6v0.6h-0.6zM373.0 413.9h0.6v0.6h-0.6zM371.6 418.7h0.6v0.6h-0.6zM394.1 407.3h0.6v0.6h-0.6zM372.7 412.0h0.6v0.6h-0.6zM376.8 414.9h0.6v0.6h-0.6zM377.4 414.7h0.6v0.6h-0.6zM377.7 409.0h0.6v0.6h-0.6zM386.9 412.8h0.6v0.6h-0.6zM379.8 415.5h0.6v0.6h-0.6zM372.2 413.1h0.6v0.6h-0.6zM382.7 408.7h0.6v0.6h-0.6zM382.7 409.1h0.6v0.6h-0.6zM382.9 408.0h0.6v0.6h-0.6zM383.6 406.9h0.6v0.6h-0.6zM383.7 411.1h0.6v0.6h-0.6zM384.8 404.6h0.6v0.6h-0.6zM379.5 415.0h0.6v0.6h-0.6zM386.3 405.6h0.6v0.6h-0.6zM389.6 407.7h0.6v0.6h-0.6zM391.7 408.8h0.6v0.6h-0.6zM391.4 401.4h0.6v0.6h-0.6zM376.5 409.7h0.6v0.6h-0.6zM380.8 417.8h0.6v0.6h-0.6zM384.7 409.6h0.6v0.6h-0.6zM392.5 403.0h0.6v0.6h-0.6zM379.0 407.8h0.6v0.6h-0.6zM387.1 411.8h0.6v0.6h-0.6zM385.4 411.7h0.6v0.6h-0.6zM377.9 409.1h0.6v0.6h-0.6zM379.0 407.7h0.6v0.6h-0.6zM379.5 411.7h0.6v0.6h-0.6zM376.6 415.9h0.6v0.6h-0.6zM375.4 409.9h0.6v0.6h-0.6zM384.3 411.8h0.6v0.6h-0.6zM384.4 410.4h0.6v0.6h-0.6zM382.6 403.1h0.6v0.6h-0.6zM387.8 410.3h0.6v0.6h-0.6zM381.7 406.5h0.6v0.6h-0.6zM385.0 408.9h0.6v0.6h-0.6zM372.4 412.5h0.6v0.6h-0.6zM377.8 414.1h0.6v0.6h-0.6zM389.2 406.2h0.6v0.6h-0.6zM375.8 412.4h0.6v0.6h-0.6zM377.8 411.2h0.6v0.6h-0.6zM380.7 406.7h0.6v0.6h-0.6zM380.4 413.3h0.6v0.6h-0.6zM391.6 406.6h0.6v0.6h-0.6zM366.7 411.3h0.6v0.6h-0.6zM387.6 409.6h0.6v0.6h-0.6zM376.8 412.2h0.6v0.6h-0.6zM389.6 405.1h0.6v0.6h-0.6zM383.4 411.6h0.6v0.6h-0.6zM382.1 409.7h0.6v0.6h-0.6zM369.9 412.3h0.6v0.6h-0.6zM388.2 409.4h0.6v0.6h-0.6zM385.7 406.3h0.6v0.6h-0.6zM385.8 405.3h0.6v0.6h-0.6zM381.6 409.1h0.6v0.6h-0.6zM389.3 404.8h0.6v0.6h-0.6zM391.8 407.5h0.6v0.6h-0.6zM388.8 403.6h0.6v0.6h-0.6zM388.3 406.5h0.6v0.6h-0.6zM382.2 407.4h0.6v0.6h-0.6zM377.4 408.7h0.6v0.6h-0.6zM381.1 402.2h0.6v0.6h-0.6zM387.4 402.9h0.6v0.6h-0.6zM386.4 405.9h0.6v0.6h-0.6zM391.3 406.1h0.6v0.6h-0.6zM379.9 411.1h0.6v0.6h-0.6zM386.9 405.5h0.6v0.6h-0.6zM379.6 409.9h0.6v0.6h-0.6zM381.4 406.8h0.6v0.6h-0.6zM385.5 408.0h0.6v0.6h-0.6zM383.8 407.3h0.6v0.6h-0.6zM379.2 415.0h0.6v0.6h-0.6zM380.6 415.9h0.6v0.6h-0.6zM377.5 410.0h0.6v0.6h-0.6zM378.5 410.7h0.6v0.6h-0.6zM376.4 414.6h0.6v0.6h-0.6zM378.3 416.8h0.6v0.6h-0.6zM379.9 408.1h0.6v0.6h-0.6zM377.2 409.8h0.6v0.6h-0.6zM391.2 411.8h0.6v0.6h-0.6zM380.6 403.7h0.6v0.6h-0.6zM388.7 407.4h0.6v0.6h-0.6zM379.0 411.4h0.6v0.6h-0.6zM382.3 405.8h0.6v0.6h-0.6zM375.3 416.0h0.6v0.6h-0.6zM385.3 401.7h0.6v0.6h-0.6zM378.4 406.6h0.6v0.6h-0.6zM379.8 407.0h0.6v0.6h-0.6zM381.8 411.5h0.6v0.6h-0.6zM380.9 409.4h0.6v0.6h-0.6zM378.2 407.7h0.6v0.6h-0.6zM381.7 406.3h0.6v0.6h-0.6zM382.0 403.3h0.6v0.6h-0.6zM380.6 407.3h0.6v0.6h-0.6zM386.3 405.4h0.6v0.6h-0.6zM379.5 413.1h0.6v0.6h-0.6zM378.6 408.8h0.6v0.6h-0.6zM379.6 413.7h0.6v0.6h-0.6zM391.3 407.6h0.6v0.6h-0.6zM379.5 408.8h0.6v0.6h-0.6zM387.6 409.4h0.6v0.6h-0.6zM368.5 417.8h0.6v0.6h-0.6zM397.6 404.4h0.6v0.6h-0.6zM383.1 403.2h0.6v0.6h-0.6zM376.7 413.8h0.6v0.6h-0.6zM380.6 411.9h0.6v0.6h-0.6zM382.6 408.1h0.6v0.6h-0.6zM382.3 408.3h0.6v0.6h-0.6zM374.9 411.1h0.6v0.6h-0.6zM379.7 412.7h0.6v0.6h-0.6zM374.5 405.2h0.6v0.6h-0.6zM388.6 403.6h0.6v0.6h-0.6zM362.5 417.1h0.6v0.6h-0.6zM388.2 413.3h0.6v0.6h-0.6zM367.5 416.1h0.6v0.6h-0.6zM383.7 410.8h0.6v0.6h-0.6zM380.8 410.9h0.6v0.6h-0.6zM387.3 403.9h0.6v0.6h-0.6zM386.2 408.2h0.6v0.6h-0.6zM368.4 412.2h0.6v0.6h-0.6zM373.3 416.2h0.6v0.6h-0.6zM380.0 406.8h0.6v0.6h-0.6zM376.3 414.6h0.6v0.6h-0.6zM375.5 413.6h0.6v0.6h-0.6zM385.4 409.0h0.6v0.6h-0.6zM378.7 408.4h0.6v0.6h-0.6zM391.9 403.1h0.6v0.6h-0.6zM387.1 411.3h0.6v0.6h-0.6zM388.3 402.6h0.6v0.6h-0.6zM375.7 411.3h0.6v0.6h-0.6zM386.5 407.8h0.6v0.6h-0.6zM383.5 408.4h0.6v0.6h-0.6zM382.0 409.3h0.6v0.6h-0.6zM381.8 405.1h0.6v0.6h-0.6zM390.7 407.2h0.6v0.6h-0.6zM383.7 406.6h0.6v0.6h-0.6zM386.3 408.4h0.6v0.6h-0.6zM389.8 407.9h0.6v0.6h-0.6zM381.9 412.8h0.6v0.6h-0.6zM380.1 410.0h0.6v0.6h-0.6zM392.5 404.1h0.6v0.6h-0.6zM391.3 405.2h0.6v0.6h-0.6zM376.8 410.2h0.6v0.6h-0.6zM388.1 410.2h0.6v0.6h-0.6zM387.6 407.0h0.6v0.6h-0.6zM378.0 408.1h0.6v0.6h-0.6zM378.3 411.2h0.6v0.6h-0.6zM386.1 406.9h0.6v0.6h-0.6zM371.6 411.7h0.6v0.6h-0.6zM384.4 411.5h0.6v0.6h-0.6zM385.8 406.3h0.6v0.6h-0.6zM388.5 401.7h0.6v0.6h-0.6zM392.2 406.7h0.6v0.6h-0.6zM379.6 417.0h0.6v0.6h-0.6zM379.8 405.9h0.6v0.6h-0.6zM370.7 414.6h0.6v0.6h-0.6zM377.9 414.3h0.6v0.6h-0.6zM367.3 412.5h0.6v0.6h-0.6zM372.5 413.2h0.6v0.6h-0.6zM387.1 405.4h0.6v0.6h-0.6zM379.8 408.1h0.6v0.6h-0.6zM386.6 405.5h0.6v0.6h-0.6zM368.9 412.2h0.6v0.6h-0.6zM377.9 412.3h0.6v0.6h-0.6zM389.4 409.5h0.6v0.6h-0.6zM380.7 410.8h0.6v0.6h-0.6zM375.9 412.8h0.6v0.6h-0.6zM376.8 408.7h0.6v0.6h-0.6zM374.1 418.5h0.6v0.6h-0.6zM374.3 413.0h0.6v0.6h-0.6zM393.1 402.3h0.6v0.6h-0.6zM384.4 407.2h0.6v0.6h-0.6zM379.6 411.6h0.6v0.6h-0.6zM390.5 407.5h0.6v0.6h-0.6zM380.1 411.5h0.6v0.6h-0.6zM384.0 402.1h0.6v0.6h-0.6zM383.2 404.8h0.6v0.6h-0.6zM365.3 409.0h0.6v0.6h-0.6zM381.5 411.9h0.6v0.6h-0.6zM370.1 417.7h0.6v0.6h-0.6zM387.6 405.2h0.6v0.6h-0.6zM379.8 404.0h0.6v0.6h-0.6zM380.6 407.2h0.6v0.6h-0.6zM378.1 414.1h0.6v0.6h-0.6zM373.1 412.1h0.6v0.6h-0.6zM381.8 409.6h0.6v0.6h-0.6zM393.0 403.8h0.6v0.6h-0.6zM383.2 404.6h0.6v0.6h-0.6zM398.8 408.3h0.6v0.6h-0.6zM379.5 407.9h0.6v0.6h-0.6zM381.5 407.4h0.6v0.6h-0.6zM391.9 406.5h0.6v0.6h-0.6zM387.9 407.7h0.6v0.6h-0.6zM387.8 406.6h0.6v0.6h-0.6zM381.4 401.7h0.6v0.6h-0.6zM380.6 408.8h0.6v0.6h-0.6zM369.7 409.7h0.6v0.6h-0.6zM382.6 411.6h0.6v0.6h-0.6zM380.9 409.6h0.6v0.6h-0.6zM388.4 407.0h0.6v0.6h-0.6zM370.5 409.5h0.6v0.6h-0.6zM379.8 410.3h0.6v0.6h-0.6zM382.4 413.2h0.6v0.6h-0.6zM391.3 407.3h0.6v0.6h-0.6zM392.2 404.7h0.6v0.6h-0.6zM375.1 413.4h0.6v0.6h-0.6zM377.3 408.6h0.6v0.6h-0.6zM373.2 408.5h0.6v0.6h-0.6zM379.7 404.0h0.6v0.6h-0.6zM382.9 414.0h0.6v0.6h-0.6zM375.8 410.7h0.6v0.6h-0.6zM379.5 412.9h0.6v0.6h-0.6zM382.8 406.6h0.6v0.6h-0.6zM381.3 415.3h0.6v0.6h-0.6zM380.1 404.2h0.6v0.6h-0.6zM400.4 401.7h0.6v0.6h-0.6zM375.3 411.1h0.6v0.6h-0.6zM383.5 409.8h0.6v0.6h-0.6zM387.6 402.9h0.6v0.6h-0.6zM387.2 406.8h0.6v0.6h-0.6zM391.4 408.3h0.6v0.6h-0.6zM384.4 406.6h0.6v0.6h-0.6zM376.6 410.4h0.6v0.6h-0.6zM376.2 408.4h0.6v0.6h-0.6zM375.5 418.6h0.6v0.6h-0.6zM375.5 416.5h0.6v0.6h-0.6zM388.7 407.1h0.6v0.6h-0.6zM395.4 408.5h0.6v0.6h-0.6zM383.6 409.9h0.6v0.6h-0.6zM377.6 414.3h0.6v0.6h-0.6zM378.0 413.6h0.6v0.6h-0.6zM377.4 409.1h0.6v0.6h-0.6zM389.7 400.2h0.6v0.6h-0.6zM376.0 417.5h0.6v0.6h-0.6zM381.2 409.2h0.6v0.6h-0.6zM368.6 410.8h0.6v0.6h-0.6zM380.2 406.4h0.6v0.6h-0.6zM392.1 400.4h0.6v0.6h-0.6zM371.1 415.1h0.6v0.6h-0.6zM376.5 409.6h0.6v0.6h-0.6zM382.2 410.1h0.6v0.6h-0.6zM379.5 409.2h0.6v0.6h-0.6zM376.6 406.4h0.6v0.6h-0.6zM382.9 411.6h0.6v0.6h-0.6zM374.7 413.9h0.6v0.6h-0.6zM377.1 412.5h0.6v0.6h-0.6zM373.1 412.1h0.6v0.6h-0.6zM377.5 409.2h0.6v0.6h-0.6zM383.6 413.8h0.6v0.6h-0.6zM386.6 406.8h0.6v0.6h-0.6zM382.2 414.5h0.6v0.6h-0.6zM388.1 404.3h0.6v0.6h-0.6zM381.8 412.8h0.6v0.6h-0.6zM390.3 406.7h0.6v0.6h-0.6zM374.3 415.8h0.6v0.6h-0.6zM378.8 403.4h0.6v0.6h-0.6zM380.4 408.1h0.6v0.6h-0.6zM373.0 410.0h0.6v0.6h-0.6zM374.9 412.1h0.6v0.6h-0.6zM376.2 415.4h0.6v0.6h-0.6zM380.7 411.0h0.6v0.6h-0.6zM382.9 402.6h0.6v0.6h-0.6zM375.8 414.0h0.6v0.6h-0.6zM383.8 409.7h0.6v0.6h-0.6zM382.5 406.1h0.6v0.6h-0.6zM381.6 406.6h0.6v0.6h-0.6zM377.3 413.3h0.6v0.6h-0.6zM377.5 403.6h0.6v0.6h-0.6zM381.2 413.3h0.6v0.6h-0.6zM373.9 417.9h0.6v0.6h-0.6zM379.3 409.4h0.6v0.6h-0.6zM371.4 408.2h0.6v0.6h-0.6zM375.0 413.8h0.6v0.6h-0.6zM382.6 413.1h0.6v0.6h-0.6zM377.0 407.8h0.6v0.6h-0.6zM391.1 408.9h0.6v0.6h-0.6zM378.9 412.1h0.6v0.6h-0.6zM383.1 408.0h0.6v0.6h-0.6zM389.1 408.8h0.6v0.6h-0.6zM389.0 411.9h0.6v0.6h-0.6zM382.5 407.1h0.6v0.6h-0.6zM385.2 411.7h0.6v0.6h-0.6zM365.7 414.9h0.6v0.6h-0.6zM385.9 406.4h0.6v0.6h-0.6zM379.6 410.5h0.6v0.6h-0.6zM381.6 409.8h0.6v0.6h-0.6zM377.5 411.0h0.6v0.6h-0.6zM374.2 413.9h0.6v0.6h-0.6zM379.5 407.7h0.6v0.6h-0.6zM392.9 401.9h0.6v0.6h-0.6zM387.7 404.7h0.6v0.6h-0.6zM380.4 409.3h0.6v0.6h-0.6zM381.6 409.9h0.6v0.6h-0.6zM383.3 412.1h0.6v0.6h-0.6zM379.8 407.1h0.6v0.6h-0.6zM387.3 402.2h0.6v0.6h-0.6zM384.8 403.8h0.6v0.6h-0.6zM382.1 411.3h0.6v0.6h-0.6zM382.5 405.1h0.6v0.6h-0.6zM387.2 408.8h0.6v0.6h-0.6zM385.4 412.3h0.6v0.6h-0.6zM377.8 410.7h0.6v0.6h-0.6zM378.3 407.0h0.6v0.6h-0.6zM368.3 415.0h0.6v0.6h-0.6zM362.5 419.9h0.6v0.6h-0.6zM378.1 414.3h0.6v0.6h-0.6zM380.0 408.3h0.6v0.6h-0.6zM382.0 405.4h0.6v0.6h-0.6zM372.3 405.9h0.6v0.6h-0.6zM387.8 404.7h0.6v0.6h-0.6zM388.6 404.0h0.6v0.6h-0.6zM391.0 402.7h0.6v0.6h-0.6zM362.9 412.9h0.6v0.6h-0.6zM378.8 416.5h0.6v0.6h-0.6zM381.9 407.1h0.6v0.6h-0.6zM389.6 408.6h0.6v0.6h-0.6zM376.5 400.7h0.6v0.6h-0.6zM388.3 405.0h0.6v0.6h-0.6zM388.9 408.0h0.6v0.6h-0.6zM375.3 406.8h0.6v0.6h-0.6zM375.1 409.6h0.6v0.6h-0.6zM379.7 413.3h0.6v0.6h-0.6zM381.8 404.5h0.6v0.6h-0.6zM376.2 410.0h0.6v0.6h-0.6zM384.4 410.6h0.6v0.6h-0.6zM382.5 407.4h0.6v0.6h-0.6zM383.9 409.5h0.6v0.6h-0.6zM386.8 407.7h0.6v0.6h-0.6zM384.3 411.6h0.6v0.6h-0.6zM393.6 403.4h0.6v0.6h-0.6zM377.5 414.1h0.6v0.6h-0.6zM382.1 408.6h0.6v0.6h-0.6zM385.0 413.7h0.6v0.6h-0.6zM382.0 408.1h0.6v0.6h-0.6zM381.0 407.4h0.6v0.6h-0.6zM378.8 412.3h0.6v0.6h-0.6zM387.8 410.3h0.6v0.6h-0.6zM376.2 405.4h0.6v0.6h-0.6zM378.8 413.7h0.6v0.6h-0.6zM378.3 409.9h0.6v0.6h-0.6zM379.1 414.6h0.6v0.6h-0.6zM389.8 407.4h0.6v0.6h-0.6zM383.0 404.9h0.6v0.6h-0.6zM389.8 414.8h0.6v0.6h-0.6zM376.0 414.5h0.6v0.6h-0.6zM376.8 409.4h0.6v0.6h-0.6zM386.2 405.2h0.6v0.6h-0.6zM374.1 410.5h0.6v0.6h-0.6zM384.6 410.5h0.6v0.6h-0.6zM373.9 417.5h0.6v0.6h-0.6zM372.3 409.6h0.6v0.6h-0.6zM396.4 402.8h0.6v0.6h-0.6zM373.9 414.2h0.6v0.6h-0.6zM369.9 415.6h0.6v0.6h-0.6zM382.5 407.3h0.6v0.6h-0.6zM368.0 411.2h0.6v0.6h-0.6zM372.8 414.3h0.6v0.6h-0.6zM375.5 413.9h0.6v0.6h-0.6zM385.1 405.9h0.6v0.6h-0.6zM380.4 405.8h0.6v0.6h-0.6zM392.6 405.3h0.6v0.6h-0.6zM381.0 410.3h0.6v0.6h-0.6zM380.4 413.3h0.6v0.6h-0.6zM394.6 404.4h0.6v0.6h-0.6zM375.5 409.1h0.6v0.6h-0.6zM385.0 407.9h0.6v0.6h-0.6zM375.2 410.8h0.6v0.6h-0.6zM385.7 411.5h0.6v0.6h-0.6zM384.2 408.8h0.6v0.6h-0.6zM382.7 411.9h0.6v0.6h-0.6zM378.2 413.6h0.6v0.6h-0.6zM384.3 407.4h0.6v0.6h-0.6zM379.4 409.9h0.6v0.6h-0.6zM377.7 409.2h0.6v0.6h-0.6zM382.6 407.0h0.6v0.6h-0.6zM383.9 409.7h0.6v0.6h-0.6zM380.5 410.2h0.6v0.6h-0.6zM379.9 413.3h0.6v0.6h-0.6zM380.3 415.7h0.6v0.6h-0.6zM383.0 409.0h0.6v0.6h-0.6zM373.5 414.1h0.6v0.6h-0.6zM385.9 408.8h0.6v0.6h-0.6zM380.8 412.8h0.6v0.6h-0.6zM385.8 407.6h0.6v0.6h-0.6zM386.2 407.5h0.6v0.6h-0.6zM376.7 414.4h0.6v0.6h-0.6zM379.4 405.9h0.6v0.6h-0.6zM374.6 405.7h0.6v0.6h-0.6zM386.0 411.8h0.6v0.6h-0.6zM381.9 413.5h0.6v0.6h-0.6zM395.5 402.1h0.6v0.6h-0.6zM378.5 408.3h0.6v0.6h-0.6zM369.6 415.1h0.6v0.6h-0.6zM391.0 408.7h0.6v0.6h-0.6zM371.3 413.0h0.6v0.6h-0.6zM385.1 406.4h0.6v0.6h-0.6zM375.6 410.2h0.6v0.6h-0.6zM378.3 406.9h0.6v0.6h-0.6zM376.6 414.0h0.6v0.6h-0.6zM380.2 409.6h0.6v0.6h-0.6zM386.0 412.3h0.6v0.6h-0.6zM382.3 407.2h0.6v0.6h-0.6zM371.7 406.9h0.6v0.6h-0.6zM388.2 404.1h0.6v0.6h-0.6zM378.6 407.9h0.6v0.6h-0.6zM379.7 412.8h0.6v0.6h-0.6zM375.0 411.8h0.6v0.6h-0.6zM384.0 406.6h0.6v0.6h-0.6zM375.1 406.4h0.6v0.6h-0.6zM380.9 410.9h0.6v0.6h-0.6zM379.2 408.8h0.6v0.6h-0.6zM374.4 417.6h0.6v0.6h-0.6zM374.3 415.6h0.6v0.6h-0.6zM377.4 411.8h0.6v0.6h-0.6zM385.3 407.8h0.6v0.6h-0.6zM380.6 405.1h0.6v0.6h-0.6zM382.5 407.0h0.6v0.6h-0.6zM382.3 408.7h0.6v0.6h-0.6zM376.1 413.6h0.6v0.6h-0.6zM384.9 413.2h0.6v0.6h-0.6zM384.7 411.6h0.6v0.6h-0.6zM384.8 410.2h0.6v0.6h-0.6zM380.4 409.8h0.6v0.6h-0.6zM370.4 417.0h0.6v0.6h-0.6zM381.9 410.1h0.6v0.6h-0.6zM392.9 402.6h0.6v0.6h-0.6zM374.9 409.2h0.6v0.6h-0.6zM370.4 416.7h0.6v0.6h-0.6zM385.3 406.3h0.6v0.6h-0.6zM391.4 404.1h0.6v0.6h-0.6zM384.7 412.0h0.6v0.6h-0.6zM380.1 406.9h0.6v0.6h-0.6zM395.3 409.9h0.6v0.6h-0.6zM392.3 406.5h0.6v0.6h-0.6zM379.8 411.1h0.6v0.6h-0.6zM379.6 407.4h0.6v0.6h-0.6zM388.8 406.8h0.6v0.6h-0.6zM396.8 403.9h0.6v0.6h-0.6zM375.9 415.0h0.6v0.6h-0.6zM377.0 403.2h0.6v0.6h-0.6zM381.2 409.5h0.6v0.6h-0.6zM383.8 407.0h0.6v0.6h-0.6zM373.7 409.1h0.6v0.6h-0.6zM383.9 405.2h0.6v0.6h-0.6zM386.7 408.5h0.6v0.6h-0.6zM374.3 411.8h0.6v0.6h-0.6zM373.0 412.9h0.6v0.6h-0.6zM384.5 412.3h0.6v0.6h-0.6zM396.6 403.4h0.6v0.6h-0.6zM372.7 408.6h0.6v0.6h-0.6zM388.2 406.5h0.6v0.6h-0.6zM377.3 407.9h0.6v0.6h-0.6zM376.4 409.1h0.6v0.6h-0.6zM381.9 407.5h0.6v0.6h-0.6zM381.6 403.7h0.6v0.6h-0.6zM384.0 409.0h0.6v0.6h-0.6zM390.7 402.4h0.6v0.6h-0.6zM378.8 407.3h0.6v0.6h-0.6zM386.4 413.1h0.6v0.6h-0.6zM380.7 407.3h0.6v0.6h-0.6zM386.3 410.3h0.6v0.6h-0.6zM385.6 408.4h0.6v0.6h-0.6zM377.9 409.7h0.6v0.6h-0.6zM375.6 414.3h0.6v0.6h-0.6zM379.9 409.2h0.6v0.6h-0.6zM380.0 407.0h0.6v0.6h-0.6zM385.9 403.8h0.6v0.6h-0.6zM390.4 407.1h0.6v0.6h-0.6zM379.1 410.1h0.6v0.6h-0.6zM378.2 415.2h0.6v0.6h-0.6zM375.8 402.7h0.6v0.6h-0.6zM383.8 408.9h0.6v0.6h-0.6zM385.4 409.1h0.6v0.6h-0.6zM382.5 412.4h0.6v0.6h-0.6zM386.8 407.8h0.6v0.6h-0.6zM379.7 414.2h0.6v0.6h-0.6zM382.6 413.6h0.6v0.6h-0.6zM370.2 416.2h0.6v0.6h-0.6zM380.8 408.6h0.6v0.6h-0.6zM370.6 409.3h0.6v0.6h-0.6zM371.8 414.5h0.6v0.6h-0.6zM382.3 413.2h0.6v0.6h-0.6zM369.1 412.7h0.6v0.6h-0.6zM383.0 409.3h0.6v0.6h-0.6zM382.2 413.8h0.6v0.6h-0.6zM386.1 410.2h0.6v0.6h-0.6zM383.6 402.1h0.6v0.6h-0.6zM374.8 424.0h0.6v0.6h-0.6zM366.2 417.5h0.6v0.6h-0.6zM375.8 421.2h0.6v0.6h-0.6zM362.1 426.6h0.6v0.6h-0.6zM371.0 413.6h0.6v0.6h-0.6zM374.2 421.1h0.6v0.6h-0.6zM374.7 424.9h0.6v0.6h-0.6zM378.1 413.2h0.6v0.6h-0.6zM373.9 413.8h0.6v0.6h-0.6zM370.7 414.1h0.6v0.6h-0.6zM379.3 414.3h0.6v0.6h-0.6zM377.0 416.0h0.6v0.6h-0.6zM368.5 424.7h0.6v0.6h-0.6zM373.6 415.4h0.6v0.6h-0.6zM379.0 421.5h0.6v0.6h-0.6zM376.3 414.7h0.6v0.6h-0.6zM387.5 403.0h0.6v0.6h-0.6zM371.3 418.3h0.6v0.6h-0.6zM374.6 405.9h0.6v0.6h-0.6zM367.5 423.9h0.6v0.6h-0.6zM369.2 423.9h0.6v0.6h-0.6zM379.2 423.9h0.6v0.6h-0.6zM353.7 429.5h0.6v0.6h-0.6zM377.2 408.1h0.6v0.6h-0.6zM386.0 404.4h0.6v0.6h-0.6zM367.4 425.1h0.6v0.6h-0.6zM369.3 424.7h0.6v0.6h-0.6zM374.3 412.2h0.6v0.6h-0.6zM371.1 410.1h0.6v0.6h-0.6zM358.0 419.6h0.6v0.6h-0.6zM370.2 407.3h0.6v0.6h-0.6zM362.6 424.3h0.6v0.6h-0.6zM372.5 422.4h0.6v0.6h-0.6zM377.8 415.9h0.6v0.6h-0.6zM379.6 414.8h0.6v0.6h-0.6zM374.1 414.2h0.6v0.6h-0.6zM378.1 404.5h0.6v0.6h-0.6zM371.2 420.7h0.6v0.6h-0.6zM379.9 416.3h0.6v0.6h-0.6zM372.0 414.2h0.6v0.6h-0.6zM382.0 406.3h0.6v0.6h-0.6zM377.3 415.5h0.6v0.6h-0.6zM373.6 421.2h0.6v0.6h-0.6zM369.7 413.3h0.6v0.6h-0.6zM374.7 411.0h0.6v0.6h-0.6zM377.9 408.9h0.6v0.6h-0.6zM372.1 422.5h0.6v0.6h-0.6zM375.4 415.5h0.6v0.6h-0.6zM379.1 414.6h0.6v0.6h-0.6zM363.7 415.5h0.6v0.6h-0.6zM365.8 426.9h0.6v0.6h-0.6zM361.7 422.3h0.6v0.6h-0.6zM381.0 408.1h0.6v0.6h-0.6zM369.1 420.9h0.6v0.6h-0.6zM375.8 416.7h0.6v0.6h-0.6zM385.7 414.1h0.6v0.6h-0.6zM382.4 411.7h0.6v0.6h-0.6zM361.7 414.3h0.6v0.6h-0.6zM370.1 427.9h0.6v0.6h-0.6zM367.6 424.9h0.6v0.6h-0.6zM379.5 408.2h0.6v0.6h-0.6zM381.3 408.4h0.6v0.6h-0.6zM380.2 417.5h0.6v0.6h-0.6zM364.1 429.9h0.6v0.6h-0.6zM375.9 408.5h0.6v0.6h-0.6zM383.2 410.2h0.6v0.6h-0.6zM387.5 401.1h0.6v0.6h-0.6zM372.2 421.4h0.6v0.6h-0.6zM372.0 421.5h0.6v0.6h-0.6zM371.5 418.6h0.6v0.6h-0.6zM371.1 417.2h0.6v0.6h-0.6zM360.9 432.3h0.6v0.6h-0.6zM363.2 429.4h0.6v0.6h-0.6zM370.2 420.8h0.6v0.6h-0.6zM371.0 419.8h0.6v0.6h-0.6zM368.1 421.4h0.6v0.6h-0.6zM366.1 426.1h0.6v0.6h-0.6zM365.0 428.3h0.6v0.6h-0.6zM374.2 419.4h0.6v0.6h-0.6zM371.1 417.8h0.6v0.6h-0.6zM367.6 422.8h0.6v0.6h-0.6zM371.5 420.4h0.6v0.6h-0.6zM363.2 430.6h0.6v0.6h-0.6zM371.1 415.8h0.6v0.6h-0.6zM364.6 430.1h0.6v0.6h-0.6zM367.8 425.2h0.6v0.6h-0.6zM370.9 419.0h0.6v0.6h-0.6zM348.9 447.9h0.6v0.6h-0.6zM357.5 432.7h0.6v0.6h-0.6zM360.2 432.7h0.6v0.6h-0.6zM364.9 424.1h0.6v0.6h-0.6zM369.7 424.1h0.6v0.6h-0.6zM370.6 418.7h0.6v0.6h-0.6zM370.8 417.2h0.6v0.6h-0.6zM364.3 426.0h0.6v0.6h-0.6zM363.3 425.3h0.6v0.6h-0.6zM370.0 422.9h0.6v0.6h-0.6zM372.1 420.8h0.6v0.6h-0.6zM370.0 416.9h0.6v0.6h-0.6zM368.6 424.3h0.6v0.6h-0.6zM362.9 421.7h0.6v0.6h-0.6zM360.1 425.4h0.6v0.6h-0.6zM363.2 425.9h0.6v0.6h-0.6zM370.3 420.7h0.6v0.6h-0.6zM369.4 423.3h0.6v0.6h-0.6zM372.0 415.2h0.6v0.6h-0.6zM363.3 430.6h0.6v0.6h-0.6zM363.0 428.9h0.6v0.6h-0.6zM372.1 420.0h0.6v0.6h-0.6zM371.5 422.7h0.6v0.6h-0.6zM364.7 424.6h0.6v0.6h-0.6zM369.3 422.3h0.6v0.6h-0.6zM368.9 420.2h0.6v0.6h-0.6zM357.2 430.4h0.6v0.6h-0.6zM366.0 425.9h0.6v0.6h-0.6zM370.3 420.2h0.6v0.6h-0.6zM366.3 424.9h0.6v0.6h-0.6zM362.5 426.9h0.6v0.6h-0.6zM371.2 419.2h0.6v0.6h-0.6zM363.1 427.2h0.6v0.6h-0.6zM373.5 424.0h0.6v0.6h-0.6zM368.2 421.7h0.6v0.6h-0.6zM364.5 426.0h0.6v0.6h-0.6zM372.0 420.1h0.6v0.6h-0.6zM361.5 427.8h0.6v0.6h-0.6zM360.7 428.5h0.6v0.6h-0.6z" fill="#962a24" fill-opacity="0.7"/>
<path d="M379.6 410.1h0.6v0.6h-0.6zM394.8 403.7h0.6v0.6h-0.6zM371.0 415.0h0.6v0.6h-0.6zM371.7 412.1h0.6v0.6h-0.6zM383.1 405.7h0.6v0.6h-0.6zM386.3 409.5h0.6v0.6h-0.6zM377.3 407.4h0.6v0.6h-0.6zM370.0 418.7h0.6v0.6h-0.6zM392.5 404.3h0.6v0.6h-0.6zM376.7 408.2h0.6v0.6h-0.6zM380.8 410.3h0.6v0.6h-0.6zM387.9 406.6h0.6v0.6h-0.6zM386.2 406.1h0.6v0.6h-0.6zM382.6 411.1h0.6v0.6h-0.6zM380.5 409.8h0.6v0.6h-0.6zM382.8 407.9h0.6v0.6h-0.6zM394.9 403.6h0.6v0.6h-0.6zM379.2 414.3h0.6v0.6h-0.6zM369.9 413.9h0.6v0.6h-0.6zM383.8 408.4h0.6v0.6h-0.6zM385.8 405.6h0.6v0.6h-0.6zM376.6 410.6h0.6v0.6h-0.6zM380.7 406.6h0.6v0.6h-0.6zM381.0 404.8h0.6v0.6h-0.6zM383.5 403.0h0.6v0.6h-0.6zM395.5 408.7h0.6v0.6h-0.6zM379.8 409.0h0.6v0.6h-0.6zM366.1 416.7h0.6v0.6h-0.6zM385.1 410.7h0.6v0.6h-0.6zM390.2 405.8h0.6v0.6h-0.6zM373.0 408.4h0.6v0.6h-0.6zM380.8 402.8h0.6v0.6h-0.6zM371.1 409.9h0.6v0.6h-0.6zM385.7 407.4h0.6v0.6h-0.6zM379.9 412.9h0.6v0.6h-0.6zM374.3 416.6h0.6v0.6h-0.6zM382.3 410.3h0.6v0.6h-0.6zM380.1 412.0h0.6v0.6h-0.6zM382.9 408.4h0.6v0.6h-0.6zM384.0 411.2h0.6v0.6h-0.6zM381.3 407.1h0.6v0.6h-0.6zM376.7 414.7h0.6v0.6h-0.6zM371.2 412.5h0.6v0.6h-0.6zM385.0 411.0h0.6v0.6h-0.6zM377.8 413.7h0.6v0.6h-0.6zM380.1 407.6h0.6v0.6h-0.6zM375.1 404.8h0.6v0.6h-0.6zM374.9 409.8h0.6v0.6h-0.6zM384.5 403.9h0.6v0.6h-0.6zM375.2 409.4h0.6v0.6h-0.6zM378.7 409.6h0.6v0.6h-0.6zM389.4 406.3h0.6v0.6h-0.6zM385.9 406.4h0.6v0.6h-0.6zM385.1 412.6h0.6v0.6h-0.6zM372.0 413.6h0.6v0.6h-0.6zM378.1 405.1h0.6v0.6h-0.6zM377.4 416.1h0.6v0.6h-0.6zM385.6 404.4h0.6v0.6h-0.6zM385.7 407.7h0.6v0.6h-0.6zM387.5 413.7h0.6v0.6h-0.6zM387.3 407.7h0.6v0.6h-0.6zM383.9 412.8h0.6v0.6h-0.6zM378.5 412.8h0.6v0.6h-0.6zM371.4 411.2h0.6v0.6h-0.6zM384.3 399.5h0.6v0.6h-0.6zM383.5 406.3h0.6v0.6h-0.6zM378.7 411.7h0.6v0.6h-0.6zM386.2 405.8h0.6v0.6h-0.6zM380.9 403.8h0.6v0.6h-0.6zM377.9 413.7h0.6v0.6h-0.6zM385.9 409.0h0.6v0.6h-0.6zM377.0 408.3h0.6v0.6h-0.6zM382.7 406.0h0.6v0.6h-0.6zM389.3 407.6h0.6v0.6h-0.6zM381.1 405.5h0.6v0.6h-0.6zM378.7 405.6h0.6v0.6h-0.6zM380.4 406.7h0.6v0.6h-0.6zM388.1 409.4h0.6v0.6h-0.6zM388.5 408.2h0.6v0.6h-0.6zM375.2 419.2h0.6v0.6h-0.6zM376.5 408.9h0.6v0.6h-0.6zM380.5 409.3h0.6v0.6h-0.6zM379.0 409.5h0.6v0.6h-0.6zM382.8 406.5h0.6v0.6h-0.6zM395.0 396.3h0.6v0.6h-0.6zM380.0 403.8h0.6v0.6h-0.6zM376.7 408.7h0.6v0.6h-0.6zM383.2 403.7h0.6v0.6h-0.6zM377.6 411.5h0.6v0.6h-0.6zM389.1 402.5h0.6v0.6h-0.6zM393.3 408.1h0.6v0.6h-0.6zM375.5 411.7h0.6v0.6h-0.6zM382.3 412.1h0.6v0.6h-0.6zM386.7 406.0h0.6v0.6h-0.6zM369.4 412.3h0.6v0.6h-0.6zM380.4 416.4h0.6v0.6h-0.6zM380.9 411.6h0.6v0.6h-0.6zM379.9 411.7h0.6v0.6h-0.6zM383.5 407.7h0.6v0.6h-0.6zM381.2 410.0h0.6v0.6h-0.6zM375.5 407.7h0.6v0.6h-0.6zM373.1 410.4h0.6v0.6h-0.6zM381.4 410.3h0.6v0.6h-0.6zM372.0 414.3h0.6v0.6h-0.6zM388.3 409.3h0.6v0.6h-0.6zM390.7 404.3h0.6v0.6h-0.6zM388.9 408.9h0.6v0.6h-0.6zM374.7 415.9h0.6v0.6h-0.6zM383.1 411.2h0.6v0.6h-0.6zM382.9 407.5h0.6v0.6h-0.6zM375.1 413.3h0.6v0.6h-0.6zM374.5 411.2h0.6v0.6h-0.6zM379.9 409.6h0.6v0.6h-0.6zM379.0 404.3h0.6v0.6h-0.6zM386.6 401.8h0.6v0.6h-0.6zM377.7 410.9h0.6v0.6h-0.6zM390.9 408.3h0.6v0.6h-0.6zM396.6 402.3h0.6v0.6h-0.6zM388.0 410.4h0.6v0.6h-0.6zM385.5 405.4h0.6v0.6h-0.6zM386.3 405.6h0.6v0.6h-0.6zM381.2 412.1h0.6v0.6h-0.6zM375.5 409.6h0.6v0.6h-0.6zM361.5 416.1h0.6v0.6h-0.6zM385.1 407.7h0.6v0.6h-0.6zM377.8 405.6h0.6v0.6h-0.6zM372.6 413.5h0.6v0.6h-0.6zM385.4 408.7h0.6v0.6h-0.6zM385.6 408.2h0.6v0.6h-0.6zM383.9 404.5h0.6v0.6h-0.6zM387.9 405.6h0.6v0.6h-0.6zM385.1 411.4h0.6v0.6h-0.6zM370.9 414.0h0.6v0.6h-0.6zM388.6 403.0h0.6v0.6h-0.6zM379.9 405.0h0.6v0.6h-0.6zM369.8 412.7h0.6v0.6h-0.6zM391.2 410.5h0.6v0.6h-0.6zM370.9 409.3h0.6v0.6h-0.6zM387.6 401.8h0.6v0.6h-0.6zM366.2 416.8h0.6v0.6h-0.6zM373.4 409.6h0.6v0.6h-0.6zM387.1 410.5h0.6v0.6h-0.6zM379.8 404.5h0.6v0.6h-0.6zM385.9 410.6h0.6v0.6h-0.6zM375.2 409.5h0.6v0.6h-0.6zM393.2 403.6h0.6v0.6h-0.6zM381.2 405.6h0.6v0.6h-0.6zM370.1 406.4h0.6v0.6h-0.6zM381.6 408.0h0.6v0.6h-0.6zM375.7 407.8h0.6v0.6h-0.6zM382.6 406.9h0.6v0.6h-0.6zM373.7 411.0h0.6v0.6h-0.6zM388.2 404.3h0.6v0.6h-0.6zM377.3 410.0h0.6v0.6h-0.6zM377.1 405.0h0.6v0.6h-0.6zM382.2 414.7h0.6v0.6h-0.6zM384.8 403.3h0.6v0.6h-0.6zM382.4 410.6h0.6v0.6h-0.6zM383.8 405.1h0.6v0.6h-0.6zM377.7 413.5h0.6v0.6h-0.6zM375.5 411.6h0.6v0.6h-0.6zM373.5 410.7h0.6v0.6h-0.6zM391.1 401.9h0.6v0.6h-0.6zM377.3 413.3h0.6v0.6h-0.6zM389.5 407.7h0.6v0.6h-0.6zM382.5 409.3h0.6v0.6h-0.6zM381.3 408.1h0.6v0.6h-0.6zM379.7 405.9h0.6v0.6h-0.6zM390.1 403.3h0.6v0.6h-0.6zM381.2 406.3h0.6v0.6h-0.6zM377.2 411.9h0.6v0.6h-0.6zM383.7 410.5h0.6v0.6h-0.6zM384.6 403.7h0.6v0.6h-0.6zM375.6 415.3h0.6v0.6h-0.6zM378.2 406.9h0.6v0.6h-0.6zM383.8 406.4h0.6v0.6h-0.6zM386.7 406.4h0.6v0.6h-0.6zM366.7 415.9h0.6v0.6h-0.6zM382.2 410.1h0.6v0.6h-0.6zM372.0 411.4h0.6v0.6h-0.6zM373.1 410.1h0.6v0.6h-0.6zM394.7 409.0h0.6v0.6h-0.6zM395.3 402.3h0.6v0.6h-0.6zM379.9 411.2h0.6v0.6h-0.6zM389.8 409.2h0.6v0.6h-0.6zM379.1 412.4h0.6v0.6h-0.6zM379.3 412.8h0.6v0.6h-0.6zM387.3 410.2h0.6v0.6h-0.6zM375.2 413.1h0.6v0.6h-0.6zM384.9 409.3h0.6v0.6h-0.6zM377.7 407.5h0.6v0.6h-0.6zM378.4 411.8h0.6v0.6h-0.6zM381.1 404.4h0.6v0.6h-0.6zM389.7 404.6h0.6v0.6h-0.6zM375.2 408.7h0.6v0.6h-0.6zM378.7 405.9h0.6v0.6h-0.6zM386.9 404.0h0.6v0.6h-0.6zM371.7 414.9h0.6v0.6h-0.6zM388.6 402.5h0.6v0.6h-0.6zM381.9 409.8h0.6v0.6h-0.6zM382.4 408.9h0.6v0.6h-0.6zM382.4 411.3h0.6v0.6h-0.6zM381.4 411.6h0.6v0.6h-0.6zM385.0 406.8h0.6v0.6h-0.6zM382.3 408.8h0.6v0.6h-0.6zM376.0 413.5h0.6v0.6h-0.6zM381.3 411.5h0.6v0.6h-0.6zM386.5 404.6h0.6v0.6h-0.6zM388.3 404.6h0.6v0.6h-0.6zM378.8 410.6h0.6v0.6h-0.6zM389.1 407.9h0.6v0.6h-0.6zM384.4 407.9h0.6v0.6h-0.6zM384.7 411.0h0.6v0.6h-0.6zM385.6 414.6h0.6v0.6h-0.6zM378.4 408.7h0.6v0.6h-0.6zM388.5 409.2h0.6v0.6h-0.6zM369.8 412.7h0.6v0.6h-0.6zM381.0 406.8h0.6v0.6h-0.6zM374.8 406.7h0.6v0.6h-0.6zM377.2 406.9h0.6v0.6h-0.6zM374.3 410.9h0.6v0.6h-0.6zM377.8 412.3h0.6v0.6h-0.6zM381.8 406.6h0.6v0.6h-0.6zM376.6 415.2h0.6v0.6h-0.6zM368.4 415.1h0.6v0.6h-0.6zM381.4 413.7h0.6v0.6h-0.6zM379.2 414.6h0.6v0.6h-0.6zM366.7 411.0h0.6v0.6h-0.6zM381.9 404.5h0.6v0.6h-0.6zM372.8 413.3h0.6v0.6h-0.6zM387.2 411.1h0.6v0.6h-0.6zM378.1 409.0h0.6v0.6h-0.6zM390.2 410.6h0.6v0.6h-0.6zM371.3 418.7h0.6v0.6h-0.6zM371.7 413.0h0.6v0.6h-0.6zM381.5 410.4h0.6v0.6h-0.6zM385.7 411.9h0.6v0.6h-0.6zM373.8 411.8h0.6v0.6h-0.6zM383.5 412.9h0.6v0.6h-0.6zM381.3 406.8h0.6v0.6h-0.6zM377.2 407.1h0.6v0.6h-0.6zM382.7 406.8h0.6v0.6h-0.6zM365.7 416.5h0.6v0.6h-0.6zM378.7 411.4h0.6v0.6h-0.6zM385.0 405.2h0.6v0.6h-0.6zM373.0 411.2h0.6v0.6h-0.6zM381.9 415.4h0.6v0.6h-0.6zM392.3 402.7h0.6v0.6h-0.6zM384.1 407.2h0.6v0.6h-0.6zM380.7 409.4h0.6v0.6h-0.6zM383.1 404.5h0.6v0.6h-0.6zM379.2 409.5h0.6v0.6h-0.6zM374.7 413.4h0.6v0.6h-0.6zM384.6 407.5h0.6v0.6h-0.6zM394.5 408.2h0.6v0.6h-0.6zM388.6 406.4h0.6v0.6h-0.6zM383.1 403.6h0.6v0.6h-0.6zM384.8 408.5h0.6v0.6h-0.6zM376.3 407.4h0.6v0.6h-0.6zM371.0 417.1h0.6v0.6h-0.6zM390.4 407.4h0.6v0.6h-0.6zM373.6 407.5h0.6v0.6h-0.6zM365.8 416.5h0.6v0.6h-0.6zM385.6 405.4h0.6v0.6h-0.6zM386.3 409.2h0.6v0.6h-0.6zM391.0 407.8h0.6v0.6h-0.6zM374.2 406.4h0.6v0.6h-0.6zM384.2 404.5h0.6v0.6h-0.6zM392.6 404.4h0.6v0.6h-0.6zM376.0 407.5h0.6v0.6h-0.6zM376.2 410.1h0.6v0.6h-0.6zM380.0 405.4h0.6v0.6h-0.6zM374.4 408.3h0.6v0.6h-0.6zM369.0 414.6h0.6v0.6h-0.6zM378.9 415.2h0.6v0.6h-0.6zM381.7 408.9h0.6v0.6h-0.6zM389.4 400.0h0.6v0.6h-0.6zM380.3 410.8h0.6v0.6h-0.6zM396.1 403.5h0.6v0.6h-0.6zM382.7 402.7h0.6v0.6h-0.6zM373.5 410.4h0.6v0.6h-0.6zM380.9 400.4h0.6v0.6h-0.6zM375.2 411.5h0.6v0.6h-0.6zM379.5 421.4h0.6v0.6h-0.6zM373.0 411.0h0.6v0.6h-0.6zM373.3 409.9h0.6v0.6h-0.6zM371.0 415.8h0.6v0.6h-0.6zM377.7 415.7h0.6v0.6h-0.6zM372.7 413.7h0.6v0.6h-0.6zM392.9 394.4h0.6v0.6h-0.6zM386.3 411.7h0.6v0.6h-0.6zM375.4 413.4h0.6v0.6h-0.6zM381.5 414.2h0.6v0.6h-0.6zM371.5 412.3h0.6v0.6h-0.6zM376.7 412.6h0.6v0.6h-0.6zM377.9 415.4h0.6v0.6h-0.6zM378.7 410.2h0.6v0.6h-0.6zM373.9 416.2h0.6v0.6h-0.6zM389.4 405.6h0.6v0.6h-0.6zM377.2 407.6h0.6v0.6h-0.6zM377.1 412.8h0.6v0.6h-0.6zM384.1 412.6h0.6v0.6h-0.6zM390.7 412.1h0.6v0.6h-0.6zM376.5 409.5h0.6v0.6h-0.6zM390.6 406.6h0.6v0.6h-0.6zM392.4 404.1h0.6v0.6h-0.6zM381.0 406.3h0.6v0.6h-0.6zM383.3 409.5h0.6v0.6h-0.6zM398.2 404.2h0.6v0.6h-0.6zM376.4 408.2h0.6v0.6h-0.6zM372.9 416.2h0.6v0.6h-0.6zM384.0 403.6h0.6v0.6h-0.6zM382.3 407.9h0.6v0.6h-0.6zM379.3 415.8h0.6v0.6h-0.6zM390.1 406.5h0.6v0.6h-0.6zM376.5 415.1h0.6v0.6h-0.6zM371.4 413.1h0.6v0.6h-0.6zM374.5 408.5h0.6v0.6h-0.6zM381.2 412.5h0.6v0.6h-0.6zM372.3 416.7h0.6v0.6h-0.6zM379.3 406.9h0.6v0.6h-0.6zM384.4 411.4h0.6v0.6h-0.6zM387.7 405.6h0.6v0.6h-0.6zM385.5 408.4h0.6v0.6h-0.6zM381.1 410.1h0.6v0.6h-0.6zM375.2 408.7h0.6v0.6h-0.6zM364.9 413.6h0.6v0.6h-0.6zM375.6 413.5h0.6v0.6h-0.6zM384.2 412.3h0.6v0.6h-0.6zM382.6 405.9h0.6v0.6h-0.6zM376.5 408.5h0.6v0.6h-0.6zM375.4 413.1h0.6v0.6h-0.6zM389.2 405.9h0.6v0.6h-0.6zM383.7 406.1h0.6v0.6h-0.6zM371.6 412.5h0.6v0.6h-0.6zM382.9 411.4h0.6v0.6h-0.6zM370.0 412.5h0.6v0.6h-0.6zM392.4 403.7h0.6v0.6h-0.6zM383.2 408.7h0.6v0.6h-0.6zM387.4 400.9h0.6v0.6h-0.6zM377.6 411.9h0.6v0.6h-0.6zM384.8 407.3h0.6v0.6h-0.6zM377.3 414.7h0.6v0.6h-0.6zM373.5 411.5h0.6v0.6h-0.6zM394.4 407.5h0.6v0.6h-0.6zM380.7 407.3h0.6v0.6h-0.6zM386.9 408.6h0.6v0.6h-0.6zM368.3 414.8h0.6v0.6h-0.6zM371.5 408.8h0.6v0.6h-0.6zM382.6 408.8h0.6v0.6h-0.6zM372.6 412.3h0.6v0.6h-0.6zM381.9 409.5h0.6v0.6h-0.6zM388.1 408.6h0.6v0.6h-0.6zM372.2 413.8h0.6v0.6h-0.6zM385.0 411.3h0.6v0.6h-0.6zM373.3 415.7h0.6v0.6h-0.6zM369.1 414.6h0.6v0.6h-0.6zM385.7 409.9h0.6v0.6h-0.6zM381.1 414.4h0.6v0.6h-0.6zM387.1 414.1h0.6v0.6h-0.6zM381.6 411.5h0.6v0.6h-0.6zM392.9 404.9h0.6v0.6h-0.6zM384.8 408.5h0.6v0.6h-0.6zM392.4 405.5h0.6v0.6h-0.6zM381.5 401.7h0.6v0.6h-0.6zM389.2 407.4h0.6v0.6h-0.6zM386.3 400.5h0.6v0.6h-0.6zM382.3 406.8h0.6v0.6h-0.6zM381.9 412.3h0.6v0.6h-0.6zM388.4 404.1h0.6v0.6h-0.6zM374.5 405.6h0.6v0.6h-0.6zM377.9 412.9h0.6v0.6h-0.6zM382.8 407.3h0.6v0.6h-0.6zM372.8 413.3h0.6v0.6h-0.6zM363.9 421.1h0.6v0.6h-0.6zM395.4 400.3h0.6v0.6h-0.6zM391.7 407.8h0.6v0.6h-0.6zM387.7 404.5h0.6v0.6h-0.6zM388.0 405.8h0.6v0.6h-0.6zM379.1 410.1h0.6v0.6h-0.6zM371.7 411.2h0.6v0.6h-0.6zM382.3 406.9h0.6v0.6h-0.6zM374.1 410.8h0.6v0.6h-0.6zM375.3 409.6h0.6v0.6h-0.6zM377.1 413.4h0.6v0.6h-0.6zM381.5 410.5h0.6v0.6h-0.6zM373.7 423.4h0.6v0.6h-0.6zM376.3 412.5h0.6v0.6h-0.6zM393.8 402.4h0.6v0.6h-0.6zM376.4 416.9h0.6v0.6h-0.6zM371.0 412.5h0.6v0.6h-0.6zM382.4 405.2h0.6v0.6h-0.6zM389.2 403.0h0.6v0.6h-0.6zM372.4 419.2h0.6v0.6h-0.6zM388.6 406.9h0.6v0.6h-0.6zM378.6 408.1h0.6v0.6h-0.6zM374.6 411.0h0.6v0.6h-0.6zM385.9 406.5h0.6v0.6h-0.6zM391.3 404.4h0.6v0.6h-0.6zM380.5 409.0h0.6v0.6h-0.6zM373.7 408.9h0.6v0.6h-0.6zM381.7 411.7h0.6v0.6h-0.6zM371.2 403.8h0.6v0.6h-0.6zM389.1 402.5h0.6v0.6h-0.6zM384.4 410.0h0.6v0.6h-0.6zM389.7 404.7h0.6v0.6h-0.6zM373.2 406.6h0.6v0.6h-0.6zM380.6 408.4h0.6v0.6h-0.6zM393.4 402.7h0.6v0.6h-0.6zM381.9 406.8h0.6v0.6h-0.6zM378.9 413.5h0.6v0.6h-0.6zM382.8 404.1h0.6v0.6h-0.6zM369.8 413.3h0.6v0.6h-0.6zM385.6 407.4h0.6v0.6h-0.6zM379.6 414.5h0.6v0.6h-0.6zM388.9 409.1h0.6v0.6h-0.6zM383.1 407.7h0.6v0.6h-0.6zM379.4 408.2h0.6v0.6h-0.6zM380.2 413.5h0.6v0.6h-0.6zM389.2 406.6h0.6v0.6h-0.6zM381.4 408.2h0.6v0.6h-0.6zM375.9 408.6h0.6v0.6h-0.6zM380.4 410.4h0.6v0.6h-0.6zM380.8 408.8h0.6v0.6h-0.6zM375.7 413.1h0.6v0.6h-0.6zM384.8 408.8h0.6v0.6h-0.6zM371.5 413.0h0.6v0.6h-0.6zM375.0 416.6h0.6v0.6h-0.6zM374.9 410.5h0.6v0.6h-0.6zM376.1 411.1h0.6v0.6h-0.6zM385.8 406.8h0.6v0.6h-0.6zM381.4 416.0h0.6v0.6h-0.6zM384.5 407.9h0.6v0.6h-0.6zM374.4 406.6h0.6v0.6h-0.6zM382.6 406.8h0.6v0.6h-0.6zM388.0 408.6h0.6v0.6h-0.6zM388.3 407.3h0.6v0.6h-0.6zM382.6 409.3h0.6v0.6h-0.6zM388.3 401.9h0.6v0.6h-0.6zM381.3 407.3h0.6v0.6h-0.6zM382.2 407.0h0.6v0.6h-0.6zM382.5 406.8h0.6v0.6h-0.6zM383.5 412.6h0.6v0.6h-0.6zM367.7 415.2h0.6v0.6h-0.6zM385.0 407.3h0.6v0.6h-0.6zM392.8 413.0h0.6v0.6h-0.6zM390.7 404.0h0.6v0.6h-0.6zM376.4 410.4h0.6v0.6h-0.6zM376.1 411.5h0.6v0.6h-0.6zM381.3 411.5h0.6v0.6h-0.6zM377.8 410.1h0.6v0.6h-0.6zM380.2 410.2h0.6v0.6h-0.6zM390.7 405.9h0.6v0.6h-0.6zM379.3 412.7h0.6v0.6h-0.6zM382.0 406.6h0.6v0.6h-0.6zM370.5 411.3h0.6v0.6h-0.6zM383.3 408.1h0.6v0.6h-0.6zM377.1 410.1h0.6v0.6h-0.6zM377.3 410.0h0.6v0.6h-0.6zM388.9 407.2h0.6v0.6h-0.6zM384.7 408.1h0.6v0.6h-0.6zM378.4 407.5h0.6v0.6h-0.6zM370.3 415.6h0.6v0.6h-0.6zM383.2 405.7h0.6v0.6h-0.6zM386.4 410.6h0.6v0.6h-0.6zM390.8 404.3h0.6v0.6h-0.6zM379.0 408.2h0.6v0.6h-0.6zM386.8 403.2h0.6v0.6h-0.6zM389.9 405.8h0.6v0.6h-0.6zM380.4 408.3h0.6v0.6h-0.6zM384.8 407.9h0.6v0.6h-0.6zM368.4 412.0h0.6v0.6h-0.6zM385.5 402.1h0.6v0.6h-0.6zM370.4 412.4h0.6v0.6h-0.6zM384.0 403.6h0.6v0.6h-0.6zM375.8 411.0h0.6v0.6h-0.6zM374.6 412.3h0.6v0.6h-0.6zM380.7 408.5h0.6v0.6h-0.6zM378.0 409.8h0.6v0.6h-0.6zM389.2 409.8h0.6v0.6h-0.6zM384.4 408.9h0.6v0.6h-0.6zM382.2 412.7h0.6v0.6h-0.6zM376.2 412.5h0.6v0.6h-0.6zM381.1 410.9h0.6v0.6h-0.6zM390.4 408.0h0.6v0.6h-0.6zM381.9 406.0h0.6v0.6h-0.6zM388.7 401.8h0.6v0.6h-0.6zM378.6 408.5h0.6v0.6h-0.6zM378.1 405.0h0.6v0.6h-0.6zM380.5 412.0h0.6v0.6h-0.6zM388.4 408.0h0.6v0.6h-0.6zM369.1 415.5h0.6v0.6h-0.6zM373.0 407.5h0.6v0.6h-0.6zM368.8 418.7h0.6v0.6h-0.6zM368.7 411.7h0.6v0.6h-0.6zM389.5 405.0h0.6v0.6h-0.6zM378.7 411.3h0.6v0.6h-0.6zM385.4 408.3h0.6v0.6h-0.6zM370.5 419.1h0.6v0.6h-0.6zM368.1 420.7h0.6v0.6h-0.6zM383.4 407.2h0.6v0.6h-0.6zM390.9 403.6h0.6v0.6h-0.6zM372.7 418.0h0.6v0.6h-0.6zM382.3 404.3h0.6v0.6h-0.6zM387.4 413.9h0.6v0.6h-0.6zM374.7 410.9h0.6v0.6h-0.6zM380.3 407.1h0.6v0.6h-0.6zM379.1 411.6h0.6v0.6h-0.6zM389.4 404.7h0.6v0.6h-0.6zM378.0 411.4h0.6v0.6h-0.6zM380.6 413.5h0.6v0.6h-0.6zM375.7 415.9h0.6v0.6h-0.6zM387.2 406.4h0.6v0.6h-0.6zM400.7 402.0h0.6v0.6h-0.6zM372.6 411.4h0.6v0.6h-0.6zM392.7 403.4h0.6v0.6h-0.6zM378.3 411.8h0.6v0.6h-0.6zM381.8 409.5h0.6v0.6h-0.6zM381.1 407.7h0.6v0.6h-0.6zM389.3 411.7h0.6v0.6h-0.6zM394.7 402.5h0.6v0.6h-0.6zM396.2 410.2h0.6v0.6h-0.6zM386.7 406.0h0.6v0.6h-0.6zM388.3 407.9h0.6v0.6h-0.6zM385.4 408.9h0.6v0.6h-0.6zM379.8 409.7h0.6v0.6h-0.6zM381.7 406.6h0.6v0.6h-0.6zM382.4 405.3h0.6v0.6h-0.6zM382.2 409.4h0.6v0.6h-0.6zM382.7 413.3h0.6v0.6h-0.6zM382.7 405.6h0.6v0.6h-0.6zM380.6 409.3h0.6v0.6h-0.6zM372.4 409.1h0.6v0.6h-0.6zM387.2 410.7h0.6v0.6h-0.6zM371.5 415.7h0.6v0.6h-0.6zM391.1 403.5h0.6v0.6h-0.6zM382.6 410.9h0.6v0.6h-0.6zM378.8 415.2h0.6v0.6h-0.6zM388.5 410.0h0.6v0.6h-0.6zM383.9 406.7h0.6v0.6h-0.6zM385.0 413.8h0.6v0.6h-0.6zM378.2 414.3h0.6v0.6h-0.6zM375.9 411.6h0.6v0.6h-0.6zM382.5 407.2h0.6v0.6h-0.6zM372.4 415.2h0.6v0.6h-0.6zM377.0 413.7h0.6v0.6h-0.6zM392.5 409.5h0.6v0.6h-0.6zM391.9 403.5h0.6v0.6h-0.6zM382.7 407.9h0.6v0.6h-0.6zM388.5 403.7h0.6v0.6h-0.6zM392.0 403.1h0.6v0.6h-0.6zM386.0 405.7h0.6v0.6h-0.6zM379.9 408.5h0.6v0.6h-0.6zM371.5 414.7h0.6v0.6h-0.6zM382.3 413.3h0.6v0.6h-0.6zM387.3 405.7h0.6v0.6h-0.6zM384.7 406.5h0.6v0.6h-0.6zM374.1 407.8h0.6v0.6h-0.6zM384.2 408.8h0.6v0.6h-0.6zM390.7 405.8h0.6v0.6h-0.6zM372.0 413.2h0.6v0.6h-0.6zM392.3 406.4h0.6v0.6h-0.6zM389.1 411.9h0.6v0.6h-0.6zM388.7 402.3h0.6v0.6h-0.6zM379.2 412.9h0.6v0.6h-0.6zM392.0 400.8h0.6v0.6h-0.6zM383.6 415.0h0.6v0.6h-0.6zM386.4 411.3h0.6v0.6h-0.6zM380.4 406.2h0.6v0.6h-0.6zM372.2 413.1h0.6v0.6h-0.6zM377.9 410.1h0.6v0.6h-0.6zM376.0 412.1h0.6v0.6h-0.6zM385.5 410.3h0.6v0.6h-0.6zM385.3 403.8h0.6v0.6h-0.6zM387.0 408.4h0.6v0.6h-0.6zM380.3 412.2h0.6v0.6h-0.6zM382.1 407.0h0.6v0.6h-0.6zM373.5 409.2h0.6v0.6h-0.6zM373.0 411.7h0.6v0.6h-0.6zM377.0 408.9h0.6v0.6h-0.6zM379.3 410.5h0.6v0.6h-0.6zM381.1 406.6h0.6v0.6h-0.6zM389.0 404.2h0.6v0.6h-0.6zM383.5 404.2h0.6v0.6h-0.6zM388.9 398.5h0.6v0.6h-0.6zM377.4 415.1h0.6v0.6h-0.6zM382.7 410.6h0.6v0.6h-0.6zM383.8 409.2h0.6v0.6h-0.6zM390.6 408.0h0.6v0.6h-0.6zM376.0 411.2h0.6v0.6h-0.6zM382.5 409.9h0.6v0.6h-0.6zM388.7 413.3h0.6v0.6h-0.6zM378.2 409.4h0.6v0.6h-0.6zM383.9 407.5h0.6v0.6h-0.6zM385.1 412.4h0.6v0.6h-0.6zM381.0 409.0h0.6v0.6h-0.6zM384.7 403.8h0.6v0.6h-0.6zM384.8 407.7h0.6v0.6h-0.6zM380.6 409.4h0.6v0.6h-0.6zM374.2 410.6h0.6v0.6h-0.6zM387.2 410.2h0.6v0.6h-0.6zM375.2 411.3h0.6v0.6h-0.6zM374.2 405.9h0.6v0.6h-0.6zM375.5 409.1h0.6v0.6h-0.6zM382.2 411.4h0.6v0.6h-0.6zM381.3 410.8h0.6v0.6h-0.6zM376.1 410.8h0.6v0.6h-0.6zM390.2 401.1h0.6v0.6h-0.6zM392.3 404.4h0.6v0.6h-0.6zM367.3 419.4h0.6v0.6h-0.6zM379.7 415.8h0.6v0.6h-0.6zM376.2 410.7h0.6v0.6h-0.6zM365.9 420.8h0.6v0.6h-0.6zM384.3 405.3h0.6v0.6h-0.6zM378.3 413.8h0.6v0.6h-0.6zM374.3 416.5h0.6v0.6h-0.6zM373.7 415.1h0.6v0.6h-0.6zM375.0 410.6h0.6v0.6h-0.6zM385.5 406.0h0.6v0.6h-0.6zM366.1 416.6h0.6v0.6h-0.6zM380.0 406.6h0.6v0.6h-0.6zM363.4 420.8h0.6v0.6h-0.6zM379.2 410.8h0.6v0.6h-0.6zM370.6 416.1h0.6v0.6h-0.6zM372.1 407.7h0.6v0.6h-0.6zM378.2 411.5h0.6v0.6h-0.6zM384.7 400.7h0.6v0.6h-0.6zM382.5 409.5h0.6v0.6h-0.6zM373.8 417.5h0.6v0.6h-0.6zM377.7 407.5h0.6v0.6h-0.6zM386.4 409.7h0.6v0.6h-0.6zM389.6 408.4h0.6v0.6h-0.6zM389.8 407.9h0.6v0.6h-0.6zM373.5 412.6h0.6v0.6h-0.6zM361.0 414.2h0.6v0.6h-0.6zM370.5 415.7h0.6v0.6h-0.6zM373.9 412.7h0.6v0.6h-0.6zM378.6 413.9h0.6v0.6h-0.6zM392.6 406.3h0.6v0.6h-0.6zM379.2 403.5h0.6v0.6h-0.6zM382.2 420.7h0.6v0.6h-0.6zM367.5 412.4h0.6v0.6h-0.6zM380.0 409.8h0.6v0.6h-0.6zM381.2 412.6h0.6v0.6h-0.6zM377.8 406.3h0.6v0.6h-0.6zM361.4 414.9h0.6v0.6h-0.6zM378.6 404.8h0.6v0.6h-0.6zM375.0 408.2h0.6v0.6h-0.6zM376.1 412.1h0.6v0.6h-0.6zM380.7 411.7h0.6v0.6h-0.6zM376.0 406.6h0.6v0.6h-0.6zM380.6 408.7h0.6v0.6h-0.6zM382.2 407.2h0.6v0.6h-0.6zM389.5 408.5h0.6v0.6h-0.6zM382.0 414.8h0.6v0.6h-0.6zM382.7 412.5h0.6v0.6h-0.6zM392.9 410.2h0.6v0.6h-0.6zM379.6 409.6h0.6v0.6h-0.6zM385.8 408.8h0.6v0.6h-0.6zM373.3 411.0h0.6v0.6h-0.6zM378.0 415.7h0.6v0.6h-0.6zM380.8 409.4h0.6v0.6h-0.6zM380.9 407.3h0.6v0.6h-0.6zM373.6 410.3h0.6v0.6h-0.6zM386.7 409.4h0.6v0.6h-0.6zM368.6 418.4h0.6v0.6h-0.6zM374.7 411.3h0.6v0.6h-0.6zM366.5 422.9h0.6v0.6h-0.6zM366.2 408.4h0.6v0.6h-0.6zM378.8 401.8h0.6v0.6h-0.6zM385.7 409.8h0.6v0.6h-0.6zM373.1 420.5h0.6v0.6h-0.6zM385.8 415.6h0.6v0.6h-0.6zM377.3 412.4h0.6v0.6h-0.6zM364.6 421.9h0.6v0.6h-0.6zM371.2 422.3h0.6v0.6h-0.6zM377.9 417.4h0.6v0.6h-0.6zM376.2 417.3h0.6v0.6h-0.6zM378.8 416.8h0.6v0.6h-0.6zM362.9 423.2h0.6v0.6h-0.6zM374.5 419.5h0.6v0.6h-0.6zM377.0 417.2h0.6v0.6h-0.6zM376.2 406.5h0.6v0.6h-0.6zM375.4 424.9h0.6v0.6h-0.6zM369.5 416.8h0.6v0.6h-0.6zM360.9 431.2h0.6v0.6h-0.6zM378.1 427.2h0.6v0.6h-0.6zM372.6 417.7h0.6v0.6h-0.6zM381.5 418.5h0.6v0.6h-0.6zM374.8 418.0h0.6v0.6h-0.6zM367.4 419.6h0.6v0.6h-0.6zM375.4 412.9h0.6v0.6h-0.6zM367.4 418.8h0.6v0.6h-0.6zM376.9 410.9h0.6v0.6h-0.6zM362.6 424.1h0.6v0.6h-0.6zM379.2 413.8h0.6v0.6h-0.6zM384.4 419.6h0.6v0.6h-0.6zM376.3 401.9h0.6v0.6h-0.6zM376.5 402.9h0.6v0.6h-0.6zM369.1 416.7h0.6v0.6h-0.6zM381.7 418.4h0.6v0.6h-0.6zM393.6 399.6h0.6v0.6h-0.6zM375.9 416.4h0.6v0.6h-0.6zM365.4 422.7h0.6v0.6h-0.6zM363.3 428.9h0.6v0.6h-0.6zM372.4 410.6h0.6v0.6h-0.6zM367.7 417.7h0.6v0.6h-0.6zM369.0 411.5h0.6v0.6h-0.6zM381.5 411.8h0.6v0.6h-0.6zM370.9 415.7h0.6v0.6h-0.6zM368.9 415.7h0.6v0.6h-0.6zM383.2 413.2h0.6v0.6h-0.6zM378.4 419.7h0.6v0.6h-0.6zM371.1 421.0h0.6v0.6h-0.6zM375.0 417.7h0.6v0.6h-0.6zM378.4 416.9h0.6v0.6h-0.6zM370.0 422.0h0.6v0.6h-0.6zM381.7 402.6h0.6v0.6h-0.6zM382.3 408.3h0.6v0.6h-0.6zM379.5 412.4h0.6v0.6h-0.6zM373.4 420.8h0.6v0.6h-0.6zM367.5 427.3h0.6v0.6h-0.6zM379.0 423.2h0.6v0.6h-0.6zM361.7 430.2h0.6v0.6h-0.6zM371.5 414.9h0.6v0.6h-0.6zM376.5 415.2h0.6v0.6h-0.6zM385.4 406.4h0.6v0.6h-0.6zM376.8 401.5h0.6v0.6h-0.6zM363.0 423.8h0.6v0.6h-0.6zM377.1 408.7h0.6v0.6h-0.6zM381.2 417.4h0.6v0.6h-0.6zM370.8 413.2h0.6v0.6h-0.6zM383.4 414.9h0.6v0.6h-0.6zM376.6 417.0h0.6v0.6h-0.6zM371.2 418.1h0.6v0.6h-0.6zM374.4 417.8h0.6v0.6h-0.6zM375.1 425.1h0.6v0.6h-0.6zM356.8 436.8h0.6v0.6h-0.6zM365.2 426.1h0.6v0.6h-0.6zM369.5 418.3h0.6v0.6h-0.6zM369.1 419.4h0.6v0.6h-0.6zM366.7 420.6h0.6v0.6h-0.6zM365.3 428.1h0.6v0.6h-0.6zM360.8 437.4h0.6v0.6h-0.6zM364.9 431.7h0.6v0.6h-0.6zM369.2 421.1h0.6v0.6h-0.6zM364.5 431.3h0.6v0.6h-0.6zM366.5 427.6h0.6v0.6h-0.6zM367.2 424.8h0.6v0.6h-0.6zM369.6 420.7h0.6v0.6h-0.6zM367.6 420.4h0.6v0.6h-0.6zM368.3 423.4h0.6v0.6h-0.6zM371.6 421.7h0.6v0.6h-0.6zM367.7 429.2h0.6v0.6h-0.6zM358.0 429.5h0.6v0.6h-0.6zM367.9 425.0h0.6v0.6h-0.6zM370.5 419.5h0.6v0.6h-0.6zM370.2 418.0h0.6v0.6h-0.6zM374.6 419.3h0.6v0.6h-0.6zM358.5 434.8h0.6v0.6h-0.6zM367.4 416.4h0.6v0.6h-0.6zM369.7 422.7h0.6v0.6h-0.6zM374.2 413.2h0.6v0.6h-0.6zM370.1 418.6h0.6v0.6h-0.6zM365.1 423.6h0.6v0.6h-0.6zM362.7 429.6h0.6v0.6h-0.6zM369.5 421.5h0.6v0.6h-0.6zM369.4 429.8h0.6v0.6h-0.6zM368.1 423.5h0.6v0.6h-0.6zM371.7 417.0h0.6v0.6h-0.6zM372.4 419.0h0.6v0.6h-0.6zM367.9 422.9h0.6v0.6h-0.6zM358.2 430.0h0.6v0.6h-0.6zM370.5 423.0h0.6v0.6h-0.6zM362.0 428.3h0.6v0.6h-0.6zM370.1 423.3h0.6v0.6h-0.6zM370.3 421.5h0.6v0.6h-0.6zM371.1 421.5h0.6v0.6h-0.6zM368.4 417.3h0.6v0.6h-0.6zM370.4 417.2h0.6v0.6h-0.6zM359.5 441.5h0.6v0.6h-0.6zM356.6 441.0h0.6v0.6h-0.6zM347.8 450.9h0.6v0.6h-0.6zM357.5 441.6h0.6v0.6h-0.6zM359.5 434.5h0.6v0.6h-0.6zM368.7 421.3h0.6v0.6h-0.6zM366.0 421.4h0.6v0.6h-0.6zM365.8 421.7h0.6v0.6h-0.6zM366.1 424.0h0.6v0.6h-0.6zM368.5 421.1h0.6v0.6h-0.6zM363.7 429.1h0.6v0.6h-0.6zM374.7 418.5h0.6v0.6h-0.6zM372.5 415.2h0.6v0.6h-0.6z" fill="#962a24" fill-opacity="0.7"/>
<path d="M371.2 415.0h0.6v0.6h-0.6zM388.6 405.2h0.6v0.6h-0.6zM373.3 415.6h0.6v0.6h-0.6zM381.4 408.2h0.6v0.6h-0.6zM379.1 408.8h0.6v0.6h-0.6zM382.5 404.9h0.6v0.6h-0.6zM381.8 411.7h0.6v0.6h-0.6zM377.4 412.9h0.6v0.6h-0.6zM382.9 406.6h0.6v0.6h-0.6zM372.6 412.4h0.6v0.6h-0.6zM383.9 416.1h0.6v0.6h-0.6zM385.4 407.2h0.6v0.6h-0.6zM374.6 412.7h0.6v0.6h-0.6zM392.4 405.5h0.6v0.6h-0.6zM379.7 411.1h0.6v0.6h-0.6zM379.3 410.0h0.6v0.6h-0.6zM390.9 403.2h0.6v0.6h-0.6zM379.4 407.2h0.6v0.6h-0.6zM396.7 414.0h0.6v0.6h-0.6zM373.1 412.9h0.6v0.6h-0.6zM386.9 413.1h0.6v0.6h-0.6zM387.1 406.6h0.6v0.6h-0.6zM387.3 406.9h0.6v0.6h-0.6zM389.0 405.0h0.6v0.6h-0.6zM377.5 413.8h0.6v0.6h-0.6zM375.5 408.0h0.6v0.6h-0.6zM379.8 413.4h0.6v0.6h-0.6zM373.5 414.9h0.6v0.6h-0.6zM377.4 410.1h0.6v0.6h-0.6zM400.7 401.1h0.6v0.6h-0.6zM385.6 402.4h0.6v0.6h-0.6zM389.0 410.1h0.6v0.6h-0.6zM374.3 413.8h0.6v0.6h-0.6zM394.3 402.5h0.6v0.6h-0.6zM379.2 413.3h0.6v0.6h-0.6zM372.7 413.2h0.6v0.6h-0.6zM376.5 412.5h0.6v0.6h-0.6zM377.7 406.0h0.6v0.6h-0.6zM381.3 409.6h0.6v0.6h-0.6zM381.6 408.8h0.6v0.6h-0.6zM375.8 409.7h0.6v0.6h-0.6zM383.9 404.0h0.6v0.6h-0.6zM376.3 410.9h0.6v0.6h-0.6zM382.8 410.9h0.6v0.6h-0.6zM383.4 411.6h0.6v0.6h-0.6zM376.6 413.7h0.6v0.6h-0.6zM372.9 411.3h0.6v0.6h-0.6zM372.5 416.2h0.6v0.6h-0.6zM386.2 405.6h0.6v0.6h-0.6zM383.4 410.3h0.6v0.6h-0.6zM379.5 411.4h0.6v0.6h-0.6zM370.7 411.2h0.6v0.6h-0.6zM375.4 415.8h0.6v0.6h-0.6zM383.3 408.4h0.6v0.6h-0.6zM373.8 413.8h0.6v0.6h-0.6zM373.7 413.9h0.6v0.6h-0.6zM382.8 414.4h0.6v0.6h-0.6zM379.6 412.6h0.6v0.6h-0.6zM390.5 405.3h0.6v0.6h-0.6zM387.1 404.5h0.6v0.6h-0.6zM382.6 406.0h0.6v0.6h-0.6zM388.2 406.0h0.6v0.6h-0.6zM386.8 409.9h0.6v0.6h-0.6zM387.5 403.5h0.6v0.6h-0.6zM374.8 408.2h0.6v0.6h-0.6zM385.9 404.6h0.6v0.6h-0.6zM377.6 413.7h0.6v0.6h-0.6zM375.1 409.5h0.6v0.6h-0.6zM378.3 408.0h0.6v0.6h-0.6zM378.6 410.4h0.6v0.6h-0.6zM373.8 410.5h0.6v0.6h-0.6zM384.6 413.6h0.6v0.6h-0.6zM370.7 410.6h0.6v0.6h-0.6zM365.7 420.6h0.6v0.6h-0.6zM384.2 408.9h0.6v0.6h-0.6zM382.5 408.0h0.6v0.6h-0.6zM391.2 405.4h0.6v0.6h-0.6zM375.9 409.1h0.6v0.6h-0.6zM374.0 411.7h0.6v0.6h-0.6zM391.3 396.6h0.6v0.6h-0.6zM378.0 410.7h0.6v0.6h-0.6zM388.2 405.3h0.6v0.6h-0.6zM394.4 404.5h0.6v0.6h-0.6zM378.9 409.8h0.6v0.6h-0.6zM384.6 409.7h0.6v0.6h-0.6zM392.7 403.2h0.6v0.6h-0.6zM384.5 411.3h0.6v0.6h-0.6zM376.4 414.2h0.6v0.6h-0.6zM374.5 407.4h0.6v0.6h-0.6zM379.0 409.9h0.6v0.6h-0.6zM381.1 414.3h0.6v0.6h-0.6zM393.1 409.8h0.6v0.6h-0.6zM377.7 409.5h0.6v0.6h-0.6zM375.3 410.0h0.6v0.6h-0.6zM373.9 412.5h0.6v0.6h-0.6zM369.1 409.0h0.6v0.6h-0.6zM364.0 416.3h0.6v0.6h-0.6zM373.1 414.7h0.6v0.6h-0.6zM380.6 409.0h0.6v0.6h-0.6zM383.8 404.9h0.6v0.6h-0.6zM384.7 411.3h0.6v0.6h-0.6zM380.1 412.4h0.6v0.6h-0.6zM370.2 414.0h0.6v0.6h-0.6zM377.4 404.3h0.6v0.6h-0.6zM386.9 402.2h0.6v0.6h-0.6zM383.3 408.8h0.6v0.6h-0.6zM374.4 415.7h0.6v0.6h-0.6zM389.0 403.9h0.6v0.6h-0.6zM377.3 405.8h0.6v0.6h-0.6zM374.6 410.3h0.6v0.6h-0.6zM389.1 405.0h0.6v0.6h-0.6zM380.5 413.5h0.6v0.6h-0.6zM369.2 414.5h0.6v0.6h-0.6zM381.8 405.2h0.6v0.6h-0.6zM370.1 414.5h0.6v0.6h-0.6zM380.8 409.5h0.6v0.6h-0.6zM382.3 412.8h0.6v0.6h-0.6zM382.9 413.3h0.6v0.6h-0.6zM376.5 410.1h0.6v0.6h-0.6zM373.3 413.0h0.6v0.6h-0.6zM394.6 409.3h0.6v0.6h-0.6zM386.4 403.5h0.6v0.6h-0.6zM375.9 412.1h0.6v0.6h-0.6zM376.8 407.6h0.6v0.6h-0.6zM389.8 407.9h0.6v0.6h-0.6zM389.8 406.8h0.6v0.6h-0.6zM383.4 409.4h0.6v0.6h-0.6zM380.8 409.5h0.6v0.6h-0.6zM382.5 408.8h0.6v0.6h-0.6zM375.5 409.1h0.6v0.6h-0.6zM384.7 402.1h0.6v0.6h-0.6zM382.3 406.4h0.6v0.6h-0.6zM377.5 412.2h0.6v0.6h-0.6zM377.7 412.7h0.6v0.6h-0.6zM391.8 400.9h0.6v0.6h-0.6zM379.3 410.9h0.6v0.6h-0.6zM385.5 408.5h0.6v0.6h-0.6zM380.2 407.6h0.6v0.6h-0.6zM388.4 410.2h0.6v0.6h-0.6zM378.1 410.4h0.6v0.6h-0.6zM376.9 409.7h0.6v0.6h-0.6zM368.6 412.0h0.6v0.6h-0.6zM379.8 410.5h0.6v0.6h-0.6zM399.1 407.0h0.6v0.6h-0.6zM378.0 411.6h0.6v0.6h-0.6zM383.5 404.9h0.6v0.6h-0.6zM377.9 410.6h0.6v0.6h-0.6zM386.4 408.8h0.6v0.6h-0.6zM374.7 410.4h0.6v0.6h-0.6zM382.9 408.6h0.6v0.6h-0.6zM386.8 406.5h0.6v0.6h-0.6zM379.6 412.2h0.6v0.6h-0.6zM374.7 410.2h0.6v0.6h-0.6zM386.5 404.2h0.6v0.6h-0.6zM379.4 404.2h0.6v0.6h-0.6zM384.6 406.2h0.6v0.6h-0.6zM378.0 411.2h0.6v0.6h-0.6zM361.9 416.0h0.6v0.6h-0.6zM375.0 417.0h0.6v0.6h-0.6zM390.7 409.1h0.6v0.6h-0.6zM374.8 407.2h0.6v0.6h-0.6zM394.1 400.0h0.6v0.6h-0.6zM380.1 412.3h0.6v0.6h-0.6zM377.1 413.9h0.6v0.6h-0.6zM383.1 412.3h0.6v0.6h-0.6zM375.6 411.2h0.6v0.6h-0.6zM369.8 414.7h0.6v0.6h-0.6zM377.9 409.6h0.6v0.6h-0.6zM386.3 405.1h0.6v0.6h-0.6zM383.0 410.0h0.6v0.6h-0.6zM381.8 405.6h0.6v0.6h-0.6zM386.4 411.2h0.6v0.6h-0.6zM374.0 408.6h0.6v0.6h-0.6zM388.7 408.1h0.6v0.6h-0.6zM379.0 413.8h0.6v0.6h-0.6zM368.2 407.4h0.6v0.6h-0.6zM381.5 414.2h0.6v0.6h-0.6zM380.0 414.9h0.6v0.6h-0.6zM381.1 411.4h0.6v0.6h-0.6zM385.4 408.7h0.6v0.6h-0.6zM380.1 411.4h0.6v0.6h-0.6zM381.4 411.7h0.6v0.6h-0.6zM373.9 408.0h0.6v0.6h-0.6zM375.1 410.4h0.6v0.6h-0.6zM372.4 412.9h0.6v0.6h-0.6zM373.9 418.0h0.6v0.6h-0.6zM374.7 411.7h0.6v0.6h-0.6zM384.2 414.1h0.6v0.6h-0.6zM375.8 409.1h0.6v0.6h-0.6zM378.6 406.7h0.6v0.6h-0.6zM373.5 413.6h0.6v0.6h-0.6zM369.6 414.0h0.6v0.6h-0.6zM385.3 407.6h0.6v0.6h-0.6zM383.6 408.1h0.6v0.6h-0.6zM380.0 413.4h0.6v0.6h-0.6zM379.3 406.4h0.6v0.6h-0.6zM382.1 408.9h0.6v0.6h-0.6zM379.3 407.8h0.6v0.6h-0.6zM392.9 410.0h0.6v0.6h-0.6zM387.4 408.7h0.6v0.6h-0.6zM386.9 406.5h0.6v0.6h-0.6zM372.3 409.7h0.6v0.6h-0.6zM376.7 407.1h0.6v0.6h-0.6zM386.7 407.5h0.6v0.6h-0.6zM374.5 413.0h0.6v0.6h-0.6zM383.6 410.5h0.6v0.6h-0.6zM385.2 410.6h0.6v0.6h-0.6zM388.4 409.0h0.6v0.6h-0.6zM376.4 405.9h0.6v0.6h-0.6zM374.5 416.7h0.6v0.6h-0.6zM370.6 412.4h0.6v0.6h-0.6zM383.6 405.1h0.6v0.6h-0.6zM375.9 406.7h0.6v0.6h-0.6zM385.8 407.4h0.6v0.6h-0.6zM379.7 408.0h0.6v0.6h-0.6zM368.0 413.2h0.6v0.6h-0.6zM378.9 414.2h0.6v0.6h-0.6zM378.5 409.7h0.6v0.6h-0.6zM375.7 410.3h0.6v0.6h-0.6zM382.0 409.7h0.6v0.6h-0.6zM373.5 416.3h0.6v0.6h-0.6zM374.3 411.8h0.6v0.6h-0.6zM394.2 405.3h0.6v0.6h-0.6zM379.9 415.2h0.6v0.6h-0.6zM367.9 412.2h0.6v0.6h-0.6zM371.2 413.1h0.6v0.6h-0.6zM376.8 412.1h0.6v0.6h-0.6zM377.0 409.1h0.6v0.6h-0.6zM367.5 416.7h0.6v0.6h-0.6zM378.1 413.4h0.6v0.6h-0.6zM399.5 399.5h0.6v0.6h-0.6zM370.1 415.4h0.6v0.6h-0.6zM372.6 410.1h0.6v0.6h-0.6zM373.8 415.5h0.6v0.6h-0.6zM383.8 404.1h0.6v0.6h-0.6zM385.3 411.4h0.6v0.6h-0.6zM389.4 406.9h0.6v0.6h-0.6zM396.3 407.3h0.6v0.6h-0.6zM384.0 403.1h0.6v0.6h-0.6zM375.0 413.2h0.6v0.6h-0.6zM387.6 406.2h0.6v0.6h-0.6zM380.7 411.0h0.6v0.6h-0.6zM374.2 409.9h0.6v0.6h-0.6zM385.5 408.9h0.6v0.6h-0.6zM373.7 417.8h0.6v0.6h-0.6zM385.5 411.7h0.6v0.6h-0.6zM385.2 410.3h0.6v0.6h-0.6zM380.8 407.0h0.6v0.6h-0.6zM389.2 410.1h0.6v0.6h-0.6zM381.9 410.5h0.6v0.6h-0.6zM376.8 406.7h0.6v0.6h-0.6zM385.9 412.5h0.6v0.6h-0.6zM379.9 412.6h0.6v0.6h-0.6zM377.9 411.3h0.6v0.6h-0.6zM383.7 408.0h0.6v0.6h-0.6zM379.6 412.3h0.6v0.6h-0.6zM373.7 416.8h0.6v0.6h-0.6zM385.2 406.5h0.6v0.6h-0.6zM377.2 402.7h0.6v0.6h-0.6zM385.8 406.6h0.6v0.6h-0.6zM376.1 417.0h0.6v0.6h-0.6zM382.3 407.3h0.6v0.6h-0.6zM382.1 412.7h0.6v0.6h-0.6zM374.0 404.7h0.6v0.6h-0.6zM378.3 409.4h0.6v0.6h-0.6zM377.9 406.4h0.6v0.6h-0.6zM366.7 411.5h0.6v0.6h-0.6zM389.0 409.4h0.6v0.6h-0.6zM377.1 409.5h0.6v0.6h-0.6zM378.8 411.8h0.6v0.6h-0.6zM378.9 411.6h0.6v0.6h-0.6zM375.9 415.3h0.6v0.6h-0.6zM382.4 405.0h0.6v0.6h-0.6zM370.6 403.7h0.6v0.6h-0.6zM378.5 414.6h0.6v0.6h-0.6zM384.9 408.4h0.6v0.6h-0.6zM378.0 412.1h0.6v0.6h-0.6zM382.1 408.9h0.6v0.6h-0.6zM380.4 413.5h0.6v0.6h-0.6zM381.0 411.1h0.6v0.6h-0.6zM386.7 407.6h0.6v0.6h-0.6zM388.4 414.2h0.6v0.6h-0.6zM383.9 404.3h0.6v0.6h-0.6zM382.3 407.8h0.6v0.6h-0.6zM371.3 413.0h0.6v0.6h-0.6zM368.0 415.3h0.6v0.6h-0.6zM386.5 409.8h0.6v0.6h-0.6zM370.5 412.8h0.6v0.6h-0.6zM378.3 409.9h0.6v0.6h-0.6zM365.6 410.7h0.6v0.6h-0.6zM388.5 408.7h0.6v0.6h-0.6zM383.8 402.3h0.6v0.6h-0.6zM387.2 408.8h0.6v0.6h-0.6zM377.3 415.1h0.6v0.6h-0.6zM372.6 414.3h0.6v0.6h-0.6zM384.9 407.9h0.6v0.6h-0.6zM392.5 405.1h0.6v0.6h-0.6zM390.7 407.4h0.6v0.6h-0.6zM383.0 406.4h0.6v0.6h-0.6zM364.6 414.5h0.6v0.6h-0.6zM387.2 401.8h0.6v0.6h-0.6zM387.8 412.0h0.6v0.6h-0.6zM381.5 407.0h0.6v0.6h-0.6zM382.3 416.5h0.6v0.6h-0.6zM379.5 411.6h0.6v0.6h-0.6zM398.4 393.9h0.6v0.6h-0.6zM379.8 412.9h0.6v0.6h-0.6zM374.7 409.2h0.6v0.6h-0.6zM375.3 411.4h0.6v0.6h-0.6zM373.3 414.1h0.6v0.6h-0.6zM384.1 405.1h0.6v0.6h-0.6zM371.9 414.7h0.6v0.6h-0.6zM387.9 409.6h0.6v0.6h-0.6zM388.9 407.5h0.6v0.6h-0.6zM375.4 410.0h0.6v0.6h-0.6zM380.0 410.2h0.6v0.6h-0.6zM400.0 403.8h0.6v0.6h-0.6zM380.0 416.9h0.6v0.6h-0.6zM373.7 414.3h0.6v0.6h-0.6zM380.4 418.7h0.6v0.6h-0.6zM378.5 410.8h0.6v0.6h-0.6zM383.5 404.5h0.6v0.6h-0.6zM380.2 413.4h0.6v0.6h-0.6zM393.6 407.5h0.6v0.6h-0.6zM371.3 406.6h0.6v0.6h-0.6zM391.5 406.4h0.6v0.6h-0.6zM383.6 408.7h0.6v0.6h-0.6zM384.9 406.0h0.6v0.6h-0.6zM379.7 409.4h0.6v0.6h-0.6zM376.4 411.0h0.6v0.6h-0.6zM382.7 411.2h0.6v0.6h-0.6zM378.8 403.5h0.6v0.6h-0.6zM378.1 414.8h0.6v0.6h-0.6zM376.8 411.6h0.6v0.6h-0.6zM385.2 407.9h0.6v0.6h-0.6zM386.2 408.9h0.6v0.6h-0.6zM373.0 413.8h0.6v0.6h-0.6zM365.0 407.9h0.6v0.6h-0.6zM380.7 408.2h0.6v0.6h-0.6zM383.1 406.4h0.6v0.6h-0.6zM380.4 411.4h0.6v0.6h-0.6zM385.5 408.6h0.6v0.6h-0.6zM379.1 417.2h0.6v0.6h-0.6zM385.7 408.1h0.6v0.6h-0.6zM375.9 407.5h0.6v0.6h-0.6zM380.4 408.4h0.6v0.6h-0.6zM367.5 414.9h0.6v0.6h-0.6zM383.8 404.9h0.6v0.6h-0.6zM381.7 411.2h0.6v0.6h-0.6zM377.1 407.9h0.6v0.6h-0.6zM375.0 410.6h0.6v0.6h-0.6zM383.3 407.0h0.6v0.6h-0.6zM382.6 407.0h0.6v0.6h-0.6zM381.9 407.2h0.6v0.6h-0.6zM374.4 411.5h0.6v0.6h-0.6zM388.0 409.5h0.6v0.6h-0.6zM384.2 409.5h0.6v0.6h-0.6zM371.4 416.3h0.6v0.6h-0.6zM369.0 411.6h0.6v0.6h-0.6zM375.0 404.8h0.6v0.6h-0.6zM398.1 399.1h0.6v0.6h-0.6zM383.5 408.8h0.6v0.6h-0.6zM377.2 414.2h0.6v0.6h-0.6zM378.2 406.6h0.6v0.6h-0.6zM374.2 409.1h0.6v0.6h-0.6zM389.5 405.4h0.6v0.6h-0.6zM383.8 403.9h0.6v0.6h-0.6zM380.1 407.8h0.6v0.6h-0.6zM390.8 401.4h0.6v0.6h-0.6zM361.8 416.4h0.6v0.6h-0.6zM393.0 407.7h0.6v0.6h-0.6zM380.9 409.8h0.6v0.6h-0.6zM379.4 403.5h0.6v0.6h-0.6zM390.2 400.7h0.6v0.6h-0.6zM374.1 409.2h0.6v0.6h-0.6zM383.5 413.8h0.6v0.6h-0.6zM380.9 401.0h0.6v0.6h-0.6zM376.1 404.1h0.6v0.6h-0.6zM382.4 403.3h0.6v0.6h-0.6zM393.2 405.2h0.6v0.6h-0.6zM383.7 404.8h0.6v0.6h-0.6zM380.6 406.1h0.6v0.6h-0.6zM385.1 411.0h0.6v0.6h-0.6zM391.7 398.2h0.6v0.6h-0.6zM388.5 409.7h0.6v0.6h-0.6zM373.8 410.6h0.6v0.6h-0.6zM382.2 412.6h0.6v0.6h-0.6zM369.4 416.2h0.6v0.6h-0.6zM380.1 411.6h0.6v0.6h-0.6zM378.2 409.5h0.6v0.6h-0.6zM376.2 412.3h0.6v0.6h-0.6zM379.3 409.6h0.6v0.6h-0.6zM387.1 404.8h0.6v0.6h-0.6zM382.3 413.6h0.6v0.6h-0.6zM385.6 415.2h0.6v0.6h-0.6zM386.7 408.7h0.6v0.6h-0.6zM380.0 410.7h0.6v0.6h-0.6zM361.0 418.6h0.6v0.6h-0.6zM391.3 406.9h0.6v0.6h-0.6zM383.4 403.4h0.6v0.6h-0.6zM386.8 408.9h0.6v0.6h-0.6zM394.6 406.5h0.6v0.6h-0.6zM378.6 403.7h0.6v0.6h-0.6zM371.0 415.0h0.6v0.6h-0.6zM386.2 406.5h0.6v0.6h-0.6zM370.0 417.4h0.6v0.6h-0.6zM379.6 413.3h0.6v0.6h-0.6zM378.2 413.3h0.6v0.6h-0.6zM381.4 408.0h0.6v0.6h-0.6zM372.6 411.5h0.6v0.6h-0.6zM387.6 411.6h0.6v0.6h-0.6zM390.3 408.7h0.6v0.6h-0.6zM380.7 408.8h0.6v0.6h-0.6zM381.4 405.2h0.6v0.6h-0.6zM372.7 407.2h0.6v0.6h-0.6zM380.2 410.2h0.6v0.6h-0.6zM386.6 407.1h0.6v0.6h-0.6zM387.4 411.3h0.6v0.6h-0.6zM376.6 411.3h0.6v0.6h-0.6zM380.8 406.4h0.6v0.6h-0.6zM379.5 409.1h0.6v0.6h-0.6zM379.6 414.6h0.6v0.6h-0.6zM367.5 411.5h0.6v0.6h-0.6zM384.2 408.5h0.6v0.6h-0.6zM386.7 407.4h0.6v0.6h-0.6zM376.3 410.1h0.6v0.6h-0.6zM376.4 409.2h0.6v0.6h-0.6zM388.6 401.1h0.6v0.6h-0.6zM391.7 406.5h0.6v0.6h-0.6zM375.4 413.9h0.6v0.6h-0.6zM372.2 413.4h0.6v0.6h-0.6zM388.2 410.0h0.6v0.6h-0.6zM383.0 402.2h0.6v0.6h-0.6zM392.8 401.9h0.6v0.6h-0.6zM384.8 405.4h0.6v0.6h-0.6zM371.4 415.3h0.6v0.6h-0.6zM379.4 404.8h0.6v0.6h-0.6zM383.7 411.1h0.6v0.6h-0.6zM377.3 409.5h0.6v0.6h-0.6zM377.5 411.9h0.6v0.6h-0.6zM378.7 410.6h0.6v0.6h-0.6zM389.2 405.7h0.6v0.6h-0.6zM382.4 407.2h0.6v0.6h-0.6zM373.5 410.3h0.6v0.6h-0.6zM381.6 409.1h0.6v0.6h-0.6zM379.1 410.2h0.6v0.6h-0.6zM388.9 415.0h0.6v0.6h-0.6zM392.0 404.9h0.6v0.6h-0.6zM388.3 402.7h0.6v0.6h-0.6zM385.1 406.6h0.6v0.6h-0.6zM384.4 408.3h0.6v0.6h-0.6zM385.3 405.4h0.6v0.6h-0.6zM378.7 407.0h0.6v0.6h-0.6zM384.0 405.0h0.6v0.6h-0.6zM389.9 406.4h0.6v0.6h-0.6zM389.1 403.0h0.6v0.6h-0.6zM382.0 408.7h0.6v0.6h-0.6zM387.4 412.2h0.6v0.6h-0.6zM382.9 412.6h0.6v0.6h-0.6zM383.9 409.0h0.6v0.6h-0.6zM379.5 410.8h0.6v0.6h-0.6zM377.1 405.8h0.6v0.6h-0.6zM381.2 402.7h0.6v0.6h-0.6zM380.6 405.8h0.6v0.6h-0.6zM377.1 406.7h0.6v0.6h-0.6zM373.2 415.1h0.6v0.6h-0.6zM370.1 417.3h0.6v0.6h-0.6zM382.1 402.3h0.6v0.6h-0.6zM375.9 414.2h0.6v0.6h-0.6zM375.1 406.1h0.6v0.6h-0.6zM381.8 407.0h0.6v0.6h-0.6zM366.8 413.0h0.6v0.6h-0.6zM376.2 411.6h0.6v0.6h-0.6zM371.0 412.3h0.6v0.6h-0.6zM385.2 405.4h0.6v0.6h-0.6zM379.4 408.2h0.6v0.6h-0.6zM380.4 412.8h0.6v0.6h-0.6zM386.7 406.5h0.6v0.6h-0.6zM367.0 417.9h0.6v0.6h-0.6zM382.5 403.6h0.6v0.6h-0.6zM390.8 409.7h0.6v0.6h-0.6zM374.7 412.1h0.6v0.6h-0.6zM375.2 410.3h0.6v0.6h-0.6zM388.5 408.2h0.6v0.6h-0.6zM378.8 405.1h0.6v0.6h-0.6zM379.5 410.2h0.6v0.6h-0.6zM383.2 411.1h0.6v0.6h-0.6zM381.7 413.6h0.6v0.6h-0.6zM377.2 414.1h0.6v0.6h-0.6zM385.7 407.0h0.6v0.6h-0.6zM375.7 409.4h0.6v0.6h-0.6zM388.7 402.0h0.6v0.6h-0.6zM381.6 412.0h0.6v0.6h-0.6zM370.5 412.0h0.6v0.6h-0.6zM385.0 407.3h0.6v0.6h-0.6zM382.5 408.4h0.6v0.6h-0.6zM397.1 397.8h0.6v0.6h-0.6zM383.2 408.6h0.6v0.6h-0.6zM383.6 400.5h0.6v0.6h-0.6zM388.6 407.3h0.6v0.6h-0.6zM376.2 411.5h0.6v0.6h-0.6zM383.1 408.3h0.6v0.6h-0.6zM387.3 407.8h0.6v0.6h-0.6zM374.4 412.3h0.6v0.6h-0.6zM374.0 418.9h0.6v0.6h-0.6zM387.7 402.9h0.6v0.6h-0.6zM401.3 401.8h0.6v0.6h-0.6zM385.4 404.1h0.6v0.6h-0.6zM373.0 409.0h0.6v0.6h-0.6zM378.7 410.6h0.6v0.6h-0.6zM396.2 409.8h0.6v0.6h-0.6zM376.8 402.8h0.6v0.6h-0.6zM380.6 413.8h0.6v0.6h-0.6zM381.0 411.5h0.6v0.6h-0.6zM383.5 398.6h0.6v0.6h-0.6zM388.6 405.1h0.6v0.6h-0.6zM379.2 411.0h0.6v0.6h-0.6zM378.4 409.6h0.6v0.6h-0.6zM379.3 406.1h0.6v0.6h-0.6zM386.7 403.9h0.6v0.6h-0.6zM380.9 402.7h0.6v0.6h-0.6zM372.5 414.9h0.6v0.6h-0.6zM387.7 403.4h0.6v0.6h-0.6zM368.4 407.4h0.6v0.6h-0.6zM366.6 412.7h0.6v0.6h-0.6zM385.7 413.0h0.6v0.6h-0.6zM376.9 414.5h0.6v0.6h-0.6zM384.7 407.2h0.6v0.6h-0.6zM381.3 408.0h0.6v0.6h-0.6zM384.0 402.7h0.6v0.6h-0.6zM385.3 406.7h0.6v0.6h-0.6zM379.6 410.3h0.6v0.6h-0.6zM367.8 408.3h0.6v0.6h-0.6zM381.3 409.9h0.6v0.6h-0.6zM367.6 414.6h0.6v0.6h-0.6zM389.3 408.1h0.6v0.6h-0.6zM381.6 407.5h0.6v0.6h-0.6zM386.8 405.6h0.6v0.6h-0.6zM383.4 408.7h0.6v0.6h-0.6zM381.8 413.4h0.6v0.6h-0.6zM385.5 409.5h0.6v0.6h-0.6zM380.1 407.9h0.6v0.6h-0.6zM386.1 406.2h0.6v0.6h-0.6zM379.1 406.6h0.6v0.6h-0.6zM385.6 408.3h0.6v0.6h-0.6zM380.6 406.7h0.6v0.6h-0.6zM380.8 406.4h0.6v0.6h-0.6zM367.6 417.5h0.6v0.6h-0.6zM379.6 410.5h0.6v0.6h-0.6zM375.9 408.8h0.6v0.6h-0.6zM387.7 405.8h0.6v0.6h-0.6zM379.7 404.2h0.6v0.6h-0.6zM381.7 404.7h0.6v0.6h-0.6zM382.6 414.5h0.6v0.6h-0.6zM385.2 406.1h0.6v0.6h-0.6zM383.2 410.9h0.6v0.6h-0.6zM385.2 402.5h0.6v0.6h-0.6zM389.3 403.6h0.6v0.6h-0.6zM378.6 410.9h0.6v0.6h-0.6zM391.9 403.3h0.6v0.6h-0.6zM359.6 418.4h0.6v0.6h-0.6zM383.6 409.5h0.6v0.6h-0.6zM377.6 416.8h0.6v0.6h-0.6zM390.8 408.7h0.6v0.6h-0.6zM378.9 409.4h0.6v0.6h-0.6zM389.7 406.1h0.6v0.6h-0.6zM382.7 408.0h0.6v0.6h-0.6zM385.9 410.5h0.6v0.6h-0.6zM365.9 417.9h0.6v0.6h-0.6zM371.2 415.5h0.6v0.6h-0.6zM381.9 413.7h0.6v0.6h-0.6zM392.5 406.2h0.6v0.6h-0.6zM375.1 405.9h0.6v0.6h-0.6zM381.6 408.6h0.6v0.6h-0.6zM387.4 406.1h0.6v0.6h-0.6zM388.0 413.1h0.6v0.6h-0.6zM383.0 406.8h0.6v0.6h-0.6zM379.3 408.9h0.6v0.6h-0.6zM387.0 404.1h0.6v0.6h-0.6zM381.4 418.3h0.6v0.6h-0.6zM374.6 407.1h0.6v0.6h-0.6zM374.4 409.8h0.6v0.6h-0.6zM378.7 408.7h0.6v0.6h-0.6zM381.3 410.6h0.6v0.6h-0.6zM375.8 408.6h0.6v0.6h-0.6zM378.8 406.9h0.6v0.6h-0.6zM374.3 415.6h0.6v0.6h-0.6zM382.0 407.6h0.6v0.6h-0.6zM394.0 403.2h0.6v0.6h-0.6zM384.2 405.2h0.6v0.6h-0.6zM383.8 404.1h0.6v0.6h-0.6zM371.6 406.5h0.6v0.6h-0.6zM391.3 406.7h0.6v0.6h-0.6zM376.3 414.6h0.6v0.6h-0.6zM389.0 406.9h0.6v0.6h-0.6zM369.2 415.1h0.6v0.6h-0.6zM384.9 414.1h0.6v0.6h-0.6zM384.8 402.5h0.6v0.6h-0.6zM385.3 411.1h0.6v0.6h-0.6zM367.5 413.5h0.6v0.6h-0.6zM392.3 405.3h0.6v0.6h-0.6zM384.0 408.1h0.6v0.6h-0.6zM372.9 415.8h0.6v0.6h-0.6zM377.8 409.3h0.6v0.6h-0.6zM382.7 408.9h0.6v0.6h-0.6zM390.1 405.7h0.6v0.6h-0.6zM377.3 410.1h0.6v0.6h-0.6zM381.8 406.6h0.6v0.6h-0.6zM387.0 414.5h0.6v0.6h-0.6zM390.3 407.7h0.6v0.6h-0.6zM388.8 407.8h0.6v0.6h-0.6zM370.5 419.3h0.6v0.6h-0.6zM384.6 415.7h0.6v0.6h-0.6zM377.2 411.7h0.6v0.6h-0.6zM383.8 411.1h0.6v0.6h-0.6zM370.9 412.5h0.6v0.6h-0.6zM374.6 414.8h0.6v0.6h-0.6zM372.4 413.2h0.6v0.6h-0.6zM374.8 408.7h0.6v0.6h-0.6zM375.9 409.0h0.6v0.6h-0.6zM390.0 404.0h0.6v0.6h-0.6zM369.3 412.2h0.6v0.6h-0.6zM382.3 411.6h0.6v0.6h-0.6zM366.4 416.4h0.6v0.6h-0.6zM365.7 417.0h0.6v0.6h-0.6zM372.1 411.5h0.6v0.6h-0.6zM373.6 412.9h0.6v0.6h-0.6zM378.6 410.9h0.6v0.6h-0.6zM396.8 400.0h0.6v0.6h-0.6zM382.0 406.9h0.6v0.6h-0.6zM377.6 408.7h0.6v0.6h-0.6zM392.2 407.8h0.6v0.6h-0.6zM384.3 407.4h0.6v0.6h-0.6zM371.6 411.1h0.6v0.6h-0.6zM376.7 409.0h0.6v0.6h-0.6zM392.6 406.9h0.6v0.6h-0.6zM378.4 406.0h0.6v0.6h-0.6zM377.5 410.6h0.6v0.6h-0.6zM380.9 408.0h0.6v0.6h-0.6zM378.1 415.1h0.6v0.6h-0.6zM377.1 418.1h0.6v0.6h-0.6zM375.4 406.3h0.6v0.6h-0.6zM369.1 410.2h0.6v0.6h-0.6zM383.6 405.0h0.6v0.6h-0.6zM376.8 414.8h0.6v0.6h-0.6zM382.7 402.2h0.6v0.6h-0.6zM376.0 415.3h0.6v0.6h-0.6zM388.6 403.0h0.6v0.6h-0.6zM378.2 407.2h0.6v0.6h-0.6zM386.7 413.4h0.6v0.6h-0.6zM381.7 411.5h0.6v0.6h-0.6zM383.0 404.7h0.6v0.6h-0.6zM387.3 411.0h0.6v0.6h-0.6zM381.3 403.2h0.6v0.6h-0.6zM374.1 418.8h0.6v0.6h-0.6zM382.4 406.3h0.6v0.6h-0.6zM373.1 414.6h0.6v0.6h-0.6zM376.8 412.0h0.6v0.6h-0.6zM398.2 400.9h0.6v0.6h-0.6zM381.2 410.8h0.6v0.6h-0.6zM390.5 408.3h0.6v0.6h-0.6zM389.5 409.1h0.6v0.6h-0.6zM381.8 412.1h0.6v0.6h-0.6zM379.4 413.4h0.6v0.6h-0.6zM378.0 415.2h0.6v0.6h-0.6zM382.7 406.0h0.6v0.6h-0.6zM354.0 437.6h0.6v0.6h-0.6zM366.5 407.2h0.6v0.6h-0.6zM367.7 421.3h0.6v0.6h-0.6zM369.5 424.9h0.6v0.6h-0.6zM380.1 412.3h0.6v0.6h-0.6zM375.9 414.2h0.6v0.6h-0.6zM371.6 417.6h0.6v0.6h-0.6zM370.6 423.1h0.6v0.6h-0.6zM370.9 420.1h0.6v0.6h-0.6zM377.3 406.9h0.6v0.6h-0.6zM363.0 430.4h0.6v0.6h-0.6zM364.3 431.9h0.6v0.6h-0.6zM367.3 418.6h0.6v0.6h-0.6zM370.7 412.6h0.6v0.6h-0.6zM387.0 403.4h0.6v0.6h-0.6zM365.1 427.7h0.6v0.6h-0.6zM368.5 422.2h0.6v0.6h-0.6zM372.7 413.1h0.6v0.6h-0.6zM356.1 435.1h0.6v0.6h-0.6zM382.0 408.4h0.6v0.6h-0.6zM389.8 400.0h0.6v0.6h-0.6zM369.1 427.4h0.6v0.6h-0.6zM385.0 407.3h0.6v0.6h-0.6zM373.1 407.8h0.6v0.6h-0.6zM371.4 412.6h0.6v0.6h-0.6zM385.4 400.7h0.6v0.6h-0.6zM377.9 419.8h0.6v0.6h-0.6zM368.1 424.7h0.6v0.6h-0.6zM371.5 424.7h0.6v0.6h-0.6zM373.3 427.9h0.6v0.6h-0.6zM362.1 417.2h0.6v0.6h-0.6zM374.8 408.8h0.6v0.6h-0.6zM380.6 408.5h0.6v0.6h-0.6zM383.5 407.4h0.6v0.6h-0.6zM380.8 409.0h0.6v0.6h-0.6zM383.1 407.4h0.6v0.6h-0.6zM374.2 420.0h0.6v0.6h-0.6zM380.8 411.4h0.6v0.6h-0.6zM385.1 414.5h0.6v0.6h-0.6zM376.7 422.6h0.6v0.6h-0.6zM385.8 410.6h0.6v0.6h-0.6zM376.0 417.7h0.6v0.6h-0.6zM371.6 410.5h0.6v0.6h-0.6zM378.6 416.8h0.6v0.6h-0.6zM376.4 402.4h0.6v0.6h-0.6zM369.2 422.3h0.6v0.6h-0.6zM373.2 418.1h0.6v0.6h-0.6zM370.9 418.6h0.6v0.6h-0.6zM390.4 406.3h0.6v0.6h-0.6zM370.5 413.2h0.6v0.6h-0.6zM377.0 414.0h0.6v0.6h-0.6zM384.7 406.2h0.6v0.6h-0.6zM381.1 408.6h0.6v0.6h-0.6zM383.4 403.9h0.6v0.6h-0.6zM382.5 416.3h0.6v0.6h-0.6zM381.2 412.3h0.6v0.6h-0.6zM374.9 411.5h0.6v0.6h-0.6zM375.3 424.0h0.6v0.6h-0.6zM361.4 418.7h0.6v0.6h-0.6zM387.9 406.1h0.6v0.6h-0.6zM381.6 410.9h0.6v0.6h-0.6zM372.6 419.4h0.6v0.6h-0.6zM367.5 419.1h0.6v0.6h-0.6zM362.5 421.5h0.6v0.6h-0.6zM372.5 410.2h0.6v0.6h-0.6zM367.1 425.2h0.6v0.6h-0.6zM375.3 414.5h0.6v0.6h-0.6zM368.1 425.2h0.6v0.6h-0.6zM369.7 419.6h0.6v0.6h-0.6zM370.3 421.2h0.6v0.6h-0.6zM367.7 424.3h0.6v0.6h-0.6zM370.8 418.6h0.6v0.6h-0.6zM367.9 422.7h0.6v0.6h-0.6zM372.3 422.2h0.6v0.6h-0.6zM370.6 423.6h0.6v0.6h-0.6zM363.7 428.8h0.6v0.6h-0.6zM373.2 419.5h0.6v0.6h-0.6zM362.5 426.9h0.6v0.6h-0.6zM371.4 420.2h0.6v0.6h-0.6zM368.8 425.4h0.6v0.6h-0.6zM367.5 418.8h0.6v0.6h-0.6zM369.6 427.8h0.6v0.6h-0.6zM371.1 421.5h0.6v0.6h-0.6zM371.3 419.9h0.6v0.6h-0.6zM364.8 426.3h0.6v0.6h-0.6zM361.5 434.1h0.6v0.6h-0.6zM368.6 420.9h0.6v0.6h-0.6zM369.2 425.8h0.6v0.6h-0.6zM371.3 424.9h0.6v0.6h-0.6zM367.5 424.5h0.6v0.6h-0.6zM368.3 418.7h0.6v0.6h-0.6zM368.8 424.3h0.6v0.6h-0.6zM355.0 444.3h0.6v0.6h-0.6zM363.6 431.1h0.6v0.6h-0.6zM359.3 430.8h0.6v0.6h-0.6zM374.1 423.9h0.6v0.6h-0.6zM369.6 419.7h0.6v0.6h-0.6zM372.7 422.6h0.6v0.6h-0.6zM360.3 435.1h0.6v0.6h-0.6zM370.5 421.2h0.6v0.6h-0.6zM361.6 435.2h0.6v0.6h-0.6zM372.5 416.5h0.6v0.6h-0.6zM371.3 420.0h0.6v0.6h-0.6zM371.0 419.7h0.6v0.6h-0.6zM370.4 420.0h0.6v0.6h-0.6zM367.2 424.5h0.6v0.6h-0.6zM362.1 427.9h0.6v0.6h-0.6zM366.6 424.3h0.6v0.6h-0.6zM366.2 431.1h0.6v0.6h-0.6zM371.3 420.7h0.6v0.6h-0.6zM370.2 418.5h0.6v0.6h-0.6zM365.9 424.4h0.6v0.6h-0.6zM369.6 424.4h0.6v0.6h-0.6zM362.7 437.9h0.6v0.6h-0.6zM363.8 428.5h0.6v0.6h-0.6zM365.2 425.4h0.6v0.6h-0.6zM372.8 414.8h0.6v0.6h-0.6zM373.6 424.5h0.6v0.6h-0.6zM361.2 428.0h0.6v0.6h-0.6zM365.3 428.4h0.6v0.6h-0.6zM368.0 423.6h0.6v0.6h-0.6zM356.9 437.2h0.6v0.6h-0.6zM368.0 413.7h0.6v0.6h-0.6zM362.0 428.0h0.6v0.6h-0.6zM367.5 420.5h0.6v0.6h-0.6zM366.6 427.6h0.6v0.6h-0.6zM367.4 421.7h0.6v0.6h-0.6z" fill="#962a24" fill-opacity="0.7"/>
<path d="M408.7 407.7h0.6v0.6h-0.6zM403.6 407.6h0.6v0.6h-0.6zM406.1 401.8h0.6v0.6h-0.6zM404.2 407.5h0.6v0.6h-0.6zM395.8 408.8h0.6v0.6h-0.6zM400.0 410.4h0.6v0.6h-0.6zM409.2 404.3h0.6v0.6h-0.6zM403.6 405.2h0.6v0.6h-0.6zM401.8 405.9h0.6v0.6h-0.6zM402.6 409.2h0.6v0.6h-0.6zM401.3 412.7h0.6v0.6h-0.6zM400.0 407.5h0.6v0.6h-0.6zM410.5 404.2h0.6v0.6h-0.6zM401.9 401.9h0.6v0.6h-0.6zM405.6 406.9h0.6v0.6h-0.6zM410.7 406.8h0.6v0.6h-0.6zM407.7 407.0h0.6v0.6h-0.6zM402.9 412.3h0.6v0.6h-0.6zM398.1 411.8h0.6v0.6h-0.6zM411.0 401.3h0.6v0.6h-0.6zM400.9 412.1h0.6v0.6h-0.6zM405.8 401.2h0.6v0.6h-0.6zM403.9 406.7h0.6v0.6h-0.6zM402.9 407.9h0.6v0.6h-0.6zM407.7 408.1h0.6v0.6h-0.6zM404.1 404.1h0.6v0.6h-0.6zM410.2 406.4h0.6v0.6h-0.6zM398.4 409.9h0.6v0.6h-0.6zM398.7 410.4h0.6v0.6h-0.6zM408.5 407.0h0.6v0.6h-0.6zM402.3 407.1h0.6v0.6h-0.6zM406.4 410.3h0.6v0.6h-0.6zM403.9 410.5h0.6v0.6h-0.6zM401.0 413.1h0.6v0.6h-0.6zM404.1 408.8h0.6v0.6h-0.6zM407.4 405.4h0.6v0.6h-0.6zM398.5 411.5h0.6v0.6h-0.6zM405.4 407.7h0.6v0.6h-0.6zM406.7 403.0h0.6v0.6h-0.6zM406.0 408.0h0.6v0.6h-0.6zM400.7 399.5h0.6v0.6h-0.6zM396.8 410.9h0.6v0.6h-0.6zM407.7 413.4h0.6v0.6h-0.6zM404.5 410.6h0.6v0.6h-0.6zM395.4 403.6h0.6v0.6h-0.6zM405.0 404.1h0.6v0.6h-0.6zM404.2 407.8h0.6v0.6h-0.6zM402.0 400.8h0.6v0.6h-0.6zM396.1 407.8h0.6v0.6h-0.6zM406.7 403.6h0.6v0.6h-0.6zM402.8 406.9h0.6v0.6h-0.6zM402.9 415.4h0.6v0.6h-0.6zM406.0 405.4h0.6v0.6h-0.6zM397.0 405.4h0.6v0.6h-0.6zM406.3 406.8h0.6v0.6h-0.6zM399.1 406.7h0.6v0.6h-0.6zM407.4 405.0h0.6v0.6h-0.6zM400.2 407.6h0.6v0.6h-0.6zM401.9 411.7h0.6v0.6h-0.6zM401.9 404.0h0.6v0.6h-0.6zM408.9 410.1h0.6v0.6h-0.6zM393.2 408.9h0.6v0.6h-0.6zM409.4 404.4h0.6v0.6h-0.6zM407.5 406.8h0.6v0.6h-0.6zM396.9 405.4h0.6v0.6h-0.6zM399.4 410.9h0.6v0.6h-0.6zM404.9 406.5h0.6v0.6h-0.6zM398.3 416.7h0.6v0.6h-0.6zM404.6 410.3h0.6v0.6h-0.6zM407.8 405.3h0.6v0.6h-0.6zM407.2 412.6h0.6v0.6h-0.6zM402.1 415.9h0.6v0.6h-0.6zM405.9 412.5h0.6v0.6h-0.6zM401.2 406.9h0.6v0.6h-0.6zM406.0 405.1h0.6v0.6h-0.6zM407.6 404.9h0.6v0.6h-0.6zM401.5 409.4h0.6v0.6h-0.6zM407.6 405.9h0.6v0.6h-0.6zM403.6 407.7h0.6v0.6h-0.6zM402.9 407.2h0.6v0.6h-0.6zM398.6 406.8h0.6v0.6h-0.6zM398.3 403.5h0.6v0.6h-0.6zM400.5 411.4h0.6v0.6h-0.6zM405.9 402.1h0.6v0.6h-0.6zM404.0 408.0h0.6v0.6h-0.6zM402.9 407.5h0.6v0.6h-0.6zM406.2 415.0h0.6v0.6h-0.6zM407.3 408.2h0.6v0.6h-0.6zM412.1 408.9h0.6v0.6h-0.6zM406.6 401.9h0.6v0.6h-0.6zM404.6 404.4h0.6v0.6h-0.6zM404.3 406.5h0.6v0.6h-0.6zM406.9 404.7h0.6v0.6h-0.6zM402.3 406.3h0.6v0.6h-0.6zM405.7 405.0h0.6v0.6h-0.6zM404.4 415.6h0.6v0.6h-0.6zM399.5 404.7h0.6v0.6h-0.6zM410.7 412.7h0.6v0.6h-0.6zM405.8 408.8h0.6v0.6h-0.6zM405.1 408.5h0.6v0.6h-0.6zM398.5 412.1h0.6v0.6h-0.6zM399.7 408.1h0.6v0.6h-0.6zM401.2 406.9h0.6v0.6h-0.6zM404.0 409.3h0.6v0.6h-0.6zM401.9 411.7h0.6v0.6h-0.6zM406.7 410.7h0.6v0.6h-0.6zM401.2 409.8h0.6v0.6h-0.6zM401.5 405.2h0.6v0.6h-0.6zM399.1 411.3h0.6v0.6h-0.6zM406.3 407.0h0.6v0.6h-0.6zM402.8 413.1h0.6v0.6h-0.6zM407.3 405.8h0.6v0.6h-0.6zM409.2 413.3h0.6v0.6h-0.6zM398.1 402.9h0.6v0.6h-0.6zM401.4 409.0h0.6v0.6h-0.6zM405.7 403.9h0.6v0.6h-0.6zM400.5 411.4h0.6v0.6h-0.6zM403.4 406.2h0.6v0.6h-0.6zM402.5 407.2h0.6v0.6h-0.6zM397.2 406.7h0.6v0.6h-0.6zM402.7 411.3h0.6v0.6h-0.6zM396.7 409.5h0.6v0.6h-0.6zM397.8 416.0h0.6v0.6h-0.6zM403.8 402.7h0.6v0.6h-0.6zM399.8 418.2h0.6v0.6h-0.6zM403.1 414.4h0.6v0.6h-0.6zM406.5 411.5h0.6v0.6h-0.6zM403.7 408.6h0.6v0.6h-0.6zM405.2 407.7h0.6v0.6h-0.6zM409.1 411.1h0.6v0.6h-0.6zM395.8 415.6h0.6v0.6h-0.6zM398.3 409.2h0.6v0.6h-0.6zM410.6 407.5h0.6v0.6h-0.6zM406.0 407.6h0.6v0.6h-0.6zM399.9 408.1h0.6v0.6h-0.6zM411.4 404.2h0.6v0.6h-0.6zM404.8 407.7h0.6v0.6h-0.6zM402.9 412.7h0.6v0.6h-0.6zM403.5 409.6h0.6v0.6h-0.6zM406.7 411.0h0.6v0.6h-0.6zM398.3 409.1h0.6v0.6h-0.6zM405.6 406.5h0.6v0.6h-0.6zM400.0 415.9h0.6v0.6h-0.6zM397.7 410.0h0.6v0.6h-0.6zM407.5 402.5h0.6v0.6h-0.6zM402.4 404.8h0.6v0.6h-0.6zM398.3 408.3h0.6v0.6h-0.6zM399.6 409.4h0.6v0.6h-0.6zM397.7 406.3h0.6v0.6h-0.6zM406.2 408.1h0.6v0.6h-0.6zM401.7 406.2h0.6v0.6h-0.6zM410.2 407.2h0.6v0.6h-0.6zM408.1 411.8h0.6v0.6h-0.6zM407.9 410.0h0.6v0.6h-0.6zM399.6 410.8h0.6v0.6h-0.6zM406.2 404.7h0.6v0.6h-0.6zM406.8 407.1h0.6v0.6h-0.6zM403.9 407.0h0.6v0.6h-0.6zM400.1 408.6h0.6v0.6h-0.6zM403.7 407.2h0.6v0.6h-0.6zM401.6 414.8h0.6v0.6h-0.6zM408.8 404.7h0.6v0.6h-0.6zM404.0 408.2h0.6v0.6h-0.6zM405.5 415.8h0.6v0.6h-0.6zM398.9 409.9h0.6v0.6h-0.6zM403.3 405.0h0.6v0.6h-0.6zM408.0 398.3h0.6v0.6h-0.6zM408.9 405.0h0.6v0.6h-0.6zM405.0 402.1h0.6v0.6h-0.6zM399.2 408.9h0.6v0.6h-0.6zM401.9 406.6h0.6v0.6h-0.6zM398.8 412.9h0.6v0.6h-0.6zM405.6 405.0h0.6v0.6h-0.6zM404.0 407.9h0.6v0.6h-0.6zM402.8 408.4h0.6v0.6h-0.6zM397.4 409.6h0.6v0.6h-0.6zM406.0 408.4h0.6v0.6h-0.6zM408.3 406.4h0.6v0.6h-0.6zM403.3 404.3h0.6v0.6h-0.6zM395.6 412.0h0.6v0.6h-0.6zM401.0 407.8h0.6v0.6h-0.6zM401.6 411.4h0.6v0.6h-0.6zM399.4 409.4h0.6v0.6h-0.6zM399.9 407.8h0.6v0.6h-0.6zM406.5 409.9h0.6v0.6h-0.6zM406.4 410.6h0.6v0.6h-0.6zM399.8 407.7h0.6v0.6h-0.6zM395.5 415.5h0.6v0.6h-0.6zM407.5 405.4h0.6v0.6h-0.6zM398.5 407.4h0.6v0.6h-0.6zM407.5 412.5h0.6v0.6h-0.6zM410.5 433.5h0.6v0.6h-0.6zM419.8 414.9h0.6v0.6h-0.6zM415.2 415.4h0.6v0.6h-0.6zM412.9 414.3h0.6v0.6h-0.6zM420.8 415.6h0.6v0.6h-0.6zM397.0 416.4h0.6v0.6h-0.6zM408.2 416.3h0.6v0.6h-0.6zM407.1 410.3h0.6v0.6h-0.6zM398.4 412.3h0.6v0.6h-0.6zM406.9 412.2h0.6v0.6h-0.6zM400.9 411.2h0.6v0.6h-0.6zM409.9 413.6h0.6v0.6h-0.6zM415.9 422.4h0.6v0.6h-0.6zM411.0 406.6h0.6v0.6h-0.6zM402.2 416.0h0.6v0.6h-0.6zM406.3 424.1h0.6v0.6h-0.6zM417.3 411.8h0.6v0.6h-0.6zM405.3 425.7h0.6v0.6h-0.6zM413.4 416.6h0.6v0.6h-0.6zM421.0 415.8h0.6v0.6h-0.6zM403.1 412.1h0.6v0.6h-0.6zM406.6 413.4h0.6v0.6h-0.6zM405.5 424.1h0.6v0.6h-0.6zM411.1 414.2h0.6v0.6h-0.6zM414.2 419.9h0.6v0.6h-0.6zM404.9 415.2h0.6v0.6h-0.6zM403.2 419.4h0.6v0.6h-0.6zM418.4 424.2h0.6v0.6h-0.6zM404.7 418.3h0.6v0.6h-0.6zM404.8 409.1h0.6v0.6h-0.6zM420.8 408.8h0.6v0.6h-0.6zM414.9 414.2h0.6v0.6h-0.6zM410.7 408.9h0.6v0.6h-0.6zM412.2 412.9h0.6v0.6h-0.6zM400.0 413.7h0.6v0.6h-0.6zM405.6 425.9h0.6v0.6h-0.6zM408.4 404.0h0.6v0.6h-0.6zM407.6 413.6h0.6v0.6h-0.6zM404.2 417.2h0.6v0.6h-0.6zM412.3 416.4h0.6v0.6h-0.6zM406.9 428.3h0.6v0.6h-0.6zM399.3 424.7h0.6v0.6h-0.6zM400.5 396.1h0.6v0.6h-0.6zM409.7 425.4h0.6v0.6h-0.6zM405.1 411.9h0.6v0.6h-0.6zM405.6 422.2h0.6v0.6h-0.6zM401.1 421.8h0.6v0.6h-0.6zM396.9 417.5h0.6v0.6h-0.6zM413.6 419.9h0.6v0.6h-0.6zM409.0 409.6h0.6v0.6h-0.6zM398.9 426.0h0.6v0.6h-0.6zM403.8 405.8h0.6v0.6h-0.6zM403.5 414.1h0.6v0.6h-0.6zM390.8 417.9h0.6v0.6h-0.6zM420.6 420.0h0.6v0.6h-0.6zM405.5 416.5h0.6v0.6h-0.6zM409.0 423.9h0.6v0.6h-0.6zM401.5 417.1h0.6v0.6h-0.6zM412.0 420.7h0.6v0.6h-0.6zM406.9 425.8h0.6v0.6h-0.6zM402.6 416.3h0.6v0.6h-0.6zM407.7 418.0h0.6v0.6h-0.6zM406.5 412.1h0.6v0.6h-0.6zM413.8 419.2h0.6v0.6h-0.6zM398.1 415.9h0.6v0.6h-0.6zM409.9 419.1h0.6v0.6h-0.6zM407.7 417.3h0.6v0.6h-0.6zM409.9 410.0h0.6v0.6h-0.6zM403.6 416.9h0.6v0.6h-0.6zM408.4 418.7h0.6v0.6h-0.6zM392.8 418.6h0.6v0.6h-0.6zM415.1 410.8h0.6v0.6h-0.6zM407.9 407.0h0.6v0.6h-0.6zM400.8 413.3h0.6v0.6h-0.6zM419.4 416.6h0.6v0.6h-0.6zM394.6 408.1h0.6v0.6h-0.6zM404.1 416.8h0.6v0.6h-0.6zM407.7 413.8h0.6v0.6h-0.6zM405.4 411.0h0.6v0.6h-0.6zM412.1 422.2h0.6v0.6h-0.6zM413.9 422.6h0.6v0.6h-0.6zM406.6 413.3h0.6v0.6h-0.6zM394.5 415.6h0.6v0.6h-0.6zM400.7 427.3h0.6v0.6h-0.6zM408.3 419.4h0.6v0.6h-0.6zM421.6 407.4h0.6v0.6h-0.6zM400.3 423.0h0.6v0.6h-0.6zM404.4 413.2h0.6v0.6h-0.6zM413.0 414.2h0.6v0.6h-0.6zM414.3 419.1h0.6v0.6h-0.6zM411.0 428.2h0.6v0.6h-0.6zM403.2 427.9h0.6v0.6h-0.6zM406.6 428.4h0.6v0.6h-0.6zM411.7 424.8h0.6v0.6h-0.6zM410.2 427.5h0.6v0.6h-0.6zM415.2 413.1h0.6v0.6h-0.6zM410.9 409.7h0.6v0.6h-0.6zM408.5 415.1h0.6v0.6h-0.6zM413.0 423.5h0.6v0.6h-0.6zM398.6 411.3h0.6v0.6h-0.6zM408.3 404.8h0.6v0.6h-0.6zM404.7 411.1h0.6v0.6h-0.6zM412.1 419.5h0.6v0.6h-0.6zM396.0 405.1h0.6v0.6h-0.6zM400.1 428.7h0.6v0.6h-0.6zM408.3 415.5h0.6v0.6h-0.6zM413.6 423.8h0.6v0.6h-0.6zM411.3 413.2h0.6v0.6h-0.6zM405.4 416.8h0.6v0.6h-0.6zM403.8 428.8h0.6v0.6h-0.6zM408.6 406.4h0.6v0.6h-0.6zM414.1 407.7h0.6v0.6h-0.6zM400.0 417.1h0.6v0.6h-0.6zM410.4 426.1h0.6v0.6h-0.6zM408.9 415.3h0.6v0.6h-0.6zM408.7 419.2h0.6v0.6h-0.6zM409.5 421.0h0.6v0.6h-0.6zM392.5 415.6h0.6v0.6h-0.6zM410.6 412.1h0.6v0.6h-0.6zM415.0 416.6h0.6v0.6h-0.6zM415.5 407.7h0.6v0.6h-0.6zM404.0 427.9h0.6v0.6h-0.6zM415.2 424.3h0.6v0.6h-0.6zM395.9 409.6h0.6v0.6h-0.6zM414.5 404.2h0.6v0.6h-0.6zM396.0 404.3h0.6v0.6h-0.6zM413.4 418.0h0.6v0.6h-0.6zM406.8 412.4h0.6v0.6h-0.6zM403.7 420.0h0.6v0.6h-0.6z" fill="#4f7bc0" fill-opacity="0.6"/>
<path d="M397.3 411.0h0.6v0.6h-0.6zM401.2 409.1h0.6v0.6h-0.6zM408.4 406.2h0.6v0.6h-0.6zM401.7 410.7h0.6v0.6h-0.6zM400.5 407.7h0.6v0.6h-0.6zM406.4 416.4h0.6v0.6h-0.6zM413.6 411.6h0.6v0.6h-0.6zM403.9 408.4h0.6v0.6h-0.6zM406.1 412.1h0.6v0.6h-0.6zM411.0 406.4h0.6v0.6h-0.6zM405.3 412.2h0.6v0.6h-0.6zM407.6 407.8h0.6v0.6h-0.6zM407.4 410.9h0.6v0.6h-0.6zM406.0 414.9h0.6v0.6h-0.6zM399.2 403.0h0.6v0.6h-0.6zM410.0 403.3h0.6v0.6h-0.6zM407.0 407.6h0.6v0.6h-0.6zM409.2 400.2h0.6v0.6h-0.6zM401.7 413.0h0.6v0.6h-0.6zM402.5 411.3h0.6v0.6h-0.6zM395.9 409.4h0.6v0.6h-0.6zM408.7 407.1h0.6v0.6h-0.6zM398.4 415.6h0.6v0.6h-0.6zM401.0 411.8h0.6v0.6h-0.6zM409.9 406.8h0.6v0.6h-0.6zM404.5 405.6h0.6v0.6h-0.6zM410.6 405.6h0.6v0.6h-0.6zM406.3 410.0h0.6v0.6h-0.6zM401.1 411.7h0.6v0.6h-0.6zM399.3 411.3h0.6v0.6h-0.6zM407.2 402.1h0.6v0.6h-0.6zM397.7 413.5h0.6v0.6h-0.6zM401.8 406.4h0.6v0.6h-0.6zM412.3 405.6h0.6v0.6h-0.6zM403.1 406.3h0.6v0.6h-0.6zM403.7 406.3h0.6v0.6h-0.6zM402.9 406.3h0.6v0.6h-0.6zM403.8 406.5h0.6v0.6h-0.6zM407.4 407.2h0.6v0.6h-0.6zM403.1 408.9h0.6v0.6h-0.6zM413.0 408.5h0.6v0.6h-0.6zM407.4 403.8h0.6v0.6h-0.6zM400.9 409.5h0.6v0.6h-0.6zM406.4 407.8h0.6v0.6h-0.6zM405.8 411.7h0.6v0.6h-0.6zM401.2 412.9h0.6v0.6h-0.6zM408.7 403.7h0.6v0.6h-0.6zM399.7 408.3h0.6v0.6h-0.6zM396.4 411.1h0.6v0.6h-0.6zM403.7 410.8h0.6v0.6h-0.6zM402.4 407.3h0.6v0.6h-0.6zM412.0 408.0h0.6v0.6h-0.6zM410.4 407.2h0.6v0.6h-0.6zM405.5 405.2h0.6v0.6h-0.6zM398.3 407.9h0.6v0.6h-0.6zM401.1 411.5h0.6v0.6h-0.6zM403.9 405.6h0.6v0.6h-0.6zM406.0 405.3h0.6v0.6h-0.6zM404.6 409.0h0.6v0.6h-0.6zM401.7 413.6h0.6v0.6h-0.6zM403.7 407.4h0.6v0.6h-0.6zM403.0 408.7h0.6v0.6h-0.6zM395.0 413.2h0.6v0.6h-0.6zM406.1 411.7h0.6v0.6h-0.6zM403.0 406.5h0.6v0.6h-0.6zM396.9 409.2h0.6v0.6h-0.6zM403.7 404.5h0.6v0.6h-0.6zM401.4 408.6h0.6v0.6h-0.6zM396.4 408.4h0.6v0.6h-0.6zM400.6 409.2h0.6v0.6h-0.6zM407.9 411.4h0.6v0.6h-0.6zM406.8 412.3h0.6v0.6h-0.6zM405.2 407.1h0.6v0.6h-0.6zM409.2 410.7h0.6v0.6h-0.6zM410.7 407.6h0.6v0.6h-0.6zM397.0 407.3h0.6v0.6h-0.6zM404.6 405.0h0.6v0.6h-0.6zM401.8 412.0h0.6v0.6h-0.6zM406.1 410.8h0.6v0.6h-0.6zM408.3 407.8h0.6v0.6h-0.6zM407.3 411.4h0.6v0.6h-0.6zM405.9 408.5h0.6v0.6h-0.6zM399.8 401.1h0.6v0.6h-0.6zM398.2 405.3h0.6v0.6h-0.6zM406.2 406.6h0.6v0.6h-0.6zM403.3 410.5h0.6v0.6h-0.6zM399.0 406.7h0.6v0.6h-0.6zM406.8 407.3h0.6v0.6h-0.6zM402.7 401.6h0.6v0.6h-0.6zM400.6 405.9h0.6v0.6h-0.6zM400.2 410.4h0.6v0.6h-0.6zM400.3 402.9h0.6v0.6h-0.6zM393.6 406.6h0.6v0.6h-0.6zM402.3 408.2h0.6v0.6h-0.6zM402.1 413.0h0.6v0.6h-0.6zM409.5 407.9h0.6v0.6h-0.6zM403.7 413.1h0.6v0.6h-0.6zM394.9 410.9h0.6v0.6h-0.6zM406.4 411.0h0.6v0.6h-0.6zM397.8 414.7h0.6v0.6h-0.6zM399.7 407.7h0.6v0.6h-0.6zM406.3 406.5h0.6v0.6h-0.6zM411.0 410.0h0.6v0.6h-0.6zM406.1 406.8h0.6v0.6h-0.6zM401.4 409.4h0.6v0.6h-0.6zM409.1 411.7h0.6v0.6h-0.6zM408.4 404.6h0.6v0.6h-0.6zM412.1 411.1h0.6v0.6h-0.6zM401.7 407.0h0.6v0.6h-0.6zM402.3 405.1h0.6v0.6h-0.6zM406.8 408.2h0.6v0.6h-0.6zM400.5 404.5h0.6v0.6h-0.6zM402.1 409.3h0.6v0.6h-0.6zM408.5 404.7h0.6v0.6h-0.6zM401.9 409.5h0.6v0.6h-0.6zM401.0 413.1h0.6v0.6h-0.6zM402.7 408.8h0.6v0.6h-0.6zM405.7 401.6h0.6v0.6h-0.6zM400.9 408.6h0.6v0.6h-0.6zM402.8 409.6h0.6v0.6h-0.6zM407.8 405.2h0.6v0.6h-0.6zM396.4 410.9h0.6v0.6h-0.6zM404.3 412.8h0.6v0.6h-0.6zM409.9 404.4h0.6v0.6h-0.6zM404.0 407.1h0.6v0.6h-0.6zM410.9 407.3h0.6v0.6h-0.6zM409.6 405.0h0.6v0.6h-0.6zM408.7 408.3h0.6v0.6h-0.6zM401.0 409.1h0.6v0.6h-0.6zM402.3 408.3h0.6v0.6h-0.6zM402.6 406.7h0.6v0.6h-0.6zM406.7 409.7h0.6v0.6h-0.6zM406.0 410.7h0.6v0.6h-0.6zM398.6 410.1h0.6v0.6h-0.6zM399.6 404.6h0.6v0.6h-0.6zM403.1 412.0h0.6v0.6h-0.6zM396.3 411.7h0.6v0.6h-0.6zM403.2 405.4h0.6v0.6h-0.6zM401.9 407.1h0.6v0.6h-0.6zM404.1 403.3h0.6v0.6h-0.6zM397.6 408.8h0.6v0.6h-0.6zM406.4 405.5h0.6v0.6h-0.6zM406.2 406.7h0.6v0.6h-0.6zM401.4 404.4h0.6v0.6h-0.6zM396.1 408.6h0.6v0.6h-0.6zM403.3 410.2h0.6v0.6h-0.6zM406.3 405.9h0.6v0.6h-0.6zM399.9 406.7h0.6v0.6h-0.6zM404.7 405.7h0.6v0.6h-0.6zM409.2 406.0h0.6v0.6h-0.6zM401.9 414.3h0.6v0.6h-0.6zM401.8 411.2h0.6v0.6h-0.6zM409.4 403.2h0.6v0.6h-0.6zM396.3 411.9h0.6v0.6h-0.6zM398.7 405.1h0.6v0.6h-0.6zM400.4 409.6h0.6v0.6h-0.6zM406.1 412.6h0.6v0.6h-0.6zM403.8 409.1h0.6v0.6h-0.6zM407.9 402.5h0.6v0.6h-0.6zM410.0 406.4h0.6v0.6h-0.6zM397.8 414.6h0.6v0.6h-0.6zM397.7 407.6h0.6v0.6h-0.6zM401.4 407.3h0.6v0.6h-0.6zM403.0 411.4h0.6v0.6h-0.6zM397.9 408.7h0.6v0.6h-0.6zM400.4 409.2h0.6v0.6h-0.6zM403.4 407.2h0.6v0.6h-0.6zM403.1 413.6h0.6v0.6h-0.6zM402.0 412.0h0.6v0.6h-0.6zM403.3 411.1h0.6v0.6h-0.6zM414.8 405.7h0.6v0.6h-0.6zM403.4 416.9h0.6v0.6h-0.6zM402.6 408.3h0.6v0.6h-0.6zM406.1 405.6h0.6v0.6h-0.6zM400.5 409.6h0.6v0.6h-0.6zM401.3 403.6h0.6v0.6h-0.6zM402.8 403.9h0.6v0.6h-0.6zM402.8 412.1h0.6v0.6h-0.6zM399.8 409.4h0.6v0.6h-0.6zM405.8 407.5h0.6v0.6h-0.6zM406.1 407.6h0.6v0.6h-0.6zM395.9 407.9h0.6v0.6h-0.6zM402.9 411.0h0.6v0.6h-0.6zM401.0 405.5h0.6v0.6h-0.6zM404.1 410.5h0.6v0.6h-0.6zM402.7 408.7h0.6v0.6h-0.6zM400.9 414.4h0.6v0.6h-0.6zM406.7 409.9h0.6v0.6h-0.6zM399.4 410.4h0.6v0.6h-0.6zM398.7 406.8h0.6v0.6h-0.6zM409.0 418.0h0.6v0.6h-0.6zM407.6 433.9h0.6v0.6h-0.6zM400.9 405.8h0.6v0.6h-0.6zM404.5 414.1h0.6v0.6h-0.6zM401.2 404.5h0.6v0.6h-0.6zM416.0 411.6h0.6v0.6h-0.6zM415.2 405.4h0.6v0.6h-0.6zM412.7 407.7h0.6v0.6h-0.6zM406.2 411.6h0.6v0.6h-0.6zM404.1 412.3h0.6v0.6h-0.6zM396.6 411.8h0.6v0.6h-0.6zM407.2 412.1h0.6v0.6h-0.6zM404.3 429.1h0.6v0.6h-0.6zM403.9 411.9h0.6v0.6h-0.6zM415.4 423.9h0.6v0.6h-0.6zM414.4 418.5h0.6v0.6h-0.6zM401.9 402.9h0.6v0.6h-0.6zM417.5 417.3h0.6v0.6h-0.6zM413.9 415.5h0.6v0.6h-0.6zM407.1 415.8h0.6v0.6h-0.6zM406.5 417.1h0.6v0.6h-0.6zM407.4 411.1h0.6v0.6h-0.6zM404.5 420.4h0.6v0.6h-0.6zM398.9 417.0h0.6v0.6h-0.6zM398.8 424.6h0.6v0.6h-0.6zM411.7 421.1h0.6v0.6h-0.6zM404.9 413.2h0.6v0.6h-0.6zM407.4 415.0h0.6v0.6h-0.6zM409.4 410.0h0.6v0.6h-0.6zM418.4 416.2h0.6v0.6h-0.6zM405.1 413.6h0.6v0.6h-0.6zM411.6 413.6h0.6v0.6h-0.6zM411.3 434.4h0.6v0.6h-0.6zM411.7 420.5h0.6v0.6h-0.6zM421.3 418.6h0.6v0.6h-0.6zM392.4 410.5h0.6v0.6h-0.6zM398.1 423.8h0.6v0.6h-0.6zM399.9 415.1h0.6v0.6h-0.6zM414.3 405.1h0.6v0.6h-0.6zM402.7 419.6h0.6v0.6h-0.6zM402.6 419.3h0.6v0.6h-0.6zM406.5 413.0h0.6v0.6h-0.6zM413.3 431.1h0.6v0.6h-0.6zM413.0 414.5h0.6v0.6h-0.6zM400.6 418.4h0.6v0.6h-0.6zM412.8 426.0h0.6v0.6h-0.6zM421.2 405.0h0.6v0.6h-0.6zM414.9 414.9h0.6v0.6h-0.6zM405.7 408.0h0.6v0.6h-0.6zM395.3 417.3h0.6v0.6h-0.6zM400.4 413.8h0.6v0.6h-0.6zM402.7 426.7h0.6v0.6h-0.6zM404.2 419.6h0.6v0.6h-0.6zM401.8 412.6h0.6v0.6h-0.6zM415.8 426.6h0.6v0.6h-0.6zM410.1 409.5h0.6v0.6h-0.6zM401.0 419.3h0.6v0.6h-0.6zM409.0 415.7h0.6v0.6h-0.6zM406.1 417.8h0.6v0.6h-0.6zM409.1 403.2h0.6v0.6h-0.6zM408.0 418.4h0.6v0.6h-0.6zM406.9 408.7h0.6v0.6h-0.6zM402.5 429.9h0.6v0.6h-0.6zM413.0 405.0h0.6v0.6h-0.6zM393.4 416.4h0.6v0.6h-0.6zM413.6 405.7h0.6v0.6h-0.6zM410.0 420.6h0.6v0.6h-0.6zM410.9 421.5h0.6v0.6h-0.6zM402.6 401.5h0.6v0.6h-0.6zM409.2 431.0h0.6v0.6h-0.6zM415.5 431.8h0.6v0.6h-0.6zM403.4 414.7h0.6v0.6h-0.6zM399.9 426.0h0.6v0.6h-0.6zM416.3 412.0h0.6v0.6h-0.6zM409.3 418.3h0.6v0.6h-0.6zM399.1 406.0h0.6v0.6h-0.6zM413.9 428.1h0.6v0.6h-0.6zM406.9 416.2h0.6v0.6h-0.6zM415.1 418.2h0.6v0.6h-0.6zM413.5 424.0h0.6v0.6h-0.6zM407.1 416.2h0.6v0.6h-0.6zM409.1 415.1h0.6v0.6h-0.6zM426.4 423.1h0.6v0.6h-0.6zM399.8 410.6h0.6v0.6h-0.6zM404.5 415.0h0.6v0.6h-0.6zM405.8 426.7h0.6v0.6h-0.6zM403.9 414.1h0.6v0.6h-0.6zM407.3 414.2h0.6v0.6h-0.6zM404.0 415.3h0.6v0.6h-0.6zM409.1 414.1h0.6v0.6h-0.6zM400.4 416.9h0.6v0.6h-0.6zM407.2 418.5h0.6v0.6h-0.6zM397.1 417.2h0.6v0.6h-0.6zM399.7 415.4h0.6v0.6h-0.6zM410.0 417.5h0.6v0.6h-0.6zM424.9 410.9h0.6v0.6h-0.6zM394.2 419.1h0.6v0.6h-0.6zM408.4 426.5h0.6v0.6h-0.6zM403.9 420.0h0.6v0.6h-0.6zM389.1 420.5h0.6v0.6h-0.6zM411.0 407.1h0.6v0.6h-0.6zM412.9 410.1h0.6v0.6h-0.6zM403.7 410.8h0.6v0.6h-0.6zM408.1 406.9h0.6v0.6h-0.6zM413.1 417.5h0.6v0.6h-0.6zM412.7 409.9h0.6v0.6h-0.6zM410.8 415.9h0.6v0.6h-0.6zM400.6 422.3h0.6v0.6h-0.6zM406.7 422.7h0.6v0.6h-0.6zM407.1 421.9h0.6v0.6h-0.6zM407.3 401.1h0.6v0.6h-0.6zM403.0 406.9h0.6v0.6h-0.6zM407.7 417.0h0.6v0.6h-0.6zM410.0 428.3h0.6v0.6h-0.6zM397.9 418.3h0.6v0.6h-0.6zM404.7 420.9h0.6v0.6h-0.6zM406.0 413.0h0.6v0.6h-0.6zM408.2 412.7h0.6v0.6h-0.6zM407.6 415.2h0.6v0.6h-0.6zM411.7 411.7h0.6v0.6h-0.6zM409.2 415.3h0.6v0.6h-0.6zM412.6 427.7h0.6v0.6h-0.6zM402.6 427.5h0.6v0.6h-0.6zM411.6 415.5h0.6v0.6h-0.6zM400.3 409.1h0.6v0.6h-0.6zM408.1 413.9h0.6v0.6h-0.6zM409.9 416.9h0.6v0.6h-0.6zM411.3 412.4h0.6v0.6h-0.6zM405.8 415.7h0.6v0.6h-0.6z" fill="#4f7bc0" fill-opacity="0.6"/>
<rect x="345.7" y="387.8" width="99.69999999999999" height="98.80000000000001" fill="none" stroke="#c9c9c9" stroke-width="0.8"/>
<ellipse cx="374.3" cy="422.3" rx="37.3" ry="10.8" transform="rotate(-54.7 374.3 422.3)" fill="none" stroke="#c4504c" stroke-width="0.75"/>
<ellipse cx="406.9" cy="415.6" rx="14" ry="18.5" transform="rotate(20 406.9 415.6)" fill="none" stroke="#5b8ac8" stroke-width="0.8"/>
<line x1="343.5" y1="486.6" x2="345.7" y2="486.6" stroke="#b0b0b0" stroke-width="0.7"/>
<line x1="344.4" y1="482.08" x2="345.7" y2="482.08" stroke="#b0b0b0" stroke-width="0.7"/>
<line x1="344.4" y1="479.44" x2="345.7" y2="479.44" stroke="#b0b0b0" stroke-width="0.7"/>
<line x1="344.4" y1="477.57" x2="345.7" y2="477.57" stroke="#b0b0b0" stroke-width="0.7"/>
<line x1="344.4" y1="476.12" x2="345.7" y2="476.12" stroke="#b0b0b0" stroke-width="0.7"/>
<line x1="344.4" y1="474.93" x2="345.7" y2="474.93" stroke="#b0b0b0" stroke-width="0.7"/>
<line x1="344.4" y1="473.92" x2="345.7" y2="473.92" stroke="#b0b0b0" stroke-width="0.7"/>
<line x1="344.4" y1="473.05" x2="345.7" y2="473.05" stroke="#b0b0b0" stroke-width="0.7"/>
<line x1="344.4" y1="472.29" x2="345.7" y2="472.29" stroke="#b0b0b0" stroke-width="0.7"/>
<text x="342.5" y="489.7" font-size="7.6" fill="#222" text-anchor="end">10<tspan font-size="5.2" dy="-3.2">0</tspan></text>
<line x1="343.5" y1="471.6" x2="345.7" y2="471.6" stroke="#b0b0b0" stroke-width="0.7"/>
<line x1="344.4" y1="467.08" x2="345.7" y2="467.08" stroke="#b0b0b0" stroke-width="0.7"/>
<line x1="344.4" y1="464.44" x2="345.7" y2="464.44" stroke="#b0b0b0" stroke-width="0.7"/>
<line x1="344.4" y1="462.57" x2="345.7" y2="462.57" stroke="#b0b0b0" stroke-width="0.7"/>
<line x1="344.4" y1="461.12" x2="345.7" y2="461.12" stroke="#b0b0b0" stroke-width="0.7"/>
<line x1="344.4" y1="459.93" x2="345.7" y2="459.93" stroke="#b0b0b0" stroke-width="0.7"/>
<line x1="344.4" y1="458.92" x2="345.7" y2="458.92" stroke="#b0b0b0" stroke-width="0.7"/>
<line x1="344.4" y1="458.05" x2="345.7" y2="458.05" stroke="#b0b0b0" stroke-width="0.7"/>
<line x1="344.4" y1="457.29" x2="345.7" y2="457.29" stroke="#b0b0b0" stroke-width="0.7"/>
<text x="342.5" y="474.7" font-size="7.6" fill="#222" text-anchor="end">10<tspan font-size="5.2" dy="-3.2">1</tspan></text>
<line x1="343.5" y1="456.6" x2="345.7" y2="456.6" stroke="#b0b0b0" stroke-width="0.7"/>
<line x1="344.4" y1="452.08" x2="345.7" y2="452.08" stroke="#b0b0b0" stroke-width="0.7"/>
<line x1="344.4" y1="449.44" x2="345.7" y2="449.44" stroke="#b0b0b0" stroke-width="0.7"/>
<line x1="344.4" y1="447.57" x2="345.7" y2="447.57" stroke="#b0b0b0" stroke-width="0.7"/>
<line x1="344.4" y1="446.12" x2="345.7" y2="446.12" stroke="#b0b0b0" stroke-width="0.7"/>
<line x1="344.4" y1="444.93" x2="345.7" y2="444.93" stroke="#b0b0b0" stroke-width="0.7"/>
<line x1="344.4" y1="443.92" x2="345.7" y2="443.92" stroke="#b0b0b0" stroke-width="0.7"/>
<line x1="344.4" y1="443.05" x2="345.7" y2="443.05" stroke="#b0b0b0" stroke-width="0.7"/>
<line x1="344.4" y1="442.29" x2="345.7" y2="442.29" stroke="#b0b0b0" stroke-width="0.7"/>
<text x="342.5" y="459.7" font-size="7.6" fill="#222" text-anchor="end">10<tspan font-size="5.2" dy="-3.2">2</tspan></text>
<line x1="343.5" y1="441.6" x2="345.7" y2="441.6" stroke="#b0b0b0" stroke-width="0.7"/>
<line x1="344.4" y1="437.08" x2="345.7" y2="437.08" stroke="#b0b0b0" stroke-width="0.7"/>
<line x1="344.4" y1="434.44" x2="345.7" y2="434.44" stroke="#b0b0b0" stroke-width="0.7"/>
<line x1="344.4" y1="432.57" x2="345.7" y2="432.57" stroke="#b0b0b0" stroke-width="0.7"/>
<line x1="344.4" y1="431.12" x2="345.7" y2="431.12" stroke="#b0b0b0" stroke-width="0.7"/>
<line x1="344.4" y1="429.93" x2="345.7" y2="429.93" stroke="#b0b0b0" stroke-width="0.7"/>
<line x1="344.4" y1="428.92" x2="345.7" y2="428.92" stroke="#b0b0b0" stroke-width="0.7"/>
<line x1="344.4" y1="428.05" x2="345.7" y2="428.05" stroke="#b0b0b0" stroke-width="0.7"/>
<line x1="344.4" y1="427.29" x2="345.7" y2="427.29" stroke="#b0b0b0" stroke-width="0.7"/>
<text x="342.5" y="444.7" font-size="7.6" fill="#222" text-anchor="end">10<tspan font-size="5.2" dy="-3.2">3</tspan></text>
<line x1="343.5" y1="426.6" x2="345.7" y2="426.6" stroke="#b0b0b0" stroke-width="0.7"/>
<line x1="344.4" y1="422.08" x2="345.7" y2="422.08" stroke="#b0b0b0" stroke-width="0.7"/>
<line x1="344.4" y1="419.44" x2="345.7" y2="419.44" stroke="#b0b0b0" stroke-width="0.7"/>
<line x1="344.4" y1="417.57" x2="345.7" y2="417.57" stroke="#b0b0b0" stroke-width="0.7"/>
<line x1="344.4" y1="416.12" x2="345.7" y2="416.12" stroke="#b0b0b0" stroke-width="0.7"/>
<line x1="344.4" y1="414.93" x2="345.7" y2="414.93" stroke="#b0b0b0" stroke-width="0.7"/>
<line x1="344.4" y1="413.92" x2="345.7" y2="413.92" stroke="#b0b0b0" stroke-width="0.7"/>
<line x1="344.4" y1="413.05" x2="345.7" y2="413.05" stroke="#b0b0b0" stroke-width="0.7"/>
<line x1="344.4" y1="412.29" x2="345.7" y2="412.29" stroke="#b0b0b0" stroke-width="0.7"/>
<text x="342.5" y="429.7" font-size="7.6" fill="#222" text-anchor="end">10<tspan font-size="5.2" dy="-3.2">4</tspan></text>
<line x1="343.5" y1="411.6" x2="345.7" y2="411.6" stroke="#b0b0b0" stroke-width="0.7"/>
<line x1="344.4" y1="407.08" x2="345.7" y2="407.08" stroke="#b0b0b0" stroke-width="0.7"/>
<line x1="344.4" y1="404.44" x2="345.7" y2="404.44" stroke="#b0b0b0" stroke-width="0.7"/>
<line x1="344.4" y1="402.57" x2="345.7" y2="402.57" stroke="#b0b0b0" stroke-width="0.7"/>
<line x1="344.4" y1="401.12" x2="345.7" y2="401.12" stroke="#b0b0b0" stroke-width="0.7"/>
<line x1="344.4" y1="399.93" x2="345.7" y2="399.93" stroke="#b0b0b0" stroke-width="0.7"/>
<line x1="344.4" y1="398.92" x2="345.7" y2="398.92" stroke="#b0b0b0" stroke-width="0.7"/>
<line x1="344.4" y1="398.05" x2="345.7" y2="398.05" stroke="#b0b0b0" stroke-width="0.7"/>
<line x1="344.4" y1="397.29" x2="345.7" y2="397.29" stroke="#b0b0b0" stroke-width="0.7"/>
<text x="342.5" y="414.7" font-size="7.6" fill="#222" text-anchor="end">10<tspan font-size="5.2" dy="-3.2">5</tspan></text>
<line x1="343.5" y1="396.6" x2="345.7" y2="396.6" stroke="#b0b0b0" stroke-width="0.7"/>
<text x="342.5" y="399.7" font-size="7.6" fill="#222" text-anchor="end">10<tspan font-size="5.2" dy="-3.2">6</tspan></text>
<line x1="345.7" y1="486.6" x2="345.7" y2="488.8" stroke="#b0b0b0" stroke-width="0.7"/>
<line x1="351.65" y1="486.6" x2="351.65" y2="487.9" stroke="#b0b0b0" stroke-width="0.7"/>
<line x1="355.12" y1="486.6" x2="355.12" y2="487.9" stroke="#b0b0b0" stroke-width="0.7"/>
<line x1="357.59" y1="486.6" x2="357.59" y2="487.9" stroke="#b0b0b0" stroke-width="0.7"/>
<line x1="359.5" y1="486.6" x2="359.5" y2="487.9" stroke="#b0b0b0" stroke-width="0.7"/>
<line x1="361.07" y1="486.6" x2="361.07" y2="487.9" stroke="#b0b0b0" stroke-width="0.7"/>
<line x1="362.39" y1="486.6" x2="362.39" y2="487.9" stroke="#b0b0b0" stroke-width="0.7"/>
<line x1="363.54" y1="486.6" x2="363.54" y2="487.9" stroke="#b0b0b0" stroke-width="0.7"/>
<line x1="364.55" y1="486.6" x2="364.55" y2="487.9" stroke="#b0b0b0" stroke-width="0.7"/>
<text x="346.9" y="498.8" font-size="7.4" fill="#222" text-anchor="middle">10<tspan font-size="5" dy="-3.2">2</tspan></text>
<line x1="365.45" y1="486.6" x2="365.45" y2="488.8" stroke="#b0b0b0" stroke-width="0.7"/>
<line x1="371.4" y1="486.6" x2="371.4" y2="487.9" stroke="#b0b0b0" stroke-width="0.7"/>
<line x1="374.87" y1="486.6" x2="374.87" y2="487.9" stroke="#b0b0b0" stroke-width="0.7"/>
<line x1="377.34" y1="486.6" x2="377.34" y2="487.9" stroke="#b0b0b0" stroke-width="0.7"/>
<line x1="379.25" y1="486.6" x2="379.25" y2="487.9" stroke="#b0b0b0" stroke-width="0.7"/>
<line x1="380.82" y1="486.6" x2="380.82" y2="487.9" stroke="#b0b0b0" stroke-width="0.7"/>
<line x1="382.14" y1="486.6" x2="382.14" y2="487.9" stroke="#b0b0b0" stroke-width="0.7"/>
<line x1="383.29" y1="486.6" x2="383.29" y2="487.9" stroke="#b0b0b0" stroke-width="0.7"/>
<line x1="384.3" y1="486.6" x2="384.3" y2="487.9" stroke="#b0b0b0" stroke-width="0.7"/>
<text x="366.65" y="498.8" font-size="7.4" fill="#222" text-anchor="middle">10<tspan font-size="5" dy="-3.2">3</tspan></text>
<line x1="385.2" y1="486.6" x2="385.2" y2="488.8" stroke="#b0b0b0" stroke-width="0.7"/>
<line x1="391.15" y1="486.6" x2="391.15" y2="487.9" stroke="#b0b0b0" stroke-width="0.7"/>
<line x1="394.62" y1="486.6" x2="394.62" y2="487.9" stroke="#b0b0b0" stroke-width="0.7"/>
<line x1="397.09" y1="486.6" x2="397.09" y2="487.9" stroke="#b0b0b0" stroke-width="0.7"/>
<line x1="399" y1="486.6" x2="399" y2="487.9" stroke="#b0b0b0" stroke-width="0.7"/>
<line x1="400.57" y1="486.6" x2="400.57" y2="487.9" stroke="#b0b0b0" stroke-width="0.7"/>
<line x1="401.89" y1="486.6" x2="401.89" y2="487.9" stroke="#b0b0b0" stroke-width="0.7"/>
<line x1="403.04" y1="486.6" x2="403.04" y2="487.9" stroke="#b0b0b0" stroke-width="0.7"/>
<line x1="404.05" y1="486.6" x2="404.05" y2="487.9" stroke="#b0b0b0" stroke-width="0.7"/>
<text x="386.4" y="498.8" font-size="7.4" fill="#222" text-anchor="middle">10<tspan font-size="5" dy="-3.2">4</tspan></text>
<line x1="404.95" y1="486.6" x2="404.95" y2="488.8" stroke="#b0b0b0" stroke-width="0.7"/>
<line x1="410.9" y1="486.6" x2="410.9" y2="487.9" stroke="#b0b0b0" stroke-width="0.7"/>
<line x1="414.37" y1="486.6" x2="414.37" y2="487.9" stroke="#b0b0b0" stroke-width="0.7"/>
<line x1="416.84" y1="486.6" x2="416.84" y2="487.9" stroke="#b0b0b0" stroke-width="0.7"/>
<line x1="418.75" y1="486.6" x2="418.75" y2="487.9" stroke="#b0b0b0" stroke-width="0.7"/>
<line x1="420.32" y1="486.6" x2="420.32" y2="487.9" stroke="#b0b0b0" stroke-width="0.7"/>
<line x1="421.64" y1="486.6" x2="421.64" y2="487.9" stroke="#b0b0b0" stroke-width="0.7"/>
<line x1="422.79" y1="486.6" x2="422.79" y2="487.9" stroke="#b0b0b0" stroke-width="0.7"/>
<line x1="423.8" y1="486.6" x2="423.8" y2="487.9" stroke="#b0b0b0" stroke-width="0.7"/>
<text x="406.15" y="498.8" font-size="7.4" fill="#222" text-anchor="middle">10<tspan font-size="5" dy="-3.2">5</tspan></text>
<line x1="424.7" y1="486.6" x2="424.7" y2="488.8" stroke="#b0b0b0" stroke-width="0.7"/>
<line x1="430.65" y1="486.6" x2="430.65" y2="487.9" stroke="#b0b0b0" stroke-width="0.7"/>
<line x1="434.12" y1="486.6" x2="434.12" y2="487.9" stroke="#b0b0b0" stroke-width="0.7"/>
<line x1="436.59" y1="486.6" x2="436.59" y2="487.9" stroke="#b0b0b0" stroke-width="0.7"/>
<line x1="438.5" y1="486.6" x2="438.5" y2="487.9" stroke="#b0b0b0" stroke-width="0.7"/>
<line x1="440.07" y1="486.6" x2="440.07" y2="487.9" stroke="#b0b0b0" stroke-width="0.7"/>
<line x1="441.39" y1="486.6" x2="441.39" y2="487.9" stroke="#b0b0b0" stroke-width="0.7"/>
<line x1="442.54" y1="486.6" x2="442.54" y2="487.9" stroke="#b0b0b0" stroke-width="0.7"/>
<line x1="443.55" y1="486.6" x2="443.55" y2="487.9" stroke="#b0b0b0" stroke-width="0.7"/>
<text x="425.9" y="498.8" font-size="7.4" fill="#222" text-anchor="middle">10<tspan font-size="5" dy="-3.2">6</tspan></text>
<line x1="444.45" y1="486.6" x2="444.45" y2="488.8" stroke="#b0b0b0" stroke-width="0.7"/>
<text x="394.3" y="513" font-size="9.2" text-anchor="middle" fill="#222">Ly6C</text>
<text transform="translate(322.7 438.5) rotate(-90)" font-size="9.2" fill="#222" text-anchor="middle">F4/80</text>
<text x="420.5" y="396.5" font-size="5.2" text-anchor="start" fill="#4a6fb0" textLength="22.5" lengthAdjust="spacingAndGlyphs">Ly6C high</text>
<text x="368" y="458" font-size="5.2" text-anchor="start" fill="#b04040" textLength="19.7" lengthAdjust="spacingAndGlyphs">Ly6C low</text>
<rect x="0.5" y="0.5" width="519" height="519" fill="none" stroke="#111" stroke-width="1.4"/>
</svg></body></html>
